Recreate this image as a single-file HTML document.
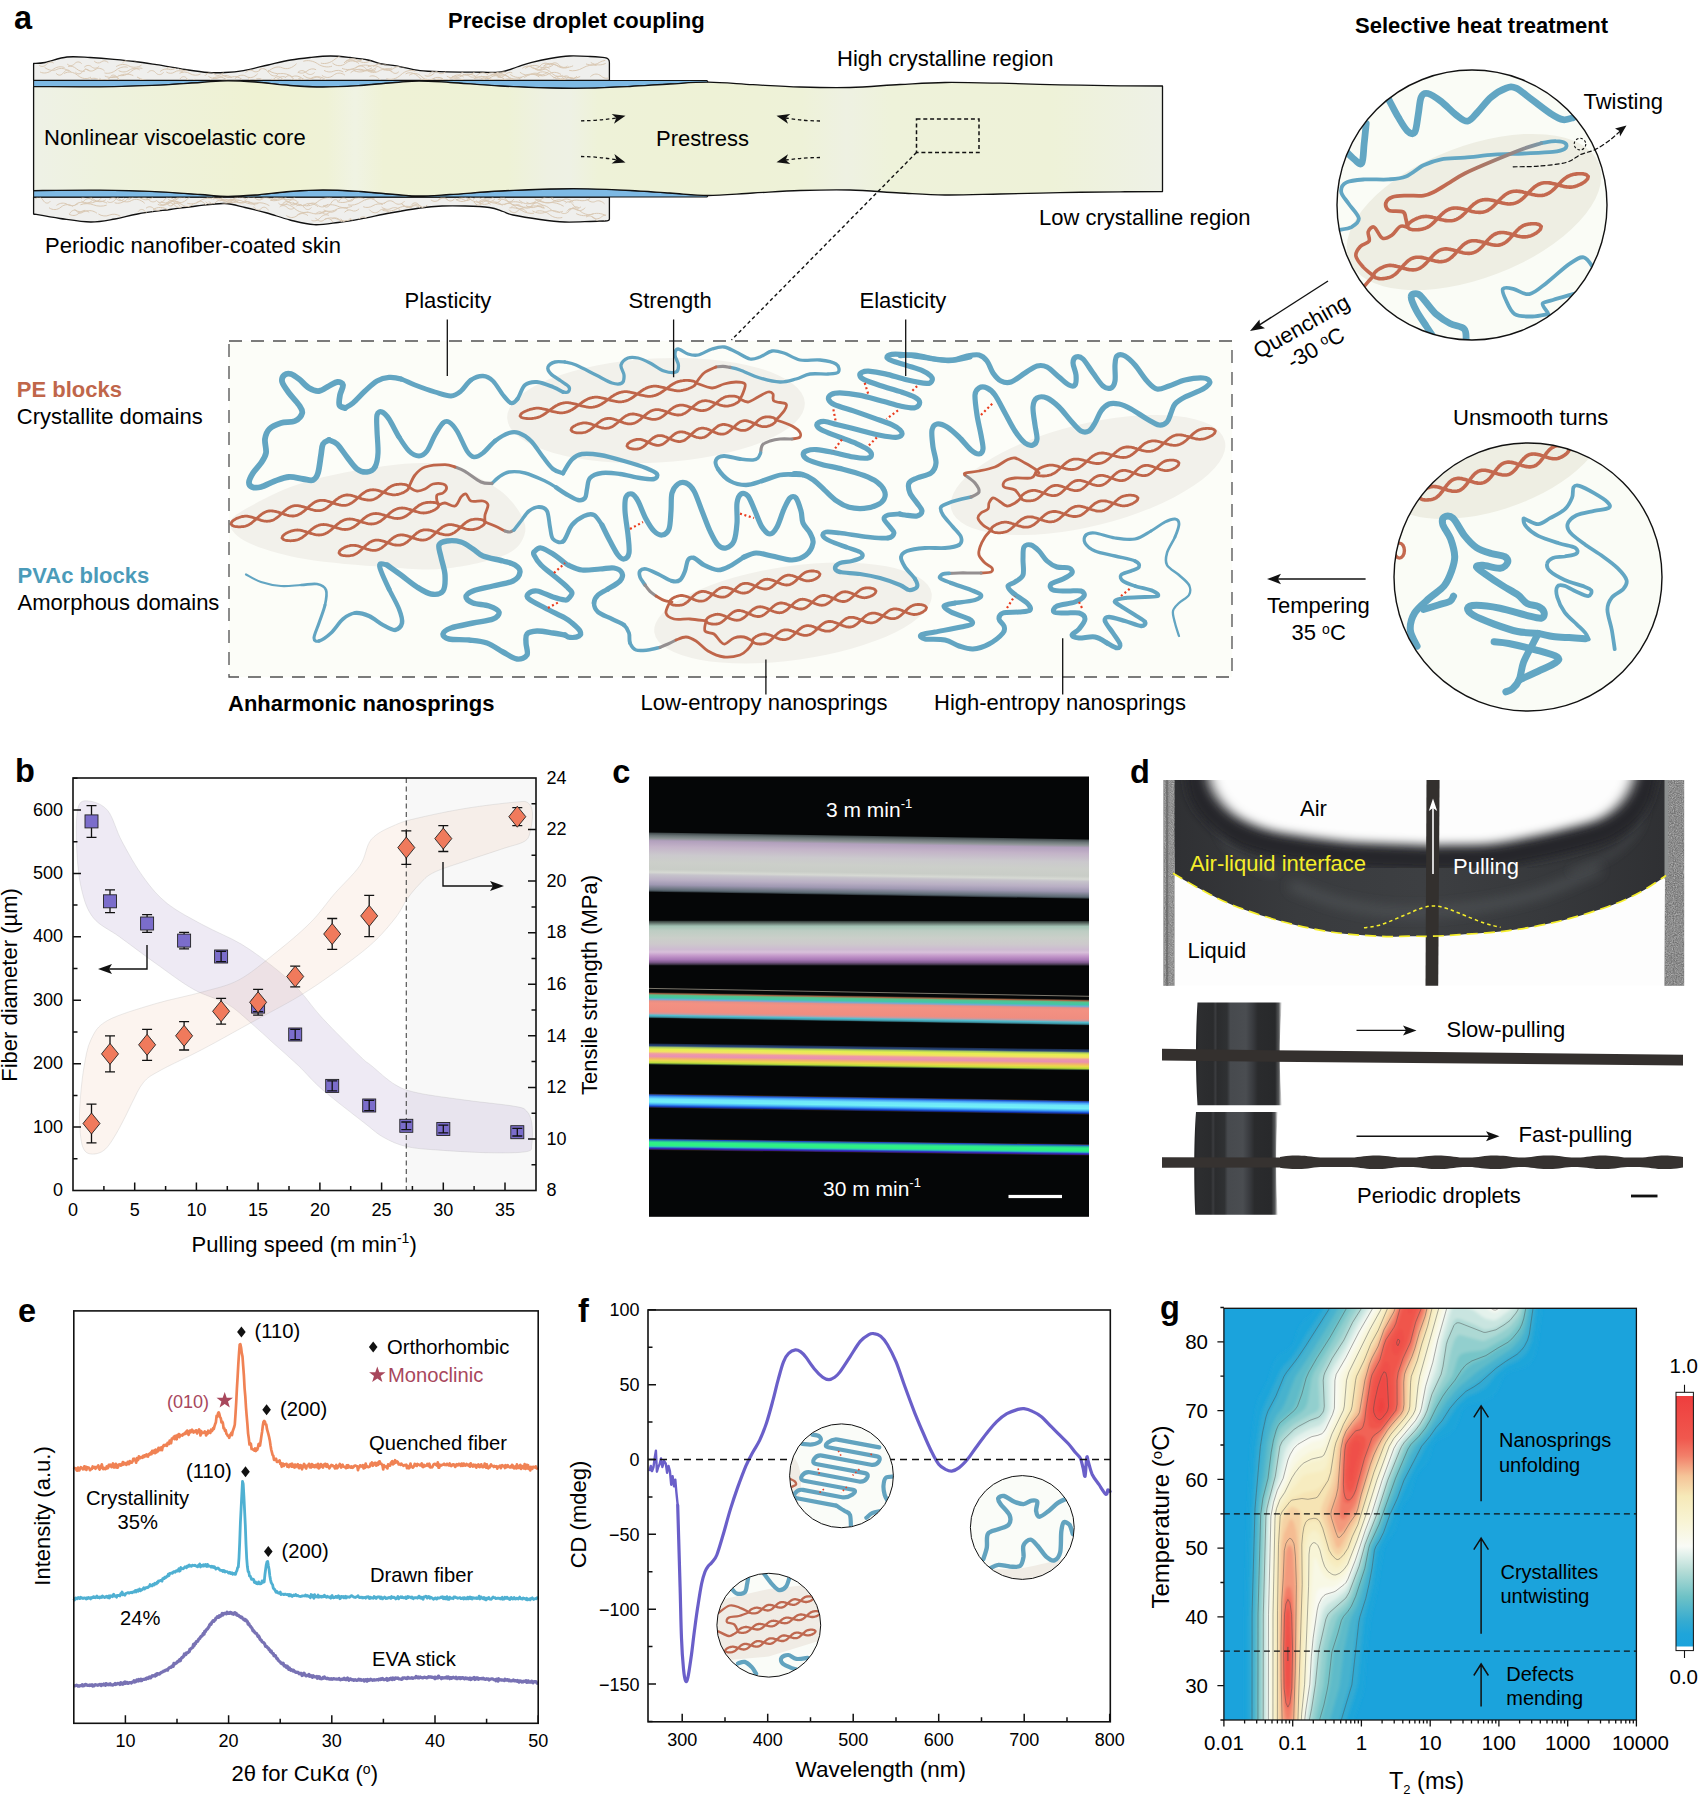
<!DOCTYPE html>
<html><head><meta charset="utf-8"><title>Figure</title>
<style>
html,body{margin:0;padding:0;background:#fff;}
svg{display:block;}
text{font-family:"Liberation Sans",sans-serif;fill:#000;}
.b{font-weight:bold;}
.lbl{font-weight:bold;font-size:32.5px;}
</style></head><body>
<svg width="1700" height="1803" viewBox="0 0 1700 1803">
<defs>

<linearGradient id="acore" x1="33" y1="0" x2="1163" y2="0" gradientUnits="userSpaceOnUse"><stop offset="0" stop-color="#eef1e6"/><stop offset="0.06" stop-color="#eef2de"/><stop offset="0.2" stop-color="#eff2d3"/><stop offset="0.26" stop-color="#eff2d6"/><stop offset="0.285" stop-color="#f0f3e3"/><stop offset="0.31" stop-color="#eff2d6"/><stop offset="0.42" stop-color="#eef2d6"/><stop offset="0.455" stop-color="#eef1e2"/><stop offset="0.475" stop-color="#eef1e4"/><stop offset="0.5" stop-color="#eef2d8"/><stop offset="0.6" stop-color="#eef2d6"/><stop offset="0.68" stop-color="#eef2d8"/><stop offset="0.72" stop-color="#eef1e2"/><stop offset="0.76" stop-color="#eef2da"/><stop offset="0.9" stop-color="#eef2d8"/><stop offset="1" stop-color="#eef1e6"/></linearGradient>
<clipPath id="askin"><path d="M33.6,63.5 C35.5,63.3,39.4,63.6,45.0,62.5 C50.6,61.4,59.5,57.8,67.0,57.0 C74.5,56.2,82.2,57.1,90.0,57.5 C97.8,57.9,106.5,58.6,114.0,59.3 C121.5,60.0,127.9,60.6,135.0,61.5 C142.1,62.4,148.2,63.4,156.5,64.7 C164.8,66.0,176.4,68.2,185.0,69.5 C193.6,70.8,201.3,72.0,208.0,72.5 C214.7,73.0,219.1,72.8,225.0,72.5 C230.9,72.2,236.3,71.8,243.5,70.6 C250.7,69.3,260.1,66.8,268.0,65.0 C275.9,63.2,283.6,61.2,290.6,60.0 C297.6,58.8,303.3,58.2,310.0,57.5 C316.7,56.8,323.9,56.0,330.6,56.0 C337.3,56.0,343.8,56.8,350.0,57.5 C356.2,58.2,362.7,58.9,368.0,60.0 C373.3,61.1,377.2,63.0,382.0,64.0 C386.8,65.0,390.2,64.8,396.5,65.9 C402.8,67.0,411.6,69.6,420.0,70.6 C428.4,71.6,437.8,71.5,447.0,71.8 C456.2,72.1,466.0,72.2,475.0,72.2 C484.0,72.2,494.0,72.7,501.0,71.8 C508.0,70.9,511.9,68.6,517.0,67.0 C522.1,65.4,526.3,63.8,531.8,62.4 C537.3,61.0,543.7,59.6,550.0,58.5 C556.3,57.4,562.7,56.3,569.4,56.0 C576.1,55.7,584.1,56.2,590.0,56.5 C595.9,56.8,602.2,57.4,604.7,57.6 L609,80.5 L33.6,80.5 Z"/><path d="M33.6,214.0 C38.0,214.8,50.5,217.2,60.0,218.5 C69.5,219.8,81.4,221.9,90.6,222.0 C99.8,222.1,107.2,220.3,115.0,219.0 C122.8,217.7,128.4,215.6,137.6,214.0 C146.8,212.4,160.2,210.8,170.0,209.5 C179.8,208.2,187.4,207.0,196.5,206.0 C205.6,205.0,216.6,203.2,224.7,203.5 C232.8,203.8,237.9,205.9,245.0,207.5 C252.1,209.1,259.5,210.9,267.0,213.0 C274.5,215.1,282.2,218.1,290.0,220.0 C297.8,221.9,306.0,224.3,314.0,224.7 C322.0,225.1,330.2,223.5,338.0,222.5 C345.8,221.5,352.3,220.4,361.0,218.8 C369.7,217.2,380.2,214.8,390.0,213.0 C399.8,211.2,411.3,209.2,420.0,208.0 C428.7,206.8,434.5,206.3,442.0,206.0 C449.5,205.7,457.1,205.8,465.0,206.0 C472.9,206.2,483.1,206.6,489.4,207.5 C495.7,208.4,499.1,210.2,503.0,211.5 C506.9,212.8,506.8,213.7,513.0,215.0 C519.2,216.3,531.4,218.3,540.0,219.5 C548.6,220.7,556.4,221.7,564.7,222.0 C573.0,222.3,583.3,221.7,590.0,221.5 C596.7,221.3,602.5,221.1,605.0,221.0 L609,197 L33.6,197 Z"/></clipPath>
<clipPath id="ac1"><circle cx="1472.0" cy="205.0" r="135.0"/></clipPath>
<clipPath id="ac2"><circle cx="1528.0" cy="577.0" r="134.0"/></clipPath>
<linearGradient id="agr1" gradientUnits="userSpaceOnUse" x1="1560" y1="140" x2="1440" y2="185"><stop offset="0" stop-color="#62a6c3"/><stop offset="0.25" stop-color="#8a8f96"/><stop offset="0.6" stop-color="#a87868"/><stop offset="1" stop-color="#c4694f"/></linearGradient>

<linearGradient id="cg0" x1="0" y1="0" x2="0" y2="1"><stop offset="0.000" stop-color="#3a4244"/><stop offset="0.050" stop-color="#6a7476"/><stop offset="0.100" stop-color="#8e9496"/><stop offset="0.140" stop-color="#b2a0bd"/><stop offset="0.240" stop-color="#c3b3c8"/><stop offset="0.380" stop-color="#cbc9cd"/><stop offset="0.500" stop-color="#cccfca"/><stop offset="0.620" stop-color="#c9cdc7"/><stop offset="0.670" stop-color="#d6d9d3"/><stop offset="0.710" stop-color="#c6c3cb"/><stop offset="0.800" stop-color="#b9afc4"/><stop offset="0.880" stop-color="#9f98b2"/><stop offset="0.930" stop-color="#7b8090"/><stop offset="0.970" stop-color="#5d6a74"/><stop offset="1.000" stop-color="#2a3238"/></linearGradient>
<linearGradient id="cg1" x1="0" y1="0" x2="0" y2="1"><stop offset="0.000" stop-color="#2c3432"/><stop offset="0.050" stop-color="#5f6f68"/><stop offset="0.120" stop-color="#a3c2b4"/><stop offset="0.220" stop-color="#bdcdc3"/><stop offset="0.380" stop-color="#cacfc9"/><stop offset="0.520" stop-color="#cdc9cc"/><stop offset="0.640" stop-color="#cdbbd1"/><stop offset="0.700" stop-color="#d8c0da"/><stop offset="0.780" stop-color="#c59acb"/><stop offset="0.870" stop-color="#a878b6"/><stop offset="0.930" stop-color="#7e5a8c"/><stop offset="0.970" stop-color="#4a3a54"/><stop offset="1.000" stop-color="#1a1820"/></linearGradient>
<linearGradient id="cg2" x1="0" y1="0" x2="0" y2="1"><stop offset="0.000" stop-color="#2a2018"/><stop offset="0.050" stop-color="#a86848"/><stop offset="0.100" stop-color="#58c08a"/><stop offset="0.200" stop-color="#3fc8a8"/><stop offset="0.270" stop-color="#7aa6d2"/><stop offset="0.330" stop-color="#e68f86"/><stop offset="0.420" stop-color="#f39182"/><stop offset="0.750" stop-color="#f08d80"/><stop offset="0.820" stop-color="#c89aa0"/><stop offset="0.880" stop-color="#55bfd0"/><stop offset="0.950" stop-color="#3a8fa0"/><stop offset="1.000" stop-color="#101818"/></linearGradient>
<linearGradient id="cg3" x1="0" y1="0" x2="0" y2="1"><stop offset="0.000" stop-color="#182848"/><stop offset="0.100" stop-color="#28467a"/><stop offset="0.170" stop-color="#a8c860"/><stop offset="0.260" stop-color="#e4f04e"/><stop offset="0.380" stop-color="#f2e064"/><stop offset="0.480" stop-color="#ee9aa4"/><stop offset="0.600" stop-color="#e890b2"/><stop offset="0.700" stop-color="#f2b070"/><stop offset="0.800" stop-color="#ecd84c"/><stop offset="0.900" stop-color="#bede3c"/><stop offset="0.960" stop-color="#4a6a30"/><stop offset="1.000" stop-color="#081018"/></linearGradient>
<linearGradient id="cg4" x1="0" y1="0" x2="0" y2="1"><stop offset="0.000" stop-color="#3a2a18"/><stop offset="0.080" stop-color="#2050c8"/><stop offset="0.200" stop-color="#46a4f8"/><stop offset="0.360" stop-color="#6fe6fa"/><stop offset="0.580" stop-color="#72f0f6"/><stop offset="0.720" stop-color="#48b4f8"/><stop offset="0.840" stop-color="#2060e0"/><stop offset="0.930" stop-color="#102890"/><stop offset="1.000" stop-color="#2a2018"/></linearGradient>
<linearGradient id="cg5" x1="0" y1="0" x2="0" y2="1"><stop offset="0.000" stop-color="#3a2a18"/><stop offset="0.080" stop-color="#2048c0"/><stop offset="0.200" stop-color="#28b0a0"/><stop offset="0.340" stop-color="#2ef088"/><stop offset="0.580" stop-color="#30f080"/><stop offset="0.700" stop-color="#2cc8b8"/><stop offset="0.820" stop-color="#3040c8"/><stop offset="0.920" stop-color="#381890"/><stop offset="1.000" stop-color="#2a2018"/></linearGradient>
<clipPath id="dclip"><rect x="1163.2" y="779.9" width="521.1" height="205.9"/></clipPath>
<filter id="dblur" x="-10%" y="-10%" width="120%" height="120%"><feGaussianBlur stdDeviation="4"/></filter><filter id="dblur3" x="-10%" y="-20%" width="120%" height="140%"><feGaussianBlur stdDeviation="6.5 4.8"/></filter>
<filter id="dblur2" x="-20%" y="-50%" width="140%" height="200%"><feGaussianBlur stdDeviation="6"/></filter>
<filter id="dnoise" x="0" y="0" width="100%" height="100%"><feTurbulence type="fractalNoise" baseFrequency="0.9" numOctaves="2" seed="3" result="n"/><feColorMatrix in="n" type="matrix" values="0 0 0 0 0.45  0 0 0 0 0.45  0 0 0 0 0.45  0.9 0.9 0.9 0 -0.95"/><feComposite in2="SourceGraphic" operator="in"/></filter>
<linearGradient id="dliq" x1="0" y1="0" x2="1" y2="0"><stop offset="0" stop-color="#2f3033"/><stop offset="0.25" stop-color="#393b3e"/><stop offset="0.5" stop-color="#3d3f42"/><stop offset="0.75" stop-color="#37393c"/><stop offset="1" stop-color="#2f3033"/></linearGradient>
<linearGradient id="dcyl" x1="0" y1="0" x2="1" y2="0"><stop offset="0" stop-color="#1d1e20"/><stop offset="0.03" stop-color="#2d2e30"/><stop offset="0.2" stop-color="#2a2b2d"/><stop offset="0.225" stop-color="#3b3c3f"/><stop offset="0.25" stop-color="#2b2c2e"/><stop offset="0.36" stop-color="#2f3133"/><stop offset="0.40" stop-color="#474a4e"/><stop offset="0.58" stop-color="#4a4d51"/><stop offset="0.66" stop-color="#393b3f"/><stop offset="0.72" stop-color="#2a2b2d"/><stop offset="0.92" stop-color="#28292b"/><stop offset="0.965" stop-color="#3a3c3e" stop-opacity="0.85"/><stop offset="1" stop-color="#777" stop-opacity="0"/></linearGradient>

<clipPath id="fc1"><circle cx="768.8" cy="1625.2" r="51.6"/></clipPath>
<clipPath id="fc2"><circle cx="841.5" cy="1475.8" r="51.6"/></clipPath>
<clipPath id="fc3"><circle cx="1022.3" cy="1527.5" r="51.6"/></clipPath>
<clipPath id="gclip"><rect x="1223.9" y="1308.3" width="412.5" height="411.7"/></clipPath>
<filter id="gblur" x="-5%" y="-5%" width="110%" height="110%"><feGaussianBlur stdDeviation="1.6"/></filter>
<linearGradient id="gcb" x1="0" y1="0" x2="0" y2="1"><stop offset="0.000" stop-color="#ee3e3e"/><stop offset="0.170" stop-color="#f0584e"/><stop offset="0.240" stop-color="#f2806a"/><stop offset="0.320" stop-color="#f5c498"/><stop offset="0.400" stop-color="#f6e9b8"/><stop offset="0.500" stop-color="#f8f4d4"/><stop offset="0.600" stop-color="#f9fbf6"/><stop offset="0.700" stop-color="#b4dcd6"/><stop offset="0.800" stop-color="#6fc2c6"/><stop offset="0.900" stop-color="#35abd1"/><stop offset="0.950" stop-color="#1fa5da"/><stop offset="1.000" stop-color="#1ba3dc"/></linearGradient>
</defs>
<rect x="0" y="0" width="1700" height="1803" fill="#ffffff"/>
<g id="pa2">
<rect x="229" y="341" width="1003" height="336" fill="#fcfdf8"/>
<path d="M230.0,524.0 C230.0,518.0,236.5,514.0,249.0,507.0 C261.5,500.0,282.3,488.8,305.0,482.0 C327.7,475.2,361.7,468.8,385.0,466.0 C408.3,463.2,426.7,461.5,445.0,465.0 C463.3,468.5,482.5,479.0,495.0,487.0 C507.5,495.0,515.1,505.0,520.0,513.0 C524.9,521.0,526.9,528.0,524.4,535.0 C521.9,542.0,518.2,549.4,505.0,555.0 C491.8,560.6,465.0,566.6,445.0,568.6 C425.0,570.6,408.3,568.6,385.0,567.0 C361.7,565.4,327.7,563.0,305.0,559.0 C282.3,555.0,261.5,548.8,249.0,543.0 C236.5,537.2,230.0,530.0,230.0,524.0Z" fill="#f2f1eb"/>
<ellipse cx="656" cy="410.5" rx="149" ry="52" fill="#f2f1eb" transform="rotate(-3 656 410.5)"/>
<ellipse cx="793" cy="613" rx="140" ry="47" fill="#f2f1eb" transform="rotate(-8 793 613)"/>
<ellipse cx="1088" cy="475" rx="141" ry="51" fill="#f2f1eb" transform="rotate(-14 1088 475)"/>
<path d="M563.0,392.0 C561.3,391.2 557.3,388.7 553.0,387.0 C548.7,385.3 541.7,382.3 537.0,382.0 C532.3,381.7 528.3,382.2 525.0,385.0 C521.7,387.8 519.7,396.0 517.4,399.0" fill="none" stroke="#62a5c2" stroke-width="3.9" stroke-linecap="round" stroke-linejoin="round"/>
<path d="M517.4,399.0 C515.1,402.0 513.4,403.7 511.0,403.0 C508.6,402.3 506.0,398.7 503.0,395.0 C500.0,391.3 496.3,384.2 493.0,381.0 C489.7,377.8 486.7,376.2 483.0,376.0 C479.3,375.8 474.7,377.5 471.0,380.0" fill="none" stroke="#62a5c2" stroke-width="4.3" stroke-linecap="round" stroke-linejoin="round"/>
<path d="M471.0,380.0 C467.3,382.5 464.3,388.3 461.0,391.0 C457.7,393.7 455.3,395.8 451.0,396.0 C446.7,396.2 441.0,393.8 435.0,392.0 C429.0,390.2 420.7,387.2 415.0,385.0 C409.3,382.8 405.3,380.3 401.0,379.0" fill="none" stroke="#62a5c2" stroke-width="4.8" stroke-linecap="round" stroke-linejoin="round"/>
<path d="M401.0,379.0 C396.7,377.7 393.0,377.1 389.0,377.4 C385.0,377.7 381.0,378.7 377.0,381.0 C373.0,383.3 369.0,387.3 365.0,391.0 C361.0,394.7 356.3,400.2 353.0,403.0 C349.7,405.8 346.3,407.2 345.0,408.0" fill="none" stroke="#62a5c2" stroke-width="5.3" stroke-linecap="round" stroke-linejoin="round"/>
<path d="M345.0,408.0 C344.1,407.5,340.2,407.2,339.4,405.0 C338.6,402.8,339.4,398.3,340.0,395.0 C340.6,391.7,343.4,387.2,343.0,385.0 C342.6,382.8,339.7,381.8,337.4,382.0 C335.1,382.2,332.1,384.5,329.0,386.0 C325.9,387.5,322.3,390.7,319.0,391.0 C315.7,391.3,312.3,390.0,309.0,388.0 C305.7,386.0,302.0,381.3,299.0,379.0 C296.0,376.7,293.4,374.7,291.0,374.0 C288.6,373.3,285.9,373.7,284.4,375.0 C282.9,376.3,281.4,379.0,282.2,382.0 C283.0,385.0,286.2,389.2,289.0,393.0 C291.8,396.8,296.8,401.7,299.0,405.0 C301.2,408.3,302.9,410.3,302.2,413.0 C301.5,415.7,298.5,419.3,295.0,421.0 C291.5,422.7,285.3,421.7,281.0,423.0 C276.7,424.3,272.1,426.3,269.4,429.0 C266.7,431.7,265.6,435.0,265.0,439.0 C264.4,443.0,266.7,449.0,266.0,453.0 C265.3,457.0,263.2,459.7,261.0,463.0 C258.8,466.3,255.0,469.8,253.0,473.0 C251.0,476.2,249.2,479.7,249.0,482.0 C248.8,484.3,250.0,486.2,252.0,487.0 C254.0,487.8,257.2,488.0,261.0,487.0 C264.8,486.0,270.3,482.7,275.0,481.0 C279.7,479.3,284.3,477.3,289.0,477.0 C293.7,476.7,299.0,478.5,303.0,479.0 C307.0,479.5,310.5,481.0,313.0,480.0 C315.5,479.0,316.7,477.2,318.0,473.0 C319.3,468.8,320.2,459.8,321.0,455.0 C321.8,450.2,321.7,446.5,323.0,444.0 C324.3,441.5,328.0,440.7,329.0,440.0" fill="none" stroke="#62a5c2" stroke-width="5.8" stroke-linecap="round" stroke-linejoin="round" />
<path d="M329.0,440.0 C330.3,440.7 334.0,441.2 337.0,444.0 C340.0,446.8 343.7,452.8 347.0,457.0 C350.3,461.2 353.7,466.5 357.0,469.0 C360.3,471.5 364.0,472.3 367.0,472.0 C370.0,471.7 373.2,470.2 375.0,467.0" fill="none" stroke="#62a5c2" stroke-width="5.5" stroke-linecap="round" stroke-linejoin="round"/>
<path d="M375.0,467.0 C376.8,463.8 377.7,459.0 378.0,453.0 C378.3,447.0 377.2,437.3 377.0,431.0 C376.8,424.7 376.2,418.2 377.0,415.0 C377.8,411.8 380.0,411.3 382.0,412.0 C384.0,412.7 386.2,414.8 389.0,419.0 C391.8,423.2 395.7,431.7 399.0,437.0" fill="none" stroke="#62a5c2" stroke-width="5.2" stroke-linecap="round" stroke-linejoin="round"/>
<path d="M399.0,437.0 C402.3,442.3 405.7,447.8 409.0,451.0 C412.3,454.2 416.0,456.0 419.0,456.0 C422.0,456.0 424.3,454.5 427.0,451.0 C429.7,447.5 432.3,439.7 435.0,435.0 C437.7,430.3 440.7,425.2 443.0,423.0" fill="none" stroke="#62a5c2" stroke-width="4.9" stroke-linecap="round" stroke-linejoin="round"/>
<path d="M443.0,423.0 C445.3,420.8 446.7,420.7 449.0,422.0 C451.3,423.3 454.0,426.2 457.0,431.0 C460.0,435.8 464.2,446.7 467.0,451.0 C469.8,455.3 471.3,456.7 474.0,457.0 C476.7,457.3 479.5,455.7 483.0,453.0 C486.5,450.3 490.7,444.3 495.0,441.0" fill="none" stroke="#62a5c2" stroke-width="4.6" stroke-linecap="round" stroke-linejoin="round"/>
<path d="M495.0,441.0 C499.3,437.7 505.0,434.3 509.0,433.0 C513.0,431.7 515.3,431.7 519.0,433.0 C522.7,434.3 527.0,437.0 531.0,441.0 C535.0,445.0 539.3,452.3 543.0,457.0 C546.7,461.7 549.7,466.3 553.0,469.0 C556.3,471.7 561.3,472.7 563.0,473.4" fill="none" stroke="#62a5c2" stroke-width="4.3" stroke-linecap="round" stroke-linejoin="round"/>
<path d="M563.0,392.0 C563.8,392.0,567.0,392.8,568.0,392.0 C569.0,391.2,570.2,388.8,569.0,387.0 C567.8,385.2,564.0,383.2,561.0,381.0 C558.0,378.8,553.2,376.3,551.0,374.0 C548.8,371.7,547.3,369.0,548.0,367.0 C548.7,365.0,552.2,362.8,555.0,362.0 C557.8,361.2,563.3,362.0,565.0,362.0" fill="none" stroke="#62a5c2" stroke-width="3.4" stroke-linecap="round" stroke-linejoin="round" />
<path d="M565.0,362.0 C566.8,362.5,570.8,362.8,576.0,365.0 C581.2,367.2,590.0,372.0,596.0,375.0 C602.0,378.0,607.7,381.7,612.0,383.0 C616.3,384.3,620.0,384.3,622.0,383.0 C624.0,381.7,624.2,378.0,624.0,375.0 C623.8,372.0,620.3,367.8,621.0,365.0 C621.7,362.2,625.2,359.2,628.0,358.0 C630.8,356.8,634.3,357.2,638.0,358.0 C641.7,358.8,645.7,360.8,650.0,363.0 C654.3,365.2,659.7,369.5,664.0,371.0 C668.3,372.5,673.6,373.0,676.0,372.0 C678.4,371.0,678.6,367.8,678.4,365.0 C678.2,362.2,675.1,357.7,675.0,355.0 C674.9,352.3,675.8,349.2,678.0,349.0 C680.2,348.8,684.7,353.0,688.0,354.0 C691.3,355.0,694.0,355.8,698.0,355.0 C702.0,354.2,707.7,350.3,712.0,349.0 C716.3,347.7,720.0,346.5,724.0,347.0 C728.0,347.5,731.7,350.0,736.0,352.0 C740.3,354.0,746.0,358.2,750.0,359.0 C754.0,359.8,756.3,358.3,760.0,357.0 C763.7,355.7,768.0,351.7,772.0,351.0 C776.0,350.3,779.3,351.5,784.0,353.0 C788.7,354.5,794.0,358.8,800.0,360.0 C806.0,361.2,814.0,359.3,820.0,360.0 C826.0,360.7,832.9,362.0,836.0,364.0 C839.1,366.0,839.7,370.3,838.4,372.0 C837.1,373.7,832.7,373.7,828.0,374.0 C823.3,374.3,815.3,373.2,810.0,374.0 C804.7,374.8,801.0,377.7,796.0,379.0 C791.0,380.3,786.0,382.2,780.0,382.0 C774.0,381.8,766.7,380.0,760.0,378.0 C753.3,376.0,745.0,371.8,740.0,370.0 C735.0,368.2,731.7,367.8,730.0,367.4" fill="none" stroke="#62a5c2" stroke-width="3.3" stroke-linecap="round" stroke-linejoin="round" />
<path d="M730.0,367.4 C728.8,367.2,725.3,366.5,723.0,366.4 C720.7,366.3,717.2,366.9,716.0,367.0" fill="none" stroke="#948f90" stroke-width="3.1" stroke-linecap="round" stroke-linejoin="round" />
<path d="M716.0,367.0 C714.0,368.0,707.3,370.3,704.0,373.0 C700.7,375.7,697.3,381.3,696.0,383.0" fill="none" stroke="#bf6549" stroke-width="2.8" stroke-linecap="round" stroke-linejoin="round" />
<path d="M563.0,473.0 C564.5,470.7,568.8,462.6,572.0,459.4 C575.2,456.2,577.3,454.7,582.0,454.0 C586.7,453.3,593.0,453.8,600.0,455.0 C607.0,456.2,616.3,458.8,624.0,461.0 C631.7,463.2,640.5,465.8,646.0,468.0 C651.5,470.2,655.7,472.2,657.0,474.0 C658.3,475.8,656.8,478.3,654.0,479.0 C651.2,479.7,645.7,478.8,640.0,478.0 C634.3,477.2,626.3,474.8,620.0,474.0 C613.7,473.2,607.0,472.3,602.0,473.0 C597.0,473.7,592.5,475.3,590.0,478.0 C587.5,480.7,587.8,485.7,587.0,489.0 C586.2,492.3,586.5,496.2,585.0,498.0 C583.5,499.8,581.2,500.7,578.0,500.0 C574.8,499.3,569.7,496.1,566.0,494.0 C562.3,491.9,557.7,488.5,556.0,487.4" fill="none" stroke="#62a5c2" stroke-width="4.4" stroke-linecap="round" stroke-linejoin="round" />
<path d="M556.0,487.4 C554.2,486.3,550.2,483.4,545.0,481.0 C539.8,478.6,531.0,474.5,525.0,473.0 C519.0,471.5,513.3,471.3,509.0,472.0 C504.7,472.7,501.8,475.1,499.0,477.0 C496.2,478.9,493.2,482.3,492.0,483.4" fill="none" stroke="#62a5c2" stroke-width="3.4" stroke-linecap="round" stroke-linejoin="round" />
<path d="M492.0,483.4 C490.2,483.2,485.5,484.0,481.0,482.0 C476.5,480.0,469.3,473.9,465.0,471.4 C460.7,468.9,456.7,467.7,455.0,467.0" fill="none" stroke="#948f90" stroke-width="3.1" stroke-linecap="round" stroke-linejoin="round" />
<path d="M455.0,467.0 C453.3,466.6,450.0,464.6,445.0,464.6 C440.0,464.6,430.0,465.3,425.0,467.0 C420.0,468.7,417.7,471.7,415.0,475.0 C412.3,478.3,410.0,485.0,409.0,487.0" fill="none" stroke="#bf6549" stroke-width="2.8" stroke-linecap="round" stroke-linejoin="round" />
<path d="M231.0,524.0 L232.4,525.5 L233.6,526.1 L234.8,526.4 L236.0,526.6 L237.1,526.7 L238.2,526.8 L239.3,526.8 L240.4,526.8 L241.5,526.7 L242.6,526.6 L243.7,526.5 L244.7,526.3 L245.8,526.0 L246.8,525.6 L247.8,525.2 L248.8,524.7 L249.8,524.1 L250.8,523.5 L251.8,522.8 L252.7,522.0 L253.6,521.2 L254.6,520.4 L255.5,519.6 L256.4,518.7 L257.4,517.9 L258.3,517.0 L259.2,516.2 L260.2,515.4 L261.1,514.6 L262.1,513.9 L263.0,513.3 L264.0,512.7 L265.0,512.2 L266.0,511.8 L267.1,511.4 L268.1,511.2 L269.2,511.0 L270.3,510.9 L271.4,510.9 L272.5,511.0 L273.6,511.1 L274.8,511.3 L275.9,511.5 L277.1,511.9 L278.3,512.2 L279.5,512.6 L280.7,513.0 L281.9,513.4 L283.0,513.8 L284.2,514.3 L285.4,514.6 L286.6,515.0 L287.8,515.3 L288.9,515.6 L290.1,515.8 L291.2,515.9 L292.3,516.0 L293.4,516.0 L294.5,515.9 L295.6,515.7 L296.6,515.4 L297.7,515.1 L298.7,514.6 L299.7,514.1 L300.7,513.6 L301.6,512.9 L302.6,512.2 L303.6,511.5 L304.5,510.7 L305.4,509.9 L306.4,509.0 L307.3,508.1 L308.2,507.3 L309.1,506.4 L310.1,505.6 L311.0,504.8 L312.0,504.1 L312.9,503.4 L313.9,502.7 L314.9,502.1 L315.9,501.6 L316.9,501.2 L317.9,500.9 L319.0,500.6 L320.1,500.4 L321.1,500.3 L322.2,500.3 L323.4,500.4 L324.5,500.5 L325.6,500.7 L326.8,501.0 L328.0,501.3 L329.1,501.6 L330.3,502.0 L331.5,502.4 L332.7,502.9 L333.9,503.3 L335.1,503.7 L336.3,504.1 L337.5,504.4 L338.6,504.7 L339.8,505.0 L340.9,505.2 L342.1,505.3 L343.2,505.4 L344.3,505.4 L345.4,505.3 L346.4,505.1 L347.5,504.8 L348.5,504.5 L349.5,504.1 L350.5,503.6 L351.5,503.0 L352.5,502.4 L353.5,501.7 L354.4,500.9 L355.4,500.1 L356.3,499.3 L357.2,498.4 L358.1,497.6 L359.1,496.7 L360.0,495.9 L360.9,495.0 L361.9,494.2 L362.8,493.5 L363.8,492.8 L364.8,492.1 L365.7,491.6 L366.7,491.1 L367.8,490.6 L368.8,490.3 L369.8,490.0 L370.9,489.9 L372.0,489.8 L373.1,489.7 L374.2,489.8 L375.3,489.9 L376.5,490.1 L377.7,490.4 L378.8,490.7 L380.0,491.1 L381.2,491.5 L382.4,491.9 L383.6,492.3 L384.8,492.7 L386.0,493.1 L387.1,493.5 L388.3,493.9 L389.5,494.2 L390.6,494.4 L391.8,494.6 L392.9,494.8 L394.0,494.8 L395.1,494.8 L396.2,494.7 L397.3,494.5 L398.4,494.3 L399.4,494.0 L400.4,493.7 L401.5,493.3 L402.5,492.9 L403.5,492.4 L404.5,491.9 L405.5,491.3 L406.5,490.7 L407.4,489.9 L408.3,489.0 L409.0,487.0 M231.0,524.0 L231.7,522.0 L232.6,521.1 L233.5,520.3 L234.5,519.7 L235.5,519.1 L236.5,518.6 L237.5,518.1 L238.5,517.7 L239.6,517.3 L240.6,517.0 L241.6,516.7 L242.7,516.5 L243.8,516.3 L244.9,516.2 L246.0,516.2 L247.1,516.2 L248.2,516.4 L249.4,516.6 L250.5,516.8 L251.7,517.1 L252.9,517.5 L254.0,517.9 L255.2,518.3 L256.4,518.7 L257.6,519.1 L258.8,519.5 L260.0,519.9 L261.2,520.3 L262.3,520.6 L263.5,520.9 L264.7,521.1 L265.8,521.2 L266.9,521.3 L268.0,521.2 L269.1,521.1 L270.2,521.0 L271.2,520.7 L272.2,520.4 L273.3,519.9 L274.3,519.4 L275.2,518.9 L276.2,518.2 L277.2,517.5 L278.1,516.8 L279.1,516.0 L280.0,515.1 L280.9,514.3 L281.9,513.4 L282.8,512.6 L283.7,511.7 L284.6,510.9 L285.6,510.1 L286.5,509.3 L287.5,508.6 L288.5,508.0 L289.5,507.4 L290.5,506.9 L291.5,506.5 L292.5,506.2 L293.6,505.9 L294.6,505.7 L295.7,505.6 L296.8,505.6 L297.9,505.7 L299.1,505.8 L300.2,506.0 L301.4,506.3 L302.5,506.6 L303.7,506.9 L304.9,507.3 L306.1,507.7 L307.3,508.1 L308.5,508.6 L309.7,509.0 L310.9,509.4 L312.0,509.7 L313.2,510.0 L314.4,510.3 L315.5,510.5 L316.6,510.6 L317.8,510.7 L318.9,510.7 L319.9,510.6 L321.0,510.4 L322.1,510.1 L323.1,509.8 L324.1,509.4 L325.1,508.9 L326.1,508.3 L327.1,507.6 L328.0,506.9 L329.0,506.2 L329.9,505.4 L330.9,504.6 L331.8,503.7 L332.7,502.9 L333.6,502.0 L334.6,501.1 L335.5,500.3 L336.4,499.5 L337.4,498.8 L338.4,498.1 L339.3,497.4 L340.3,496.9 L341.3,496.4 L342.3,495.9 L343.4,495.6 L344.4,495.3 L345.5,495.1 L346.6,495.0 L347.7,495.0 L348.8,495.1 L349.9,495.2 L351.1,495.4 L352.2,495.7 L353.4,496.0 L354.6,496.4 L355.8,496.7 L357.0,497.2 L358.1,497.6 L359.3,498.0 L360.5,498.4 L361.7,498.8 L362.9,499.1 L364.1,499.5 L365.2,499.7 L366.4,499.9 L367.5,500.0 L368.6,500.1 L369.7,500.1 L370.8,500.0 L371.9,499.8 L372.9,499.6 L374.0,499.2 L375.0,498.8 L376.0,498.3 L377.0,497.7 L377.9,497.1 L378.9,496.4 L379.8,495.6 L380.8,494.8 L381.7,494.0 L382.6,493.1 L383.6,492.3 L384.5,491.4 L385.4,490.6 L386.4,489.8 L387.3,489.0 L388.2,488.2 L389.2,487.5 L390.2,486.9 L391.2,486.3 L392.2,485.8 L393.2,485.4 L394.2,485.0 L395.3,484.7 L396.3,484.5 L397.4,484.4 L398.5,484.3 L399.6,484.2 L400.7,484.2 L401.8,484.2 L402.9,484.3 L404.0,484.4 L405.2,484.6 L406.4,484.9 L407.6,485.5 L409.0,487.0" fill="none" stroke="#bf6549" stroke-width="2.8" stroke-linecap="round" stroke-linejoin="round"/>
<path d="M282.0,538.0 L283.5,539.5 L284.7,540.0 L285.9,540.3 L287.1,540.5 L288.3,540.7 L289.4,540.7 L290.5,540.8 L291.7,540.7 L292.8,540.6 L293.9,540.5 L295.0,540.4 L296.1,540.1 L297.2,539.9 L298.3,539.5 L299.3,539.1 L300.3,538.6 L301.4,538.0 L302.4,537.3 L303.3,536.6 L304.3,535.9 L305.3,535.1 L306.3,534.2 L307.2,533.4 L308.2,532.5 L309.1,531.6 L310.1,530.8 L311.0,529.9 L312.0,529.1 L313.0,528.4 L314.0,527.7 L315.0,527.0 L316.0,526.4 L317.0,525.9 L318.1,525.5 L319.1,525.1 L320.2,524.9 L321.3,524.7 L322.4,524.6 L323.6,524.5 L324.7,524.6 L325.9,524.7 L327.1,524.9 L328.3,525.2 L329.5,525.5 L330.7,525.8 L331.9,526.2 L333.1,526.6 L334.3,527.0 L335.6,527.4 L336.8,527.8 L338.0,528.2 L339.2,528.5 L340.4,528.8 L341.6,529.1 L342.8,529.3 L343.9,529.4 L345.1,529.5 L346.2,529.4 L347.3,529.3 L348.4,529.1 L349.5,528.9 L350.6,528.5 L351.6,528.1 L352.7,527.6 L353.7,527.0 L354.7,526.3 L355.7,525.6 L356.7,524.9 L357.6,524.1 L358.6,523.2 L359.5,522.4 L360.5,521.5 L361.5,520.6 L362.4,519.8 L363.4,518.9 L364.3,518.1 L365.3,517.4 L366.3,516.7 L367.3,516.0 L368.3,515.4 L369.4,514.9 L370.4,514.5 L371.5,514.1 L372.6,513.9 L373.7,513.7 L374.8,513.6 L375.9,513.5 L377.1,513.6 L378.2,513.7 L379.4,513.9 L380.6,514.2 L381.8,514.5 L383.0,514.8 L384.2,515.2 L385.4,515.6 L386.7,516.0 L387.9,516.4 L389.1,516.8 L390.3,517.2 L391.5,517.5 L392.7,517.8 L393.9,518.1 L395.1,518.3 L396.3,518.4 L397.4,518.5 L398.6,518.4 L399.7,518.3 L400.8,518.1 L401.9,517.9 L402.9,517.5 L404.0,517.1 L405.0,516.6 L406.0,516.0 L407.0,515.3 L408.0,514.6 L409.0,513.9 L410.0,513.1 L410.9,512.2 L411.9,511.4 L412.8,510.5 L413.8,509.6 L414.7,508.8 L415.7,507.9 L416.7,507.1 L417.7,506.4 L418.6,505.7 L419.6,505.0 L420.7,504.4 L421.7,503.9 L422.7,503.5 L423.8,503.1 L424.9,502.9 L426.0,502.6 L427.1,502.5 L428.2,502.4 L429.3,502.3 L430.5,502.2 L431.6,502.3 L432.7,502.3 L433.9,502.5 L435.1,502.7 L436.3,503.0 L437.5,503.5 L439.0,505.0 M282.0,538.0 L282.7,536.0 L283.7,535.1 L284.6,534.3 L285.6,533.6 L286.6,533.0 L287.7,532.5 L288.7,532.0 L289.8,531.6 L290.8,531.2 L291.9,530.9 L293.0,530.6 L294.1,530.4 L295.2,530.2 L296.3,530.1 L297.4,530.0 L298.6,530.1 L299.7,530.2 L300.9,530.4 L302.1,530.7 L303.3,531.0 L304.5,531.3 L305.7,531.7 L306.9,532.1 L308.2,532.5 L309.4,532.9 L310.6,533.3 L311.8,533.7 L313.0,534.0 L314.2,534.3 L315.4,534.6 L316.6,534.8 L317.8,534.9 L318.9,535.0 L320.1,534.9 L321.2,534.8 L322.3,534.6 L323.4,534.4 L324.4,534.0 L325.5,533.6 L326.5,533.1 L327.5,532.5 L328.5,531.8 L329.5,531.1 L330.5,530.4 L331.5,529.6 L332.4,528.7 L333.4,527.9 L334.3,527.0 L335.3,526.1 L336.2,525.3 L337.2,524.4 L338.2,523.6 L339.2,522.9 L340.1,522.2 L341.1,521.5 L342.2,520.9 L343.2,520.4 L344.2,520.0 L345.3,519.6 L346.4,519.4 L347.5,519.2 L348.6,519.1 L349.7,519.0 L350.9,519.1 L352.1,519.2 L353.2,519.4 L354.4,519.7 L355.6,520.0 L356.8,520.3 L358.1,520.7 L359.3,521.1 L360.5,521.5 L361.7,521.9 L362.9,522.3 L364.2,522.7 L365.4,523.0 L366.6,523.3 L367.8,523.6 L368.9,523.8 L370.1,523.9 L371.3,524.0 L372.4,523.9 L373.5,523.8 L374.6,523.6 L375.7,523.4 L376.8,523.0 L377.8,522.6 L378.8,522.1 L379.9,521.5 L380.9,520.8 L381.8,520.1 L382.8,519.4 L383.8,518.6 L384.8,517.7 L385.7,516.9 L386.7,516.0 L387.6,515.1 L388.6,514.3 L389.5,513.4 L390.5,512.6 L391.5,511.9 L392.5,511.2 L393.5,510.5 L394.5,509.9 L395.5,509.4 L396.6,509.0 L397.6,508.6 L398.7,508.4 L399.8,508.2 L400.9,508.1 L402.1,508.0 L403.2,508.1 L404.4,508.2 L405.6,508.4 L406.8,508.7 L408.0,509.0 L409.2,509.3 L410.4,509.7 L411.6,510.1 L412.8,510.5 L414.1,510.9 L415.3,511.3 L416.5,511.7 L417.7,512.0 L418.9,512.3 L420.1,512.6 L421.3,512.8 L422.4,512.9 L423.6,513.0 L424.7,512.9 L425.8,512.8 L426.9,512.6 L428.0,512.4 L429.1,512.1 L430.2,511.8 L431.2,511.4 L432.3,511.0 L433.3,510.5 L434.4,510.0 L435.4,509.4 L436.4,508.7 L437.3,507.9 L438.3,507.0 L439.0,505.0" fill="none" stroke="#bf6549" stroke-width="2.8" stroke-linecap="round" stroke-linejoin="round"/>
<path d="M339.0,553.0 L340.4,554.6 L341.6,555.1 L342.7,555.4 L343.8,555.6 L344.9,555.7 L346.0,555.8 L347.0,555.8 L348.1,555.8 L349.1,555.8 L350.2,555.7 L351.2,555.5 L352.2,555.3 L353.2,555.1 L354.2,554.7 L355.2,554.3 L356.1,553.8 L357.1,553.2 L358.0,552.6 L358.9,551.9 L359.8,551.1 L360.7,550.4 L361.6,549.5 L362.5,548.7 L363.3,547.8 L364.2,547.0 L365.1,546.1 L366.0,545.3 L366.9,544.5 L367.8,543.8 L368.7,543.1 L369.6,542.4 L370.5,541.9 L371.5,541.4 L372.5,541.0 L373.5,540.6 L374.5,540.4 L375.5,540.2 L376.5,540.1 L377.6,540.1 L378.7,540.2 L379.7,540.3 L380.8,540.5 L382.0,540.8 L383.1,541.1 L384.2,541.4 L385.4,541.8 L386.5,542.2 L387.7,542.7 L388.8,543.1 L390.0,543.5 L391.1,543.9 L392.2,544.3 L393.4,544.6 L394.5,544.8 L395.6,545.0 L396.7,545.2 L397.8,545.2 L398.8,545.2 L399.8,545.1 L400.9,545.0 L401.9,544.7 L402.9,544.4 L403.8,544.0 L404.8,543.5 L405.7,542.9 L406.7,542.3 L407.6,541.6 L408.5,540.8 L409.4,540.0 L410.2,539.2 L411.1,538.4 L412.0,537.5 L412.9,536.6 L413.8,535.8 L414.6,535.0 L415.5,534.2 L416.4,533.4 L417.3,532.7 L418.3,532.1 L419.2,531.5 L420.2,531.0 L421.1,530.6 L422.1,530.3 L423.1,530.0 L424.2,529.9 L425.2,529.8 L426.2,529.8 L427.3,529.8 L428.4,530.0 L429.5,530.2 L430.6,530.4 L431.8,530.7 L432.9,531.1 L434.0,531.5 L435.2,531.9 L436.3,532.3 L437.5,532.8 L438.6,533.2 L439.8,533.6 L440.9,533.9 L442.0,534.2 L443.2,534.5 L444.3,534.7 L445.3,534.8 L446.4,534.9 L447.5,534.9 L448.5,534.8 L449.5,534.6 L450.5,534.4 L451.5,534.0 L452.5,533.6 L453.5,533.1 L454.4,532.6 L455.3,531.9 L456.2,531.2 L457.1,530.5 L458.0,529.7 L458.9,528.9 L459.8,528.0 L460.7,527.2 L461.5,526.3 L462.4,525.5 L463.3,524.6 L464.2,523.9 L465.1,523.1 L466.0,522.4 L466.9,521.8 L467.9,521.2 L468.8,520.7 L469.8,520.3 L470.8,519.9 L471.8,519.7 L472.8,519.5 L473.8,519.3 L474.9,519.2 L475.9,519.2 L477.0,519.2 L478.0,519.2 L479.1,519.3 L480.2,519.4 L481.3,519.6 L482.4,519.9 L483.6,520.4 L485.0,522.0 M339.0,553.0 L339.6,551.0 L340.5,550.1 L341.4,549.3 L342.3,548.7 L343.3,548.1 L344.2,547.6 L345.2,547.1 L346.1,546.7 L347.1,546.4 L348.1,546.0 L349.1,545.8 L350.1,545.5 L351.2,545.4 L352.2,545.3 L353.2,545.3 L354.3,545.3 L355.4,545.5 L356.5,545.7 L357.6,545.9 L358.8,546.2 L359.9,546.6 L361.0,547.0 L362.2,547.4 L363.3,547.8 L364.5,548.3 L365.6,548.7 L366.8,549.1 L367.9,549.4 L369.0,549.7 L370.2,550.0 L371.3,550.2 L372.3,550.3 L373.4,550.4 L374.5,550.4 L375.5,550.3 L376.5,550.1 L377.5,549.9 L378.5,549.5 L379.5,549.1 L380.5,548.6 L381.4,548.1 L382.3,547.4 L383.2,546.7 L384.1,546.0 L385.0,545.2 L385.9,544.4 L386.8,543.5 L387.7,542.7 L388.5,541.8 L389.4,541.0 L390.3,540.1 L391.2,539.4 L392.1,538.6 L393.0,537.9 L393.9,537.3 L394.9,536.7 L395.8,536.2 L396.8,535.8 L397.8,535.4 L398.8,535.2 L399.8,535.0 L400.9,534.9 L401.9,534.9 L403.0,535.0 L404.1,535.1 L405.2,535.3 L406.3,535.6 L407.4,535.9 L408.6,536.3 L409.7,536.7 L410.9,537.1 L412.0,537.5 L413.1,537.9 L414.3,538.3 L415.4,538.7 L416.6,539.1 L417.7,539.4 L418.8,539.7 L419.9,539.9 L421.0,540.0 L422.1,540.1 L423.1,540.1 L424.2,540.0 L425.2,539.8 L426.2,539.6 L427.2,539.2 L428.2,538.8 L429.1,538.3 L430.1,537.7 L431.0,537.1 L431.9,536.4 L432.8,535.6 L433.7,534.9 L434.6,534.0 L435.5,533.2 L436.3,532.3 L437.2,531.5 L438.1,530.6 L439.0,529.8 L439.9,529.0 L440.8,528.3 L441.7,527.6 L442.6,526.9 L443.5,526.4 L444.5,525.9 L445.5,525.5 L446.5,525.1 L447.5,524.9 L448.5,524.7 L449.5,524.6 L450.6,524.6 L451.7,524.7 L452.7,524.8 L453.8,525.0 L455.0,525.3 L456.1,525.6 L457.2,525.9 L458.4,526.3 L459.5,526.7 L460.7,527.2 L461.8,527.6 L463.0,528.0 L464.1,528.4 L465.2,528.8 L466.4,529.1 L467.5,529.3 L468.6,529.5 L469.7,529.7 L470.8,529.7 L471.8,529.7 L472.8,529.6 L473.9,529.5 L474.9,529.2 L475.9,529.0 L476.9,528.6 L477.9,528.3 L478.8,527.9 L479.8,527.4 L480.7,526.9 L481.7,526.3 L482.6,525.7 L483.5,524.9 L484.4,524.0 L485.0,522.0" fill="none" stroke="#bf6549" stroke-width="2.8" stroke-linecap="round" stroke-linejoin="round"/>
<path d="M409.0,487.0 C410.3,487.7,414.3,490.7,417.0,491.0 C419.7,491.3,422.3,490.2,425.0,489.0 C427.7,487.8,430.0,484.8,433.0,484.0 C436.0,483.2,440.7,483.3,443.0,484.0 C445.3,484.7,446.6,486.5,446.6,488.0 C446.6,489.5,444.6,491.8,443.0,493.0 C441.4,494.2,438.0,493.7,437.0,495.0 C436.0,496.3,436.7,499.3,437.0,501.0 C437.3,502.7,438.7,504.3,439.0,505.0" fill="none" stroke="#bf6549" stroke-width="2.8" stroke-linecap="round" stroke-linejoin="round" />
<path d="M439.0,505.0 C440.0,504.7,442.3,502.8,445.0,503.0 C447.7,503.2,452.3,507.0,455.0,506.0 C457.7,505.0,459.2,499.0,461.0,497.0 C462.8,495.0,464.3,493.3,466.0,494.0 C467.7,494.7,468.2,499.8,471.0,501.0 C473.8,502.2,480.2,500.3,483.0,501.0 C485.8,501.7,487.7,502.7,488.0,505.0 C488.3,507.3,485.5,512.2,485.0,515.0 C484.5,517.8,485.0,520.8,485.0,522.0" fill="none" stroke="#bf6549" stroke-width="2.8" stroke-linecap="round" stroke-linejoin="round" />
<path d="M485.0,522.0 C486.7,522.7,491.7,524.5,495.0,526.0 C498.3,527.5,503.3,530.2,505.0,531.0" fill="none" stroke="#bf6549" stroke-width="2.8" stroke-linecap="round" stroke-linejoin="round" />
<path d="M505.0,531.0 C505.8,531.2,508.5,532.2,510.0,532.0 C511.5,531.8,513.3,530.3,514.0,530.0" fill="none" stroke="#948f90" stroke-width="3.1" stroke-linecap="round" stroke-linejoin="round" />
<path d="M514.0,530.0 C515.2,528.5 518.5,524.2 521.0,521.0 C523.5,517.8 526.0,513.3 529.0,511.0 C532.0,508.7 536.0,507.0 539.0,507.0" fill="none" stroke="#62a5c2" stroke-width="3.5" stroke-linecap="round" stroke-linejoin="round"/>
<path d="M539.0,507.0 C542.0,507.0 545.2,507.7 547.0,511.0 C548.8,514.3 549.0,522.3 550.0,527.0 C551.0,531.7 550.8,536.6 553.0,539.0 C555.2,541.4 559.8,543.7 563.0,541.4" fill="none" stroke="#62a5c2" stroke-width="3.9" stroke-linecap="round" stroke-linejoin="round"/>
<path d="M563.0,541.4 C566.2,539.1 568.5,529.2 572.0,525.0 C575.5,520.8 580.3,517.7 584.0,516.0 C587.7,514.3 591.0,513.5 594.0,515.0 C597.0,516.5 600.7,523.3 602.0,525.0" fill="none" stroke="#62a5c2" stroke-width="4.4" stroke-linecap="round" stroke-linejoin="round"/>
<path d="M602.0,525.0 C603.3,527.7,607.3,536.0,610.0,541.0 C612.7,546.0,615.7,552.0,618.0,555.0 C620.3,558.0,622.2,559.3,624.0,559.0 C625.8,558.7,628.3,557.0,629.0,553.0 C629.7,549.0,628.7,542.0,628.0,535.0 C627.3,528.0,625.3,517.3,625.0,511.0 C624.7,504.7,624.8,499.8,626.0,497.0 C627.2,494.2,630.0,493.3,632.0,494.0 C634.0,494.7,635.7,496.8,638.0,501.0 C640.3,505.2,643.3,514.0,646.0,519.0 C648.7,524.0,651.3,528.3,654.0,531.0 C656.7,533.7,659.5,535.3,662.0,535.0 C664.5,534.7,667.5,533.0,669.0,529.0 C670.5,525.0,670.5,517.0,671.0,511.0 C671.5,505.0,670.8,497.5,672.0,493.0 C673.2,488.5,675.7,485.7,678.0,484.0 C680.3,482.3,683.3,481.8,686.0,483.0 C688.7,484.2,691.3,486.3,694.0,491.0 C696.7,495.7,699.3,504.3,702.0,511.0 C704.7,517.7,707.3,525.3,710.0,531.0 C712.7,536.7,715.3,542.2,718.0,545.0 C720.7,547.8,723.3,548.7,726.0,548.0 C728.7,547.3,732.2,545.2,734.0,541.0 C735.8,536.8,736.5,529.3,737.0,523.0 C737.5,516.7,736.3,507.8,737.0,503.0 C737.7,498.2,739.2,495.2,741.0,494.0 C742.8,492.8,745.7,493.2,748.0,496.0 C750.3,498.8,752.7,505.8,755.0,511.0 C757.3,516.2,759.5,523.2,762.0,527.0 C764.5,530.8,767.5,534.0,770.0,534.0 C772.5,534.0,774.7,531.2,777.0,527.0 C779.3,522.8,781.8,513.8,784.0,509.0 C786.2,504.2,788.0,499.8,790.0,498.0 C792.0,496.2,794.2,495.8,796.0,498.0 C797.8,500.2,799.8,506.8,801.0,511.0 C802.2,515.2,801.5,519.3,803.0,523.0 C804.5,526.7,808.3,529.7,810.0,533.0 C811.7,536.3,813.7,539.3,813.0,543.0 C812.3,546.7,809.5,552.2,806.0,555.0 C802.5,557.8,797.7,559.8,792.0,560.0 C786.3,560.2,778.0,557.2,772.0,556.0 C766.0,554.8,760.7,552.8,756.0,553.0 C751.3,553.2,746.0,556.3,744.0,557.0" fill="none" stroke="#62a5c2" stroke-width="5.2" stroke-linecap="round" stroke-linejoin="round" />
<path d="M744.0,557.0 C741.7,558.5 734.3,563.8 730.0,566.0 C725.7,568.2 722.3,570.2 718.0,570.0 C713.7,569.8 708.0,567.0 704.0,565.0 C700.0,563.0 696.7,558.8 694.0,558.0" fill="none" stroke="#62a5c2" stroke-width="4.7" stroke-linecap="round" stroke-linejoin="round"/>
<path d="M694.0,558.0 C691.3,557.2 689.5,557.8 688.0,560.0 C686.5,562.2 686.3,567.7 685.0,571.0 C683.7,574.3 682.2,578.3 680.0,580.0 C677.8,581.7 675.7,582.0 672.0,581.0" fill="none" stroke="#62a5c2" stroke-width="4.2" stroke-linecap="round" stroke-linejoin="round"/>
<path d="M672.0,581.0 C668.3,580.0 662.3,576.0 658.0,574.0 C653.7,572.0 649.0,569.5 646.0,569.0 C643.0,568.5 641.0,569.7 640.0,571.0 C639.0,572.3 639.2,574.7 640.0,577.0 C640.8,579.3 644.2,583.7 645.0,585.0" fill="none" stroke="#62a5c2" stroke-width="3.7" stroke-linecap="round" stroke-linejoin="round"/>
<path d="M645.0,585.0 C645.8,586.1,648.2,589.6,650.0,591.4 C651.8,593.2,655.0,595.2,656.0,596.0" fill="none" stroke="#948f90" stroke-width="3.1" stroke-linecap="round" stroke-linejoin="round" />
<path d="M656.0,596.0 C657.3,596.7,661.3,599.4,664.0,600.4 C666.7,601.4,670.7,601.7,672.0,602.0" fill="none" stroke="#bf6549" stroke-width="2.8" stroke-linecap="round" stroke-linejoin="round" />
<path d="M246.0,574.4 C248.5,575.7 255.2,580.1 261.0,582.0 C266.8,583.9 274.3,585.5 281.0,586.0 C287.7,586.5 295.0,585.3 301.0,585.0" fill="none" stroke="#62a5c2" stroke-width="2.2" stroke-linecap="round" stroke-linejoin="round"/>
<path d="M301.0,585.0 C307.0,584.7 312.8,583.2 317.0,584.0 C321.2,584.8 324.7,586.5 326.0,590.0 C327.3,593.5 326.2,599.5 325.0,605.0" fill="none" stroke="#62a5c2" stroke-width="2.7" stroke-linecap="round" stroke-linejoin="round"/>
<path d="M325.0,605.0 C323.8,610.5 320.8,617.5 319.0,623.0 C317.2,628.5 314.0,635.0 314.0,638.0 C314.0,641.0 316.2,641.8 319.0,641.0" fill="none" stroke="#62a5c2" stroke-width="3.1" stroke-linecap="round" stroke-linejoin="round"/>
<path d="M319.0,641.0 C321.8,640.2 327.0,636.7 331.0,633.0 C335.0,629.3 339.0,622.3 343.0,619.0 C347.0,615.7 350.7,613.5 355.0,613.0" fill="none" stroke="#62a5c2" stroke-width="3.6" stroke-linecap="round" stroke-linejoin="round"/>
<path d="M355.0,613.0 C359.3,612.5 364.3,614.0 369.0,616.0 C373.7,618.0 378.7,622.7 383.0,625.0 C387.3,627.3 391.8,630.3 395.0,630.0" fill="none" stroke="#62a5c2" stroke-width="4.1" stroke-linecap="round" stroke-linejoin="round"/>
<path d="M395.0,630.0 C398.2,629.7 401.3,626.5 402.0,623.0 C402.7,619.5 401.2,614.7 399.0,609.0 C396.8,603.3 392.0,595.3 389.0,589.0" fill="none" stroke="#62a5c2" stroke-width="4.5" stroke-linecap="round" stroke-linejoin="round"/>
<path d="M389.0,589.0 C386.0,582.7 382.5,575.2 381.0,571.0 C379.5,566.8 379.0,565.0 380.0,564.0 C381.0,563.0 385.8,564.8 387.0,565.0" fill="none" stroke="#62a5c2" stroke-width="5.0" stroke-linecap="round" stroke-linejoin="round"/>
<path d="M387.0,565.0 C389.3,566.7,396.0,571.3,401.0,575.0 C406.0,578.7,412.0,583.8,417.0,587.0 C422.0,590.2,426.7,593.3,431.0,594.0 C435.3,594.7,440.7,594.2,443.0,591.0 C445.3,587.8,445.3,580.7,445.0,575.0 C444.7,569.3,442.0,562.0,441.0,557.0 C440.0,552.0,438.0,547.7,439.0,545.0 C440.0,542.3,443.3,541.5,447.0,541.0 C450.7,540.5,456.7,540.7,461.0,542.0 C465.3,543.3,469.3,546.7,473.0,549.0 C476.7,551.3,478.0,554.0,483.0,556.0 C488.0,558.0,497.7,559.5,503.0,561.0 C508.3,562.5,512.2,563.2,515.0,565.0 C517.8,566.8,520.3,569.3,520.0,572.0 C519.7,574.7,517.5,578.7,513.0,581.0 C508.5,583.3,499.7,584.3,493.0,586.0 C486.3,587.7,477.5,589.2,473.0,591.0 C468.5,592.8,466.0,595.0,466.0,597.0 C466.0,599.0,469.2,601.5,473.0,603.0 C476.8,604.5,484.7,604.5,489.0,606.0 C493.3,607.5,498.3,609.8,499.0,612.0 C499.7,614.2,497.3,617.2,493.0,619.0 C488.7,620.8,480.0,621.5,473.0,623.0 C466.0,624.5,456.0,626.2,451.0,628.0 C446.0,629.8,443.3,632.2,443.0,634.0 C442.7,635.8,444.7,638.0,449.0,639.0 C453.3,640.0,462.7,639.3,469.0,640.0 C475.3,640.7,481.3,641.0,487.0,643.0 C492.7,645.0,498.0,649.3,503.0,652.0 C508.0,654.7,513.0,658.5,517.0,659.0 C521.0,659.5,525.5,657.7,527.0,655.0 C528.5,652.3,526.0,646.5,526.0,643.0 C526.0,639.5,525.2,636.0,527.0,634.0 C528.8,632.0,532.7,631.2,537.0,631.0 C541.3,630.8,548.3,632.3,553.0,633.0 C557.7,633.7,563.0,634.7,565.0,635.0" fill="none" stroke="#62a5c2" stroke-width="5.4" stroke-linecap="round" stroke-linejoin="round" />
<path d="M565.0,635.0 C565.8,635.4,567.7,637.2,570.0,637.4 C572.3,637.6,577.3,637.1,579.0,636.0 C580.7,634.9,581.2,633.2,580.0,631.0 C578.8,628.8,574.5,625.2,572.0,623.0 C569.5,620.8,569.5,620.5,565.0,618.0 C560.5,615.5,551.0,611.2,545.0,608.0 C539.0,604.8,531.8,601.3,529.0,599.0 C526.2,596.7,526.7,595.3,528.0,594.0 C529.3,592.7,532.8,590.5,537.0,591.0 C541.2,591.5,548.3,595.5,553.0,597.0 C557.7,598.5,562.5,599.7,565.0,600.0 C567.5,600.3,566.8,600.2,568.0,599.0 C569.2,597.8,572.0,594.8,572.0,593.0 C572.0,591.2,569.2,589.3,568.0,588.0 C566.8,586.7,567.5,587.2,565.0,585.0 C562.5,582.8,557.0,578.3,553.0,575.0 C549.0,571.7,544.2,568.3,541.0,565.0 C537.8,561.7,535.1,557.3,534.0,555.0 C532.9,552.7,533.4,552.6,534.6,551.4 C535.8,550.2,537.9,547.6,541.0,548.0 C544.1,548.4,549.0,551.5,553.0,554.0 C557.0,556.5,562.5,561.2,565.0,563.0 C567.5,564.8,565.2,563.8,568.0,565.0 C570.8,566.2,576.7,569.3,582.0,570.0 C587.3,570.7,594.7,569.3,600.0,569.0 C605.3,568.7,610.3,567.3,614.0,568.0 C617.7,568.7,621.0,570.8,622.0,573.0 C623.0,575.2,622.3,578.3,620.0,581.0 C617.7,583.7,610.0,587.7,608.0,589.0" fill="none" stroke="#62a5c2" stroke-width="5.2" stroke-linecap="round" stroke-linejoin="round" />
<path d="M608.0,589.0 C606.3,590.0 600.3,592.7 598.0,595.0 C595.7,597.3 594.0,600.2 594.0,603.0" fill="none" stroke="#62a5c2" stroke-width="4.8" stroke-linecap="round" stroke-linejoin="round"/>
<path d="M594.0,603.0 C594.0,605.8 595.0,609.3 598.0,612.0 C601.0,614.7 607.7,616.8 612.0,619.0 C616.3,621.2 621.2,622.7 624.0,625.0" fill="none" stroke="#62a5c2" stroke-width="4.4" stroke-linecap="round" stroke-linejoin="round"/>
<path d="M624.0,625.0 C626.8,627.3 628.0,630.0 629.0,633.0 C630.0,636.0 628.8,640.2 630.0,643.0" fill="none" stroke="#62a5c2" stroke-width="3.9" stroke-linecap="round" stroke-linejoin="round"/>
<path d="M630.0,643.0 C631.2,645.8 633.0,648.8 636.0,650.0 C639.0,651.2 644.0,650.4 648.0,650.0 C652.0,649.6 658.0,647.8 660.0,647.4" fill="none" stroke="#62a5c2" stroke-width="3.5" stroke-linecap="round" stroke-linejoin="round"/>
<path d="M660.0,647.4 C661.3,646.8,665.3,645.2,668.0,644.0 C670.7,642.8,674.7,640.7,676.0,640.0" fill="none" stroke="#948f90" stroke-width="3.1" stroke-linecap="round" stroke-linejoin="round" />
<path d="M676.0,640.0 C677.7,639.5,682.7,636.8,686.0,637.0 C689.3,637.2,692.3,638.7,696.0,641.0 C699.7,643.3,703.3,648.3,708.0,651.0 C712.7,653.7,718.7,656.3,724.0,657.0 C729.3,657.7,736.0,656.3,740.0,655.0 C744.0,653.7,745.8,651.2,748.0,649.0 C750.2,646.8,752.2,643.2,753.0,642.0" fill="none" stroke="#bf6549" stroke-width="2.8" stroke-linecap="round" stroke-linejoin="round" />
<path d="M669.6,602.4 L670.8,603.9 L671.8,604.5 L672.8,604.8 L673.8,605.1 L674.8,605.2 L675.7,605.4 L676.7,605.4 L677.6,605.4 L678.5,605.4 L679.4,605.3 L680.3,605.2 L681.2,605.1 L682.1,604.9 L683.0,604.6 L683.9,604.2 L684.7,603.8 L685.5,603.3 L686.3,602.7 L687.2,602.1 L688.0,601.4 L688.7,600.7 L689.5,599.9 L690.3,599.1 L691.1,598.3 L691.9,597.6 L692.6,596.8 L693.4,596.0 L694.2,595.3 L695.0,594.6 L695.8,594.0 L696.6,593.4 L697.5,592.9 L698.3,592.5 L699.2,592.1 L700.1,591.8 L700.9,591.6 L701.8,591.5 L702.8,591.4 L703.7,591.4 L704.6,591.6 L705.6,591.7 L706.6,592.0 L707.6,592.3 L708.5,592.6 L709.5,593.0 L710.6,593.4 L711.6,593.8 L712.6,594.3 L713.6,594.7 L714.6,595.2 L715.6,595.6 L716.6,596.0 L717.6,596.3 L718.6,596.6 L719.5,596.8 L720.5,597.0 L721.5,597.1 L722.4,597.2 L723.3,597.1 L724.2,597.0 L725.1,596.8 L726.0,596.5 L726.8,596.1 L727.7,595.7 L728.5,595.2 L729.3,594.6 L730.1,593.9 L730.9,593.3 L731.7,592.5 L732.5,591.8 L733.3,591.0 L734.1,590.2 L734.8,589.4 L735.6,588.7 L736.4,587.9 L737.2,587.2 L738.0,586.5 L738.8,585.9 L739.6,585.3 L740.4,584.8 L741.3,584.3 L742.1,584.0 L743.0,583.7 L743.9,583.5 L744.8,583.4 L745.7,583.3 L746.7,583.3 L747.6,583.4 L748.6,583.6 L749.5,583.9 L750.5,584.1 L751.5,584.5 L752.5,584.9 L753.5,585.3 L754.5,585.7 L755.5,586.2 L756.6,586.6 L757.6,587.1 L758.6,587.5 L759.6,587.9 L760.6,588.2 L761.5,588.5 L762.5,588.7 L763.5,588.9 L764.4,589.0 L765.4,589.0 L766.3,589.0 L767.2,588.9 L768.1,588.7 L768.9,588.4 L769.8,588.0 L770.6,587.6 L771.5,587.0 L772.3,586.5 L773.1,585.8 L773.9,585.1 L774.7,584.4 L775.5,583.7 L776.2,582.9 L777.0,582.1 L777.8,581.3 L778.6,580.6 L779.4,579.8 L780.2,579.1 L781.0,578.4 L781.8,577.8 L782.6,577.2 L783.4,576.7 L784.3,576.2 L785.1,575.9 L786.0,575.6 L786.9,575.4 L787.8,575.2 L788.7,575.2 L789.6,575.2 L790.6,575.3 L791.5,575.5 L792.5,575.7 L793.5,576.0 L794.5,576.4 L795.5,576.8 L796.5,577.2 L797.5,577.6 L798.5,578.1 L799.5,578.5 L800.5,578.9 L801.5,579.4 L802.5,579.7 L803.5,580.1 L804.5,580.4 L805.5,580.6 L806.4,580.8 L807.4,580.9 L808.3,580.9 L809.2,580.9 L810.1,580.7 L811.0,580.6 L811.9,580.3 L812.8,580.1 L813.7,579.7 L814.5,579.4 L815.4,579.0 L816.2,578.5 L817.0,578.0 L817.9,577.4 L818.7,576.7 L819.4,575.9 L820.0,574.0 M669.6,602.4 L670.2,600.5 L670.9,599.7 L671.7,599.0 L672.6,598.4 L673.4,597.9 L674.2,597.4 L675.1,597.0 L675.9,596.7 L676.8,596.3 L677.7,596.1 L678.6,595.8 L679.5,595.7 L680.4,595.5 L681.3,595.5 L682.2,595.5 L683.2,595.6 L684.1,595.8 L685.1,596.0 L686.1,596.3 L687.1,596.7 L688.1,597.0 L689.1,597.5 L690.1,597.9 L691.1,598.3 L692.1,598.8 L693.1,599.2 L694.1,599.6 L695.1,600.0 L696.1,600.4 L697.1,600.7 L698.1,600.9 L699.0,601.1 L700.0,601.2 L700.9,601.2 L701.8,601.2 L702.7,601.0 L703.6,600.8 L704.5,600.5 L705.3,600.2 L706.2,599.7 L707.0,599.2 L707.8,598.6 L708.6,598.0 L709.4,597.3 L710.2,596.6 L711.0,595.8 L711.8,595.1 L712.6,594.3 L713.4,593.5 L714.1,592.7 L714.9,592.0 L715.7,591.3 L716.5,590.6 L717.3,589.9 L718.1,589.4 L719.0,588.8 L719.8,588.4 L720.7,588.0 L721.5,587.7 L722.4,587.5 L723.3,587.4 L724.2,587.4 L725.2,587.4 L726.1,587.5 L727.1,587.7 L728.1,587.9 L729.0,588.2 L730.0,588.5 L731.0,588.9 L732.0,589.3 L733.0,589.8 L734.1,590.2 L735.1,590.7 L736.1,591.1 L737.1,591.5 L738.1,591.9 L739.1,592.3 L740.1,592.5 L741.0,592.8 L742.0,593.0 L742.9,593.1 L743.9,593.1 L744.8,593.0 L745.7,592.9 L746.6,592.7 L747.5,592.4 L748.3,592.1 L749.2,591.6 L750.0,591.1 L750.8,590.5 L751.6,589.9 L752.4,589.2 L753.2,588.5 L754.0,587.7 L754.8,587.0 L755.5,586.2 L756.3,585.4 L757.1,584.6 L757.9,583.9 L758.7,583.1 L759.5,582.5 L760.3,581.8 L761.1,581.2 L761.9,580.7 L762.8,580.3 L763.6,579.9 L764.5,579.6 L765.4,579.4 L766.3,579.3 L767.2,579.2 L768.1,579.3 L769.1,579.4 L770.1,579.6 L771.0,579.8 L772.0,580.1 L773.0,580.4 L774.0,580.8 L775.0,581.2 L776.0,581.7 L777.0,582.1 L778.0,582.6 L779.0,583.0 L780.1,583.4 L781.1,583.8 L782.0,584.1 L783.0,584.4 L784.0,584.7 L785.0,584.8 L785.9,585.0 L786.8,585.0 L787.8,584.9 L788.7,584.8 L789.5,584.6 L790.4,584.3 L791.3,583.9 L792.1,583.5 L793.0,583.0 L793.8,582.4 L794.6,581.8 L795.4,581.1 L796.2,580.4 L797.0,579.6 L797.7,578.8 L798.5,578.1 L799.3,577.3 L800.1,576.5 L800.9,575.7 L801.6,575.0 L802.4,574.3 L803.3,573.7 L804.1,573.1 L804.9,572.6 L805.7,572.2 L806.6,571.8 L807.5,571.5 L808.4,571.3 L809.3,571.2 L810.2,571.1 L811.1,571.0 L812.0,571.0 L812.9,571.0 L813.9,571.0 L814.8,571.2 L815.8,571.3 L816.8,571.6 L817.8,571.9 L818.8,572.5 L820.0,574.0" fill="none" stroke="#bf6549" stroke-width="2.8" stroke-linecap="round" stroke-linejoin="round"/>
<path d="M706.0,621.0 L707.2,622.6 L708.2,623.1 L709.2,623.5 L710.1,623.7 L711.1,623.9 L712.0,624.0 L712.9,624.1 L713.9,624.1 L714.8,624.1 L715.7,624.1 L716.6,624.0 L717.5,623.9 L718.3,623.7 L719.2,623.4 L720.1,623.0 L720.9,622.6 L721.7,622.1 L722.5,621.5 L723.3,620.9 L724.1,620.2 L724.9,619.5 L725.7,618.8 L726.5,618.0 L727.2,617.2 L728.0,616.5 L728.8,615.7 L729.6,615.0 L730.4,614.3 L731.2,613.6 L732.0,613.0 L732.8,612.4 L733.6,611.9 L734.4,611.5 L735.3,611.1 L736.2,610.8 L737.0,610.6 L737.9,610.5 L738.8,610.5 L739.8,610.5 L740.7,610.7 L741.6,610.8 L742.6,611.1 L743.6,611.4 L744.5,611.8 L745.5,612.2 L746.5,612.6 L747.5,613.0 L748.5,613.5 L749.5,614.0 L750.5,614.4 L751.5,614.8 L752.5,615.2 L753.4,615.6 L754.4,615.9 L755.4,616.2 L756.3,616.3 L757.2,616.5 L758.2,616.5 L759.1,616.5 L760.0,616.4 L760.8,616.2 L761.7,615.9 L762.6,615.5 L763.4,615.1 L764.2,614.6 L765.0,614.0 L765.8,613.4 L766.6,612.7 L767.4,612.0 L768.2,611.3 L769.0,610.5 L769.8,609.8 L770.5,609.0 L771.3,608.2 L772.1,607.5 L772.9,606.8 L773.7,606.1 L774.5,605.5 L775.3,604.9 L776.1,604.4 L776.9,604.0 L777.8,603.6 L778.7,603.3 L779.5,603.1 L780.4,603.0 L781.3,603.0 L782.3,603.0 L783.2,603.2 L784.1,603.3 L785.1,603.6 L786.1,603.9 L787.0,604.3 L788.0,604.7 L789.0,605.1 L790.0,605.5 L791.0,606.0 L792.0,606.5 L793.0,606.9 L794.0,607.3 L795.0,607.7 L795.9,608.1 L796.9,608.4 L797.9,608.7 L798.8,608.8 L799.7,609.0 L800.7,609.0 L801.6,609.0 L802.5,608.9 L803.3,608.7 L804.2,608.4 L805.1,608.0 L805.9,607.6 L806.7,607.1 L807.5,606.5 L808.3,605.9 L809.1,605.2 L809.9,604.5 L810.7,603.8 L811.5,603.0 L812.2,602.2 L813.0,601.5 L813.8,600.7 L814.6,600.0 L815.4,599.3 L816.2,598.6 L817.0,598.0 L817.8,597.4 L818.6,596.9 L819.4,596.5 L820.3,596.1 L821.2,595.8 L822.0,595.6 L822.9,595.5 L823.8,595.5 L824.8,595.5 L825.7,595.7 L826.6,595.8 L827.6,596.1 L828.6,596.4 L829.5,596.8 L830.5,597.2 L831.5,597.6 L832.5,598.0 L833.5,598.5 L834.5,599.0 L835.5,599.4 L836.5,599.8 L837.5,600.2 L838.4,600.6 L839.4,600.9 L840.4,601.2 L841.3,601.3 L842.2,601.5 L843.2,601.5 L844.1,601.5 L845.0,601.4 L845.8,601.2 L846.7,600.9 L847.6,600.5 L848.4,600.1 L849.2,599.6 L850.0,599.0 L850.8,598.4 L851.6,597.7 L852.4,597.0 L853.2,596.3 L854.0,595.5 L854.8,594.8 L855.5,594.0 L856.3,593.2 L857.1,592.5 L857.9,591.8 L858.7,591.1 L859.5,590.5 L860.3,589.9 L861.1,589.4 L861.9,589.0 L862.8,588.6 L863.7,588.3 L864.5,588.1 L865.4,588.0 L866.3,587.9 L867.2,587.9 L868.1,587.9 L869.1,587.9 L870.0,588.0 L870.9,588.1 L871.9,588.3 L872.8,588.5 L873.8,588.9 L874.8,589.4 L876.0,591.0 M706.0,621.0 L706.6,619.1 L707.3,618.3 L708.1,617.6 L709.0,617.0 L709.8,616.5 L710.6,616.1 L711.5,615.7 L712.3,615.4 L713.2,615.1 L714.0,614.8 L714.9,614.6 L715.8,614.4 L716.7,614.3 L717.6,614.2 L718.5,614.3 L719.4,614.4 L720.4,614.6 L721.3,614.8 L722.3,615.2 L723.3,615.5 L724.3,615.9 L725.3,616.3 L726.3,616.8 L727.2,617.2 L728.2,617.7 L729.2,618.2 L730.2,618.6 L731.2,619.0 L732.2,619.3 L733.2,619.7 L734.1,619.9 L735.1,620.1 L736.0,620.2 L736.9,620.3 L737.8,620.2 L738.7,620.1 L739.6,619.9 L740.5,619.6 L741.3,619.3 L742.1,618.8 L743.0,618.3 L743.8,617.8 L744.6,617.2 L745.4,616.5 L746.2,615.8 L746.9,615.0 L747.7,614.3 L748.5,613.5 L749.3,612.7 L750.1,612.0 L750.8,611.2 L751.6,610.5 L752.4,609.8 L753.2,609.2 L754.0,608.7 L754.9,608.2 L755.7,607.7 L756.5,607.4 L757.4,607.1 L758.3,606.9 L759.2,606.8 L760.1,606.7 L761.0,606.8 L761.9,606.9 L762.9,607.1 L763.8,607.3 L764.8,607.7 L765.8,608.0 L766.8,608.4 L767.8,608.8 L768.8,609.3 L769.8,609.8 L770.7,610.2 L771.7,610.7 L772.7,611.1 L773.7,611.5 L774.7,611.8 L775.7,612.2 L776.6,612.4 L777.6,612.6 L778.5,612.7 L779.4,612.8 L780.3,612.7 L781.2,612.6 L782.1,612.4 L783.0,612.1 L783.8,611.8 L784.6,611.3 L785.5,610.8 L786.3,610.3 L787.1,609.7 L787.9,609.0 L788.7,608.3 L789.4,607.5 L790.2,606.8 L791.0,606.0 L791.8,605.2 L792.6,604.5 L793.3,603.7 L794.1,603.0 L794.9,602.3 L795.7,601.7 L796.5,601.2 L797.4,600.7 L798.2,600.2 L799.0,599.9 L799.9,599.6 L800.8,599.4 L801.7,599.3 L802.6,599.2 L803.5,599.3 L804.4,599.4 L805.4,599.6 L806.3,599.8 L807.3,600.2 L808.3,600.5 L809.3,600.9 L810.3,601.3 L811.3,601.8 L812.2,602.2 L813.2,602.7 L814.2,603.2 L815.2,603.6 L816.2,604.0 L817.2,604.3 L818.2,604.7 L819.1,604.9 L820.1,605.1 L821.0,605.2 L821.9,605.3 L822.8,605.2 L823.7,605.1 L824.6,604.9 L825.5,604.6 L826.3,604.3 L827.1,603.8 L828.0,603.3 L828.8,602.8 L829.6,602.2 L830.4,601.5 L831.2,600.8 L831.9,600.0 L832.7,599.3 L833.5,598.5 L834.3,597.7 L835.1,597.0 L835.8,596.2 L836.6,595.5 L837.4,594.8 L838.2,594.2 L839.0,593.7 L839.9,593.2 L840.7,592.7 L841.5,592.4 L842.4,592.1 L843.3,591.9 L844.2,591.8 L845.1,591.7 L846.0,591.8 L846.9,591.9 L847.9,592.1 L848.8,592.3 L849.8,592.7 L850.8,593.0 L851.8,593.4 L852.8,593.8 L853.8,594.3 L854.8,594.8 L855.7,595.2 L856.7,595.7 L857.7,596.1 L858.7,596.5 L859.7,596.8 L860.7,597.2 L861.6,597.4 L862.6,597.6 L863.5,597.7 L864.4,597.8 L865.3,597.7 L866.2,597.6 L867.1,597.4 L868.0,597.2 L868.8,596.9 L869.7,596.6 L870.5,596.3 L871.4,595.9 L872.2,595.5 L873.0,595.0 L873.9,594.4 L874.7,593.7 L875.4,592.9 L876.0,591.0" fill="none" stroke="#bf6549" stroke-width="2.8" stroke-linecap="round" stroke-linejoin="round"/>
<path d="M752.4,641.0 L753.6,642.5 L754.7,643.0 L755.7,643.4 L756.7,643.6 L757.6,643.8 L758.6,643.9 L759.6,644.0 L760.5,644.0 L761.4,644.0 L762.4,643.9 L763.3,643.8 L764.2,643.6 L765.1,643.4 L766.0,643.1 L766.8,642.7 L767.7,642.3 L768.5,641.8 L769.4,641.2 L770.2,640.6 L771.0,639.9 L771.8,639.1 L772.6,638.4 L773.4,637.6 L774.2,636.8 L775.0,636.0 L775.7,635.2 L776.5,634.5 L777.3,633.8 L778.1,633.1 L779.0,632.4 L779.8,631.9 L780.6,631.3 L781.5,630.9 L782.4,630.5 L783.2,630.2 L784.1,630.0 L785.1,629.9 L786.0,629.8 L786.9,629.8 L787.9,629.9 L788.9,630.1 L789.8,630.3 L790.8,630.6 L791.8,631.0 L792.9,631.3 L793.9,631.8 L794.9,632.2 L795.9,632.6 L797.0,633.1 L798.0,633.5 L799.0,633.9 L800.0,634.3 L801.0,634.6 L802.0,634.9 L803.0,635.1 L804.0,635.3 L804.9,635.4 L805.9,635.4 L806.8,635.4 L807.7,635.2 L808.6,635.0 L809.5,634.7 L810.4,634.4 L811.2,633.9 L812.1,633.4 L812.9,632.8 L813.7,632.2 L814.5,631.5 L815.3,630.8 L816.1,630.0 L816.9,629.2 L817.7,628.4 L818.5,627.6 L819.3,626.9 L820.1,626.1 L820.9,625.4 L821.7,624.7 L822.5,624.1 L823.3,623.5 L824.2,623.0 L825.0,622.5 L825.9,622.1 L826.8,621.8 L827.7,621.6 L828.6,621.5 L829.5,621.4 L830.5,621.5 L831.4,621.6 L832.4,621.7 L833.4,622.0 L834.4,622.3 L835.4,622.6 L836.4,623.0 L837.4,623.4 L838.4,623.8 L839.5,624.2 L840.5,624.7 L841.5,625.1 L842.5,625.5 L843.5,625.9 L844.5,626.2 L845.5,626.5 L846.5,626.8 L847.5,626.9 L848.4,627.0 L849.4,627.1 L850.3,627.0 L851.2,626.9 L852.1,626.7 L853.0,626.4 L853.9,626.0 L854.7,625.5 L855.6,625.0 L856.4,624.4 L857.2,623.8 L858.0,623.1 L858.8,622.4 L859.6,621.6 L860.4,620.9 L861.2,620.1 L862.0,619.3 L862.8,618.5 L863.6,617.7 L864.4,617.0 L865.2,616.3 L866.0,615.7 L866.8,615.1 L867.7,614.6 L868.5,614.1 L869.4,613.8 L870.3,613.5 L871.2,613.3 L872.1,613.1 L873.0,613.1 L874.0,613.1 L874.9,613.2 L875.9,613.4 L876.9,613.6 L877.9,613.9 L878.9,614.2 L879.9,614.6 L880.9,615.0 L881.9,615.4 L883.0,615.9 L884.0,616.3 L885.0,616.7 L886.0,617.2 L887.1,617.5 L888.1,617.9 L889.1,618.2 L890.0,618.4 L891.0,618.6 L892.0,618.7 L892.9,618.7 L893.8,618.6 L894.8,618.5 L895.7,618.3 L896.5,618.0 L897.4,617.6 L898.3,617.2 L899.1,616.6 L899.9,616.1 L900.8,615.4 L901.6,614.7 L902.4,614.0 L903.2,613.3 L903.9,612.5 L904.7,611.7 L905.5,610.9 L906.3,610.1 L907.1,609.4 L907.9,608.6 L908.7,607.9 L909.5,607.3 L910.4,606.7 L911.2,606.2 L912.1,605.8 L912.9,605.4 L913.8,605.1 L914.7,604.9 L915.6,604.7 L916.5,604.6 L917.5,604.5 L918.4,604.5 L919.3,604.5 L920.3,604.6 L921.3,604.7 L922.2,604.9 L923.2,605.1 L924.2,605.5 L925.3,606.0 L926.5,607.5 M752.4,641.0 L753.0,639.1 L753.8,638.3 L754.6,637.6 L755.4,637.0 L756.2,636.4 L757.1,636.0 L757.9,635.6 L758.8,635.2 L759.7,634.9 L760.6,634.6 L761.5,634.4 L762.4,634.2 L763.3,634.1 L764.2,634.0 L765.2,634.0 L766.1,634.1 L767.1,634.3 L768.1,634.5 L769.1,634.8 L770.1,635.2 L771.1,635.5 L772.1,635.9 L773.1,636.4 L774.2,636.8 L775.2,637.3 L776.2,637.7 L777.2,638.1 L778.2,638.5 L779.2,638.8 L780.2,639.1 L781.2,639.3 L782.2,639.5 L783.2,639.6 L784.1,639.6 L785.0,639.6 L786.0,639.4 L786.8,639.2 L787.7,638.9 L788.6,638.6 L789.5,638.1 L790.3,637.6 L791.1,637.0 L791.9,636.4 L792.8,635.7 L793.6,635.0 L794.3,634.2 L795.1,633.4 L795.9,632.6 L796.7,631.8 L797.5,631.1 L798.3,630.3 L799.1,629.6 L799.9,628.9 L800.7,628.2 L801.6,627.7 L802.4,627.1 L803.2,626.7 L804.1,626.3 L805.0,626.0 L805.9,625.8 L806.8,625.7 L807.7,625.6 L808.7,625.7 L809.6,625.8 L810.6,625.9 L811.6,626.2 L812.6,626.4 L813.6,626.8 L814.6,627.2 L815.6,627.6 L816.7,628.0 L817.7,628.4 L818.7,628.9 L819.7,629.3 L820.8,629.7 L821.8,630.1 L822.8,630.4 L823.8,630.7 L824.8,631.0 L825.7,631.1 L826.7,631.2 L827.6,631.2 L828.6,631.2 L829.5,631.1 L830.4,630.8 L831.3,630.5 L832.1,630.2 L833.0,629.7 L833.8,629.2 L834.7,628.6 L835.5,628.0 L836.3,627.3 L837.1,626.6 L837.9,625.8 L838.7,625.0 L839.5,624.2 L840.2,623.5 L841.0,622.7 L841.8,621.9 L842.6,621.2 L843.4,620.5 L844.2,619.9 L845.1,619.3 L845.9,618.8 L846.8,618.3 L847.6,618.0 L848.5,617.7 L849.4,617.4 L850.3,617.3 L851.3,617.3 L852.2,617.3 L853.2,617.4 L854.1,617.5 L855.1,617.8 L856.1,618.1 L857.1,618.4 L858.1,618.8 L859.2,619.2 L860.2,619.6 L861.2,620.1 L862.2,620.5 L863.3,620.9 L864.3,621.3 L865.3,621.7 L866.3,622.1 L867.3,622.3 L868.3,622.6 L869.3,622.7 L870.2,622.8 L871.2,622.9 L872.1,622.8 L873.0,622.7 L873.9,622.5 L874.8,622.2 L875.7,621.8 L876.5,621.4 L877.3,620.8 L878.2,620.3 L879.0,619.6 L879.8,618.9 L880.6,618.2 L881.4,617.4 L882.2,616.7 L883.0,615.9 L883.8,615.1 L884.6,614.3 L885.3,613.5 L886.1,612.8 L887.0,612.1 L887.8,611.5 L888.6,610.9 L889.4,610.4 L890.3,609.9 L891.2,609.6 L892.1,609.3 L892.9,609.1 L893.9,608.9 L894.8,608.9 L895.7,608.9 L896.7,609.0 L897.7,609.2 L898.7,609.4 L899.7,609.7 L900.7,610.0 L901.7,610.4 L902.7,610.8 L903.7,611.2 L904.7,611.7 L905.8,612.1 L906.8,612.6 L907.8,613.0 L908.8,613.3 L909.8,613.7 L910.8,614.0 L911.8,614.2 L912.8,614.4 L913.7,614.5 L914.7,614.5 L915.6,614.4 L916.5,614.3 L917.4,614.1 L918.3,613.9 L919.2,613.6 L920.1,613.3 L921.0,612.9 L921.8,612.5 L922.7,612.1 L923.5,611.5 L924.3,610.9 L925.1,610.2 L925.9,609.4 L926.5,607.5" fill="none" stroke="#bf6549" stroke-width="2.8" stroke-linecap="round" stroke-linejoin="round"/>
<path d="M669.6,602.4 C669.0,604.2,665.3,610.2,666.0,613.0 C666.7,615.8,670.0,618.0,674.0,619.0 C678.0,620.0,684.7,618.7,690.0,619.0 C695.3,619.3,703.3,620.7,706.0,621.0" fill="none" stroke="#bf6549" stroke-width="2.8" stroke-linecap="round" stroke-linejoin="round" />
<path d="M706.0,621.0 C705.8,622.7,703.7,628.8,705.0,631.0 C706.3,633.2,711.5,632.3,714.0,634.0 C716.5,635.7,718.2,639.3,720.0,641.0 C721.8,642.7,722.7,644.5,725.0,644.0 C727.3,643.5,730.8,639.2,734.0,638.0 C737.2,636.8,740.9,636.5,744.0,637.0 C747.1,637.5,751.0,640.3,752.4,641.0" fill="none" stroke="#bf6549" stroke-width="2.8" stroke-linecap="round" stroke-linejoin="round" />
<path d="M520.0,416.0 L521.5,417.5 L522.9,417.9 L524.2,418.2 L525.5,418.4 L526.8,418.5 L528.1,418.6 L529.3,418.6 L530.6,418.6 L531.9,418.5 L533.1,418.3 L534.3,418.2 L535.6,418.0 L536.8,417.7 L538.0,417.3 L539.2,416.9 L540.3,416.4 L541.5,415.8 L542.6,415.2 L543.8,414.5 L544.9,413.8 L546.0,413.0 L547.1,412.2 L548.2,411.3 L549.3,410.5 L550.4,409.7 L551.5,408.8 L552.7,408.0 L553.8,407.2 L554.9,406.5 L556.0,405.8 L557.2,405.2 L558.3,404.6 L559.5,404.1 L560.7,403.7 L561.9,403.3 L563.1,403.0 L564.3,402.8 L565.6,402.7 L566.8,402.7 L568.1,402.7 L569.4,402.9 L570.7,403.0 L572.0,403.3 L573.3,403.6 L574.7,403.9 L576.0,404.2 L577.3,404.6 L578.7,405.0 L580.0,405.4 L581.3,405.8 L582.7,406.1 L584.0,406.4 L585.3,406.7 L586.6,407.0 L587.9,407.1 L589.2,407.3 L590.5,407.3 L591.7,407.3 L593.0,407.2 L594.2,407.0 L595.4,406.7 L596.6,406.3 L597.8,405.9 L599.0,405.4 L600.1,404.8 L601.3,404.2 L602.4,403.5 L603.6,402.8 L604.7,402.0 L605.8,401.2 L606.9,400.3 L608.0,399.5 L609.1,398.7 L610.2,397.8 L611.3,397.0 L612.4,396.2 L613.6,395.5 L614.7,394.8 L615.9,394.2 L617.0,393.6 L618.2,393.1 L619.4,392.7 L620.6,392.3 L621.8,392.0 L623.0,391.8 L624.3,391.7 L625.5,391.7 L626.8,391.7 L628.1,391.9 L629.4,392.0 L630.7,392.3 L632.0,392.6 L633.3,392.9 L634.7,393.2 L636.0,393.6 L637.3,394.0 L638.7,394.4 L640.0,394.8 L641.3,395.1 L642.7,395.4 L644.0,395.7 L645.3,396.0 L646.6,396.1 L647.9,396.3 L649.2,396.3 L650.4,396.3 L651.7,396.2 L652.9,396.0 L654.1,395.7 L655.3,395.3 L656.5,394.9 L657.7,394.4 L658.8,393.8 L660.0,393.2 L661.1,392.5 L662.2,391.8 L663.3,391.0 L664.5,390.2 L665.6,389.3 L666.7,388.5 L667.8,387.7 L668.9,386.8 L670.0,386.0 L671.1,385.2 L672.2,384.5 L673.4,383.8 L674.5,383.2 L675.7,382.6 L676.8,382.1 L678.0,381.7 L679.2,381.3 L680.4,381.0 L681.7,380.8 L682.9,380.7 L684.1,380.5 L685.4,380.4 L686.7,380.4 L687.9,380.4 L689.2,380.5 L690.5,380.6 L691.8,380.8 L693.1,381.1 L694.5,381.5 L696.0,383.0 M520.0,416.0 L520.9,414.1 L522.0,413.1 L523.1,412.4 L524.3,411.7 L525.4,411.2 L526.6,410.7 L527.8,410.2 L529.0,409.8 L530.1,409.4 L531.4,409.1 L532.6,408.8 L533.8,408.5 L535.0,408.3 L536.3,408.2 L537.5,408.2 L538.8,408.2 L540.1,408.4 L541.4,408.5 L542.7,408.8 L544.0,409.1 L545.3,409.4 L546.7,409.7 L548.0,410.1 L549.3,410.5 L550.7,410.9 L552.0,411.3 L553.3,411.6 L554.7,411.9 L556.0,412.2 L557.3,412.5 L558.6,412.6 L559.9,412.8 L561.2,412.8 L562.4,412.8 L563.7,412.7 L564.9,412.5 L566.1,412.2 L567.3,411.8 L568.5,411.4 L569.7,410.9 L570.8,410.3 L572.0,409.7 L573.1,409.0 L574.2,408.3 L575.3,407.5 L576.5,406.7 L577.6,405.8 L578.7,405.0 L579.8,404.2 L580.9,403.3 L582.0,402.5 L583.1,401.7 L584.2,401.0 L585.4,400.3 L586.5,399.7 L587.7,399.1 L588.8,398.6 L590.0,398.2 L591.2,397.8 L592.4,397.5 L593.7,397.3 L594.9,397.2 L596.2,397.2 L597.5,397.2 L598.7,397.4 L600.0,397.5 L601.4,397.8 L602.7,398.1 L604.0,398.4 L605.3,398.7 L606.7,399.1 L608.0,399.5 L609.3,399.9 L610.7,400.3 L612.0,400.6 L613.3,400.9 L614.6,401.2 L616.0,401.5 L617.3,401.6 L618.5,401.8 L619.8,401.8 L621.1,401.8 L622.3,401.7 L623.6,401.5 L624.8,401.2 L626.0,400.8 L627.2,400.4 L628.3,399.9 L629.5,399.3 L630.6,398.7 L631.8,398.0 L632.9,397.3 L634.0,396.5 L635.1,395.7 L636.2,394.8 L637.3,394.0 L638.4,393.2 L639.5,392.3 L640.7,391.5 L641.8,390.7 L642.9,390.0 L644.0,389.3 L645.2,388.7 L646.3,388.1 L647.5,387.6 L648.7,387.2 L649.9,386.8 L651.1,386.5 L652.3,386.3 L653.6,386.2 L654.8,386.2 L656.1,386.2 L657.4,386.4 L658.7,386.5 L660.0,386.8 L661.3,387.1 L662.7,387.4 L664.0,387.7 L665.3,388.1 L666.7,388.5 L668.0,388.9 L669.3,389.3 L670.7,389.6 L672.0,389.9 L673.3,390.2 L674.6,390.5 L675.9,390.6 L677.2,390.8 L678.5,390.8 L679.7,390.8 L681.0,390.7 L682.2,390.5 L683.4,390.2 L684.6,389.9 L685.9,389.6 L687.0,389.2 L688.2,388.8 L689.4,388.3 L690.6,387.8 L691.7,387.3 L692.9,386.6 L694.0,385.9 L695.1,384.9 L696.0,383.0" fill="none" stroke="#bf6549" stroke-width="2.8" stroke-linecap="round" stroke-linejoin="round"/>
<path d="M571.0,430.0 L572.3,431.5 L573.5,432.0 L574.6,432.4 L575.6,432.6 L576.7,432.8 L577.8,432.9 L578.8,432.9 L579.9,432.9 L580.9,432.9 L581.9,432.8 L582.9,432.7 L583.9,432.5 L584.9,432.3 L585.9,432.0 L586.9,431.6 L587.8,431.1 L588.8,430.6 L589.7,430.0 L590.6,429.4 L591.6,428.7 L592.5,427.9 L593.4,427.2 L594.2,426.4 L595.1,425.6 L596.0,424.8 L596.9,424.0 L597.8,423.2 L598.7,422.5 L599.6,421.8 L600.6,421.1 L601.5,420.5 L602.4,420.0 L603.4,419.5 L604.4,419.2 L605.3,418.9 L606.3,418.6 L607.4,418.5 L608.4,418.4 L609.4,418.4 L610.5,418.5 L611.6,418.7 L612.6,418.9 L613.7,419.2 L614.8,419.5 L615.9,419.9 L617.0,420.3 L618.2,420.7 L619.3,421.1 L620.4,421.6 L621.5,422.0 L622.6,422.4 L623.7,422.8 L624.8,423.1 L625.9,423.4 L627.0,423.6 L628.1,423.8 L629.1,423.8 L630.2,423.9 L631.2,423.8 L632.2,423.6 L633.2,423.4 L634.2,423.1 L635.2,422.7 L636.1,422.3 L637.1,421.8 L638.0,421.2 L638.9,420.5 L639.8,419.8 L640.7,419.1 L641.6,418.3 L642.5,417.5 L643.4,416.7 L644.3,415.9 L645.2,415.1 L646.1,414.4 L647.0,413.6 L647.9,412.9 L648.9,412.3 L649.8,411.7 L650.7,411.1 L651.7,410.7 L652.7,410.3 L653.6,410.0 L654.6,409.8 L655.6,409.6 L656.7,409.6 L657.7,409.6 L658.8,409.7 L659.8,409.8 L660.9,410.1 L662.0,410.3 L663.1,410.7 L664.2,411.0 L665.3,411.4 L666.5,411.9 L667.6,412.3 L668.7,412.7 L669.8,413.1 L670.9,413.5 L672.0,413.9 L673.1,414.2 L674.2,414.5 L675.3,414.7 L676.4,414.9 L677.4,415.0 L678.5,415.0 L679.5,414.9 L680.5,414.8 L681.5,414.6 L682.5,414.3 L683.5,413.9 L684.4,413.4 L685.4,412.9 L686.3,412.3 L687.2,411.7 L688.1,411.0 L689.0,410.2 L689.9,409.4 L690.8,408.7 L691.7,407.9 L692.6,407.1 L693.5,406.3 L694.4,405.5 L695.3,404.8 L696.2,404.1 L697.1,403.4 L698.1,402.8 L699.0,402.3 L700.0,401.8 L700.9,401.5 L701.9,401.1 L702.9,400.9 L703.9,400.8 L705.0,400.7 L706.0,400.7 L707.1,400.8 L708.1,401.0 L709.2,401.2 L710.3,401.5 L711.4,401.8 L712.5,402.2 L713.6,402.6 L714.7,403.0 L715.9,403.4 L717.0,403.9 L718.1,404.3 L719.2,404.7 L720.3,405.1 L721.4,405.4 L722.5,405.7 L723.6,405.9 L724.7,406.0 L725.7,406.1 L726.8,406.1 L727.8,406.1 L728.8,405.9 L729.8,405.7 L730.8,405.5 L731.8,405.2 L732.8,404.9 L733.7,404.5 L734.7,404.1 L735.6,403.6 L736.6,403.1 L737.5,402.5 L738.4,401.8 L739.3,400.9 L740.0,399.0 M571.0,430.0 L571.7,428.1 L572.6,427.2 L573.5,426.5 L574.4,425.9 L575.4,425.4 L576.3,424.9 L577.3,424.5 L578.2,424.1 L579.2,423.8 L580.2,423.5 L581.2,423.3 L582.2,423.1 L583.2,422.9 L584.2,422.9 L585.3,422.9 L586.3,423.0 L587.4,423.1 L588.5,423.3 L589.6,423.6 L590.7,423.9 L591.8,424.3 L592.9,424.7 L594.0,425.1 L595.1,425.6 L596.3,426.0 L597.4,426.4 L598.5,426.8 L599.6,427.2 L600.7,427.5 L601.8,427.8 L602.9,428.0 L603.9,428.2 L605.0,428.3 L606.0,428.3 L607.1,428.2 L608.1,428.1 L609.1,427.9 L610.1,427.5 L611.0,427.2 L612.0,426.7 L612.9,426.2 L613.9,425.6 L614.8,424.9 L615.7,424.2 L616.6,423.5 L617.5,422.7 L618.4,421.9 L619.3,421.1 L620.2,420.3 L621.1,419.6 L622.0,418.8 L622.9,418.0 L623.8,417.3 L624.7,416.7 L625.6,416.1 L626.6,415.6 L627.5,415.1 L628.5,414.7 L629.5,414.4 L630.5,414.2 L631.5,414.1 L632.5,414.0 L633.6,414.0 L634.6,414.1 L635.7,414.3 L636.8,414.5 L637.9,414.8 L639.0,415.1 L640.1,415.5 L641.2,415.9 L642.3,416.3 L643.4,416.7 L644.5,417.1 L645.7,417.6 L646.8,418.0 L647.9,418.3 L649.0,418.7 L650.1,418.9 L651.2,419.2 L652.2,419.3 L653.3,419.4 L654.3,419.4 L655.4,419.4 L656.4,419.2 L657.4,419.0 L658.3,418.7 L659.3,418.3 L660.3,417.9 L661.2,417.3 L662.1,416.7 L663.1,416.1 L664.0,415.4 L664.9,414.6 L665.8,413.9 L666.7,413.1 L667.6,412.3 L668.5,411.5 L669.4,410.7 L670.3,409.9 L671.2,409.2 L672.1,408.5 L673.0,407.8 L673.9,407.2 L674.9,406.7 L675.8,406.3 L676.8,405.9 L677.8,405.6 L678.8,405.4 L679.8,405.2 L680.8,405.1 L681.9,405.2 L682.9,405.2 L684.0,405.4 L685.1,405.6 L686.2,405.9 L687.3,406.2 L688.4,406.6 L689.5,407.0 L690.6,407.4 L691.7,407.9 L692.8,408.3 L694.0,408.7 L695.1,409.1 L696.2,409.5 L697.3,409.8 L698.4,410.1 L699.4,410.3 L700.5,410.5 L701.6,410.6 L702.6,410.6 L703.6,410.5 L704.7,410.4 L705.7,410.1 L706.6,409.8 L707.6,409.5 L708.6,409.0 L709.5,408.5 L710.4,407.9 L711.4,407.2 L712.3,406.5 L713.2,405.8 L714.1,405.0 L715.0,404.2 L715.9,403.4 L716.8,402.6 L717.6,401.8 L718.5,401.1 L719.4,400.3 L720.4,399.6 L721.3,399.0 L722.2,398.4 L723.2,397.9 L724.1,397.4 L725.1,397.0 L726.1,396.7 L727.1,396.5 L728.1,396.3 L729.1,396.2 L730.1,396.1 L731.1,396.1 L732.2,396.1 L733.2,396.1 L734.3,396.2 L735.4,396.4 L736.4,396.6 L737.5,397.0 L738.7,397.5 L740.0,399.0" fill="none" stroke="#bf6549" stroke-width="2.8" stroke-linecap="round" stroke-linejoin="round"/>
<path d="M627.0,446.0 L628.2,447.6 L629.2,448.1 L630.2,448.5 L631.1,448.7 L632.1,448.9 L633.0,449.0 L633.9,449.1 L634.9,449.2 L635.8,449.2 L636.7,449.1 L637.6,449.0 L638.5,448.9 L639.3,448.7 L640.2,448.4 L641.1,448.0 L641.9,447.6 L642.7,447.1 L643.5,446.6 L644.4,445.9 L645.2,445.3 L645.9,444.6 L646.7,443.8 L647.5,443.1 L648.3,442.3 L649.1,441.5 L649.8,440.8 L650.6,440.0 L651.4,439.3 L652.2,438.6 L653.0,438.0 L653.8,437.5 L654.7,437.0 L655.5,436.5 L656.4,436.2 L657.2,435.9 L658.1,435.7 L659.0,435.6 L659.9,435.6 L660.8,435.6 L661.8,435.7 L662.7,435.9 L663.7,436.2 L664.6,436.5 L665.6,436.8 L666.6,437.2 L667.6,437.7 L668.6,438.1 L669.6,438.6 L670.6,439.0 L671.6,439.5 L672.5,439.9 L673.5,440.3 L674.5,440.7 L675.5,441.0 L676.4,441.2 L677.4,441.4 L678.3,441.5 L679.2,441.6 L680.1,441.6 L681.0,441.4 L681.9,441.2 L682.8,441.0 L683.6,440.6 L684.5,440.2 L685.3,439.7 L686.1,439.1 L686.9,438.5 L687.7,437.8 L688.5,437.1 L689.3,436.4 L690.1,435.6 L690.9,434.9 L691.6,434.1 L692.4,433.3 L693.2,432.6 L694.0,431.9 L694.8,431.2 L695.6,430.6 L696.4,430.0 L697.2,429.5 L698.1,429.1 L698.9,428.7 L699.8,428.5 L700.7,428.3 L701.6,428.2 L702.5,428.1 L703.4,428.2 L704.3,428.3 L705.3,428.5 L706.2,428.7 L707.2,429.0 L708.2,429.4 L709.2,429.8 L710.2,430.2 L711.1,430.7 L712.1,431.1 L713.1,431.6 L714.1,432.1 L715.1,432.5 L716.1,432.9 L717.1,433.2 L718.0,433.6 L719.0,433.8 L720.0,434.0 L720.9,434.1 L721.8,434.2 L722.7,434.1 L723.6,434.0 L724.5,433.8 L725.4,433.5 L726.2,433.2 L727.0,432.8 L727.9,432.3 L728.7,431.7 L729.5,431.1 L730.3,430.4 L731.1,429.7 L731.9,429.0 L732.6,428.2 L733.4,427.4 L734.2,426.7 L735.0,425.9 L735.8,425.2 L736.6,424.4 L737.4,423.8 L738.2,423.2 L739.0,422.6 L739.8,422.1 L740.6,421.7 L741.5,421.3 L742.4,421.0 L743.2,420.8 L744.1,420.7 L745.0,420.7 L746.0,420.7 L746.9,420.9 L747.9,421.0 L748.8,421.3 L749.8,421.6 L750.8,422.0 L751.7,422.4 L752.7,422.8 L753.7,423.3 L754.7,423.7 L755.7,424.2 L756.7,424.6 L757.7,425.1 L758.7,425.5 L759.7,425.8 L760.6,426.1 L761.6,426.4 L762.5,426.6 L763.5,426.7 L764.4,426.7 L765.3,426.7 L766.2,426.6 L767.1,426.4 L767.9,426.2 L768.8,425.9 L769.7,425.6 L770.5,425.3 L771.4,424.9 L772.2,424.5 L773.0,424.0 L773.8,423.4 L774.6,422.7 L775.4,421.9 L776.0,420.0 M627.0,446.0 L627.6,444.1 L628.4,443.3 L629.2,442.6 L630.0,442.0 L630.8,441.5 L631.6,441.1 L632.5,440.7 L633.3,440.4 L634.2,440.1 L635.1,439.8 L635.9,439.6 L636.8,439.4 L637.7,439.3 L638.6,439.3 L639.5,439.3 L640.5,439.4 L641.4,439.6 L642.4,439.9 L643.3,440.2 L644.3,440.5 L645.3,440.9 L646.3,441.4 L647.3,441.8 L648.3,442.3 L649.3,442.7 L650.3,443.2 L651.3,443.6 L652.2,444.0 L653.2,444.4 L654.2,444.7 L655.1,445.0 L656.1,445.1 L657.0,445.3 L658.0,445.3 L658.9,445.3 L659.8,445.2 L660.6,445.0 L661.5,444.7 L662.4,444.3 L663.2,443.9 L664.0,443.4 L664.8,442.8 L665.6,442.2 L666.4,441.6 L667.2,440.8 L668.0,440.1 L668.8,439.3 L669.6,438.6 L670.4,437.8 L671.1,437.0 L671.9,436.3 L672.7,435.6 L673.5,434.9 L674.3,434.3 L675.1,433.7 L676.0,433.2 L676.8,432.8 L677.6,432.5 L678.5,432.2 L679.4,432.0 L680.3,431.9 L681.2,431.8 L682.1,431.9 L683.0,432.0 L684.0,432.2 L685.0,432.4 L685.9,432.8 L686.9,433.1 L687.9,433.5 L688.9,433.9 L689.9,434.4 L690.9,434.9 L691.9,435.3 L692.8,435.8 L693.8,436.2 L694.8,436.6 L695.8,437.0 L696.8,437.3 L697.7,437.5 L698.7,437.7 L699.6,437.8 L700.5,437.9 L701.4,437.8 L702.3,437.7 L703.2,437.5 L704.1,437.3 L704.9,436.9 L705.8,436.5 L706.6,436.0 L707.4,435.4 L708.2,434.8 L709.0,434.1 L709.8,433.4 L710.6,432.7 L711.4,431.9 L712.1,431.1 L712.9,430.4 L713.7,429.6 L714.5,428.9 L715.3,428.2 L716.1,427.5 L716.9,426.9 L717.7,426.3 L718.5,425.8 L719.4,425.4 L720.2,425.0 L721.1,424.8 L722.0,424.6 L722.9,424.4 L723.8,424.4 L724.7,424.5 L725.6,424.6 L726.6,424.8 L727.5,425.0 L728.5,425.3 L729.5,425.7 L730.5,426.1 L731.4,426.5 L732.4,427.0 L733.4,427.4 L734.4,427.9 L735.4,428.3 L736.4,428.8 L737.4,429.2 L738.4,429.5 L739.3,429.8 L740.3,430.1 L741.2,430.3 L742.2,430.4 L743.1,430.4 L744.0,430.4 L744.9,430.3 L745.8,430.1 L746.6,429.8 L747.5,429.5 L748.3,429.0 L749.2,428.5 L750.0,428.0 L750.8,427.4 L751.6,426.7 L752.4,426.0 L753.2,425.2 L753.9,424.5 L754.7,423.7 L755.5,422.9 L756.3,422.2 L757.1,421.4 L757.8,420.7 L758.6,420.1 L759.5,419.4 L760.3,418.9 L761.1,418.4 L761.9,418.0 L762.8,417.6 L763.7,417.3 L764.5,417.1 L765.4,417.0 L766.3,416.9 L767.2,416.8 L768.1,416.8 L769.1,416.9 L770.0,417.0 L770.9,417.1 L771.9,417.3 L772.8,417.5 L773.8,417.9 L774.8,418.4 L776.0,420.0" fill="none" stroke="#bf6549" stroke-width="2.8" stroke-linecap="round" stroke-linejoin="round"/>
<path d="M696.0,383.0 C698.7,383.8,707.3,387.8,712.0,388.0 C716.7,388.2,720.0,385.0,724.0,384.0 C728.0,383.0,732.5,382.0,736.0,382.0 C739.5,382.0,743.8,382.2,745.0,384.0 C746.2,385.8,743.8,390.5,743.0,393.0 C742.2,395.5,740.5,398.0,740.0,399.0" fill="none" stroke="#bf6549" stroke-width="2.8" stroke-linecap="round" stroke-linejoin="round" />
<path d="M740.0,399.0 C741.3,399.5,745.0,402.3,748.0,402.0 C751.0,401.7,754.7,398.7,758.0,397.0 C761.3,395.3,765.5,392.5,768.0,392.0 C770.5,391.5,772.0,392.5,773.0,394.0 C774.0,395.5,771.8,399.3,774.0,401.0 C776.2,402.7,784.3,402.3,786.0,404.0 C787.7,405.7,785.7,408.3,784.0,411.0 C782.3,413.7,777.3,418.5,776.0,420.0" fill="none" stroke="#bf6549" stroke-width="2.8" stroke-linecap="round" stroke-linejoin="round" />
<path d="M776.0,420.0 C778.3,420.8,786.2,423.2,790.0,425.0 C793.8,426.8,797.3,429.0,799.0,431.0 C800.7,433.0,801.2,435.7,800.0,437.0 C798.8,438.3,793.3,438.7,792.0,439.0" fill="none" stroke="#bf6549" stroke-width="2.8" stroke-linecap="round" stroke-linejoin="round" />
<path d="M792.0,439.0 C790.0,439.0,783.7,438.7,780.0,439.0 C776.3,439.3,772.9,440.0,770.0,441.0 C767.1,442.0,764.0,443.0,762.4,445.0 C760.8,447.0,760.9,451.7,760.6,453.0" fill="none" stroke="#948f90" stroke-width="3.1" stroke-linecap="round" stroke-linejoin="round" />
<path d="M760.6,453.0 C760.2,453.8 759.3,456.8 758.0,458.0 C756.7,459.2 756.0,459.8 753.0,460.0 C750.0,460.2 744.8,459.7 740.0,459.0" fill="none" stroke="#62a5c2" stroke-width="3.4" stroke-linecap="round" stroke-linejoin="round"/>
<path d="M740.0,459.0 C735.2,458.3 728.0,455.8 724.0,456.0 C720.0,456.2 717.0,457.8 716.0,460.0 C715.0,462.2 715.7,465.5 718.0,469.0" fill="none" stroke="#62a5c2" stroke-width="3.9" stroke-linecap="round" stroke-linejoin="round"/>
<path d="M718.0,469.0 C720.3,472.5 725.3,478.3 730.0,481.0 C734.7,483.7 740.7,485.0 746.0,485.0 C751.3,485.0 756.3,482.7 762.0,481.0" fill="none" stroke="#62a5c2" stroke-width="4.3" stroke-linecap="round" stroke-linejoin="round"/>
<path d="M762.0,481.0 C767.7,479.3 774.3,476.1 780.0,475.0 C785.7,473.9 792.2,474.6 796.0,474.6 C799.8,474.6 801.5,474.9 802.6,475.0" fill="none" stroke="#62a5c2" stroke-width="4.8" stroke-linecap="round" stroke-linejoin="round"/>
<path d="M794.2,473.6 C795.6,473.8,799.5,473.5,802.7,474.5 C805.9,475.5,809.6,477.1,813.3,479.8 C817.0,482.4,821.1,486.8,824.9,490.4 C828.8,493.9,832.5,498.1,836.6,500.9 C840.6,503.8,844.7,506.1,849.3,507.3 C853.9,508.5,859.5,508.7,864.1,508.4 C868.7,508.0,873.5,506.8,876.8,505.2 C880.2,503.6,883.0,501.3,884.2,498.8 C885.5,496.4,885.5,493.2,884.2,490.4 C883.0,487.5,880.2,484.4,876.8,481.9 C873.5,479.4,869.8,477.7,864.1,475.5 C858.5,473.4,850.0,471.0,842.9,469.2 C835.9,467.3,827.6,466.0,821.8,464.4 C815.9,462.8,811.1,461.3,808.0,459.7 C804.9,458.0,803.4,455.9,803.2,454.4 C803.1,452.9,804.7,451.4,806.9,450.7 C809.1,449.9,812.2,449.3,816.5,449.6 C820.7,449.9,826.2,451.0,832.4,452.2 C838.5,453.5,847.7,456.0,853.5,457.0 C859.4,458.0,864.3,458.5,867.3,458.1 C870.3,457.6,871.5,455.9,871.5,454.4 C871.5,452.9,869.9,450.9,867.3,449.1 C864.7,447.2,860.6,445.4,855.7,443.2 C850.7,441.1,843.3,438.6,837.6,436.4 C832.0,434.2,825.2,431.8,821.8,430.0 C818.3,428.2,817.5,427.0,817.0,425.8 C816.5,424.5,817.3,423.3,818.6,422.6 C819.9,421.9,821.8,421.2,824.9,421.5 C828.1,421.9,832.0,423.3,837.6,424.7 C843.3,426.1,851.8,428.2,858.8,430.0 C865.9,431.8,873.8,434.1,880.0,435.3 C886.2,436.5,892.3,437.5,895.9,437.4 C899.5,437.3,901.0,436.0,901.7,434.8 C902.4,433.5,901.8,431.7,900.1,430.0 C898.4,428.3,895.9,426.7,891.7,424.7 C887.4,422.8,881.1,420.7,874.7,418.4 C868.4,416.1,860.2,413.2,853.5,410.9 C846.8,408.7,838.6,406.5,834.5,404.6 C830.3,402.7,829.2,401.0,828.6,399.3 C828.1,397.6,829.4,395.6,831.3,394.5 C833.1,393.5,835.2,392.9,839.8,392.9 C844.4,393.0,852.1,393.8,858.8,395.1 C865.5,396.3,872.9,398.5,880.0,400.4 C887.1,402.2,895.4,404.9,901.2,406.2 C907.0,407.4,911.9,408.4,914.9,407.8 C918.0,407.2,919.7,404.2,919.7,402.5 C919.7,400.7,918.0,398.9,914.9,397.2 C911.9,395.4,907.0,393.8,901.2,391.9 C895.4,389.9,886.2,387.6,880.0,385.5 C873.8,383.5,867.5,381.4,864.1,379.7 C860.8,378.0,860.2,376.7,859.9,375.5 C859.5,374.2,860.6,373.0,862.0,372.3 C863.4,371.6,864.5,371.0,868.4,371.2 C872.2,371.5,878.9,372.5,885.3,373.9 C891.7,375.3,899.6,378.1,906.5,379.7 C913.4,381.3,922.4,383.2,926.6,383.4 C930.8,383.6,931.2,382.0,931.9,380.8 C932.6,379.5,932.4,377.7,930.8,376.0 C929.2,374.3,926.4,372.5,922.4,370.7 C918.3,368.9,911.6,367.1,906.5,365.4 C901.4,363.7,894.9,362.0,891.7,360.6 C888.4,359.3,886.9,358.5,886.9,357.5 C886.9,356.4,888.4,354.7,891.7,354.3 C894.9,353.9,900.5,354.2,906.5,354.8 C912.5,355.4,920.6,357.0,927.7,358.0 C934.7,359.0,941.8,360.8,948.8,360.6 C955.9,360.5,966.5,357.6,970.0,356.9" fill="none" stroke="#62a5c2" stroke-width="5.2" stroke-linecap="round" stroke-linejoin="round" />
<path d="M900.0,355.6 C902.5,355.5,909.2,354.4,915.0,355.0 C920.8,355.6,928.7,358.2,935.0,359.0 C941.3,359.8,947.7,360.5,953.0,360.0 C958.3,359.5,962.7,356.8,967.0,356.0 C971.3,355.2,975.7,354.2,979.0,355.0 C982.3,355.8,984.7,358.0,987.0,361.0 C989.3,364.0,990.7,369.7,993.0,373.0 C995.3,376.3,998.0,379.5,1001.0,381.0 C1004.0,382.5,1007.0,383.3,1011.0,382.0 C1015.0,380.7,1020.7,375.7,1025.0,373.0 C1029.3,370.3,1033.3,367.0,1037.0,366.0 C1040.7,365.0,1043.3,365.2,1047.0,367.0 C1050.7,368.8,1055.3,374.0,1059.0,377.0 C1062.7,380.0,1066.3,383.7,1069.0,385.0 C1071.7,386.3,1073.8,386.7,1075.0,385.0 C1076.2,383.3,1076.3,378.7,1076.0,375.0 C1075.7,371.3,1073.0,366.0,1073.0,363.0 C1073.0,360.0,1074.3,357.7,1076.0,357.0 C1077.7,356.3,1080.2,356.3,1083.0,359.0 C1085.8,361.7,1089.7,368.5,1093.0,373.0 C1096.3,377.5,1100.0,383.5,1103.0,386.0 C1106.0,388.5,1109.0,388.8,1111.0,388.0 C1113.0,387.2,1114.3,384.8,1115.0,381.0 C1115.7,377.2,1114.7,369.2,1115.0,365.0 C1115.3,360.8,1115.3,357.5,1117.0,356.0 C1118.7,354.5,1122.0,354.5,1125.0,356.0 C1128.0,357.5,1131.3,360.8,1135.0,365.0 C1138.7,369.2,1143.3,377.0,1147.0,381.0 C1150.7,385.0,1153.3,388.2,1157.0,389.0 C1160.7,389.8,1164.3,387.5,1169.0,386.0 C1173.7,384.5,1179.3,381.3,1185.0,380.0 C1190.7,378.7,1198.8,377.7,1203.0,378.0 C1207.2,378.3,1210.0,380.2,1210.0,382.0 C1210.0,383.8,1207.2,386.5,1203.0,389.0 C1198.8,391.5,1189.7,394.5,1185.0,397.0 C1180.3,399.5,1177.3,401.3,1175.0,404.0 C1172.7,406.7,1172.3,410.0,1171.0,413.0 C1169.7,416.0,1169.0,420.0,1167.0,422.0 C1165.0,424.0,1162.3,425.5,1159.0,425.0 C1155.7,424.5,1151.7,421.7,1147.0,419.0 C1142.3,416.3,1135.7,411.5,1131.0,409.0 C1126.3,406.5,1122.7,404.8,1119.0,404.0 C1115.3,403.2,1112.0,402.8,1109.0,404.0 C1106.0,405.2,1103.3,407.8,1101.0,411.0 C1098.7,414.2,1097.0,419.7,1095.0,423.0 C1093.0,426.3,1091.3,429.7,1089.0,431.0 C1086.7,432.3,1084.0,432.7,1081.0,431.0 C1078.0,429.3,1074.7,425.0,1071.0,421.0 C1067.3,417.0,1063.0,410.8,1059.0,407.0 C1055.0,403.2,1050.7,399.5,1047.0,398.0 C1043.3,396.5,1039.3,396.5,1037.0,398.0 C1034.7,399.5,1033.3,402.5,1033.0,407.0 C1032.7,411.5,1034.3,419.7,1035.0,425.0 C1035.7,430.3,1037.3,435.7,1037.0,439.0 C1036.7,442.3,1035.0,444.3,1033.0,445.0 C1031.0,445.7,1028.0,445.3,1025.0,443.0 C1022.0,440.7,1018.3,436.0,1015.0,431.0 C1011.7,426.0,1008.3,419.0,1005.0,413.0 C1001.7,407.0,998.0,399.2,995.0,395.0 C992.0,390.8,989.7,389.2,987.0,388.0 C984.3,386.8,981.0,386.8,979.0,388.0 C977.0,389.2,975.3,390.5,975.0,395.0 C974.7,399.5,976.0,408.3,977.0,415.0 C978.0,421.7,980.0,429.3,981.0,435.0 C982.0,440.7,983.3,445.8,983.0,449.0 C982.7,452.2,981.0,453.8,979.0,454.0 C977.0,454.2,974.3,452.8,971.0,450.0 C967.7,447.2,963.0,440.8,959.0,437.0 C955.0,433.2,950.7,429.2,947.0,427.0 C943.3,424.8,939.5,423.5,937.0,424.0 C934.5,424.5,932.7,426.2,932.0,430.0 C931.3,433.8,932.3,441.5,933.0,447.0 C933.7,452.5,936.3,458.7,936.0,463.0 C935.7,467.3,934.2,470.5,931.0,473.0 C927.8,475.5,920.7,476.3,917.0,478.0 C913.3,479.7,910.2,480.5,909.0,483.0 C907.8,485.5,908.7,489.7,910.0,493.0 C911.3,496.3,915.0,500.0,917.0,503.0 C919.0,506.0,922.0,508.8,922.0,511.0 C922.0,513.2,919.8,515.3,917.0,516.0 C914.2,516.7,907.8,515.3,905.0,515.0 C902.2,514.7,900.8,514.2,900.0,514.0" fill="none" stroke="#62a5c2" stroke-width="5.2" stroke-linecap="round" stroke-linejoin="round" />
<path d="M900.0,514.0 C898.0,514.2 890.7,514.2 888.0,515.0 C885.3,515.8 883.7,517.0 884.0,519.0 C884.3,521.0 888.3,524.7 890.0,527.0 C891.7,529.3 894.3,531.2 894.0,533.0 C893.7,534.8 892.3,537.3 888.0,538.0" fill="none" stroke="#62a5c2" stroke-width="4.9" stroke-linecap="round" stroke-linejoin="round"/>
<path d="M888.0,538.0 C883.7,538.7 876.0,537.8 868.0,537.0 C860.0,536.2 847.0,533.8 840.0,533.0 C833.0,532.2 828.8,531.5 826.0,532.0 C823.2,532.5 822.3,534.5 823.0,536.0 C823.7,537.5 826.2,539.2 830.0,541.0 C833.8,542.8 841.0,545.2 846.0,547.0" fill="none" stroke="#62a5c2" stroke-width="4.7" stroke-linecap="round" stroke-linejoin="round"/>
<path d="M846.0,547.0 C851.0,548.8 857.3,550.3 860.0,552.0 C862.7,553.7 863.3,555.5 862.0,557.0 C860.7,558.5 855.7,560.0 852.0,561.0 C848.3,562.0 842.8,561.8 840.0,563.0 C837.2,564.2 835.0,566.5 835.0,568.0 C835.0,569.5 835.8,571.0 840.0,572.0" fill="none" stroke="#62a5c2" stroke-width="4.4" stroke-linecap="round" stroke-linejoin="round"/>
<path d="M840.0,572.0 C844.2,573.0 853.3,573.0 860.0,574.0 C866.7,575.0 873.3,576.2 880.0,578.0 C886.7,579.8 895.2,583.0 900.0,585.0 C904.8,587.0 906.2,589.7 909.0,590.0 C911.8,590.3 916.0,588.8 917.0,587.0 C918.0,585.2 917.0,582.3 915.0,579.0" fill="none" stroke="#62a5c2" stroke-width="4.2" stroke-linecap="round" stroke-linejoin="round"/>
<path d="M915.0,579.0 C913.0,575.7 907.3,570.7 905.0,567.0 C902.7,563.3 900.7,559.7 901.0,557.0 C901.3,554.3 903.0,552.5 907.0,551.0 C911.0,549.5 918.7,548.5 925.0,548.0 C931.3,547.5 939.3,548.5 945.0,548.0 C950.7,547.5 956.3,546.8 959.0,545.0" fill="none" stroke="#62a5c2" stroke-width="4.0" stroke-linecap="round" stroke-linejoin="round"/>
<path d="M959.0,545.0 C961.7,543.2 962.0,540.0 961.0,537.0 C960.0,534.0 956.0,530.7 953.0,527.0 C950.0,523.3 945.0,518.3 943.0,515.0 C941.0,511.7 939.7,509.2 941.0,507.0 C942.3,504.8 946.0,503.7 951.0,502.0 C956.0,500.3 967.7,497.8 971.0,497.0" fill="none" stroke="#62a5c2" stroke-width="3.7" stroke-linecap="round" stroke-linejoin="round"/>
<path d="M971.0,497.0 C972.3,496.2,978.3,494.3,979.0,492.0 C979.7,489.7,977.3,485.8,975.0,483.0 C972.7,480.2,966.7,476.3,965.0,475.0" fill="none" stroke="#948f90" stroke-width="3.2" stroke-linecap="round" stroke-linejoin="round" />
<path d="M965.0,475.0 C965.1,474.7,963.1,473.7,965.4,473.0 C967.7,472.3,974.1,472.0,979.0,471.0 C983.9,470.0,990.3,468.8,995.0,467.0 C999.7,465.2,1003.7,461.5,1007.0,460.0 C1010.3,458.5,1012.0,457.5,1015.0,458.0 C1018.0,458.5,1021.7,461.2,1025.0,463.0 C1028.3,464.8,1032.7,467.3,1035.0,469.0 C1037.3,470.7,1038.3,472.3,1039.0,473.0" fill="none" stroke="#bf6549" stroke-width="2.8" stroke-linecap="round" stroke-linejoin="round" />
<path d="M1035.4,473.4 L1036.9,474.9 L1038.1,475.4 L1039.3,475.7 L1040.5,475.8 L1041.7,475.9 L1042.8,476.0 L1043.9,476.0 L1045.0,475.9 L1046.1,475.8 L1047.2,475.7 L1048.3,475.5 L1049.4,475.2 L1050.5,474.9 L1051.5,474.6 L1052.5,474.1 L1053.5,473.6 L1054.5,473.0 L1055.5,472.3 L1056.5,471.6 L1057.4,470.8 L1058.3,470.0 L1059.3,469.1 L1060.2,468.2 L1061.1,467.3 L1062.0,466.5 L1063.0,465.6 L1063.9,464.7 L1064.8,463.9 L1065.8,463.1 L1066.7,462.4 L1067.7,461.7 L1068.7,461.1 L1069.7,460.6 L1070.7,460.1 L1071.8,459.7 L1072.8,459.4 L1073.9,459.2 L1075.0,459.1 L1076.1,459.1 L1077.3,459.1 L1078.4,459.2 L1079.6,459.4 L1080.8,459.6 L1082.0,459.9 L1083.2,460.2 L1084.4,460.5 L1085.6,460.9 L1086.8,461.3 L1088.0,461.7 L1089.3,462.0 L1090.5,462.4 L1091.7,462.7 L1092.9,463.0 L1094.1,463.2 L1095.2,463.4 L1096.4,463.5 L1097.5,463.5 L1098.7,463.5 L1099.8,463.3 L1100.8,463.1 L1101.9,462.8 L1102.9,462.5 L1104.0,462.0 L1105.0,461.5 L1106.0,460.9 L1106.9,460.2 L1107.9,459.5 L1108.8,458.7 L1109.8,457.8 L1110.7,457.0 L1111.6,456.1 L1112.5,455.2 L1113.5,454.3 L1114.4,453.5 L1115.3,452.6 L1116.3,451.8 L1117.2,451.0 L1118.2,450.3 L1119.1,449.6 L1120.1,449.0 L1121.1,448.5 L1122.1,448.0 L1123.2,447.6 L1124.3,447.3 L1125.3,447.1 L1126.4,447.0 L1127.6,446.9 L1128.7,447.0 L1129.8,447.1 L1131.0,447.2 L1132.2,447.5 L1133.4,447.7 L1134.6,448.1 L1135.8,448.4 L1137.0,448.8 L1138.3,449.2 L1139.5,449.6 L1140.7,449.9 L1141.9,450.3 L1143.1,450.6 L1144.3,450.9 L1145.5,451.1 L1146.7,451.3 L1147.8,451.4 L1149.0,451.4 L1150.1,451.3 L1151.2,451.2 L1152.3,451.0 L1153.3,450.7 L1154.4,450.3 L1155.4,449.9 L1156.4,449.3 L1157.4,448.7 L1158.4,448.1 L1159.3,447.3 L1160.3,446.6 L1161.2,445.7 L1162.1,444.9 L1163.0,444.0 L1164.0,443.1 L1164.9,442.2 L1165.8,441.3 L1166.7,440.5 L1167.7,439.7 L1168.6,438.9 L1169.6,438.2 L1170.6,437.5 L1171.6,436.9 L1172.6,436.3 L1173.6,435.9 L1174.6,435.5 L1175.7,435.2 L1176.8,435.0 L1177.9,434.9 L1179.0,434.8 L1180.1,434.9 L1181.3,435.0 L1182.4,435.1 L1183.6,435.4 L1184.8,435.6 L1186.0,436.0 L1187.2,436.3 L1188.5,436.7 L1189.7,437.1 L1190.9,437.4 L1192.1,437.8 L1193.3,438.2 L1194.5,438.5 L1195.7,438.8 L1196.9,439.0 L1198.1,439.2 L1199.2,439.3 L1200.4,439.3 L1201.5,439.2 L1202.6,439.1 L1203.7,438.9 L1204.8,438.6 L1205.8,438.3 L1206.9,437.9 L1207.9,437.5 L1208.9,437.1 L1209.9,436.6 L1210.9,436.1 L1211.9,435.5 L1212.9,434.8 L1213.8,434.0 L1214.7,433.0 L1215.4,431.0 M1035.4,473.4 L1036.1,471.4 L1037.0,470.4 L1037.9,469.6 L1038.9,468.9 L1039.9,468.3 L1040.9,467.8 L1041.9,467.3 L1042.9,466.9 L1043.9,466.5 L1045.0,466.1 L1046.0,465.8 L1047.1,465.5 L1048.2,465.3 L1049.3,465.2 L1050.4,465.1 L1051.6,465.1 L1052.7,465.2 L1053.9,465.4 L1055.1,465.6 L1056.3,465.9 L1057.5,466.2 L1058.7,466.6 L1059.9,467.0 L1061.1,467.3 L1062.3,467.7 L1063.6,468.1 L1064.8,468.4 L1066.0,468.8 L1067.2,469.0 L1068.4,469.3 L1069.5,469.4 L1070.7,469.5 L1071.8,469.6 L1072.9,469.5 L1074.0,469.4 L1075.1,469.2 L1076.2,468.9 L1077.2,468.5 L1078.2,468.1 L1079.2,467.5 L1080.2,466.9 L1081.2,466.2 L1082.2,465.5 L1083.1,464.7 L1084.1,463.9 L1085.0,463.1 L1085.9,462.2 L1086.8,461.3 L1087.8,460.4 L1088.7,459.5 L1089.6,458.7 L1090.5,457.8 L1091.5,457.1 L1092.4,456.3 L1093.4,455.7 L1094.4,455.1 L1095.4,454.5 L1096.4,454.1 L1097.5,453.7 L1098.5,453.4 L1099.6,453.2 L1100.7,453.1 L1101.8,453.0 L1103.0,453.0 L1104.1,453.1 L1105.3,453.3 L1106.5,453.5 L1107.7,453.8 L1108.9,454.1 L1110.1,454.5 L1111.3,454.8 L1112.5,455.2 L1113.8,455.6 L1115.0,456.0 L1116.2,456.3 L1117.4,456.7 L1118.6,456.9 L1119.8,457.2 L1121.0,457.3 L1122.1,457.4 L1123.2,457.5 L1124.4,457.4 L1125.5,457.3 L1126.5,457.1 L1127.6,456.8 L1128.7,456.4 L1129.7,455.9 L1130.7,455.4 L1131.7,454.8 L1132.6,454.1 L1133.6,453.4 L1134.5,452.6 L1135.5,451.8 L1136.4,450.9 L1137.3,450.1 L1138.3,449.2 L1139.2,448.3 L1140.1,447.4 L1141.0,446.6 L1142.0,445.7 L1142.9,444.9 L1143.9,444.2 L1144.8,443.5 L1145.8,442.9 L1146.8,442.4 L1147.9,441.9 L1148.9,441.6 L1150.0,441.3 L1151.0,441.1 L1152.1,440.9 L1153.3,440.9 L1154.4,440.9 L1155.6,441.0 L1156.7,441.2 L1157.9,441.4 L1159.1,441.7 L1160.3,442.0 L1161.5,442.4 L1162.8,442.7 L1164.0,443.1 L1165.2,443.5 L1166.4,443.9 L1167.6,444.2 L1168.8,444.5 L1170.0,444.8 L1171.2,445.0 L1172.4,445.2 L1173.5,445.3 L1174.7,445.3 L1175.8,445.3 L1176.9,445.2 L1178.0,445.0 L1179.0,444.7 L1180.1,444.3 L1181.1,443.8 L1182.1,443.3 L1183.1,442.7 L1184.1,442.0 L1185.0,441.3 L1186.0,440.5 L1186.9,439.7 L1187.8,438.8 L1188.8,437.9 L1189.7,437.1 L1190.6,436.2 L1191.5,435.3 L1192.5,434.4 L1193.4,433.6 L1194.3,432.8 L1195.3,432.1 L1196.3,431.4 L1197.3,430.8 L1198.3,430.3 L1199.3,429.8 L1200.3,429.5 L1201.4,429.2 L1202.5,428.9 L1203.6,428.7 L1204.7,428.6 L1205.8,428.5 L1206.9,428.4 L1208.0,428.4 L1209.1,428.5 L1210.3,428.6 L1211.5,428.7 L1212.7,429.0 L1213.9,429.5 L1215.4,431.0" fill="none" stroke="#bf6549" stroke-width="2.8" stroke-linecap="round" stroke-linejoin="round"/>
<path d="M1021.0,498.0 L1022.3,499.6 L1023.4,500.1 L1024.5,500.4 L1025.5,500.6 L1026.5,500.8 L1027.6,500.9 L1028.5,500.9 L1029.5,500.9 L1030.5,500.8 L1031.5,500.7 L1032.4,500.6 L1033.4,500.4 L1034.3,500.1 L1035.2,499.8 L1036.1,499.4 L1037.0,498.9 L1037.8,498.3 L1038.7,497.7 L1039.5,497.0 L1040.4,496.3 L1041.2,495.5 L1042.0,494.7 L1042.8,493.8 L1043.6,493.0 L1044.4,492.2 L1045.2,491.3 L1046.0,490.5 L1046.8,489.7 L1047.6,489.0 L1048.4,488.3 L1049.3,487.7 L1050.2,487.1 L1051.0,486.6 L1051.9,486.2 L1052.8,485.9 L1053.8,485.6 L1054.7,485.5 L1055.7,485.4 L1056.7,485.4 L1057.7,485.4 L1058.7,485.6 L1059.7,485.8 L1060.8,486.1 L1061.8,486.4 L1062.9,486.8 L1064.0,487.2 L1065.1,487.6 L1066.1,488.0 L1067.2,488.4 L1068.3,488.8 L1069.4,489.2 L1070.4,489.6 L1071.5,489.9 L1072.6,490.2 L1073.6,490.4 L1074.6,490.6 L1075.6,490.6 L1076.6,490.6 L1077.6,490.5 L1078.5,490.4 L1079.4,490.1 L1080.4,489.8 L1081.2,489.4 L1082.1,488.9 L1083.0,488.3 L1083.8,487.7 L1084.7,487.0 L1085.5,486.3 L1086.3,485.5 L1087.1,484.7 L1087.9,483.8 L1088.7,483.0 L1089.5,482.2 L1090.3,481.3 L1091.1,480.5 L1091.9,479.7 L1092.8,479.0 L1093.6,478.3 L1094.4,477.7 L1095.3,477.1 L1096.2,476.6 L1097.1,476.2 L1098.0,475.9 L1098.9,475.6 L1099.9,475.5 L1100.8,475.4 L1101.8,475.4 L1102.8,475.4 L1103.8,475.6 L1104.9,475.8 L1105.9,476.1 L1107.0,476.4 L1108.1,476.8 L1109.1,477.2 L1110.2,477.6 L1111.3,478.0 L1112.4,478.4 L1113.4,478.8 L1114.5,479.2 L1115.6,479.6 L1116.6,479.9 L1117.7,480.2 L1118.7,480.4 L1119.7,480.6 L1120.7,480.6 L1121.7,480.6 L1122.7,480.5 L1123.7,480.4 L1124.6,480.1 L1125.5,479.8 L1126.4,479.4 L1127.3,478.9 L1128.1,478.3 L1129.0,477.7 L1129.8,477.0 L1130.6,476.3 L1131.4,475.5 L1132.3,474.7 L1133.1,473.8 L1133.9,473.0 L1134.7,472.2 L1135.5,471.3 L1136.3,470.5 L1137.1,469.7 L1137.9,469.0 L1138.7,468.3 L1139.6,467.7 L1140.4,467.1 L1141.3,466.6 L1142.2,466.2 L1143.1,465.9 L1144.1,465.6 L1145.0,465.5 L1146.0,465.4 L1147.0,465.4 L1148.0,465.4 L1149.0,465.6 L1150.0,465.8 L1151.1,466.1 L1152.1,466.4 L1153.2,466.8 L1154.3,467.2 L1155.3,467.6 L1156.4,468.0 L1157.5,468.4 L1158.6,468.8 L1159.7,469.2 L1160.7,469.6 L1161.8,469.9 L1162.8,470.2 L1163.9,470.4 L1164.9,470.6 L1165.9,470.6 L1166.9,470.6 L1167.8,470.5 L1168.8,470.4 L1169.7,470.2 L1170.7,469.9 L1171.6,469.6 L1172.5,469.2 L1173.4,468.8 L1174.3,468.4 L1175.1,467.9 L1176.0,467.3 L1176.8,466.6 L1177.7,465.9 L1178.5,465.0 L1179.0,463.0 M1021.0,498.0 L1021.5,496.0 L1022.3,495.1 L1023.2,494.4 L1024.0,493.7 L1024.9,493.1 L1025.7,492.6 L1026.6,492.2 L1027.5,491.8 L1028.4,491.4 L1029.3,491.1 L1030.3,490.8 L1031.2,490.6 L1032.2,490.5 L1033.1,490.4 L1034.1,490.4 L1035.1,490.4 L1036.1,490.6 L1037.2,490.8 L1038.2,491.1 L1039.3,491.4 L1040.3,491.8 L1041.4,492.2 L1042.5,492.6 L1043.6,493.0 L1044.7,493.4 L1045.7,493.8 L1046.8,494.2 L1047.9,494.6 L1048.9,494.9 L1050.0,495.2 L1051.0,495.4 L1052.0,495.6 L1053.0,495.6 L1054.0,495.6 L1055.0,495.5 L1055.9,495.4 L1056.9,495.1 L1057.8,494.8 L1058.7,494.4 L1059.6,493.9 L1060.4,493.3 L1061.3,492.7 L1062.1,492.0 L1062.9,491.3 L1063.7,490.5 L1064.5,489.7 L1065.3,488.8 L1066.1,488.0 L1066.9,487.2 L1067.7,486.3 L1068.6,485.5 L1069.4,484.7 L1070.2,484.0 L1071.0,483.3 L1071.9,482.7 L1072.7,482.1 L1073.6,481.6 L1074.5,481.2 L1075.4,480.9 L1076.3,480.6 L1077.3,480.5 L1078.3,480.4 L1079.3,480.4 L1080.3,480.4 L1081.3,480.6 L1082.3,480.8 L1083.4,481.1 L1084.4,481.4 L1085.5,481.8 L1086.6,482.2 L1087.6,482.6 L1088.7,483.0 L1089.8,483.4 L1090.9,483.8 L1091.9,484.2 L1093.0,484.6 L1094.1,484.9 L1095.1,485.2 L1096.2,485.4 L1097.2,485.6 L1098.2,485.6 L1099.2,485.6 L1100.1,485.5 L1101.1,485.4 L1102.0,485.1 L1102.9,484.8 L1103.8,484.4 L1104.7,483.9 L1105.6,483.3 L1106.4,482.7 L1107.2,482.0 L1108.1,481.3 L1108.9,480.5 L1109.7,479.7 L1110.5,478.8 L1111.3,478.0 L1112.1,477.2 L1112.9,476.3 L1113.7,475.5 L1114.5,474.7 L1115.3,474.0 L1116.2,473.3 L1117.0,472.7 L1117.9,472.1 L1118.8,471.6 L1119.6,471.2 L1120.6,470.9 L1121.5,470.6 L1122.4,470.5 L1123.4,470.4 L1124.4,470.4 L1125.4,470.4 L1126.4,470.6 L1127.4,470.8 L1128.5,471.1 L1129.6,471.4 L1130.6,471.8 L1131.7,472.2 L1132.8,472.6 L1133.9,473.0 L1134.9,473.4 L1136.0,473.8 L1137.1,474.2 L1138.2,474.6 L1139.2,474.9 L1140.3,475.2 L1141.3,475.4 L1142.3,475.6 L1143.3,475.6 L1144.3,475.6 L1145.3,475.5 L1146.2,475.4 L1147.2,475.1 L1148.1,474.8 L1149.0,474.4 L1149.8,473.9 L1150.7,473.3 L1151.6,472.7 L1152.4,472.0 L1153.2,471.3 L1154.0,470.5 L1154.8,469.7 L1155.6,468.8 L1156.4,468.0 L1157.2,467.2 L1158.0,466.3 L1158.8,465.5 L1159.6,464.7 L1160.5,464.0 L1161.3,463.3 L1162.2,462.7 L1163.0,462.1 L1163.9,461.6 L1164.8,461.2 L1165.7,460.9 L1166.6,460.6 L1167.6,460.4 L1168.5,460.3 L1169.5,460.2 L1170.5,460.1 L1171.5,460.1 L1172.4,460.1 L1173.5,460.2 L1174.5,460.4 L1175.5,460.6 L1176.6,460.9 L1177.7,461.4 L1179.0,463.0" fill="none" stroke="#bf6549" stroke-width="2.8" stroke-linecap="round" stroke-linejoin="round"/>
<path d="M991.0,530.0 L992.4,531.5 L993.6,532.0 L994.7,532.4 L995.8,532.6 L996.9,532.7 L998.0,532.8 L999.1,532.8 L1000.2,532.8 L1001.2,532.7 L1002.3,532.6 L1003.3,532.4 L1004.3,532.2 L1005.3,532.0 L1006.3,531.6 L1007.3,531.2 L1008.3,530.7 L1009.2,530.1 L1010.1,529.5 L1011.0,528.8 L1011.9,528.0 L1012.8,527.2 L1013.7,526.4 L1014.6,525.5 L1015.5,524.7 L1016.4,523.8 L1017.3,523.0 L1018.2,522.1 L1019.1,521.3 L1020.0,520.6 L1020.9,519.9 L1021.8,519.2 L1022.7,518.7 L1023.7,518.2 L1024.7,517.7 L1025.7,517.4 L1026.7,517.1 L1027.7,516.9 L1028.8,516.8 L1029.8,516.8 L1030.9,516.9 L1032.0,517.0 L1033.1,517.2 L1034.2,517.5 L1035.4,517.8 L1036.5,518.1 L1037.7,518.5 L1038.8,518.9 L1040.0,519.3 L1041.2,519.7 L1042.3,520.2 L1043.5,520.5 L1044.6,520.9 L1045.8,521.2 L1046.9,521.5 L1048.0,521.7 L1049.1,521.8 L1050.2,521.8 L1051.2,521.8 L1052.3,521.7 L1053.3,521.6 L1054.3,521.3 L1055.3,520.9 L1056.3,520.5 L1057.3,520.0 L1058.2,519.4 L1059.1,518.8 L1060.0,518.1 L1060.9,517.3 L1061.8,516.5 L1062.7,515.7 L1063.6,514.9 L1064.5,514.0 L1065.4,513.1 L1066.3,512.3 L1067.2,511.5 L1068.1,510.7 L1069.0,509.9 L1069.9,509.2 L1070.8,508.6 L1071.7,508.0 L1072.7,507.5 L1073.7,507.1 L1074.7,506.7 L1075.7,506.4 L1076.7,506.3 L1077.8,506.2 L1078.8,506.2 L1079.9,506.2 L1081.0,506.3 L1082.1,506.5 L1083.2,506.8 L1084.4,507.1 L1085.5,507.5 L1086.7,507.8 L1087.8,508.3 L1089.0,508.7 L1090.2,509.1 L1091.3,509.5 L1092.5,509.9 L1093.6,510.2 L1094.8,510.5 L1095.9,510.8 L1097.0,511.0 L1098.1,511.1 L1099.2,511.2 L1100.2,511.2 L1101.3,511.1 L1102.3,510.9 L1103.3,510.6 L1104.3,510.3 L1105.3,509.8 L1106.3,509.3 L1107.2,508.8 L1108.1,508.1 L1109.0,507.4 L1109.9,506.7 L1110.8,505.9 L1111.7,505.0 L1112.6,504.2 L1113.5,503.3 L1114.4,502.5 L1115.3,501.6 L1116.2,500.8 L1117.1,500.0 L1118.0,499.2 L1118.9,498.5 L1119.8,497.9 L1120.7,497.3 L1121.7,496.8 L1122.7,496.4 L1123.7,496.0 L1124.7,495.8 L1125.7,495.6 L1126.7,495.4 L1127.8,495.3 L1128.8,495.2 L1129.9,495.2 L1131.0,495.2 L1132.1,495.3 L1133.2,495.4 L1134.3,495.6 L1135.4,496.0 L1136.6,496.5 L1138.0,498.0 M991.0,530.0 L991.6,528.0 L992.5,527.1 L993.4,526.3 L994.3,525.7 L995.3,525.1 L996.2,524.6 L997.2,524.1 L998.2,523.7 L999.2,523.3 L1000.2,523.0 L1001.2,522.7 L1002.2,522.4 L1003.2,522.3 L1004.3,522.2 L1005.3,522.2 L1006.4,522.2 L1007.5,522.3 L1008.6,522.5 L1009.7,522.8 L1010.9,523.1 L1012.0,523.5 L1013.2,523.8 L1014.3,524.3 L1015.5,524.7 L1016.7,525.1 L1017.8,525.5 L1019.0,525.9 L1020.1,526.2 L1021.3,526.5 L1022.4,526.8 L1023.5,527.0 L1024.6,527.1 L1025.7,527.2 L1026.7,527.2 L1027.8,527.1 L1028.8,526.9 L1029.8,526.6 L1030.8,526.3 L1031.8,525.8 L1032.8,525.3 L1033.7,524.8 L1034.6,524.1 L1035.5,523.4 L1036.4,522.7 L1037.3,521.9 L1038.2,521.0 L1039.1,520.2 L1040.0,519.3 L1040.9,518.5 L1041.8,517.6 L1042.7,516.8 L1043.6,516.0 L1044.5,515.2 L1045.4,514.5 L1046.3,513.9 L1047.2,513.3 L1048.2,512.8 L1049.2,512.4 L1050.2,512.0 L1051.2,511.8 L1052.2,511.6 L1053.3,511.5 L1054.3,511.5 L1055.4,511.5 L1056.5,511.7 L1057.6,511.9 L1058.7,512.1 L1059.9,512.4 L1061.0,512.8 L1062.2,513.2 L1063.3,513.6 L1064.5,514.0 L1065.7,514.4 L1066.8,514.8 L1068.0,515.2 L1069.1,515.6 L1070.3,515.9 L1071.4,516.1 L1072.5,516.3 L1073.6,516.5 L1074.7,516.5 L1075.7,516.5 L1076.8,516.4 L1077.8,516.2 L1078.8,516.0 L1079.8,515.6 L1080.8,515.2 L1081.8,514.7 L1082.7,514.1 L1083.6,513.5 L1084.5,512.8 L1085.4,512.0 L1086.3,511.2 L1087.2,510.4 L1088.1,509.5 L1089.0,508.7 L1089.9,507.8 L1090.8,507.0 L1091.7,506.1 L1092.6,505.3 L1093.5,504.6 L1094.4,503.9 L1095.3,503.2 L1096.2,502.7 L1097.2,502.2 L1098.2,501.7 L1099.2,501.4 L1100.2,501.1 L1101.2,500.9 L1102.3,500.8 L1103.3,500.8 L1104.4,500.9 L1105.5,501.0 L1106.6,501.2 L1107.7,501.5 L1108.9,501.8 L1110.0,502.1 L1111.2,502.5 L1112.3,502.9 L1113.5,503.3 L1114.7,503.7 L1115.8,504.2 L1117.0,504.5 L1118.1,504.9 L1119.3,505.2 L1120.4,505.5 L1121.5,505.7 L1122.6,505.8 L1123.7,505.8 L1124.7,505.8 L1125.8,505.7 L1126.8,505.6 L1127.8,505.3 L1128.8,505.0 L1129.8,504.7 L1130.8,504.3 L1131.8,503.9 L1132.8,503.4 L1133.7,502.9 L1134.7,502.3 L1135.6,501.7 L1136.5,500.9 L1137.4,500.0 L1138.0,498.0" fill="none" stroke="#bf6549" stroke-width="2.8" stroke-linecap="round" stroke-linejoin="round"/>
<path d="M1035.4,473.4 C1034.7,474.2,1034.4,477.2,1031.0,478.0 C1027.6,478.8,1019.3,477.5,1015.0,478.0 C1010.7,478.5,1006.8,479.5,1005.0,481.0 C1003.2,482.5,1002.3,485.5,1004.0,487.0 C1005.7,488.5,1012.2,488.2,1015.0,490.0 C1017.8,491.8,1020.0,496.7,1021.0,498.0" fill="none" stroke="#bf6549" stroke-width="2.8" stroke-linecap="round" stroke-linejoin="round" />
<path d="M1021.0,498.0 C1020.0,498.8,1017.3,501.7,1015.0,503.0 C1012.7,504.3,1009.7,506.3,1007.0,506.0 C1004.3,505.7,1001.3,502.3,999.0,501.0 C996.7,499.7,994.7,497.7,993.0,498.0 C991.3,498.3,989.8,501.2,989.0,503.0 C988.2,504.8,989.3,507.3,988.0,509.0 C986.7,510.7,982.7,511.5,981.0,513.0 C979.3,514.5,977.7,516.0,978.0,518.0 C978.3,520.0,980.8,523.0,983.0,525.0 C985.2,527.0,989.7,529.2,991.0,530.0" fill="none" stroke="#bf6549" stroke-width="2.8" stroke-linecap="round" stroke-linejoin="round" />
<path d="M991.0,530.0 C990.0,531.2,986.8,534.2,985.0,537.0 C983.2,539.8,981.0,544.0,980.0,547.0 C979.0,550.0,978.2,552.3,979.0,555.0 C979.8,557.7,982.8,560.8,985.0,563.0 C987.2,565.2,991.0,566.5,992.0,568.0 C993.0,569.5,992.8,571.2,991.0,572.0 C989.2,572.8,982.7,572.8,981.0,573.0" fill="none" stroke="#bf6549" stroke-width="2.8" stroke-linecap="round" stroke-linejoin="round" />
<path d="M981.0,573.0 C979.3,573.0,974.7,573.0,971.0,573.0 C967.3,573.0,962.7,572.9,959.0,573.0 C955.3,573.1,950.7,573.3,949.0,573.4" fill="none" stroke="#948f90" stroke-width="3.2" stroke-linecap="round" stroke-linejoin="round" />
<path d="M949.0,573.4 C948.0,573.5 944.5,573.2 943.0,574.0 C941.5,574.8 938.7,576.5 940.0,578.0 C941.3,579.5 945.8,581.0 951.0,583.0" fill="none" stroke="#62a5c2" stroke-width="3.8" stroke-linecap="round" stroke-linejoin="round"/>
<path d="M951.0,583.0 C956.2,585.0 966.0,588.0 971.0,590.0 C976.0,592.0 980.3,593.3 981.0,595.0 C981.7,596.7 979.3,598.7 975.0,600.0 C970.7,601.3 958.3,602.5 955.0,603.0" fill="none" stroke="#62a5c2" stroke-width="4.4" stroke-linecap="round" stroke-linejoin="round"/>
<path d="M955.0,603.0 C953.2,603.5,944.7,604.5,944.0,606.0 C943.3,607.5,946.8,609.8,951.0,612.0 C955.2,614.2,965.5,617.0,969.0,619.0 C972.5,621.0,973.3,622.7,972.0,624.0 C970.7,625.3,967.2,625.7,961.0,627.0 C954.8,628.3,941.7,630.7,935.0,632.0 C928.3,633.3,922.7,633.8,921.0,635.0 C919.3,636.2,921.0,638.2,925.0,639.0 C929.0,639.8,939.3,638.8,945.0,640.0 C950.7,641.2,954.3,644.5,959.0,646.0 C963.7,647.5,968.0,649.3,973.0,649.0 C978.0,648.7,984.0,646.7,989.0,644.0 C994.0,641.3,1000.5,636.0,1003.0,633.0 C1005.5,630.0,1004.7,628.3,1004.0,626.0 C1003.3,623.7,999.2,621.2,999.0,619.0 C998.8,616.8,999.7,614.2,1003.0,613.0 C1006.3,611.8,1014.5,612.5,1019.0,612.0 C1023.5,611.5,1028.7,611.5,1030.0,610.0 C1031.3,608.5,1029.8,605.8,1027.0,603.0 C1024.2,600.2,1016.2,595.8,1013.0,593.0 C1009.8,590.2,1007.7,587.8,1008.0,586.0 C1008.3,584.2,1012.5,583.8,1015.0,582.0 C1017.5,580.2,1021.7,578.8,1023.0,575.0 C1024.3,571.2,1022.8,563.7,1023.0,559.0 C1023.2,554.3,1022.7,549.3,1024.0,547.0 C1025.3,544.7,1028.5,544.3,1031.0,545.0 C1033.5,545.7,1036.3,548.3,1039.0,551.0 C1041.7,553.7,1044.0,558.3,1047.0,561.0 C1050.0,563.7,1053.3,565.8,1057.0,567.0 C1060.7,568.2,1066.5,567.0,1069.0,568.0 C1071.5,569.0,1073.0,571.2,1072.0,573.0 C1071.0,574.8,1066.5,577.2,1063.0,579.0 C1059.5,580.8,1052.7,582.2,1051.0,584.0 C1049.3,585.8,1050.3,588.8,1053.0,590.0 C1055.7,591.2,1062.3,590.8,1067.0,591.0 C1071.7,591.2,1078.2,590.2,1081.0,591.0 C1083.8,591.8,1085.0,594.2,1084.0,596.0 C1083.0,597.8,1079.5,600.3,1075.0,602.0 C1070.5,603.7,1060.5,604.3,1057.0,606.0 C1053.5,607.7,1052.7,610.8,1054.0,612.0 C1055.3,613.2,1060.8,612.8,1065.0,613.0 C1069.2,613.2,1075.7,612.0,1079.0,613.0 C1082.3,614.0,1085.0,616.3,1085.0,619.0 C1085.0,621.7,1081.2,626.3,1079.0,629.0 C1076.8,631.7,1072.0,633.5,1072.0,635.0 C1072.0,636.5,1075.2,637.7,1079.0,638.0 C1082.8,638.3,1090.3,636.2,1095.0,637.0 C1099.7,637.8,1105.0,642.0,1107.0,643.0" fill="none" stroke="#62a5c2" stroke-width="5.0" stroke-linecap="round" stroke-linejoin="round" />
<path d="M1107.0,643.0 C1108.7,643.8 1114.8,647.8 1117.0,648.0 C1119.2,648.2 1120.7,646.5 1120.0,644.0 C1119.3,641.5 1115.5,636.8 1113.0,633.0 C1110.5,629.2 1105.7,623.7 1105.0,621.0" fill="none" stroke="#62a5c2" stroke-width="4.7" stroke-linecap="round" stroke-linejoin="round"/>
<path d="M1105.0,621.0 C1104.3,618.3 1105.7,617.0 1109.0,617.0 C1112.3,617.0 1119.7,619.5 1125.0,621.0 C1130.3,622.5 1137.7,625.8 1141.0,626.0 C1144.3,626.2 1146.0,623.8 1145.0,622.0" fill="none" stroke="#62a5c2" stroke-width="4.4" stroke-linecap="round" stroke-linejoin="round"/>
<path d="M1145.0,622.0 C1144.0,620.2 1139.3,617.8 1135.0,615.0 C1130.7,612.2 1122.3,607.3 1119.0,605.0 C1115.7,602.7 1114.0,602.2 1115.0,601.0 C1116.0,599.8 1120.0,598.7 1125.0,598.0" fill="none" stroke="#62a5c2" stroke-width="4.2" stroke-linecap="round" stroke-linejoin="round"/>
<path d="M1125.0,598.0 C1130.0,597.3 1139.5,597.3 1145.0,597.0 C1150.5,596.7 1156.7,597.0 1158.0,596.0 C1159.3,595.0 1156.8,592.7 1153.0,591.0 C1149.2,589.3 1140.0,587.7 1135.0,586.0" fill="none" stroke="#62a5c2" stroke-width="3.9" stroke-linecap="round" stroke-linejoin="round"/>
<path d="M1135.0,586.0 C1130.0,584.3 1125.3,582.8 1123.0,581.0 C1120.7,579.2 1119.7,576.7 1121.0,575.0 C1122.3,573.3 1128.0,572.3 1131.0,571.0 C1134.0,569.7 1138.3,568.7 1139.0,567.0 C1139.7,565.3 1139.0,562.8 1135.0,561.0" fill="none" stroke="#62a5c2" stroke-width="3.6" stroke-linecap="round" stroke-linejoin="round"/>
<path d="M1135.0,561.0 C1131.0,559.2 1121.7,557.7 1115.0,556.0 C1108.3,554.3 1100.0,553.2 1095.0,551.0 C1090.0,548.8 1086.5,545.7 1085.0,543.0 C1083.5,540.3 1084.3,536.7 1086.0,535.0" fill="none" stroke="#62a5c2" stroke-width="3.4" stroke-linecap="round" stroke-linejoin="round"/>
<path d="M1086.0,535.0 C1087.7,533.3 1090.2,532.5 1095.0,533.0 C1099.8,533.5 1108.3,537.0 1115.0,538.0 C1121.7,539.0 1129.0,540.2 1135.0,539.0 C1141.0,537.8 1146.0,533.8 1151.0,531.0" fill="none" stroke="#62a5c2" stroke-width="3.1" stroke-linecap="round" stroke-linejoin="round"/>
<path d="M1151.0,531.0 C1156.0,528.2 1161.0,524.0 1165.0,522.0 C1169.0,520.0 1172.7,518.7 1175.0,519.0 C1177.3,519.3 1179.0,521.0 1179.0,524.0 C1179.0,527.0 1177.0,532.2 1175.0,537.0" fill="none" stroke="#62a5c2" stroke-width="2.9" stroke-linecap="round" stroke-linejoin="round"/>
<path d="M1175.0,537.0 C1173.0,541.8 1168.3,548.3 1167.0,553.0 C1165.7,557.7 1165.0,561.3 1167.0,565.0 C1169.0,568.7 1175.3,571.7 1179.0,575.0 C1182.7,578.3 1187.3,581.7 1189.0,585.0" fill="none" stroke="#62a5c2" stroke-width="2.6" stroke-linecap="round" stroke-linejoin="round"/>
<path d="M1189.0,585.0 C1190.7,588.3 1190.7,592.0 1189.0,595.0 C1187.3,598.0 1181.7,600.3 1179.0,603.0 C1176.3,605.7 1173.7,607.7 1173.0,611.0 C1172.3,614.3 1174.0,618.8 1175.0,623.0 C1176.0,627.2 1178.3,633.8 1179.0,636.0" fill="none" stroke="#62a5c2" stroke-width="2.3" stroke-linecap="round" stroke-linejoin="round"/>
<path d="M864.7,382.9 L868.4,394.5 M917.1,386.1 L911.2,391.9 M833.4,409.4 L835.5,420.5 M898.0,410.4 L886.4,418.9 M841.9,439.5 L833.4,450.7 M876.8,437.4 L868.9,445.4 M630.0,529.0 L643.0,522.0 M740.0,513.6 L754.0,518.0 M554.0,573.0 L565.0,563.0 M548.0,608.0 L559.0,602.0 M981.0,415.0 L993.0,403.0 M1007.0,608.0 L1014.6,596.0 M1079.0,602.0 L1083.0,610.0 M1121.0,596.0 L1130.0,588.6" fill="none" stroke="#ea3c1e" stroke-width="2.2" stroke-dasharray="2,2.6"/>
<rect x="229" y="341" width="1003" height="336" fill="none" stroke="#505050" stroke-width="1.3" stroke-dasharray="13,9"/>
</g>
<g id="pa">
<path d="M33.6,63.5 C35.5,63.3,39.4,63.6,45.0,62.5 C50.6,61.4,59.5,57.8,67.0,57.0 C74.5,56.2,82.2,57.1,90.0,57.5 C97.8,57.9,106.5,58.6,114.0,59.3 C121.5,60.0,127.9,60.6,135.0,61.5 C142.1,62.4,148.2,63.4,156.5,64.7 C164.8,66.0,176.4,68.2,185.0,69.5 C193.6,70.8,201.3,72.0,208.0,72.5 C214.7,73.0,219.1,72.8,225.0,72.5 C230.9,72.2,236.3,71.8,243.5,70.6 C250.7,69.3,260.1,66.8,268.0,65.0 C275.9,63.2,283.6,61.2,290.6,60.0 C297.6,58.8,303.3,58.2,310.0,57.5 C316.7,56.8,323.9,56.0,330.6,56.0 C337.3,56.0,343.8,56.8,350.0,57.5 C356.2,58.2,362.7,58.9,368.0,60.0 C373.3,61.1,377.2,63.0,382.0,64.0 C386.8,65.0,390.2,64.8,396.5,65.9 C402.8,67.0,411.6,69.6,420.0,70.6 C428.4,71.6,437.8,71.5,447.0,71.8 C456.2,72.1,466.0,72.2,475.0,72.2 C484.0,72.2,494.0,72.7,501.0,71.8 C508.0,70.9,511.9,68.6,517.0,67.0 C522.1,65.4,526.3,63.8,531.8,62.4 C537.3,61.0,543.7,59.6,550.0,58.5 C556.3,57.4,562.7,56.3,569.4,56.0 C576.1,55.7,584.1,56.2,590.0,56.5 C595.9,56.8,602.2,57.4,604.7,57.6 C607.5,58 609.4,59.5 609.4,62.4 L609.4,80.5 L33.6,80.5 Z" fill="#efefed" stroke="#111" stroke-width="1.3" stroke-linejoin="round"/>
<path d="M33.6,214.0 C38.0,214.8,50.5,217.2,60.0,218.5 C69.5,219.8,81.4,221.9,90.6,222.0 C99.8,222.1,107.2,220.3,115.0,219.0 C122.8,217.7,128.4,215.6,137.6,214.0 C146.8,212.4,160.2,210.8,170.0,209.5 C179.8,208.2,187.4,207.0,196.5,206.0 C205.6,205.0,216.6,203.2,224.7,203.5 C232.8,203.8,237.9,205.9,245.0,207.5 C252.1,209.1,259.5,210.9,267.0,213.0 C274.5,215.1,282.2,218.1,290.0,220.0 C297.8,221.9,306.0,224.3,314.0,224.7 C322.0,225.1,330.2,223.5,338.0,222.5 C345.8,221.5,352.3,220.4,361.0,218.8 C369.7,217.2,380.2,214.8,390.0,213.0 C399.8,211.2,411.3,209.2,420.0,208.0 C428.7,206.8,434.5,206.3,442.0,206.0 C449.5,205.7,457.1,205.8,465.0,206.0 C472.9,206.2,483.1,206.6,489.4,207.5 C495.7,208.4,499.1,210.2,503.0,211.5 C506.9,212.8,506.8,213.7,513.0,215.0 C519.2,216.3,531.4,218.3,540.0,219.5 C548.6,220.7,556.4,221.7,564.7,222.0 C573.0,222.3,583.3,221.7,590.0,221.5 C596.7,221.3,602.5,221.1,605.0,221.0 C608,221 609.4,220.5 609.4,219 L609.4,197 L33.6,197 Z" fill="#efefed" stroke="#111" stroke-width="1.3" stroke-linejoin="round"/>
<path d="M286.4,215.5 C289.6,218.2 293.9,218.2 297.2,215.5 S304.7,212.9 307.9,215.6 M482.6,77.4 C485.1,79.1 488.5,79.0 491.1,77.2 S497.0,75.2 499.5,76.9 M366.3,69.8 C370.1,72.9 375.3,73.3 379.1,70.9 S388.1,68.9 392.0,72.0 M67.2,64.0 C69.4,66.3 72.3,66.2 74.5,63.8 S79.5,61.3 81.7,63.7 M323.7,209.9 C327.4,211.9 332.3,211.8 336.0,209.6 S344.6,207.3 348.3,209.3 M429.0,74.5 C431.7,70.8 435.3,69.9 438.0,72.3 S444.3,73.8 447.0,70.1 M94.2,61.1 C96.3,63.3 99.1,63.6 101.3,61.9 S106.2,60.5 108.3,62.6 M296.3,206.4 C298.5,203.5 301.5,203.8 303.8,207.0 S309.1,210.4 311.4,207.5 M222.0,74.6 C225.0,77.1 229.0,78.0 232.0,77.0 S239.0,76.9 242.0,79.4 M40.1,72.0 C43.8,73.9 48.7,73.0 52.4,69.9 S61.0,65.8 64.6,67.7 M267.9,71.9 C272.2,67.5 278.0,65.8 282.3,67.8 S292.3,68.2 296.6,63.7 M590.8,62.5 C595.3,65.4 601.3,65.7 605.8,63.3 S616.2,61.3 620.7,64.2 M586.0,63.9 C590.0,65.6 595.2,65.1 599.2,62.6 S608.3,59.6 612.3,61.3 M75.4,72.1 C77.6,74.7 80.4,74.5 82.6,71.6 S87.5,68.5 89.7,71.1 M569.2,70.4 C573.3,71.4 578.8,70.4 582.9,67.9 S592.5,64.4 596.6,65.4 M490.3,75.0 C494.1,74.1 499.1,75.3 502.9,78.2 S511.6,82.3 515.4,81.3 M526.3,205.3 C528.5,208.1 531.6,207.3 533.8,203.3 S539.1,198.4 541.4,201.3 M446.8,76.2 C451.1,78.7 456.8,78.7 461.1,76.1 S471.0,73.5 475.3,76.1 M104.5,72.9 C108.0,74.0 112.6,72.9 116.1,70.1 S124.2,66.2 127.7,67.3 M451.9,76.2 C454.5,77.6 458.0,76.7 460.6,73.9 S466.7,70.3 469.3,71.7 M85.4,68.5 C88.3,71.4 92.1,71.9 95.0,69.7 S101.7,68.0 104.6,71.0 M363.2,206.7 C366.1,208.0 370.0,207.6 373.0,205.7 S379.8,203.4 382.8,204.6 M303.1,205.2 C307.5,206.7 313.3,205.3 317.7,201.7 S327.9,196.6 332.2,198.1 M536.3,211.3 C540.2,210.0 545.4,211.2 549.3,214.4 S558.4,218.7 562.3,217.4 M536.7,205.9 C540.6,204.1 545.8,205.1 549.7,208.6 S558.9,213.1 562.8,211.3 M245.6,72.7 C247.8,70.1 250.9,69.5 253.1,71.0 S258.4,71.9 260.7,69.4 M440.3,77.9 C443.8,81.0 448.5,80.8 452.0,77.5 S460.1,74.1 463.6,77.1 M323.4,205.4 C325.7,208.2 328.6,207.4 330.9,203.4 S336.1,198.5 338.3,201.3 M311.5,220.3 C314.1,221.6 317.6,220.7 320.2,217.8 S326.3,214.0 328.9,215.4 M323.3,206.2 C327.6,204.2 333.4,204.2 337.7,206.2 S347.8,208.1 352.1,206.1 M405.6,73.9 C409.5,71.6 414.7,72.8 418.7,77.0 S427.8,82.4 431.7,80.1 M156.5,200.4 C158.9,203.5 162.2,203.2 164.6,199.7 S170.2,195.9 172.6,199.0 M430.9,199.9 C433.4,201.9 436.7,201.8 439.2,199.7 S445.1,197.5 447.6,199.5 M497.6,76.8 C501.3,74.1 506.2,74.7 509.9,78.3 S518.5,82.5 522.2,79.8 M212.8,199.3 C216.3,197.6 221.0,198.0 224.6,200.4 S232.8,203.3 236.4,201.6 M206.4,198.1 C208.9,196.5 212.1,196.4 214.5,197.9 S220.2,199.3 222.6,197.7 M166.5,68.9 C170.1,66.0 174.9,65.9 178.5,68.5 S186.9,71.0 190.5,68.2 M568.8,202.4 C572.0,200.3 576.3,199.5 579.4,200.4 S586.9,200.6 590.1,198.5 M332.4,63.0 C336.4,66.5 341.7,66.6 345.7,63.3 S354.9,60.1 358.9,63.6 M253.6,206.7 C255.8,210.2 258.8,211.0 261.1,208.6 S266.3,206.9 268.5,210.4 M285.4,77.7 C287.5,74.9 290.3,75.0 292.4,77.9 S297.4,80.8 299.5,78.1 M292.7,202.2 C296.5,205.7 301.6,206.6 305.3,204.5 S314.1,203.3 317.9,206.7 M153.0,209.6 C157.5,206.6 163.4,206.8 167.8,209.9 S178.2,213.2 182.7,210.2 M180.1,198.1 C183.3,195.1 187.6,194.0 190.8,195.3 S198.3,195.5 201.5,192.5 M462.7,74.2 C466.6,76.3 471.8,75.0 475.7,70.9 S484.9,65.5 488.8,67.7 M331.5,219.2 C334.6,216.7 338.7,217.9 341.8,222.1 S349.1,227.5 352.2,225.1 M561.7,78.5 C564.0,75.5 567.0,75.1 569.3,77.3 S574.6,79.0 576.9,76.1 M497.8,199.6 C501.0,198.4 505.4,199.4 508.6,202.2 S516.2,205.9 519.4,204.7 M566.8,211.4 C569.5,208.2 573.2,207.5 576.0,209.5 S582.5,210.8 585.3,207.6 M353.7,70.5 C357.0,72.2 361.4,72.5 364.7,71.1 S372.4,70.0 375.7,71.8 M321.9,75.3 C325.4,78.2 330.0,78.2 333.4,75.3 S341.5,72.4 344.9,75.2 M553.4,78.0 C557.4,75.8 562.8,75.5 566.8,77.2 S576.2,78.7 580.2,76.5 M104.8,76.0 C109.1,78.1 114.8,78.0 119.1,75.8 S129.0,73.6 133.3,75.6 M268.1,70.2 C271.8,72.8 276.6,74.1 280.3,73.6 S288.8,74.3 292.4,76.9 M160.8,201.5 C163.8,203.4 167.7,203.6 170.6,202.1 S177.5,200.9 180.5,202.8 M509.4,207.9 C513.1,207.1 518.0,208.2 521.7,210.5 S530.3,213.9 534.0,213.2 M494.5,202.8 C498.6,204.9 504.2,205.0 508.4,203.1 S518.1,201.3 522.3,203.4 M509.0,209.7 C511.6,213.1 515.1,213.6 517.8,210.8 S523.9,208.6 526.6,212.0 M210.3,79.1 C212.8,83.1 216.1,84.1 218.7,81.5 S224.5,79.9 227.1,83.9 M530.0,66.2 C533.1,69.5 537.1,69.4 540.1,65.9 S547.2,62.2 550.2,65.5 M146.0,208.3 C148.3,206.1 151.4,206.3 153.7,208.6 S159.2,211.0 161.5,208.9 M98.4,214.0 C101.7,216.2 106.1,216.6 109.4,215.1 S117.0,214.0 120.3,216.2 M303.0,75.0 C306.5,78.2 311.1,79.3 314.6,77.6 S322.7,77.0 326.2,80.3 M137.0,77.0 C141.3,79.7 147.1,81.2 151.5,80.5 S161.6,81.3 166.0,84.1 M109.0,199.5 C111.4,197.0 114.5,196.8 116.8,199.1 S122.2,201.1 124.5,198.6 M274.0,198.2 C277.7,197.1 282.6,198.0 286.4,200.6 S295.0,204.2 298.7,203.0 M234.6,79.0 C238.1,75.1 242.7,74.1 246.2,76.4 S254.2,77.6 257.7,73.7 M532.4,210.8 C536.6,213.5 542.1,213.9 546.2,211.9 S555.9,210.2 560.1,212.9 M315.4,217.8 C318.0,221.4 321.6,222.2 324.2,219.8 S330.4,218.3 333.0,221.9 M488.6,78.9 C492.8,82.4 498.3,83.0 502.5,80.5 S512.3,78.5 516.5,82.0 M260.4,198.8 C263.3,197.2 267.2,197.2 270.1,198.6 S277.0,200.0 279.9,198.5 M586.7,199.1 C589.4,201.9 593.0,202.8 595.6,201.4 S601.8,201.0 604.5,203.8 M402.1,203.9 C405.1,207.5 409.0,208.6 411.9,206.6 S418.7,205.8 421.6,209.4 M459.1,198.1 C462.6,196.6 467.3,197.2 470.9,199.7 S479.1,202.9 482.7,201.3 M315.7,213.9 C317.8,211.6 320.6,211.2 322.7,213.0 S327.6,214.3 329.7,212.0 M340.9,219.3 C344.3,223.0 348.7,224.3 352.0,222.5 S359.8,221.9 363.1,225.6 M340.6,219.1 C343.5,222.1 347.4,223.1 350.4,221.6 S357.2,221.0 360.2,224.0 M511.5,206.6 C514.6,204.5 518.8,204.5 521.9,206.6 S529.2,208.6 532.3,206.6 M367.6,67.0 C371.3,65.0 376.2,65.2 379.8,67.4 S388.4,69.7 392.1,67.8 M49.0,207.7 C52.6,210.4 57.4,210.2 61.0,207.1 S69.5,203.8 73.1,206.5 M534.8,198.9 C539.2,201.7 544.9,203.2 549.3,202.6 S559.4,203.5 563.7,206.3 M273.7,79.1 C276.4,75.8 279.9,75.8 282.6,79.2 S288.9,82.7 291.6,79.4 M114.6,202.7 C118.2,204.1 123.1,202.8 126.8,199.5 S135.4,195.0 139.1,196.4 M147.6,72.8 C150.0,69.9 153.2,69.8 155.6,72.6 S161.2,75.2 163.6,72.3 M369.4,209.7 C372.3,213.2 376.3,213.8 379.2,211.0 S386.1,208.8 389.0,212.4 M565.6,203.2 C567.9,200.7 571.0,201.4 573.3,205.0 S578.7,209.2 581.0,206.7 M187.3,203.2 C191.0,204.6 196.0,203.8 199.7,201.1 S208.4,197.5 212.1,198.9 M139.9,79.2 C144.1,81.7 149.7,82.9 153.9,82.2 S163.7,82.7 167.9,85.2 M39.3,65.4 C41.5,67.1 44.3,66.7 46.5,64.3 S51.6,61.4 53.7,63.1 M543.4,66.0 C547.8,63.8 553.8,63.7 558.2,65.9 S568.6,68.0 573.1,65.8 M225.8,201.1 C228.0,203.8 231.0,203.1 233.2,199.5 S238.4,195.3 240.6,197.9 M281.9,204.8 C284.4,201.2 287.6,200.6 290.0,203.3 S295.6,205.3 298.0,201.7 M196.3,203.0 C198.8,200.5 202.2,200.8 204.8,203.7 S210.7,206.9 213.2,204.4 M522.3,68.3 C525.8,65.4 530.4,65.4 533.9,68.2 S541.9,71.1 545.4,68.2 M493.5,75.6 C497.8,73.0 503.5,73.3 507.8,76.5 S517.8,79.9 522.0,77.3 M438.5,199.8 C441.0,196.6 444.2,196.4 446.7,199.1 S452.3,201.6 454.8,198.5 M539.7,70.1 C543.1,68.0 547.7,69.1 551.2,72.7 S559.2,77.5 562.6,75.4 M278.4,203.0 C281.3,206.2 285.1,206.0 287.9,202.5 S294.6,198.7 297.5,201.9 M81.0,198.5 C84.8,195.6 89.7,195.8 93.4,199.1 S102.1,202.6 105.8,199.7 M478.8,203.7 C482.2,200.1 486.7,199.3 490.1,201.7 S498.0,203.2 501.4,199.6 M487.0,74.3 C489.5,72.5 492.8,72.1 495.2,73.4 S501.0,74.3 503.4,72.4 M69.7,213.5 C72.0,209.9 75.0,209.2 77.2,211.7 S82.4,213.4 84.7,209.9 M81.3,201.0 C85.1,203.3 90.3,203.8 94.2,202.1 S103.2,200.9 107.1,203.2 M306.9,205.9 C310.1,202.5 314.3,202.1 317.5,205.0 S324.9,207.5 328.1,204.1 M409.2,75.3 C413.0,72.4 418.1,73.0 421.9,76.8 S430.7,81.2 434.6,78.3 M456.4,200.1 C458.5,198.3 461.3,198.1 463.4,199.6 S468.4,201.0 470.5,199.1 M568.4,209.5 C572.2,207.8 577.2,208.6 580.9,211.6 S589.7,215.5 593.4,213.8 M544.9,64.5 C548.5,62.7 553.3,63.2 556.9,65.7 S565.3,68.8 568.9,67.0 M271.1,79.1 C273.3,80.6 276.3,80.3 278.6,78.3 S283.8,76.0 286.0,77.5 M467.0,74.4 C470.2,77.9 474.4,78.1 477.6,74.9 S485.1,72.0 488.3,75.4 M208.4,76.3 C211.9,78.9 216.6,79.2 220.1,77.0 S228.3,75.0 231.8,77.6 M280.6,204.9 C284.8,203.2 290.3,204.6 294.5,208.4 S304.2,213.5 308.3,211.8 M510.2,74.4 C514.6,77.9 520.4,78.4 524.8,75.8 S535.0,73.6 539.4,77.1 M303.3,61.3 C307.6,59.8 313.4,60.8 317.7,63.8 S327.7,67.7 332.0,66.2 M473.5,79.1 C477.7,76.7 483.2,77.8 487.4,82.0 S497.0,87.4 501.2,85.0 M478.6,202.1 C481.0,199.5 484.3,198.9 486.7,200.6 S492.4,201.6 494.8,199.0 M540.7,200.6 C544.6,203.4 549.8,203.7 553.6,201.4 S562.7,199.5 566.5,202.3 M118.1,198.0 C122.1,202.0 127.4,203.0 131.4,200.6 S140.7,199.3 144.7,203.3 M230.3,200.4 C234.5,199.2 240.1,199.8 244.3,202.0 S254.1,204.7 258.3,203.5 M44.6,67.4 C48.3,70.4 53.2,71.2 56.9,69.4 S65.5,68.4 69.2,71.3 M337.2,201.6 C341.3,203.2 346.7,202.7 350.8,200.1 S360.3,197.0 364.4,198.7 M344.5,212.3 C346.7,210.0 349.6,209.3 351.8,210.5 S356.9,211.1 359.1,208.8 M411.1,205.4 C413.5,202.1 416.7,202.0 419.1,205.2 S424.7,208.2 427.1,204.9 M166.5,202.6 C168.6,206.3 171.3,207.0 173.3,204.5 S178.1,202.7 180.1,206.4 M537.1,73.5 C541.4,70.7 547.1,71.5 551.4,75.5 S561.5,80.3 565.8,77.5 M344.0,62.9 C346.9,60.1 350.9,59.3 353.8,60.7 S360.6,61.3 363.6,58.6 M348.0,204.9 C352.0,205.8 357.3,204.6 361.3,201.8 S370.6,197.9 374.6,198.8 M107.3,201.6 C109.8,203.3 113.1,202.5 115.6,199.4 S121.4,195.4 123.9,197.2 M90.0,79.2 C93.1,77.5 97.3,78.2 100.4,80.8 S107.6,84.1 110.7,82.4 M551.2,64.3 C553.6,62.1 556.9,62.4 559.3,65.2 S565.0,68.2 567.5,66.0 M381.6,207.0 C384.5,209.4 388.2,210.1 391.1,208.5 S397.7,207.6 400.5,210.1 M179.5,73.3 C182.6,71.5 186.8,71.6 190.0,73.6 S197.4,75.8 200.5,74.0 M474.0,202.0 C476.5,205.7 479.7,206.2 482.2,203.2 S487.9,200.8 490.4,204.5 M230.7,198.7 C234.4,202.2 239.3,203.6 243.0,202.1 S251.5,201.9 255.2,205.5 M350.6,72.7 C354.5,69.5 359.6,68.4 363.5,70.0 S372.6,70.6 376.5,67.4 M423.0,79.0 C425.9,80.7 429.9,80.6 432.9,78.8 S439.8,76.9 442.8,78.6 M167.2,203.4 C169.3,202.1 172.3,202.8 174.5,205.1 S179.6,208.2 181.8,206.9 M369.6,76.5 C372.4,75.1 376.0,76.0 378.7,78.6 S385.1,82.0 387.8,80.6 M497.6,76.9 C499.8,78.2 502.7,77.4 504.9,75.0 S510.1,71.7 512.3,73.0 M205.7,201.8 C208.7,205.1 212.7,205.3 215.7,202.3 S222.7,199.6 225.7,202.9 M122.5,62.8 C125.8,59.7 130.1,58.8 133.4,60.4 S141.1,61.0 144.4,58.0 M324.0,70.4 C326.9,72.2 330.8,72.5 333.7,71.2 S340.4,70.1 343.3,72.0 M259.0,70.1 C261.8,67.5 265.6,68.3 268.5,72.3 S275.2,77.1 278.0,74.4 M453.5,79.5 C457.5,78.0 462.9,79.0 466.9,82.2 S476.3,86.4 480.3,84.9 M99.5,78.3 C102.4,80.7 106.2,80.7 109.1,78.4 S115.9,76.2 118.8,78.5 M212.9,78.1 C217.2,76.0 222.8,76.7 227.0,80.0 S236.9,84.0 241.1,81.8 M526.5,202.2 C530.6,204.9 536.0,204.1 540.1,200.2 S549.6,195.6 553.7,198.3 M299.4,77.8 C302.8,81.5 307.4,81.9 310.8,78.8 S318.7,76.1 322.1,79.8 M591.6,216.7 C594.6,219.4 598.6,219.5 601.5,216.9 S608.5,214.5 611.5,217.2 M157.8,204.3 C161.9,206.5 167.5,205.2 171.6,201.2 S181.3,195.9 185.5,198.0 M526.3,205.8 C529.0,207.7 532.8,208.2 535.5,207.0 S542.0,206.3 544.8,208.2 M68.9,213.9 C72.0,216.3 76.1,216.0 79.1,213.1 S86.2,209.9 89.2,212.3 M204.9,75.8 C207.7,72.2 211.5,71.4 214.3,73.9 S220.9,75.6 223.7,72.0 M524.3,77.7 C528.0,74.6 532.8,73.4 536.5,74.6 S545.0,74.6 548.7,71.6 M535.8,73.7 C539.6,76.4 544.6,76.5 548.4,74.1 S557.2,71.8 561.0,74.5 M140.9,198.7 C143.2,196.8 146.3,197.2 148.6,199.7 S154.1,202.5 156.4,200.7 M519.2,200.2 C522.9,203.5 527.8,204.7 531.4,203.2 S540.0,203.0 543.6,206.3 M128.5,199.9 C132.2,196.5 137.2,195.9 140.9,198.3 S149.6,200.1 153.4,196.7 M475.1,77.7 C479.3,76.0 484.9,76.2 489.2,78.4 S499.0,80.9 503.2,79.1 M533.7,67.5 C536.1,70.2 539.3,70.5 541.7,68.3 S547.3,66.4 549.7,69.0 M279.7,207.0 C281.9,205.0 284.9,205.2 287.1,207.4 S292.2,209.7 294.4,207.8 M270.3,200.3 C274.7,201.4 280.6,200.4 285.0,197.7 S295.2,194.1 299.6,195.1 M138.0,211.8 C140.2,208.7 143.1,208.7 145.3,211.6 S150.3,214.5 152.5,211.5 M35.5,198.9 C37.7,195.9 40.7,196.4 42.9,200.0 S48.1,204.2 50.3,201.2 M401.3,203.7 C404.6,207.2 408.9,208.1 412.1,205.9 S419.7,204.5 423.0,208.0 M365.4,200.0 C368.5,197.7 372.7,198.1 375.8,201.0 S383.1,204.3 386.3,202.0 M472.9,199.5 C476.1,196.4 480.4,195.7 483.7,197.8 S491.2,199.3 494.5,196.1 M179.8,79.2 C182.1,75.9 185.0,75.8 187.2,79.0 S192.4,82.1 194.7,78.8 M118.7,70.6 C121.9,72.5 126.0,72.4 129.2,70.2 S136.5,68.0 139.7,69.9 M74.5,209.5 C77.8,212.0 82.3,212.7 85.7,211.3 S93.5,210.6 96.9,213.2 M64.1,73.5 C68.2,71.0 73.5,71.7 77.6,75.3 S87.0,79.6 91.0,77.1 M83.4,201.6 C86.0,198.2 89.6,197.6 92.2,199.9 S98.5,201.6 101.1,198.2 M68.1,66.5 C70.6,65.6 74.0,66.5 76.5,68.8 S82.4,71.9 85.0,71.0 M455.5,198.8 C459.4,202.3 464.6,202.4 468.5,199.0 S477.5,195.6 481.4,199.1 M168.3,199.4 C171.3,201.4 175.3,200.9 178.3,198.2 S185.4,195.1 188.4,197.1 M576.2,213.6 C580.6,216.0 586.5,216.4 591.0,214.5 S601.3,213.1 605.7,215.5 M342.0,68.4 C346.3,70.2 352.0,69.8 356.4,67.3 S366.5,64.4 370.8,66.2 M56.1,73.3 C58.4,76.0 61.3,75.7 63.6,72.6 S68.8,69.3 71.0,72.0 M292.1,76.7 C295.1,75.3 299.1,75.9 302.1,78.3 S309.0,81.3 312.0,79.9 M171.5,205.5 C174.8,202.6 179.1,202.4 182.4,204.9 S189.9,207.1 193.2,204.3 M297.7,72.6 C300.2,70.0 303.6,70.0 306.1,72.6 S312.1,75.1 314.6,72.5 M74.6,205.3 C77.3,202.7 80.8,201.7 83.5,202.9 S89.7,203.0 92.3,200.4 M319.8,213.7 C322.3,211.5 325.7,210.7 328.3,211.8 S334.3,212.0 336.8,209.8 M110.5,76.5 C112.8,74.0 115.8,74.9 118.1,78.7 S123.5,83.4 125.8,80.9 M80.4,204.8 C84.4,203.2 89.6,203.3 93.6,204.9 S102.8,206.6 106.7,205.1 M373.2,66.5 C376.5,63.9 380.8,63.0 384.1,64.2 S391.7,64.5 395.0,61.9 M270.6,199.9 C274.4,196.5 279.4,195.8 283.2,198.2 S291.9,200.0 295.7,196.5 M116.1,66.6 C119.9,64.1 125.0,63.8 128.8,65.9 S137.7,67.7 141.5,65.2 M160.1,71.5 C162.7,69.3 166.0,68.4 168.6,69.3 S174.5,69.3 177.0,67.1 M349.8,218.1 C352.6,221.7 356.3,222.1 359.1,219.0 S365.7,216.3 368.5,219.9 M345.4,61.6 C349.4,58.3 354.6,57.9 358.6,60.7 S367.8,63.1 371.8,59.8 M84.2,67.3 C86.4,65.0 89.4,64.8 91.6,66.8 S96.8,68.6 99.1,66.3 M426.5,79.0 C429.0,81.6 432.4,82.1 435.0,80.3 S440.9,79.0 443.5,81.6 M324.4,219.5 C328.4,217.5 333.8,217.4 337.8,219.4 S347.2,221.3 351.3,219.2 M424.7,75.4 C427.6,77.0 431.4,76.1 434.3,73.0 S441.1,69.0 443.9,70.6 M244.5,200.2 C248.2,202.7 253.2,203.8 256.9,203.0 S265.6,203.2 269.4,205.7 M227.7,200.3 C230.4,198.7 234.0,199.0 236.7,201.2 S243.1,203.6 245.8,202.0 M248.5,78.7 C250.7,80.9 253.5,81.2 255.7,79.5 S260.7,78.2 262.9,80.4 M384.1,203.8 C387.1,200.3 391.2,199.8 394.3,202.5 S401.5,204.8 404.5,201.2 M247.1,198.3 C249.5,196.2 252.7,196.2 255.2,198.3 S260.8,200.5 263.3,198.4 M298.0,72.2 C300.7,73.8 304.3,73.3 307.0,71.0 S313.4,68.2 316.1,69.7 M551.0,198.1 C554.3,201.8 558.8,202.6 562.1,200.3 S569.9,198.8 573.3,202.5 M382.4,210.1 C386.8,211.8 392.7,211.3 397.1,208.7 S407.4,205.5 411.8,207.3 M208.9,201.4 C212.5,205.5 217.3,206.8 220.9,204.6 S229.4,203.7 233.0,207.8 M219.8,201.2 C222.7,198.8 226.4,198.6 229.2,200.7 S235.7,202.6 238.5,200.3 M166.3,72.0 C168.8,73.7 172.2,73.8 174.7,72.0 S180.6,70.3 183.1,72.1 M586.0,217.1 C588.7,215.1 592.5,215.9 595.3,219.0 S601.8,222.8 604.6,220.8 M56.5,205.4 C59.8,202.8 64.1,202.4 67.3,204.4 S74.9,206.1 78.2,203.5 M175.1,201.2 C178.8,203.8 183.7,202.9 187.4,199.0 S196.0,194.3 199.7,196.8 M504.2,204.8 C507.3,202.4 511.4,202.9 514.5,206.0 S521.7,209.6 524.8,207.2 M481.1,76.1 C484.8,77.5 489.6,76.7 493.3,74.3 S501.9,71.1 505.5,72.4 M297.3,214.9 C301.6,212.3 307.3,211.6 311.6,213.1 S321.6,213.8 325.9,211.2 M386.4,78.6 C390.7,80.4 396.5,79.0 400.8,74.9 S410.9,69.4 415.2,71.2 M519.9,72.2 C523.3,75.0 527.7,75.8 531.1,74.1 S538.9,73.1 542.2,76.0 M498.7,199.8 C500.9,196.4 504.0,196.3 506.2,199.5 S511.5,202.6 513.8,199.2 M158.8,202.5 C161.2,205.5 164.5,205.6 166.9,202.9 S172.6,200.3 175.1,203.2 M338.6,201.3 C341.1,197.4 344.4,196.6 346.8,199.5 S352.6,201.5 355.0,197.6 M525.3,68.4 C529.5,65.2 535.1,64.5 539.3,66.6 S549.1,68.0 553.3,64.8 M382.9,69.2 C386.2,70.9 390.5,70.6 393.7,68.3 S401.3,65.8 404.6,67.5 M118.6,75.3 C122.2,76.4 126.9,75.1 130.5,71.9 S138.8,67.3 142.4,68.5 M590.4,76.7 C593.7,73.4 598.0,73.2 601.3,76.2 S608.9,78.9 612.1,75.7 M345.0,71.7 C349.1,69.2 354.5,68.5 358.5,69.8 S367.9,70.4 372.0,67.9 M516.4,204.9 C520.5,207.3 525.9,208.0 530.0,206.6 S539.5,206.0 543.6,208.3 M561.1,212.6 C563.8,214.5 567.3,213.5 570.0,210.2 S576.2,205.9 578.8,207.8 M320.9,63.1 C325.2,64.4 330.8,62.8 335.1,59.1 S345.0,53.8 349.2,55.1 M476.1,200.7 C480.1,204.4 485.3,205.4 489.3,203.1 S498.5,201.8 502.5,205.6 M556.4,76.3 C559.4,79.8 563.4,80.7 566.4,78.6 S573.4,77.4 576.4,80.9 M355.9,67.8 C358.8,64.9 362.8,65.3 365.8,68.6 S372.7,72.4 375.7,69.5 M383.8,70.4 C386.1,67.9 389.1,68.1 391.3,71.0 S396.6,74.2 398.8,71.7 M220.8,198.8 C224.7,201.8 229.9,201.9 233.8,199.1 S242.8,196.5 246.7,199.5" fill="none" stroke="#d9c8b3" stroke-width="1.0" clip-path="url(#askin)"/>
<path d="M33.6,80.5 L707,80.5 L708,82.2 L708.0,82.2 C701.7,82.5,683.0,83.3,670.0,84.0 C657.0,84.7,643.7,85.8,630.0,86.5 C616.3,87.2,601.3,88.0,588.0,88.2 C574.7,88.5,564.7,88.4,550.0,88.0 C535.3,87.6,516.7,86.9,500.0,86.0 C483.3,85.1,463.5,83.3,450.0,82.5 C436.5,81.7,428.2,81.0,419.0,81.0 C409.8,81.0,404.8,81.8,395.0,82.5 C385.2,83.2,372.0,84.8,360.0,85.5 C348.0,86.2,334.7,87.0,323.0,87.0 C311.3,87.0,301.3,86.3,290.0,85.5 C278.7,84.7,265.5,82.8,255.0,82.0 C244.5,81.2,236.2,80.7,227.0,80.8 C217.8,80.9,211.2,81.8,200.0,82.5 C188.8,83.2,176.7,84.5,160.0,85.2 C143.3,85.9,121.1,86.6,100.0,86.8 C78.9,87.0,44.7,86.6,33.6,86.6 Z" fill="#7db9e4" stroke="#111" stroke-width="1.1" stroke-linejoin="round"/>
<path d="M33.6,197 L707,197 L708,195.5 L708.0,195.5 C701.7,195.1,683.0,193.8,670.0,193.0 C657.0,192.2,643.7,191.2,630.0,190.5 C616.3,189.8,601.3,189.1,588.0,188.8 C574.7,188.6,564.7,188.6,550.0,189.0 C535.3,189.4,516.7,190.1,500.0,191.0 C483.3,191.9,463.5,193.7,450.0,194.5 C436.5,195.3,428.2,196.0,419.0,196.0 C409.8,196.0,404.8,195.2,395.0,194.5 C385.2,193.8,372.0,192.2,360.0,191.5 C348.0,190.8,334.7,190.0,323.0,190.0 C311.3,190.0,301.3,190.7,290.0,191.5 C278.7,192.3,265.5,194.2,255.0,195.0 C244.5,195.8,236.2,196.4,227.0,196.3 C217.8,196.2,211.2,195.2,200.0,194.5 C188.8,193.8,176.7,192.5,160.0,191.8 C143.3,191.1,121.1,190.4,100.0,190.2 C78.9,190.0,44.7,190.5,33.6,190.6 Z" fill="#7db9e4" stroke="#111" stroke-width="1.1" stroke-linejoin="round"/>
<path d="M33.6,86.6 C44.7,86.6,78.9,87.0,100.0,86.8 C121.1,86.6,143.3,85.9,160.0,85.2 C176.7,84.5,188.8,83.2,200.0,82.5 C211.2,81.8,217.8,80.9,227.0,80.8 C236.2,80.7,244.5,81.2,255.0,82.0 C265.5,82.8,278.7,84.7,290.0,85.5 C301.3,86.3,311.3,87.0,323.0,87.0 C334.7,87.0,348.0,86.2,360.0,85.5 C372.0,84.8,385.2,83.2,395.0,82.5 C404.8,81.8,409.8,81.0,419.0,81.0 C428.2,81.0,436.5,81.7,450.0,82.5 C463.5,83.3,483.3,85.1,500.0,86.0 C516.7,86.9,535.3,87.6,550.0,88.0 C564.7,88.4,574.7,88.5,588.0,88.2 C601.3,88.0,616.3,87.2,630.0,86.5 C643.7,85.8,657.0,84.7,670.0,84.0 C683.0,83.3,694.2,82.1,708.0,82.2 C721.8,82.3,737.7,83.9,753.0,84.7 C768.3,85.5,783.8,86.5,800.0,87.0 C816.2,87.5,833.3,87.9,850.0,87.5 C866.7,87.1,884.2,85.3,900.0,84.5 C915.8,83.7,928.3,82.7,945.0,82.5 C961.7,82.3,980.8,82.8,1000.0,83.2 C1019.2,83.6,1040.0,84.4,1060.0,84.8 C1080.0,85.2,1102.9,85.6,1120.0,85.8 C1137.1,86.0,1155.4,86.0,1162.5,86.0 L1162.5,191.5 L1162.5,191.5 C1155.4,191.6,1137.1,191.6,1120.0,191.8 C1102.9,192.0,1080.0,192.2,1060.0,192.6 C1040.0,193.0,1019.2,193.6,1000.0,194.0 C980.8,194.4,961.7,195.2,945.0,195.0 C928.3,194.8,915.8,193.8,900.0,193.0 C884.2,192.2,866.7,190.4,850.0,190.0 C833.3,189.6,816.2,190.0,800.0,190.5 C783.8,191.0,768.3,192.2,753.0,193.0 C737.7,193.8,721.8,195.5,708.0,195.5 C694.2,195.5,683.0,193.8,670.0,193.0 C657.0,192.2,643.7,191.2,630.0,190.5 C616.3,189.8,601.3,189.1,588.0,188.8 C574.7,188.6,564.7,188.6,550.0,189.0 C535.3,189.4,516.7,190.1,500.0,191.0 C483.3,191.9,463.5,193.7,450.0,194.5 C436.5,195.3,428.2,196.0,419.0,196.0 C409.8,196.0,404.8,195.2,395.0,194.5 C385.2,193.8,372.0,192.2,360.0,191.5 C348.0,190.8,334.7,190.0,323.0,190.0 C311.3,190.0,301.3,190.7,290.0,191.5 C278.7,192.3,265.5,194.2,255.0,195.0 C244.5,195.8,236.2,196.4,227.0,196.3 C217.8,196.2,211.2,195.2,200.0,194.5 C188.8,193.8,176.7,192.5,160.0,191.8 C143.3,191.1,121.1,190.4,100.0,190.2 C78.9,190.0,44.7,190.5,33.6,190.6 Z" fill="url(#acore)" stroke="#111" stroke-width="1.3" stroke-linejoin="round"/>
<path d="M581.0,120.8 Q596.5,120.8 616.3,118.0" fill="none" stroke="#111" stroke-width="1.3" stroke-dasharray="3.5,2.8"/><path d="M625.5,115.8 L614.0,123.7 L616.3,118.0 L611.7,113.9 Z" fill="#111"/>
<path d="M581.0,156.5 Q596.5,156.5 616.4,159.8" fill="none" stroke="#111" stroke-width="1.3" stroke-dasharray="3.5,2.8"/><path d="M625.5,162.4 L611.6,163.6 L616.4,159.8 L614.4,154.0 Z" fill="#111"/>
<path d="M820.0,121.0 Q805.0,121.0 785.7,118.0" fill="none" stroke="#111" stroke-width="1.3" stroke-dasharray="3.5,2.8"/><path d="M776.5,115.8 L790.3,113.9 L785.7,118.0 L788.0,123.7 Z" fill="#111"/>
<path d="M820.0,157.5 Q805.0,157.5 785.7,160.0" fill="none" stroke="#111" stroke-width="1.3" stroke-dasharray="3.5,2.8"/><path d="M776.5,162.2 L788.0,154.3 L785.7,160.0 L790.3,164.1 Z" fill="#111"/>
<rect x="916.5" y="119" width="62.5" height="33.5" fill="none" stroke="#111" stroke-width="1.5" stroke-dasharray="4,2.8"/>
<path d="M916.5,152.5 L731.5,340" fill="none" stroke="#111" stroke-width="1.4" stroke-dasharray="3.6,2.8"/>
<text x="14" y="28.6" class="lbl">a</text>
<text x="448.0" y="28.0" font-size="22" class="b">Precise droplet coupling</text>
<text x="1355.0" y="33.0" font-size="22" class="b">Selective heat treatment</text>
<text x="837.0" y="66.0" font-size="22" >High crystalline region</text>
<text x="1039.0" y="224.5" font-size="22" >Low crystalline region</text>
<text x="44.0" y="145.0" font-size="22" >Nonlinear viscoelastic core</text>
<text x="656.0" y="145.5" font-size="22" >Prestress</text>
<text x="45.0" y="252.5" font-size="22" >Periodic nanofiber-coated skin</text>
<text x="404.5" y="307.5" font-size="22" >Plasticity</text>
<text x="628.5" y="307.5" font-size="22" >Strength</text>
<text x="859.5" y="307.5" font-size="22" >Elasticity</text>
<path d="M447.3,319.4 V375.9 M673.6,319.4 V377.2 M905.7,319.4 V375.9 M765.9,659.5 V694.4 M1062.7,638.3 V694.4" stroke="#111" stroke-width="1.3" fill="none"/>
<text x="16.8" y="397" font-size="22" class="b" style="fill:#c0664a">PE blocks</text>
<text x="16.8" y="423.5" font-size="22" >Crystallite domains</text>
<text x="17.6" y="583.2" font-size="22" class="b" style="fill:#4b9bb9">PVAc blocks</text>
<text x="17.6" y="609.7" font-size="22" >Amorphous domains</text>
<text x="228.0" y="711.0" font-size="22" class="b">Anharmonic nanosprings</text>
<text x="640.5" y="710.2" font-size="22" >Low-entropy nanosprings</text>
<text x="934.0" y="710.2" font-size="22" >High-entropy nanosprings</text>
<g clip-path="url(#ac1)"><circle cx="1472.0" cy="205.0" r="136.0" fill="#fafcf6"/>
<ellipse cx="1474" cy="212" rx="134" ry="66" fill="#eeeee3" transform="rotate(-21 1474 212)"/>
<path d="M1388.2,98.5 C1390.0,101.7,1395.3,112.3,1398.5,117.6 C1401.7,123.0,1404.7,128.4,1407.4,130.9 C1410.0,133.3,1412.9,135.0,1414.7,132.4 C1416.5,129.7,1417.2,120.6,1418.2,114.7 C1419.3,108.8,1419.6,100.6,1421.2,97.1 C1422.8,93.5,1424.6,92.8,1427.9,93.5 C1431.3,94.3,1436.5,97.9,1441.2,101.5 C1445.8,105.0,1451.5,111.4,1455.9,114.7 C1460.3,118.0,1464.0,121.7,1467.6,121.2 C1471.3,120.7,1474.0,115.8,1477.9,111.8 C1481.9,107.7,1486.5,101.0,1491.2,97.1 C1495.8,93.1,1501.7,89.7,1505.9,88.2 C1510.0,86.8,1511.8,86.3,1516.2,88.2 C1520.6,90.2,1526.5,95.7,1532.4,100.0 C1538.2,104.3,1546.3,110.8,1551.5,114.1 C1556.6,117.4,1559.6,119.1,1563.2,119.7 C1566.9,120.3,1571.8,118.0,1573.5,117.6" fill="none" stroke="#62a6c3" stroke-width="6.8" stroke-linecap="round" stroke-linejoin="round" />
<path d="M1366.2,123.5 C1365.8,127.0,1364.9,137.5,1364.1,144.1 C1363.4,150.7,1363.4,160.7,1361.8,163.2 C1360.1,165.8,1357.3,161.6,1354.4,159.4 C1351.6,157.2,1346.3,151.6,1344.7,150.0" fill="none" stroke="#62a6c3" stroke-width="6.8" stroke-linecap="round" stroke-linejoin="round" />
<path d="M1338.2,230.0 C1340.4,229.5,1348.0,229.0,1351.5,227.1 C1354.9,225.1,1359.3,222.2,1358.8,218.2 C1358.3,214.3,1351.5,207.9,1348.5,203.5 C1345.6,199.1,1341.5,195.3,1341.2,191.8 C1340.8,188.2,1342.5,184.4,1346.5,182.4 C1350.4,180.3,1357.7,179.9,1364.7,179.4 C1371.7,178.9,1381.4,179.9,1388.2,179.4 C1395.1,178.9,1400.0,178.8,1405.9,176.5 C1411.8,174.1,1417.6,168.1,1423.5,165.3 C1429.4,162.5,1434.3,160.7,1441.2,159.4 C1448.0,158.1,1455.9,158.4,1464.7,157.6 C1473.5,156.9,1484.3,155.4,1494.1,154.7 C1503.9,154.0,1513.7,154.0,1523.5,153.5 C1533.3,153.0,1546.1,152.5,1552.9,151.8 C1559.8,151.0,1562.6,150.2,1564.7,148.8 C1566.8,147.5,1567.1,144.8,1565.6,143.5 C1564.1,142.3,1560.0,141.2,1555.9,141.2 C1551.8,141.1,1543.6,142.9,1541.2,143.2" fill="none" stroke="#62a6c3" stroke-width="3.8" stroke-linecap="round" stroke-linejoin="round" />
<path d="M1541.2,143.2 C1538.2,144.2,1531.4,145.9,1523.5,148.8 C1515.7,151.7,1503.9,156.5,1494.1,160.6 C1484.3,164.7,1472.1,169.9,1464.7,173.5 C1457.4,177.2,1454.9,179.4,1450.0,182.4 C1445.1,185.3,1439.7,189.0,1435.3,191.2 C1430.9,193.4,1428.4,194.9,1423.5,195.6 C1418.6,196.3,1411.0,195.3,1405.9,195.6 C1400.7,195.8,1396.0,195.8,1392.6,197.1 C1389.3,198.3,1386.5,200.7,1385.9,202.9 C1385.2,205.1,1386.0,208.8,1388.8,210.3 C1391.7,211.8,1400.1,210.3,1402.9,211.8 C1405.8,213.2,1405.1,216.7,1405.9,219.1 C1406.6,221.6,1407.1,225.2,1407.4,226.5" fill="none" stroke="url(#agr1)" stroke-width="3.8" stroke-linecap="round" stroke-linejoin="round" />
<path d="M1407.4,227.1 L1409.2,228.8 L1410.7,229.3 L1412.1,229.6 L1413.5,229.7 L1414.9,229.8 L1416.2,229.8 L1417.6,229.7 L1418.9,229.6 L1420.2,229.5 L1421.5,229.2 L1422.8,228.9 L1424.0,228.6 L1425.3,228.2 L1426.5,227.7 L1427.7,227.1 L1428.9,226.4 L1430.0,225.7 L1431.1,224.8 L1432.2,223.9 L1433.3,222.9 L1434.4,221.9 L1435.4,220.8 L1436.5,219.7 L1437.5,218.6 L1438.5,217.5 L1439.6,216.4 L1440.6,215.4 L1441.7,214.3 L1442.8,213.4 L1443.9,212.4 L1445.0,211.6 L1446.1,210.8 L1447.3,210.1 L1448.5,209.5 L1449.7,209.0 L1451.0,208.6 L1452.2,208.3 L1453.5,208.1 L1454.8,208.0 L1456.2,208.0 L1457.6,208.1 L1459.0,208.2 L1460.4,208.4 L1461.8,208.7 L1463.3,209.0 L1464.7,209.4 L1466.2,209.8 L1467.6,210.2 L1469.1,210.6 L1470.6,211.0 L1472.0,211.4 L1473.5,211.7 L1474.9,212.0 L1476.3,212.2 L1477.7,212.3 L1479.1,212.4 L1480.4,212.4 L1481.8,212.3 L1483.1,212.1 L1484.3,211.8 L1485.6,211.4 L1486.8,210.9 L1488.0,210.3 L1489.1,209.6 L1490.3,208.8 L1491.4,208.0 L1492.5,207.0 L1493.6,206.1 L1494.6,205.0 L1495.7,204.0 L1496.7,202.9 L1497.8,201.8 L1498.8,200.7 L1499.9,199.6 L1500.9,198.5 L1502.0,197.5 L1503.1,196.5 L1504.2,195.6 L1505.3,194.7 L1506.4,194.0 L1507.6,193.3 L1508.8,192.7 L1510.0,192.2 L1511.3,191.8 L1512.5,191.5 L1513.8,191.3 L1515.1,191.2 L1516.5,191.1 L1517.9,191.2 L1519.3,191.4 L1520.7,191.6 L1522.1,191.8 L1523.6,192.2 L1525.0,192.5 L1526.5,192.9 L1527.9,193.3 L1529.4,193.7 L1530.9,194.1 L1532.3,194.5 L1533.8,194.8 L1535.2,195.1 L1536.6,195.3 L1538.0,195.5 L1539.4,195.5 L1540.7,195.5 L1542.1,195.4 L1543.4,195.2 L1544.6,194.9 L1545.9,194.5 L1547.1,194.0 L1548.3,193.4 L1549.4,192.7 L1550.6,191.9 L1551.7,191.1 L1552.8,190.2 L1553.9,189.2 L1554.9,188.2 L1556.0,187.1 L1557.0,186.0 L1558.1,184.9 L1559.1,183.8 L1560.2,182.7 L1561.2,181.6 L1562.3,180.6 L1563.4,179.6 L1564.5,178.7 L1565.6,177.9 L1566.7,177.1 L1567.9,176.4 L1569.1,175.8 L1570.3,175.3 L1571.5,174.9 L1572.8,174.6 L1574.1,174.3 L1575.4,174.1 L1576.7,173.9 L1578.0,173.8 L1579.3,173.7 L1580.7,173.7 L1582.1,173.8 L1583.5,173.9 L1584.9,174.2 L1586.4,174.7 L1588.2,176.5 M1407.4,227.1 L1408.0,224.6 L1409.0,223.4 L1410.1,222.4 L1411.2,221.6 L1412.4,220.8 L1413.5,220.1 L1414.7,219.5 L1415.9,218.9 L1417.1,218.3 L1418.3,217.9 L1419.6,217.4 L1420.8,217.1 L1422.1,216.8 L1423.4,216.6 L1424.7,216.5 L1426.1,216.4 L1427.4,216.5 L1428.8,216.6 L1430.2,216.9 L1431.7,217.1 L1433.1,217.5 L1434.6,217.8 L1436.0,218.2 L1437.5,218.6 L1439.0,219.0 L1440.4,219.4 L1441.9,219.8 L1443.3,220.1 L1444.8,220.4 L1446.2,220.6 L1447.6,220.8 L1448.9,220.8 L1450.3,220.8 L1451.6,220.7 L1452.9,220.5 L1454.2,220.2 L1455.4,219.8 L1456.6,219.3 L1457.8,218.7 L1459.0,218.0 L1460.1,217.2 L1461.3,216.4 L1462.4,215.5 L1463.4,214.5 L1464.5,213.5 L1465.6,212.4 L1466.6,211.3 L1467.6,210.2 L1468.7,209.1 L1469.7,208.0 L1470.8,206.9 L1471.9,205.9 L1472.9,204.9 L1474.0,204.0 L1475.2,203.2 L1476.3,202.4 L1477.5,201.7 L1478.6,201.1 L1479.9,200.6 L1481.1,200.2 L1482.4,199.9 L1483.7,199.7 L1485.0,199.6 L1486.3,199.6 L1487.7,199.6 L1489.1,199.8 L1490.5,200.0 L1492.0,200.3 L1493.4,200.6 L1494.9,201.0 L1496.3,201.4 L1497.8,201.8 L1499.3,202.2 L1500.7,202.6 L1502.2,202.9 L1503.6,203.2 L1505.1,203.5 L1506.5,203.7 L1507.9,203.9 L1509.2,204.0 L1510.6,203.9 L1511.9,203.8 L1513.2,203.6 L1514.5,203.3 L1515.7,202.9 L1516.9,202.4 L1518.1,201.8 L1519.3,201.1 L1520.4,200.4 L1521.5,199.5 L1522.6,198.6 L1523.7,197.6 L1524.8,196.6 L1525.8,195.5 L1526.9,194.4 L1527.9,193.3 L1529.0,192.2 L1530.0,191.1 L1531.1,190.1 L1532.2,189.0 L1533.2,188.1 L1534.3,187.1 L1535.5,186.3 L1536.6,185.5 L1537.8,184.8 L1538.9,184.2 L1540.2,183.7 L1541.4,183.3 L1542.7,183.0 L1544.0,182.8 L1545.3,182.7 L1546.6,182.7 L1548.0,182.8 L1549.4,182.9 L1550.8,183.1 L1552.3,183.4 L1553.7,183.7 L1555.2,184.1 L1556.6,184.5 L1558.1,184.9 L1559.6,185.3 L1561.0,185.7 L1562.5,186.1 L1563.9,186.4 L1565.4,186.7 L1566.8,186.9 L1568.2,187.0 L1569.5,187.1 L1570.9,187.1 L1572.2,187.0 L1573.5,186.8 L1574.8,186.5 L1576.0,186.1 L1577.3,185.7 L1578.5,185.2 L1579.7,184.7 L1580.9,184.1 L1582.1,183.4 L1583.2,182.7 L1584.4,182.0 L1585.5,181.1 L1586.5,180.1 L1587.6,178.9 L1588.2,176.5" fill="none" stroke="#c4694f" stroke-width="3.6" stroke-linecap="round" stroke-linejoin="round"/>
<path d="M1407.4,227.1 C1406.1,227.0,1402.6,225.1,1400.0,226.5 C1397.4,227.8,1394.7,233.3,1391.8,235.3 C1388.8,237.3,1385.3,239.6,1382.4,238.2 C1379.4,236.9,1376.5,228.1,1374.1,227.1 C1371.8,226.0,1369.1,229.4,1368.2,231.8 C1367.4,234.1,1370.4,238.7,1369.1,241.2 C1367.8,243.6,1362.5,244.0,1360.3,246.5 C1358.1,248.9,1355.4,252.5,1355.9,255.9 C1356.4,259.3,1360.3,263.7,1363.2,267.1 C1366.2,270.4,1371.8,274.4,1373.5,275.9" fill="none" stroke="#c4694f" stroke-width="3.6" stroke-linecap="round" stroke-linejoin="round" />
<path d="M1373.5,275.9 L1375.3,277.6 L1376.7,278.1 L1378.1,278.4 L1379.4,278.6 L1380.7,278.7 L1381.9,278.7 L1383.2,278.6 L1384.4,278.5 L1385.6,278.3 L1386.8,278.1 L1388.0,277.8 L1389.2,277.5 L1390.3,277.1 L1391.5,276.6 L1392.6,276.1 L1393.6,275.4 L1394.7,274.6 L1395.7,273.8 L1396.7,272.9 L1397.7,271.9 L1398.6,270.9 L1399.6,269.8 L1400.5,268.7 L1401.5,267.6 L1402.4,266.6 L1403.4,265.5 L1404.3,264.4 L1405.3,263.4 L1406.3,262.4 L1407.3,261.5 L1408.3,260.7 L1409.3,259.9 L1410.4,259.2 L1411.5,258.7 L1412.6,258.2 L1413.7,257.8 L1414.9,257.5 L1416.1,257.3 L1417.4,257.2 L1418.6,257.2 L1419.9,257.2 L1421.2,257.4 L1422.6,257.6 L1423.9,257.9 L1425.3,258.2 L1426.6,258.6 L1428.0,259.0 L1429.4,259.4 L1430.8,259.8 L1432.2,260.2 L1433.6,260.6 L1434.9,260.9 L1436.3,261.2 L1437.6,261.4 L1438.9,261.6 L1440.2,261.7 L1441.5,261.6 L1442.7,261.5 L1443.9,261.3 L1445.1,261.0 L1446.2,260.7 L1447.3,260.2 L1448.4,259.6 L1449.5,258.9 L1450.5,258.1 L1451.6,257.3 L1452.6,256.4 L1453.5,255.4 L1454.5,254.4 L1455.5,253.4 L1456.4,252.3 L1457.4,251.2 L1458.3,250.1 L1459.2,249.0 L1460.2,247.9 L1461.2,246.9 L1462.1,246.0 L1463.1,245.0 L1464.2,244.2 L1465.2,243.4 L1466.3,242.8 L1467.4,242.2 L1468.5,241.7 L1469.6,241.3 L1470.8,241.0 L1472.0,240.8 L1473.2,240.7 L1474.5,240.7 L1475.8,240.8 L1477.1,240.9 L1478.4,241.2 L1479.8,241.4 L1481.2,241.8 L1482.5,242.1 L1483.9,242.5 L1485.3,242.9 L1486.7,243.3 L1488.1,243.7 L1489.4,244.1 L1490.8,244.4 L1492.1,244.7 L1493.5,245.0 L1494.8,245.1 L1496.1,245.2 L1497.3,245.2 L1498.6,245.1 L1499.8,244.9 L1501.0,244.6 L1502.1,244.2 L1503.2,243.7 L1504.3,243.1 L1505.4,242.4 L1506.4,241.7 L1507.4,240.8 L1508.4,239.9 L1509.4,239.0 L1510.4,237.9 L1511.3,236.9 L1512.3,235.8 L1513.2,234.7 L1514.2,233.6 L1515.1,232.5 L1516.1,231.5 L1517.0,230.5 L1518.0,229.5 L1519.0,228.6 L1520.0,227.7 L1521.1,227.0 L1522.1,226.3 L1523.2,225.7 L1524.4,225.2 L1525.5,224.8 L1526.7,224.5 L1527.9,224.2 L1529.1,224.0 L1530.3,223.9 L1531.5,223.7 L1532.8,223.7 L1534.0,223.7 L1535.3,223.8 L1536.6,223.9 L1538.0,224.2 L1539.4,224.7 L1541.2,226.5 M1373.5,275.9 L1374.1,273.5 L1375.0,272.3 L1376.0,271.3 L1377.0,270.4 L1378.0,269.7 L1379.1,269.0 L1380.2,268.4 L1381.3,267.8 L1382.4,267.3 L1383.5,266.8 L1384.6,266.4 L1385.8,266.0 L1387.0,265.7 L1388.2,265.5 L1389.4,265.4 L1390.7,265.4 L1392.0,265.5 L1393.3,265.6 L1394.6,265.9 L1396.0,266.1 L1397.3,266.5 L1398.7,266.8 L1400.1,267.2 L1401.5,267.6 L1402.9,268.1 L1404.2,268.5 L1405.6,268.8 L1407.0,269.2 L1408.3,269.4 L1409.7,269.7 L1411.0,269.8 L1412.3,269.9 L1413.5,269.9 L1414.8,269.8 L1416.0,269.6 L1417.1,269.3 L1418.3,268.9 L1419.4,268.4 L1420.5,267.8 L1421.6,267.1 L1422.6,266.4 L1423.6,265.5 L1424.6,264.6 L1425.6,263.7 L1426.6,262.6 L1427.5,261.6 L1428.5,260.5 L1429.4,259.4 L1430.4,258.3 L1431.3,257.2 L1432.3,256.2 L1433.2,255.2 L1434.2,254.2 L1435.2,253.3 L1436.2,252.4 L1437.3,251.7 L1438.3,251.0 L1439.4,250.4 L1440.5,249.9 L1441.7,249.5 L1442.9,249.2 L1444.1,249.0 L1445.3,248.9 L1446.6,248.9 L1447.9,249.0 L1449.2,249.2 L1450.5,249.4 L1451.8,249.7 L1453.2,250.0 L1454.6,250.4 L1456.0,250.8 L1457.4,251.2 L1458.7,251.6 L1460.1,252.0 L1461.5,252.3 L1462.9,252.7 L1464.2,253.0 L1465.5,253.2 L1466.8,253.3 L1468.1,253.4 L1469.4,253.4 L1470.6,253.3 L1471.8,253.1 L1473.0,252.8 L1474.2,252.4 L1475.3,251.9 L1476.4,251.3 L1477.4,250.7 L1478.5,249.9 L1479.5,249.1 L1480.5,248.2 L1481.5,247.2 L1482.5,246.2 L1483.4,245.1 L1484.4,244.0 L1485.3,242.9 L1486.2,241.8 L1487.2,240.8 L1488.1,239.7 L1489.1,238.7 L1490.1,237.7 L1491.1,236.8 L1492.1,236.0 L1493.1,235.2 L1494.2,234.5 L1495.3,234.0 L1496.4,233.5 L1497.6,233.1 L1498.7,232.8 L1500.0,232.6 L1501.2,232.5 L1502.5,232.5 L1503.7,232.5 L1505.1,232.7 L1506.4,232.9 L1507.7,233.2 L1509.1,233.5 L1510.5,233.9 L1511.8,234.3 L1513.2,234.7 L1514.6,235.1 L1516.0,235.5 L1517.4,235.9 L1518.7,236.2 L1520.1,236.5 L1521.4,236.7 L1522.7,236.9 L1524.0,236.9 L1525.3,236.9 L1526.5,236.8 L1527.7,236.6 L1528.9,236.3 L1530.1,236.0 L1531.2,235.6 L1532.3,235.1 L1533.4,234.6 L1534.5,234.0 L1535.6,233.4 L1536.7,232.7 L1537.7,231.9 L1538.7,231.1 L1539.7,230.1 L1540.6,228.9 L1541.2,226.5" fill="none" stroke="#c4694f" stroke-width="3.6" stroke-linecap="round" stroke-linejoin="round"/>
<path d="M1373.5,275.9 C1372.5,277.0,1369.9,279.8,1367.6,282.4 C1365.4,284.9,1361.5,289.7,1360.3,291.2" fill="none" stroke="#c4694f" stroke-width="3.6" stroke-linecap="round" stroke-linejoin="round" />
<path d="M1435.3,339.7 C1433.8,337.5,1429.7,331.4,1426.5,326.5 C1423.3,321.6,1418.7,315.3,1416.2,310.3 C1413.6,305.3,1410.8,299.2,1411.2,296.5 C1411.5,293.8,1415.7,293.0,1418.2,294.1 C1420.8,295.2,1423.4,299.5,1426.5,302.9 C1429.6,306.4,1432.8,311.3,1436.8,314.7 C1440.7,318.1,1445.4,321.2,1450.0,323.5 C1454.6,325.9,1461.4,326.1,1464.1,328.8 C1466.8,331.5,1465.8,337.9,1466.2,339.7" fill="none" stroke="#62a6c3" stroke-width="6.8" stroke-linecap="round" stroke-linejoin="round" />
<path d="M1594.1,269.1 C1592.4,267.2,1588.0,258.2,1583.8,257.4 C1579.7,256.5,1575.2,260.0,1569.1,264.1 C1563.0,268.3,1553.7,277.4,1547.1,282.4 C1540.4,287.4,1535.0,293.0,1529.4,294.1 C1523.8,295.2,1517.6,289.7,1513.2,288.8 C1508.8,287.9,1504.2,287.0,1502.9,288.8 C1501.7,290.7,1503.9,295.8,1505.9,300.0 C1507.8,304.2,1510.3,311.4,1514.7,314.1 C1519.1,316.9,1526.7,316.5,1532.4,316.5 C1538.0,316.5,1545.8,314.5,1548.5,314.1" fill="none" stroke="#62a6c3" stroke-width="3.8" stroke-linecap="round" stroke-linejoin="round" />
<path d="M1575.0,293.5 C1571.3,294.6,1558.3,298.3,1552.9,300.0 C1547.5,301.7,1543.5,301.5,1542.6,303.5 C1541.8,305.6,1546.8,310.9,1547.6,312.4" fill="none" stroke="#62a6c3" stroke-width="3.8" stroke-linecap="round" stroke-linejoin="round" />
</g><circle cx="1472.0" cy="205.0" r="135.0" fill="none" stroke="#111" stroke-width="1.4"/>
<path d="M1513.2,166.8 C1517.4,166.7,1529.4,166.9,1538.2,166.2 C1547.1,165.4,1559.1,164.3,1566.2,162.4 C1573.3,160.4,1576.0,156.6,1580.9,154.4 C1585.8,152.3,1590.7,151.9,1595.6,149.4 C1600.5,147.0,1605.9,143.0,1610.3,139.7 C1614.7,136.4,1620.1,131.1,1622.1,129.4" fill="none" stroke="#111" stroke-width="1.2" stroke-linecap="round" stroke-linejoin="round" stroke-dasharray="4,3"/>
<circle cx="1580.0" cy="144.1" r="5.8" fill="none" stroke="#111" stroke-width="1.1" stroke-dasharray="2.5,2"/>
<path d="M1626.5,125.5 l-11.5,3 l4.5,2.5 l0.5,5.5z" fill="#111"/>
<text x="1583.5" y="109.0" font-size="22" >Twisting</text>
<path d="M1328,281 L1256,327.2" stroke="#111" stroke-width="1.4"/><path d="M1250,331 l9.5,-11.5 l0.5,5.8 l5,3z" fill="#111"/>
<text transform="translate(1305,333) rotate(-29.5)" font-size="22" text-anchor="middle">Quenching</text>
<text transform="translate(1319.5,354.5) rotate(-29.5)" font-size="22" text-anchor="middle">-30 <tspan font-size="14" dy="-6">o</tspan><tspan dy="6">C</tspan></text>
<text x="1453.0" y="424.5" font-size="22" >Unsmooth turns</text>
<path d="M1365.6,579 H1275" stroke="#111" stroke-width="1.4"/><path d="M1267,579 l14,-5.2 l-3.2,5.2 l3.2,5.2z" fill="#111"/>
<text x="1267.0" y="612.5" font-size="22" >Tempering</text>
<text x="1291.5" y="639.5" font-size="22">35 <tspan font-size="14" dy="-6">o</tspan><tspan dy="6">C</tspan></text>
<g clip-path="url(#ac2)"><circle cx="1528.0" cy="577.0" r="135.0" fill="#fafcf6"/>
<ellipse cx="1492" cy="452" rx="118" ry="58" fill="#eeeee3" transform="rotate(-19 1492 452)"/>
<path d="M1419.1,497.1 L1420.9,498.8 L1422.2,499.4 L1423.4,499.7 L1424.6,499.9 L1425.8,500.0 L1427.0,500.0 L1428.1,499.9 L1429.2,499.8 L1430.3,499.7 L1431.4,499.5 L1432.5,499.2 L1433.5,498.9 L1434.6,498.5 L1435.6,498.0 L1436.5,497.4 L1437.4,496.7 L1438.3,496.0 L1439.2,495.1 L1440.1,494.2 L1440.9,493.2 L1441.7,492.2 L1442.5,491.1 L1443.3,490.0 L1444.1,488.9 L1444.9,487.8 L1445.7,486.7 L1446.5,485.6 L1447.3,484.6 L1448.2,483.6 L1449.0,482.7 L1449.9,481.9 L1450.8,481.1 L1451.7,480.4 L1452.7,479.8 L1453.7,479.3 L1454.7,479.0 L1455.8,478.7 L1456.8,478.5 L1458.0,478.4 L1459.1,478.4 L1460.3,478.5 L1461.5,478.6 L1462.7,478.9 L1464.0,479.2 L1465.3,479.5 L1466.5,479.9 L1467.8,480.4 L1469.1,480.8 L1470.4,481.2 L1471.7,481.6 L1473.0,482.0 L1474.2,482.4 L1475.5,482.7 L1476.7,482.9 L1477.9,483.1 L1479.1,483.2 L1480.3,483.2 L1481.4,483.1 L1482.5,482.9 L1483.5,482.6 L1484.6,482.2 L1485.6,481.7 L1486.5,481.1 L1487.4,480.5 L1488.3,479.7 L1489.2,478.9 L1490.1,477.9 L1490.9,477.0 L1491.7,475.9 L1492.5,474.9 L1493.3,473.8 L1494.1,472.6 L1494.9,471.5 L1495.7,470.4 L1496.5,469.4 L1497.3,468.3 L1498.2,467.4 L1499.0,466.4 L1499.9,465.6 L1500.8,464.8 L1501.7,464.1 L1502.7,463.6 L1503.7,463.1 L1504.7,462.7 L1505.8,462.4 L1506.8,462.2 L1508.0,462.1 L1509.1,462.1 L1510.3,462.2 L1511.5,462.4 L1512.7,462.6 L1514.0,462.9 L1515.3,463.3 L1516.5,463.7 L1517.8,464.1 L1519.1,464.5 L1520.4,464.9 L1521.7,465.4 L1523.0,465.7 L1524.2,466.1 L1525.5,466.4 L1526.7,466.6 L1527.9,466.8 L1529.1,466.9 L1530.3,466.9 L1531.4,466.8 L1532.5,466.6 L1533.5,466.3 L1534.6,465.9 L1535.6,465.5 L1536.5,464.9 L1537.4,464.2 L1538.3,463.4 L1539.2,462.6 L1540.1,461.7 L1540.9,460.7 L1541.7,459.6 L1542.5,458.6 L1543.3,457.5 L1544.1,456.4 L1544.9,455.3 L1545.7,454.2 L1546.5,453.1 L1547.3,452.1 L1548.2,451.1 L1549.0,450.2 L1549.9,449.3 L1550.8,448.6 L1551.7,447.9 L1552.7,447.3 L1553.7,446.8 L1554.7,446.4 L1555.7,446.1 L1556.8,445.8 L1557.9,445.6 L1559.0,445.5 L1560.1,445.4 L1561.3,445.3 L1562.4,445.3 L1563.6,445.4 L1564.8,445.6 L1566.1,445.9 L1567.4,446.4 L1569.1,448.2 M1419.1,497.1 L1419.5,494.6 L1420.2,493.4 L1421.1,492.4 L1421.9,491.5 L1422.8,490.8 L1423.8,490.1 L1424.7,489.4 L1425.7,488.9 L1426.6,488.3 L1427.6,487.9 L1428.7,487.5 L1429.7,487.1 L1430.8,486.8 L1431.8,486.6 L1433.0,486.5 L1434.1,486.5 L1435.3,486.6 L1436.5,486.8 L1437.7,487.0 L1439.0,487.3 L1440.3,487.7 L1441.5,488.1 L1442.8,488.5 L1444.1,488.9 L1445.4,489.4 L1446.7,489.8 L1448.0,490.2 L1449.2,490.5 L1450.5,490.8 L1451.7,491.1 L1452.9,491.2 L1454.1,491.3 L1455.3,491.3 L1456.4,491.2 L1457.5,491.0 L1458.5,490.7 L1459.6,490.4 L1460.6,489.9 L1461.5,489.3 L1462.4,488.6 L1463.3,487.8 L1464.2,487.0 L1465.1,486.1 L1465.9,485.1 L1466.7,484.1 L1467.5,483.0 L1468.3,481.9 L1469.1,480.8 L1469.9,479.7 L1470.7,478.6 L1471.5,477.5 L1472.3,476.5 L1473.2,475.5 L1474.0,474.6 L1474.9,473.7 L1475.8,473.0 L1476.7,472.3 L1477.7,471.7 L1478.7,471.2 L1479.7,470.8 L1480.8,470.5 L1481.8,470.3 L1483.0,470.3 L1484.1,470.3 L1485.3,470.3 L1486.5,470.5 L1487.7,470.8 L1489.0,471.1 L1490.3,471.4 L1491.5,471.8 L1492.8,472.2 L1494.1,472.6 L1495.4,473.1 L1496.7,473.5 L1498.0,473.9 L1499.2,474.2 L1500.5,474.5 L1501.7,474.8 L1502.9,475.0 L1504.1,475.0 L1505.3,475.0 L1506.4,475.0 L1507.5,474.8 L1508.5,474.5 L1509.6,474.1 L1510.6,473.6 L1511.5,473.0 L1512.4,472.3 L1513.3,471.6 L1514.2,470.7 L1515.1,469.8 L1515.9,468.8 L1516.7,467.8 L1517.5,466.7 L1518.3,465.6 L1519.1,464.5 L1519.9,463.4 L1520.7,462.3 L1521.5,461.2 L1522.3,460.2 L1523.2,459.2 L1524.0,458.3 L1524.9,457.5 L1525.8,456.7 L1526.7,456.0 L1527.7,455.4 L1528.7,454.9 L1529.7,454.5 L1530.8,454.3 L1531.8,454.1 L1533.0,454.0 L1534.1,454.0 L1535.3,454.1 L1536.5,454.2 L1537.7,454.5 L1539.0,454.8 L1540.3,455.1 L1541.5,455.5 L1542.8,455.9 L1544.1,456.4 L1545.4,456.8 L1546.7,457.2 L1548.0,457.6 L1549.2,458.0 L1550.5,458.3 L1551.7,458.5 L1552.9,458.7 L1554.1,458.8 L1555.3,458.8 L1556.4,458.7 L1557.5,458.5 L1558.5,458.2 L1559.6,457.8 L1560.6,457.4 L1561.6,457.0 L1562.6,456.4 L1563.5,455.9 L1564.5,455.2 L1565.4,454.5 L1566.3,453.8 L1567.2,452.9 L1568.0,451.9 L1568.8,450.7 L1569.1,448.2" fill="none" stroke="#c4694f" stroke-width="3.6" stroke-linecap="round" stroke-linejoin="round"/>
<ellipse cx="1399.4" cy="550.6" rx="5" ry="7.5" fill="none" stroke="#c4694f" stroke-width="3.4"/>
<path d="M1417.1,646.2 C1415.9,643.5,1410.7,635.5,1410.3,630.0 C1409.9,624.5,1411.5,618.2,1414.7,612.9 C1417.9,607.6,1424.5,602.7,1429.4,598.2 C1434.3,593.7,1440.4,590.4,1444.1,585.9 C1447.8,581.4,1449.7,576.1,1451.5,571.2 C1453.2,566.3,1454.9,561.9,1454.7,556.5 C1454.6,551.1,1452.5,544.1,1450.6,538.8 C1448.6,533.5,1444.0,528.3,1442.9,524.7 C1441.9,521.1,1442.5,518.1,1444.1,517.1 C1445.8,516.0,1449.5,515.1,1452.9,518.2 C1456.4,521.4,1460.8,531.0,1464.7,535.9 C1468.6,540.8,1472.1,544.7,1476.5,547.6 C1480.9,550.6,1486.5,552.1,1491.2,553.5 C1495.8,555.0,1501.7,555.0,1504.4,556.5 C1507.2,557.9,1508.4,560.4,1507.6,562.4 C1506.9,564.3,1504.1,567.7,1500.0,568.2 C1495.9,568.7,1486.9,565.5,1482.9,565.3 C1479.0,565.1,1476.1,565.6,1476.5,567.1 C1476.9,568.5,1480.9,571.0,1485.3,574.1 C1489.7,577.3,1497.5,582.5,1502.9,585.9 C1508.3,589.3,1513.6,591.8,1517.6,594.7 C1521.7,597.6,1523.6,601.6,1527.1,603.5 C1530.5,605.5,1535.4,605.0,1538.2,606.5 C1541.1,607.9,1543.6,610.4,1544.1,612.4 C1544.6,614.3,1544.1,617.7,1541.2,618.2 C1538.2,618.7,1533.3,617.0,1526.5,615.3 C1519.6,613.6,1508.3,609.9,1500.0,608.2 C1491.7,606.6,1481.9,605.3,1476.5,605.3 C1471.1,605.3,1468.1,606.6,1467.6,608.2 C1467.2,609.9,1469.1,612.6,1473.5,615.3 C1477.9,617.9,1486.8,621.4,1494.1,624.1 C1501.5,626.8,1510.3,629.9,1517.6,631.5 C1525.0,633.0,1532.4,632.7,1538.2,633.5 C1544.1,634.4,1547.8,635.8,1552.9,636.5 C1558.1,637.2,1563.7,637.3,1569.1,637.6 C1574.5,638.0,1582.6,638.6,1585.3,638.8" fill="none" stroke="#62a6c3" stroke-width="7.0" stroke-linecap="round" stroke-linejoin="round" />
<path d="M1423.5,609.4 C1426.0,608.7,1433.8,606.4,1438.2,605.0 C1442.6,603.6,1447.5,602.6,1450.0,601.2 C1452.5,599.7,1452.9,597.0,1453.5,596.2" fill="none" stroke="#62a6c3" stroke-width="7.0" stroke-linecap="round" stroke-linejoin="round" />
<path d="M1538.2,633.5 C1537.3,635.4,1534.8,639.9,1532.4,644.7 C1529.9,649.5,1525.7,656.5,1523.5,662.4 C1521.3,668.2,1521.0,675.6,1519.1,680.0 C1517.3,684.4,1514.6,686.9,1512.4,688.8 C1510.1,690.8,1507.0,691.3,1505.9,691.8" fill="none" stroke="#62a6c3" stroke-width="7.0" stroke-linecap="round" stroke-linejoin="round" />
<path d="M1519.1,680.0 C1522.3,678.5,1532.2,674.0,1538.2,671.2 C1544.3,668.3,1552.1,665.3,1555.3,662.9 C1558.5,660.6,1560.2,659.1,1557.4,657.1 C1554.5,655.0,1546.3,652.8,1538.2,650.6 C1530.1,648.3,1516.2,645.0,1508.8,643.5 C1501.5,642.1,1496.6,642.1,1494.1,641.8" fill="none" stroke="#62a6c3" stroke-width="7.0" stroke-linecap="round" stroke-linejoin="round" />
<path d="M1614.7,649.1 C1614.2,645.9,1613.0,636.6,1611.8,630.0 C1610.5,623.4,1607.4,614.8,1607.4,609.4 C1607.4,604.0,1609.1,601.1,1611.8,597.6 C1614.5,594.2,1621.1,591.8,1623.5,588.8 C1626.0,585.9,1627.5,583.4,1626.5,580.0 C1625.5,576.6,1621.6,572.2,1617.6,568.2 C1613.7,564.3,1608.3,560.4,1602.9,556.5 C1597.5,552.5,1590.7,548.6,1585.3,544.7 C1579.9,540.8,1573.5,536.4,1570.6,532.9 C1567.6,529.5,1566.7,527.1,1567.6,524.1 C1568.6,521.2,1572.1,517.5,1576.5,515.3 C1580.9,513.1,1588.7,512.1,1594.1,510.9 C1599.5,509.7,1606.6,509.4,1608.8,507.9 C1611.0,506.5,1609.8,504.5,1607.4,502.1 C1604.9,499.6,1598.8,495.9,1594.1,493.2 C1589.5,490.5,1582.8,486.9,1579.4,485.9 C1576.0,484.9,1574.8,485.4,1573.5,487.4 C1572.3,489.3,1573.5,494.0,1572.1,497.6 C1570.6,501.3,1568.4,506.0,1564.7,509.4 C1561.0,512.8,1554.4,515.8,1550.0,518.2 C1545.6,520.7,1542.1,523.8,1538.2,524.1 C1534.4,524.4,1529.5,520.9,1527.1,520.0 C1524.6,519.1,1523.6,517.6,1523.5,518.8 C1523.4,520.0,1524.0,524.2,1526.5,527.1 C1528.9,529.9,1532.8,533.2,1538.2,535.9 C1543.6,538.6,1552.7,541.3,1558.8,543.2 C1565.0,545.2,1572.1,545.9,1575.0,547.6 C1577.9,549.4,1578.2,552.1,1576.5,553.5 C1574.8,555.0,1568.6,555.7,1564.7,556.5 C1560.8,557.2,1555.9,556.7,1552.9,557.9 C1550.0,559.2,1547.5,561.6,1547.1,563.8 C1546.6,566.0,1547.1,568.5,1550.0,571.2 C1552.9,573.9,1559.3,577.5,1564.7,580.0 C1570.1,582.5,1577.9,584.2,1582.4,585.9 C1586.8,587.6,1590.2,588.6,1591.2,590.3 C1592.2,592.0,1590.7,595.9,1588.2,596.2 C1585.8,596.4,1580.4,593.5,1576.5,591.8 C1572.5,590.0,1567.9,586.8,1564.7,585.9 C1561.5,585.0,1558.6,584.5,1557.4,586.5 C1556.1,588.4,1556.1,593.3,1557.4,597.6 C1558.6,602.0,1561.5,607.9,1564.7,612.4 C1567.9,616.8,1573.0,620.7,1576.5,624.1 C1579.9,627.5,1583.2,630.4,1585.3,632.9 C1587.4,635.5,1588.2,638.3,1588.8,639.4" fill="none" stroke="#62a6c3" stroke-width="3.8" stroke-linecap="round" stroke-linejoin="round" />
</g><circle cx="1528.0" cy="577.0" r="134.0" fill="none" stroke="#111" stroke-width="1.4"/>
</g>
<g id="pb">
<rect x="406.3" y="778.0" width="129.7" height="412.5" fill="#f8f8f8"/>
<path d="M77.9,808.2 C79.9,800.2,83.7,800.6,88.6,801.0 C93.6,801.4,102.1,803.8,107.7,810.5 C113.3,817.3,116.0,830.4,122.0,841.5 C128.0,852.7,135.9,867.0,143.5,877.3 C151.0,887.7,157.4,895.6,167.3,903.6 C177.3,911.5,190.8,918.3,203.1,925.0 C215.4,931.8,229.3,936.9,241.3,944.1 C253.2,951.3,265.1,960.4,274.6,967.9 C284.2,975.5,290.5,981.1,298.5,989.4 C306.4,997.8,312.1,1006.9,322.3,1018.0 C332.6,1029.2,351.8,1048.2,360.0,1056.2 C368.2,1064.1,365.7,1061.0,371.5,1065.7 C377.4,1070.5,387.4,1080.2,395.4,1084.8 C403.3,1089.4,407.3,1090.6,419.2,1093.2 C431.2,1095.7,451.0,1098.1,466.9,1100.3 C482.8,1102.5,504.7,1104.5,514.6,1106.3 C524.6,1108.1,523.7,1108.3,526.6,1111.0 C529.4,1113.8,530.9,1117.4,531.8,1123.0 C532.7,1128.5,532.7,1139.7,531.8,1144.4 C530.9,1149.2,533.4,1150.2,526.6,1151.6 C519.7,1153.0,504.7,1153.0,490.8,1152.8 C476.9,1152.6,457.0,1151.4,443.1,1150.4 C429.2,1149.4,417.3,1149.0,407.3,1146.8 C397.4,1144.6,390.6,1141.3,383.5,1137.3 C376.3,1133.3,374.6,1130.9,364.4,1123.0 C354.2,1115.0,333.3,1099.1,322.3,1089.6 C311.4,1080.0,306.4,1073.3,298.5,1065.7 C290.5,1058.2,282.6,1051.4,274.6,1044.3 C266.7,1037.1,258.7,1029.6,250.8,1022.8 C242.8,1016.0,236.5,1009.3,226.9,1003.7 C217.4,998.2,205.5,996.2,193.6,989.4 C181.6,982.7,167.7,971.9,155.4,963.2 C143.1,954.4,130.0,944.5,119.6,936.9 C109.3,929.4,99.7,925.8,93.4,917.9 C87.0,909.9,84.2,900.8,81.5,889.2 C78.7,877.7,77.3,862.2,76.7,848.7 C76.1,835.2,75.9,816.1,77.9,808.2Z" fill="#8669b0" fill-opacity="0.14" stroke="#999" stroke-opacity="0.25" stroke-width="0.8"/>
<path d="M80.3,1099.1 C81.0,1090.0,82.1,1078.1,83.8,1068.1 C85.6,1058.2,87.0,1047.4,91.0,1039.5 C95.0,1031.5,97.0,1026.4,107.7,1020.4 C118.4,1014.5,139.5,1008.5,155.4,1003.7 C171.3,999.0,189.2,995.8,203.1,991.8 C217.0,987.8,226.9,986.2,238.9,979.9 C250.8,973.5,262.7,963.2,274.6,953.6 C286.6,944.1,300.5,932.6,310.4,922.6 C320.4,912.7,326.0,903.6,334.3,894.0 C342.5,884.5,353.8,874.5,360.0,865.4 C366.2,856.3,365.7,845.9,371.5,839.2 C377.4,832.4,387.4,828.4,395.4,824.9 C403.3,821.3,407.3,820.5,419.2,817.7 C431.2,814.9,451.0,810.7,466.9,808.2 C482.8,805.6,504.5,803.1,514.6,802.2 C524.8,801.3,524.8,800.9,527.8,802.7 C530.7,804.5,532.1,808.0,532.5,812.9 C532.9,817.8,531.5,827.2,530.1,832.0 C528.8,836.8,528.8,838.8,524.2,841.5 C519.6,844.3,512.3,845.5,502.7,848.7 C493.2,851.9,478.5,856.7,466.9,860.6 C455.4,864.6,441.5,868.6,433.6,872.6 C425.6,876.5,423.6,880.1,419.2,884.5 C414.9,888.8,411.3,893.2,407.3,898.8 C403.3,904.4,401.4,910.3,395.4,917.9 C389.4,925.4,381.7,935.0,371.5,944.1 C361.4,953.2,346.4,964.0,334.3,972.7 C322.1,981.5,312.4,988.2,298.5,996.6 C284.6,1004.9,266.7,1014.1,250.8,1022.8 C234.9,1031.5,218.2,1041.1,203.1,1049.0 C188.0,1057.0,170.1,1064.9,160.2,1070.5 C150.2,1076.1,148.2,1076.9,143.5,1082.4 C138.7,1088.0,135.5,1096.3,131.5,1103.9 C127.6,1111.4,124.0,1120.2,119.6,1127.7 C115.3,1135.3,110.1,1144.8,105.3,1149.2 C100.5,1153.6,94.8,1154.4,91.0,1154.0 C87.2,1153.6,84.6,1152.0,82.7,1146.8 C80.7,1141.7,80.0,1130.9,79.6,1123.0 C79.2,1115.0,79.6,1108.3,80.3,1099.1Z" fill="#e6ac82" fill-opacity="0.13" stroke="#999" stroke-opacity="0.25" stroke-width="0.8"/>
<line x1="406.3" y1="778.0" x2="406.3" y2="1190.5" stroke="#555" stroke-width="1.2" stroke-dasharray="5,3.5"/>
<rect x="73.0" y="778.0" width="463.0" height="412.5" fill="none" stroke="#111" stroke-width="1.6"/>
<path d="M134.7,1190.5 v-8 M196.4,1190.5 v-8 M258.1,1190.5 v-8 M319.9,1190.5 v-8 M381.6,1190.5 v-8 M443.3,1190.5 v-8 M505.0,1190.5 v-8 M103.9,1190.5 v-4.5 M165.6,1190.5 v-4.5 M227.3,1190.5 v-4.5 M289.0,1190.5 v-4.5 M350.7,1190.5 v-4.5 M412.4,1190.5 v-4.5 M474.1,1190.5 v-4.5 M73.0,1127.1 h8 M73.0,1063.7 h8 M73.0,1000.2 h8 M73.0,936.8 h8 M73.0,873.4 h8 M73.0,810.0 h8 M73.0,1158.8 h4.5 M73.0,1095.4 h4.5 M73.0,1032.0 h4.5 M73.0,968.5 h4.5 M73.0,905.1 h4.5 M73.0,841.7 h4.5 M73.0,778.3 h4.5 M536.0,1138.9 h-8 M536.0,1087.4 h-8 M536.0,1035.8 h-8 M536.0,984.2 h-8 M536.0,932.7 h-8 M536.0,881.1 h-8 M536.0,829.6 h-8 M536.0,1164.7 h-4.5 M536.0,1113.2 h-4.5 M536.0,1061.6 h-4.5 M536.0,1010.0 h-4.5 M536.0,958.5 h-4.5 M536.0,906.9 h-4.5 M536.0,855.3 h-4.5 M536.0,803.8 h-4.5" stroke="#111" stroke-width="1.5" fill="none"/>
<text x="73.0" y="1215.5" font-size="18" text-anchor="middle">0</text>
<text x="134.7" y="1215.5" font-size="18" text-anchor="middle">5</text>
<text x="196.4" y="1215.5" font-size="18" text-anchor="middle">10</text>
<text x="258.1" y="1215.5" font-size="18" text-anchor="middle">15</text>
<text x="319.9" y="1215.5" font-size="18" text-anchor="middle">20</text>
<text x="381.6" y="1215.5" font-size="18" text-anchor="middle">25</text>
<text x="443.3" y="1215.5" font-size="18" text-anchor="middle">30</text>
<text x="505.0" y="1215.5" font-size="18" text-anchor="middle">35</text>
<text x="63" y="1196.1" font-size="18" text-anchor="end">0</text>
<text x="63" y="1132.7" font-size="18" text-anchor="end">100</text>
<text x="63" y="1069.3" font-size="18" text-anchor="end">200</text>
<text x="63" y="1005.9" font-size="18" text-anchor="end">300</text>
<text x="63" y="942.4" font-size="18" text-anchor="end">400</text>
<text x="63" y="879.0" font-size="18" text-anchor="end">500</text>
<text x="63" y="815.6" font-size="18" text-anchor="end">600</text>
<text x="546.5" y="1196.2" font-size="18">8</text>
<text x="546.5" y="1144.6" font-size="18">10</text>
<text x="546.5" y="1093.1" font-size="18">12</text>
<text x="546.5" y="1041.5" font-size="18">14</text>
<text x="546.5" y="990.0" font-size="18">16</text>
<text x="546.5" y="938.4" font-size="18">18</text>
<text x="546.5" y="886.8" font-size="18">20</text>
<text x="546.5" y="835.3" font-size="18">22</text>
<text x="546.5" y="783.7" font-size="18">24</text>
<text x="191.5" y="1252" font-size="22">Pulling speed (m min<tspan font-size="14" dy="-9">-1</tspan><tspan dy="9">)</tspan></text>
<text transform="translate(17,985) rotate(-90)" font-size="22" text-anchor="middle">Fiber diameter (µm)</text>
<text transform="translate(597,985) rotate(-90)" font-size="22" text-anchor="middle">Tensile strength (MPa)</text>
<text x="15" y="782" class="lbl">b</text>
<path d="M91.5,805.6 V837.3 M86.5,805.6 h10 M86.5,837.3 h10" stroke="#111" stroke-width="1.3" fill="none"/><rect x="85.0" y="814.9" width="13" height="13" fill="#7b6dcb" stroke="#222" stroke-width="0.9"/>
<path d="M110.0,889.9 V912.7 M105.0,889.9 h10 M105.0,912.7 h10" stroke="#111" stroke-width="1.3" fill="none"/><rect x="103.5" y="894.8" width="13" height="13" fill="#7b6dcb" stroke="#222" stroke-width="0.9"/>
<path d="M147.1,914.6 V932.4 M142.1,914.6 h10 M142.1,932.4 h10" stroke="#111" stroke-width="1.3" fill="none"/><rect x="140.6" y="917.0" width="13" height="13" fill="#7b6dcb" stroke="#222" stroke-width="0.9"/>
<path d="M184.1,932.4 V948.9 M179.1,932.4 h10 M179.1,948.9 h10" stroke="#111" stroke-width="1.3" fill="none"/><rect x="177.6" y="934.1" width="13" height="13" fill="#7b6dcb" stroke="#222" stroke-width="0.9"/>
<rect x="214.6" y="950.0" width="13" height="13" fill="#7b6dcb" stroke="#222" stroke-width="0.9"/><path d="M221.1,951.4 V961.6 M216.1,951.4 h10 M216.1,961.6 h10" stroke="#111" stroke-width="1.3" fill="none"/>
<rect x="251.6" y="1000.1" width="13" height="13" fill="#7b6dcb" stroke="#222" stroke-width="0.9"/><path d="M258.1,1001.5 V1011.7 M253.1,1001.5 h10 M253.1,1011.7 h10" stroke="#111" stroke-width="1.3" fill="none"/>
<rect x="288.7" y="1028.0" width="13" height="13" fill="#7b6dcb" stroke="#222" stroke-width="0.9"/><path d="M295.2,1029.4 V1039.6 M290.2,1029.4 h10 M290.2,1039.6 h10" stroke="#111" stroke-width="1.3" fill="none"/>
<rect x="325.7" y="1079.4" width="13" height="13" fill="#7b6dcb" stroke="#222" stroke-width="0.9"/><path d="M332.2,1080.8 V1090.9 M327.2,1080.8 h10 M327.2,1090.9 h10" stroke="#111" stroke-width="1.3" fill="none"/>
<rect x="362.7" y="1099.0" width="13" height="13" fill="#7b6dcb" stroke="#222" stroke-width="0.9"/><path d="M369.2,1100.4 V1110.6 M364.2,1100.4 h10 M364.2,1110.6 h10" stroke="#111" stroke-width="1.3" fill="none"/>
<rect x="399.8" y="1119.3" width="13" height="13" fill="#7b6dcb" stroke="#222" stroke-width="0.9"/><path d="M406.3,1122.0 V1129.6 M401.3,1122.0 h10 M401.3,1129.6 h10" stroke="#111" stroke-width="1.3" fill="none"/>
<rect x="436.8" y="1122.5" width="13" height="13" fill="#7b6dcb" stroke="#222" stroke-width="0.9"/><path d="M443.3,1125.2 V1132.8 M438.3,1125.2 h10 M438.3,1132.8 h10" stroke="#111" stroke-width="1.3" fill="none"/>
<rect x="510.8" y="1125.7" width="13" height="13" fill="#7b6dcb" stroke="#222" stroke-width="0.9"/><path d="M517.3,1128.4 V1136.0 M512.3,1128.4 h10 M512.3,1136.0 h10" stroke="#111" stroke-width="1.3" fill="none"/>
<path d="M91.5,1104.1 V1142.8 M86.5,1104.1 h10 M86.5,1142.8 h10" stroke="#111" stroke-width="1.3" fill="none"/>
<path d="M91.5,1113.0 l8.5,10.5 l-8.5,10.5 l-8.5,-10.5z" fill="#f07a5c" stroke="#222" stroke-width="0.9"/>
<path d="M110.0,1035.8 V1071.9 M105.0,1035.8 h10 M105.0,1071.9 h10" stroke="#111" stroke-width="1.3" fill="none"/>
<path d="M110.0,1043.4 l8.5,10.5 l-8.5,10.5 l-8.5,-10.5z" fill="#f07a5c" stroke="#222" stroke-width="0.9"/>
<path d="M147.1,1029.4 V1060.3 M142.1,1029.4 h10 M142.1,1060.3 h10" stroke="#111" stroke-width="1.3" fill="none"/>
<path d="M147.1,1034.3 l8.5,10.5 l-8.5,10.5 l-8.5,-10.5z" fill="#f07a5c" stroke="#222" stroke-width="0.9"/>
<path d="M184.1,1021.6 V1050.0 M179.1,1021.6 h10 M179.1,1050.0 h10" stroke="#111" stroke-width="1.3" fill="none"/>
<path d="M184.1,1025.3 l8.5,10.5 l-8.5,10.5 l-8.5,-10.5z" fill="#f07a5c" stroke="#222" stroke-width="0.9"/>
<path d="M221.1,998.4 V1024.2 M216.1,998.4 h10 M216.1,1024.2 h10" stroke="#111" stroke-width="1.3" fill="none"/>
<path d="M221.1,1000.8 l8.5,10.5 l-8.5,10.5 l-8.5,-10.5z" fill="#f07a5c" stroke="#222" stroke-width="0.9"/>
<path d="M258.1,989.4 V1015.2 M253.1,989.4 h10 M253.1,1015.2 h10" stroke="#111" stroke-width="1.3" fill="none"/>
<path d="M258.1,991.8 l8.5,10.5 l-8.5,10.5 l-8.5,-10.5z" fill="#f07a5c" stroke="#222" stroke-width="0.9"/>
<path d="M295.2,966.2 V986.8 M290.2,966.2 h10 M290.2,986.8 h10" stroke="#111" stroke-width="1.3" fill="none"/>
<path d="M295.2,966.0 l8.5,10.5 l-8.5,10.5 l-8.5,-10.5z" fill="#f07a5c" stroke="#222" stroke-width="0.9"/>
<path d="M332.2,918.5 V949.4 M327.2,918.5 h10 M327.2,949.4 h10" stroke="#111" stroke-width="1.3" fill="none"/>
<path d="M332.2,923.5 l8.5,10.5 l-8.5,10.5 l-8.5,-10.5z" fill="#f07a5c" stroke="#222" stroke-width="0.9"/>
<path d="M369.2,895.3 V936.6 M364.2,895.3 h10 M364.2,936.6 h10" stroke="#111" stroke-width="1.3" fill="none"/>
<path d="M369.2,905.4 l8.5,10.5 l-8.5,10.5 l-8.5,-10.5z" fill="#f07a5c" stroke="#222" stroke-width="0.9"/>
<path d="M406.3,830.9 V864.4 M401.3,830.9 h10 M401.3,864.4 h10" stroke="#111" stroke-width="1.3" fill="none"/>
<path d="M406.3,837.1 l8.5,10.5 l-8.5,10.5 l-8.5,-10.5z" fill="#f07a5c" stroke="#222" stroke-width="0.9"/>
<path d="M443.3,825.7 V851.5 M438.3,825.7 h10 M438.3,851.5 h10" stroke="#111" stroke-width="1.3" fill="none"/>
<path d="M443.3,828.1 l8.5,10.5 l-8.5,10.5 l-8.5,-10.5z" fill="#f07a5c" stroke="#222" stroke-width="0.9"/>
<path d="M517.3,807.6 V825.7 M512.3,807.6 h10 M512.3,825.7 h10" stroke="#111" stroke-width="1.3" fill="none"/>
<path d="M517.3,806.2 l8.5,10.5 l-8.5,10.5 l-8.5,-10.5z" fill="#f07a5c" stroke="#222" stroke-width="0.9"/>
<path d="M147,945 V969 H103" fill="none" stroke="#111" stroke-width="1.4"/><path d="M98,969 l14,-5 l-3,5 l3,5z" fill="#111"/>
<path d="M443,862 V886 H497" fill="none" stroke="#111" stroke-width="1.4"/><path d="M504,886 l-14,-5 l3,5 l-3,5z" fill="#111"/>
</g>
<g id="pc">
<rect x="649.0" y="776.5" width="440.0" height="440.3" fill="#050607"/>
<g transform="translate(649.0,832.40) skewY(0.9245)"><rect x="0" y="0" width="440.0" height="59.30" fill="url(#cg0)"/></g>
<g transform="translate(649.0,920.70) skewY(0.0521)"><rect x="0" y="0" width="440.0" height="44.70" fill="url(#cg1)"/></g>
<g transform="translate(649.0,992.30) skewY(0.9505)"><rect x="0" y="0" width="440.0" height="25.90" fill="url(#cg2)"/></g>
<g transform="translate(649.0,1043.50) skewY(0.7617)"><rect x="0" y="0" width="440.0" height="21.25" fill="url(#cg3)"/></g>
<g transform="translate(649.0,1093.80) skewY(0.8919)"><rect x="0" y="0" width="440.0" height="14.05" fill="url(#cg4)"/></g>
<g transform="translate(649.0,1138.60) skewY(0.7422)"><rect x="0" y="0" width="440.0" height="11.30" fill="url(#cg5)"/></g>
<path d="M649,988.4 L1089,996.3" stroke="#8a8478" stroke-width="0.9" fill="none"/>
<text x="826" y="817" font-size="21" style="fill:#fff">3 m min<tspan font-size="13" dy="-9">-1</tspan></text>
<text x="823" y="1196" font-size="21" style="fill:#fff">30 m min<tspan font-size="13" dy="-9">-1</tspan></text>
<rect x="1008.5" y="1194.9" width="53.5" height="3.2" fill="#fff"/>
<text x="612.3" y="783" class="lbl">c</text>
</g>
<g id="pd">
<g clip-path="url(#dclip)">
<rect x="1163.2" y="779.9" width="521.1" height="205.9" fill="#fdfdfd"/>
<path d="M1174.7,874.5 C1178.8,876.9,1189.8,883.5,1199.4,888.6 C1209.0,893.7,1218.7,899.5,1232.4,905.0 C1246.1,910.5,1265.4,917.0,1281.8,921.5 C1298.2,926.0,1314.5,929.5,1331.0,932.0 C1347.5,934.5,1367.4,935.7,1380.6,936.4 C1393.8,937.1,1401.3,936.2,1410.0,936.2 C1418.7,936.2,1424.8,936.5,1433.0,936.2 C1441.2,936.0,1446.8,935.6,1459.4,934.7 C1472.0,933.8,1492.3,932.8,1508.8,930.6 C1525.3,928.4,1541.7,925.5,1558.2,921.5 C1574.7,917.5,1594.0,911.6,1607.7,906.7 C1621.4,901.8,1631.0,896.9,1640.6,891.9 C1650.2,886.9,1661.2,879.1,1665.3,876.5 L1668,760 L1172,760 Z" fill="url(#dliq)"/>
<path d="M1290.0,885.0 C1298.3,888.0,1321.7,898.5,1340.0,903.0 C1358.3,907.5,1378.3,911.2,1400.0,912.0 C1421.7,912.8,1446.7,911.2,1470.0,908.0 C1493.3,904.8,1518.3,899.7,1540.0,893.0 C1561.7,886.3,1590.0,872.2,1600.0,868.0" fill="none" stroke="#55585c" stroke-width="9" stroke-opacity="0.7" filter="url(#dblur2)"/>
<path d="M1215.0,815.0 C1216.7,819.2,1220.0,832.5,1225.0,840.0 C1230.0,847.5,1236.7,854.2,1245.0,860.0 C1253.3,865.8,1270.0,872.5,1275.0,875.0" fill="none" stroke="#4a4c50" stroke-width="6" stroke-opacity="0.7" filter="url(#dblur)"/>
<path d="M1645.0,800.0 C1643.5,805.0,1641.8,820.8,1636.0,830.0 C1630.2,839.2,1621.0,848.0,1610.0,855.0 C1599.0,862.0,1576.7,869.2,1570.0,872.0" fill="none" stroke="#4a4c50" stroke-width="6" stroke-opacity="0.6" filter="url(#dblur)"/>
<path d="M1195.5,770.0 C1196.2,773.8,1197.2,786.5,1199.5,793.0 C1201.8,799.5,1204.9,803.8,1209.0,809.0 C1213.1,814.2,1218.2,819.5,1224.0,824.0 C1229.8,828.5,1236.7,832.7,1244.0,836.0 C1251.3,839.3,1258.7,841.8,1268.0,844.0 C1277.3,846.2,1289.7,847.9,1300.0,849.5 C1310.3,851.1,1320.0,852.4,1330.0,853.5 C1340.0,854.6,1345.7,855.5,1360.0,856.3 C1374.3,857.1,1401.0,858.1,1416.0,858.5 C1431.0,858.9,1437.7,858.7,1450.0,858.5 C1462.3,858.3,1476.0,858.9,1490.0,857.5 C1504.0,856.1,1520.5,852.7,1534.0,850.0 C1547.5,847.3,1559.5,844.5,1571.0,841.5 C1582.5,838.5,1594.0,835.9,1603.0,832.0 C1612.0,828.1,1618.9,823.7,1625.0,818.4 C1631.1,813.1,1635.8,808.1,1639.5,800.0 C1643.2,791.9,1646.2,775.0,1647.5,770.0" fill="none" stroke="#242528" stroke-width="22" stroke-opacity="0.9" filter="url(#dblur)"/>
<path d="M1207.0,760.0 C1207.4,763.2,1208.4,773.9,1209.5,779.0 C1210.6,784.1,1211.4,786.5,1213.5,790.5 C1215.6,794.5,1218.5,799.0,1222.0,803.0 C1225.5,807.0,1229.6,811.1,1234.5,814.5 C1239.4,817.9,1245.2,820.8,1251.5,823.5 C1257.8,826.2,1263.9,828.5,1272.0,830.5 C1280.1,832.5,1290.3,834.0,1300.0,835.5 C1309.7,837.0,1320.0,838.4,1330.0,839.5 C1340.0,840.6,1345.7,841.5,1360.0,842.3 C1374.3,843.1,1403.8,844.1,1416.0,844.5 C1428.2,844.9,1427.3,844.8,1433.0,844.8 C1438.7,844.8,1440.5,844.7,1450.0,844.5 C1459.5,844.3,1476.5,844.8,1490.0,843.5 C1503.5,842.2,1518.2,839.0,1531.0,836.5 C1543.8,834.0,1555.7,831.0,1566.5,828.2 C1577.3,825.5,1588.2,823.1,1596.0,820.0 C1603.8,816.9,1608.5,813.5,1613.5,809.4 C1618.5,805.3,1622.7,800.4,1626.0,795.3 C1629.3,790.2,1631.7,784.9,1633.5,779.0 C1635.3,773.1,1636.4,763.2,1637.0,760.0 Z" fill="#fdfdfd" filter="url(#dblur3)"/>
<rect x="1163.2" y="779" width="11.3" height="208" fill="#7d7d7d"/>
<rect x="1163.2" y="779" width="11.3" height="208" fill="#fff" filter="url(#dnoise)"/>
<rect x="1166" y="779" width="2.2" height="208" fill="#5c5c5c" opacity="0.6"/>
<path d="M1667.8,779 L1684.5,779 L1684.5,987 L1664.5,987 L1665,876 Z" fill="#717171"/>
<path d="M1667.8,779 L1684.5,779 L1684.5,987 L1664.5,987 L1665,876 Z" fill="#fff" filter="url(#dnoise)"/>
<rect x="1664.5" y="779" width="3.6" height="100" fill="#8d9090"/>
<path d="M1426.5,779 L1439.6,779 L1438.2,987 L1425.5,987 Z" fill="#33302e"/>
</g>
<path d="M1173.0,873.2 C1177.4,875.8,1189.5,883.3,1199.4,888.6 C1209.3,893.9,1218.7,899.5,1232.4,905.0 C1246.1,910.5,1265.4,917.0,1281.8,921.5 C1298.2,926.0,1314.5,929.5,1331.0,932.0 C1347.5,934.5,1367.4,935.7,1380.6,936.4 C1393.8,937.1,1401.3,936.2,1410.0,936.2 C1418.7,936.2,1424.8,936.5,1433.0,936.2 C1441.2,936.0,1446.8,935.6,1459.4,934.7 C1472.0,933.8,1492.3,932.8,1508.8,930.6 C1525.3,928.4,1541.7,925.5,1558.2,921.5 C1574.7,917.5,1594.0,911.6,1607.7,906.7 C1621.4,901.8,1630.9,897.1,1640.6,891.9 C1650.3,886.7,1661.8,878.2,1666.0,875.5" fill="none" stroke="#f5ee2a" stroke-width="1.7" stroke-dasharray="11,6"/>
<path d="M1364.0,927.8 C1366.8,927.3,1373.8,926.9,1380.6,924.8 C1387.4,922.7,1398.1,917.8,1405.0,915.0 C1411.9,912.2,1417.0,909.5,1422.0,908.0 C1427.0,906.5,1430.5,905.8,1434.7,905.9 C1438.9,906.0,1442.9,907.3,1447.0,908.5 C1451.1,909.7,1453.2,910.9,1459.4,913.3 C1465.6,915.7,1477.1,920.7,1484.0,923.0 C1490.9,925.3,1497.8,926.6,1500.6,927.3" fill="none" stroke="#f5ee2a" stroke-width="1.5" stroke-dasharray="3.5,3"/>
<path d="M1433,874 V806" stroke="#fff" stroke-width="1.6" fill="none"/><path d="M1433,798.5 l4.2,12.5 l-4.2,-3 l-4.2,3 z" fill="#fff"/>
<text x="1300" y="816" font-size="22">Air</text>
<text x="1190" y="871" font-size="22" style="fill:#f5ee2a">Air-liquid interface</text>
<text x="1453" y="874" font-size="22" style="fill:#fff">Pulling</text>
<text x="1187.5" y="958" font-size="22">Liquid</text>
<text x="1130" y="783" class="lbl">d</text>
<path d="M1197.5,1002.4 L1282,1002.4 C1279,1035 1279,1075 1282,1105.3 L1197.5,1105.3 C1195.5,1075 1195.5,1035 1197.5,1002.4Z" fill="url(#dcyl)"/>
<path d="M1196,1111.9 L1278,1111.9 C1275.5,1140 1275.5,1185 1278,1214.8 L1195.3,1214.8 C1193.8,1185 1193.8,1140 1196,1111.9Z" fill="url(#dcyl)"/>
<path d="M1162,1048.8 L1300,1050.6 L1683,1054.8 L1683,1065.6 L1300,1062 L1162,1060.5Z" fill="#34302e"/>
<path d="M1162,1157.3 L1280,1157.4 L1280.0,1156.9 L1283.1,1156.4 L1286.2,1156.0 L1289.3,1155.8 L1292.4,1155.6 L1295.5,1155.6 L1298.6,1155.6 L1301.7,1155.7 L1304.8,1155.8 L1307.9,1156.2 L1311.0,1156.6 L1314.1,1157.0 L1317.2,1157.3 L1320.3,1157.5 L1323.4,1157.6 L1326.5,1157.6 L1329.6,1157.6 L1332.7,1157.6 L1335.8,1157.6 L1338.9,1157.6 L1342.0,1157.6 L1345.1,1157.6 L1348.2,1157.6 L1351.3,1157.5 L1354.4,1157.4 L1357.5,1157.1 L1360.6,1156.7 L1363.7,1156.3 L1366.8,1155.9 L1369.9,1155.7 L1373.0,1155.6 L1376.1,1155.6 L1379.2,1155.6 L1382.3,1155.7 L1385.4,1155.9 L1388.5,1156.3 L1391.6,1156.7 L1394.7,1157.1 L1397.8,1157.4 L1400.9,1157.5 L1404.0,1157.6 L1407.1,1157.6 L1410.2,1157.6 L1413.3,1157.5 L1416.4,1157.4 L1419.5,1157.1 L1422.6,1156.7 L1425.7,1156.3 L1428.8,1155.9 L1431.9,1155.7 L1435.0,1155.6 L1438.1,1155.6 L1441.2,1155.6 L1444.3,1155.7 L1447.4,1155.9 L1450.5,1156.3 L1453.6,1156.7 L1456.7,1157.1 L1459.8,1157.4 L1462.9,1157.5 L1466.0,1157.6 L1469.1,1157.6 L1472.2,1157.5 L1475.3,1157.2 L1478.4,1156.9 L1481.5,1156.4 L1484.6,1156.0 L1487.7,1155.8 L1490.8,1155.6 L1493.9,1155.6 L1497.0,1155.6 L1500.1,1155.7 L1503.2,1155.8 L1506.3,1156.1 L1509.4,1156.6 L1512.5,1157.0 L1515.6,1157.3 L1518.7,1157.5 L1521.8,1157.5 L1524.9,1157.5 L1528.0,1157.3 L1531.1,1156.9 L1534.2,1156.5 L1537.3,1156.1 L1540.4,1155.8 L1543.5,1155.6 L1546.6,1155.6 L1549.7,1155.6 L1552.8,1155.6 L1555.9,1155.8 L1559.0,1156.1 L1562.1,1156.5 L1565.2,1157.0 L1568.3,1157.3 L1571.4,1157.5 L1574.5,1157.6 L1577.6,1157.5 L1580.7,1157.4 L1583.8,1157.2 L1586.9,1156.8 L1590.0,1156.4 L1593.1,1156.0 L1596.2,1155.7 L1599.3,1155.6 L1602.4,1155.6 L1605.5,1155.6 L1608.6,1155.7 L1611.7,1155.9 L1614.8,1156.2 L1617.9,1156.6 L1621.0,1157.1 L1624.1,1157.4 L1627.2,1157.5 L1630.3,1157.6 L1633.4,1157.6 L1636.5,1157.6 L1639.6,1157.5 L1642.7,1157.4 L1645.8,1157.2 L1648.9,1156.8 L1652.0,1156.4 L1655.1,1156.0 L1658.2,1155.7 L1661.3,1155.6 L1664.4,1155.6 L1667.5,1155.6 L1670.6,1155.7 L1673.7,1155.9 L1676.8,1156.2 L1679.9,1156.6 L1683.0,1157.1 L1683.0,1167.5 L1683.0,1167.5 L1679.9,1168.0 L1676.8,1168.4 L1673.7,1168.7 L1670.6,1168.9 L1667.5,1169.0 L1664.4,1169.0 L1661.3,1169.0 L1658.2,1168.9 L1655.1,1168.6 L1652.0,1168.2 L1648.9,1167.8 L1645.8,1167.4 L1642.7,1167.2 L1639.6,1167.1 L1636.5,1167.0 L1633.4,1167.0 L1630.3,1167.0 L1627.2,1167.1 L1624.1,1167.2 L1621.0,1167.5 L1617.9,1168.0 L1614.8,1168.4 L1611.7,1168.7 L1608.6,1168.9 L1605.5,1169.0 L1602.4,1169.0 L1599.3,1169.0 L1596.2,1168.9 L1593.1,1168.6 L1590.0,1168.2 L1586.9,1167.8 L1583.8,1167.4 L1580.7,1167.2 L1577.6,1167.1 L1574.5,1167.0 L1571.4,1167.1 L1568.3,1167.3 L1565.2,1167.6 L1562.1,1168.1 L1559.0,1168.5 L1555.9,1168.8 L1552.8,1169.0 L1549.7,1169.0 L1546.6,1169.0 L1543.5,1169.0 L1540.4,1168.8 L1537.3,1168.5 L1534.2,1168.1 L1531.1,1167.7 L1528.0,1167.3 L1524.9,1167.1 L1521.8,1167.1 L1518.7,1167.1 L1515.6,1167.3 L1512.5,1167.6 L1509.4,1168.0 L1506.3,1168.5 L1503.2,1168.8 L1500.1,1168.9 L1497.0,1169.0 L1493.9,1169.0 L1490.8,1169.0 L1487.7,1168.8 L1484.6,1168.6 L1481.5,1168.2 L1478.4,1167.7 L1475.3,1167.4 L1472.2,1167.1 L1469.1,1167.0 L1466.0,1167.0 L1462.9,1167.1 L1459.8,1167.2 L1456.7,1167.5 L1453.6,1167.9 L1450.5,1168.3 L1447.4,1168.7 L1444.3,1168.9 L1441.2,1169.0 L1438.1,1169.0 L1435.0,1169.0 L1431.9,1168.9 L1428.8,1168.7 L1425.7,1168.3 L1422.6,1167.9 L1419.5,1167.5 L1416.4,1167.2 L1413.3,1167.1 L1410.2,1167.0 L1407.1,1167.0 L1404.0,1167.0 L1400.9,1167.1 L1397.8,1167.2 L1394.7,1167.5 L1391.6,1167.9 L1388.5,1168.3 L1385.4,1168.7 L1382.3,1168.9 L1379.2,1169.0 L1376.1,1169.0 L1373.0,1169.0 L1369.9,1168.9 L1366.8,1168.7 L1363.7,1168.3 L1360.6,1167.9 L1357.5,1167.5 L1354.4,1167.2 L1351.3,1167.1 L1348.2,1167.0 L1345.1,1167.0 L1342.0,1167.0 L1338.9,1167.0 L1335.8,1167.0 L1332.7,1167.0 L1329.6,1167.0 L1326.5,1167.0 L1323.4,1167.0 L1320.3,1167.1 L1317.2,1167.3 L1314.1,1167.6 L1311.0,1168.0 L1307.9,1168.4 L1304.8,1168.8 L1301.7,1168.9 L1298.6,1169.0 L1295.5,1169.0 L1292.4,1169.0 L1289.3,1168.8 L1286.2,1168.6 L1283.1,1168.2 L1280.0,1167.7 L1280,1167.6 L1162,1167.7Z" fill="#363230"/>
<path d="M1356.5,1030.4 H1408" stroke="#111" stroke-width="1.4"/><path d="M1416.5,1030.4 l-13.5,-5 l3,5 l-3,5z" fill="#111"/>
<path d="M1356.5,1136.2 H1491" stroke="#111" stroke-width="1.4"/><path d="M1499.5,1136.2 l-13.5,-5 l3,5 l-3,5z" fill="#111"/>
<text x="1446.5" y="1037" font-size="22">Slow-pulling</text>
<text x="1518.5" y="1142" font-size="22">Fast-pulling</text>
<text x="1357" y="1203" font-size="22">Periodic droplets</text>
<rect x="1631" y="1194.6" width="26.5" height="2.8" fill="#111"/>
</g>
<g id="pe">
<path d="M73.8,1685.6 L74.5,1686.0 L75.2,1685.6 L75.9,1685.5 L76.6,1685.2 L77.3,1685.5 L78.0,1686.2 L78.7,1685.8 L79.4,1686.1 L80.1,1685.7 L80.8,1685.7 L81.5,1685.6 L82.2,1684.6 L82.9,1685.9 L83.6,1685.7 L84.3,1685.7 L85.0,1684.5 L85.7,1684.4 L86.4,1684.9 L87.1,1685.1 L87.8,1685.5 L88.5,1685.3 L89.2,1685.6 L89.9,1684.9 L90.6,1685.4 L91.3,1685.4 L92.0,1684.8 L92.7,1686.1 L93.4,1685.4 L94.1,1685.8 L94.8,1684.8 L95.5,1684.7 L96.2,1684.9 L96.9,1685.0 L97.6,1685.3 L98.3,1685.1 L99.0,1684.7 L99.7,1684.4 L100.4,1684.6 L101.1,1685.6 L101.8,1684.4 L102.5,1685.0 L103.2,1685.0 L103.9,1684.0 L104.6,1684.8 L105.3,1685.4 L106.0,1683.6 L106.7,1684.5 L107.4,1684.6 L108.1,1684.1 L108.8,1684.8 L109.5,1684.5 L110.2,1683.7 L110.9,1684.9 L111.6,1684.8 L112.3,1684.9 L113.0,1685.1 L113.7,1684.5 L114.4,1684.3 L115.1,1683.5 L115.8,1684.5 L116.5,1683.8 L117.2,1683.9 L117.9,1683.4 L118.6,1683.5 L119.3,1683.7 L120.0,1684.6 L120.7,1682.7 L121.4,1682.9 L122.1,1683.8 L122.8,1684.4 L123.5,1683.8 L124.2,1682.3 L124.9,1681.9 L125.6,1683.4 L126.3,1682.6 L127.0,1682.3 L127.7,1683.4 L128.4,1683.3 L129.1,1682.6 L129.8,1682.6 L130.5,1682.5 L131.2,1683.0 L131.9,1682.3 L132.6,1682.1 L133.3,1682.0 L134.0,1680.7 L134.7,1682.1 L135.4,1681.8 L136.1,1681.4 L136.8,1679.8 L137.5,1680.4 L138.2,1681.0 L138.9,1679.4 L139.6,1680.1 L140.3,1680.6 L141.0,1679.2 L141.7,1680.6 L142.4,1679.8 L143.1,1679.3 L143.8,1679.3 L144.5,1679.3 L145.2,1678.9 L145.9,1679.2 L146.6,1678.0 L147.3,1677.9 L148.0,1678.5 L148.7,1677.7 L149.4,1677.0 L150.1,1677.8 L150.8,1677.8 L151.5,1676.5 L152.2,1675.7 L152.9,1676.1 L153.6,1675.8 L154.3,1675.5 L155.0,1676.1 L155.7,1674.5 L156.4,1675.4 L157.1,1673.7 L157.8,1673.7 L158.5,1674.1 L159.2,1674.1 L159.9,1673.6 L160.6,1672.9 L161.3,1672.5 L162.0,1672.1 L162.7,1672.0 L163.4,1671.2 L164.1,1671.1 L164.8,1670.9 L165.5,1670.2 L166.2,1670.2 L166.9,1669.7 L167.6,1670.1 L168.3,1668.8 L169.0,1668.0 L169.7,1667.6 L170.4,1667.3 L171.1,1667.4 L171.8,1666.2 L172.5,1666.1 L173.2,1666.3 L173.9,1663.4 L174.6,1663.6 L175.3,1663.8 L176.0,1663.3 L176.7,1662.7 L177.4,1661.7 L178.1,1661.7 L178.8,1660.9 L179.5,1659.8 L180.2,1660.8 L180.9,1659.0 L181.6,1657.9 L182.3,1657.5 L183.0,1656.8 L183.7,1656.2 L184.4,1654.0 L185.1,1654.6 L185.8,1654.7 L186.5,1652.9 L187.2,1652.8 L187.9,1652.7 L188.6,1651.9 L189.3,1651.5 L190.0,1649.0 L190.7,1649.0 L191.4,1648.2 L192.1,1647.9 L192.8,1647.3 L193.5,1644.4 L194.2,1645.6 L194.9,1643.4 L195.6,1643.6 L196.3,1641.6 L197.0,1641.6 L197.7,1641.3 L198.4,1639.6 L199.1,1638.9 L199.8,1638.4 L200.5,1637.1 L201.2,1636.1 L201.9,1636.2 L202.6,1635.0 L203.3,1633.4 L204.0,1634.3 L204.7,1631.3 L205.4,1631.6 L206.1,1630.1 L206.8,1629.4 L207.5,1628.9 L208.2,1627.7 L208.9,1627.0 L209.6,1624.9 L210.3,1624.0 L211.0,1624.3 L211.7,1622.6 L212.4,1621.7 L213.1,1620.6 L213.8,1621.3 L214.5,1620.3 L215.2,1620.0 L215.9,1618.0 L216.6,1618.0 L217.3,1616.8 L218.0,1617.4 L218.7,1617.5 L219.4,1615.7 L220.1,1616.6 L220.8,1615.9 L221.5,1614.9 L222.2,1613.5 L222.9,1615.0 L223.6,1613.9 L224.3,1613.3 L225.0,1613.6 L225.7,1613.4 L226.4,1613.8 L227.1,1612.2 L227.8,1613.3 L228.5,1613.5 L229.2,1613.5 L229.9,1612.6 L230.6,1612.4 L231.3,1613.5 L232.0,1613.1 L232.7,1613.3 L233.4,1614.2 L234.1,1613.5 L234.8,1612.6 L235.5,1614.0 L236.2,1613.4 L236.9,1615.2 L237.6,1615.3 L238.3,1615.1 L239.0,1615.8 L239.7,1616.6 L240.4,1616.5 L241.1,1617.6 L241.8,1617.2 L242.5,1618.2 L243.2,1619.0 L243.9,1619.7 L244.6,1619.1 L245.3,1620.6 L246.0,1619.9 L246.7,1621.1 L247.4,1621.4 L248.1,1624.0 L248.8,1623.6 L249.5,1625.2 L250.2,1626.0 L250.9,1627.0 L251.6,1627.6 L252.3,1629.0 L253.0,1630.8 L253.7,1630.7 L254.4,1631.8 L255.1,1632.9 L255.8,1633.1 L256.5,1633.4 L257.2,1634.7 L257.9,1636.5 L258.6,1635.9 L259.3,1637.3 L260.0,1639.1 L260.7,1639.9 L261.4,1640.4 L262.1,1641.8 L262.8,1642.3 L263.5,1642.5 L264.2,1643.1 L264.9,1644.5 L265.6,1646.3 L266.3,1646.3 L267.0,1646.9 L267.7,1647.8 L268.4,1648.2 L269.1,1649.7 L269.8,1649.9 L270.5,1651.6 L271.2,1650.9 L271.9,1653.1 L272.6,1653.4 L273.3,1653.5 L274.0,1655.7 L274.7,1655.9 L275.4,1655.6 L276.1,1657.1 L276.8,1658.5 L277.5,1658.8 L278.2,1660.2 L278.9,1660.9 L279.6,1661.5 L280.3,1662.0 L281.0,1663.2 L281.7,1663.4 L282.4,1663.9 L283.1,1663.1 L283.8,1665.3 L284.5,1666.0 L285.2,1665.6 L285.9,1666.0 L286.6,1667.7 L287.3,1666.2 L288.0,1667.8 L288.7,1669.3 L289.4,1667.9 L290.1,1669.3 L290.8,1670.3 L291.5,1669.6 L292.2,1670.4 L292.9,1671.0 L293.6,1670.3 L294.3,1671.2 L295.0,1671.7 L295.7,1672.3 L296.4,1672.2 L297.1,1672.4 L297.8,1672.2 L298.5,1672.8 L299.2,1673.8 L299.9,1673.6 L300.6,1673.3 L301.3,1673.4 L302.0,1675.5 L302.7,1674.9 L303.4,1674.7 L304.1,1673.1 L304.8,1675.0 L305.5,1675.1 L306.2,1675.9 L306.9,1675.4 L307.6,1675.3 L308.3,1675.7 L309.0,1674.5 L309.7,1676.3 L310.4,1676.1 L311.1,1675.6 L311.8,1676.9 L312.5,1677.3 L313.2,1675.7 L313.9,1676.2 L314.6,1676.9 L315.3,1676.9 L316.0,1676.7 L316.7,1676.5 L317.4,1678.3 L318.1,1677.9 L318.8,1676.7 L319.5,1676.8 L320.2,1678.6 L320.9,1678.3 L321.6,1678.8 L322.3,1678.4 L323.0,1677.5 L323.7,1678.2 L324.4,1677.0 L325.1,1677.9 L325.8,1678.3 L326.5,1678.7 L327.2,1678.1 L327.9,1678.5 L328.6,1678.9 L329.3,1678.9 L330.0,1679.1 L330.7,1678.9 L331.4,1678.7 L332.1,1679.3 L332.8,1679.0 L333.5,1678.5 L334.2,1678.7 L334.9,1679.0 L335.6,1679.0 L336.3,1679.2 L337.0,1679.1 L337.7,1679.2 L338.4,1679.1 L339.1,1678.5 L339.8,1679.4 L340.5,1679.8 L341.2,1679.5 L341.9,1679.2 L342.6,1679.5 L343.3,1678.8 L344.0,1678.3 L344.7,1679.4 L345.4,1678.9 L346.1,1679.8 L346.8,1678.8 L347.5,1678.0 L348.2,1678.9 L348.9,1680.3 L349.6,1679.3 L350.3,1678.8 L351.0,1679.1 L351.7,1679.8 L352.4,1679.8 L353.1,1679.7 L353.8,1680.4 L354.5,1680.0 L355.2,1679.6 L355.9,1679.9 L356.6,1680.5 L357.3,1680.2 L358.0,1680.2 L358.7,1679.1 L359.4,1679.6 L360.1,1680.1 L360.8,1679.5 L361.5,1680.3 L362.2,1680.0 L362.9,1680.2 L363.6,1679.6 L364.3,1681.1 L365.0,1680.4 L365.7,1679.6 L366.4,1679.8 L367.1,1681.2 L367.8,1679.5 L368.5,1680.2 L369.2,1680.3 L369.9,1679.7 L370.6,1679.1 L371.3,1679.8 L372.0,1679.9 L372.7,1680.3 L373.4,1680.1 L374.1,1679.7 L374.8,1680.1 L375.5,1680.0 L376.2,1679.8 L376.9,1679.7 L377.6,1679.5 L378.3,1680.0 L379.0,1679.0 L379.7,1679.2 L380.4,1679.6 L381.1,1678.7 L381.8,1679.3 L382.5,1678.4 L383.2,1679.1 L383.9,1679.7 L384.6,1679.7 L385.3,1679.3 L386.0,1679.2 L386.7,1678.5 L387.4,1680.3 L388.1,1679.5 L388.8,1679.8 L389.5,1678.7 L390.2,1679.1 L390.9,1678.1 L391.6,1679.5 L392.3,1679.6 L393.0,1678.0 L393.7,1679.0 L394.4,1679.3 L395.1,1678.0 L395.8,1677.9 L396.5,1678.3 L397.2,1678.5 L397.9,1678.0 L398.6,1678.8 L399.3,1678.9 L400.0,1679.0 L400.7,1679.0 L401.4,1679.4 L402.1,1679.2 L402.8,1677.8 L403.5,1678.2 L404.2,1677.9 L404.9,1677.8 L405.6,1678.3 L406.3,1678.4 L407.0,1678.6 L407.7,1677.4 L408.4,1677.6 L409.1,1678.2 L409.8,1678.1 L410.5,1678.0 L411.2,1678.1 L411.9,1677.7 L412.6,1678.4 L413.3,1678.2 L414.0,1677.9 L414.7,1677.6 L415.4,1677.8 L416.1,1676.4 L416.8,1677.3 L417.5,1677.8 L418.2,1677.0 L418.9,1677.9 L419.6,1677.8 L420.3,1677.0 L421.0,1677.5 L421.7,1677.5 L422.4,1677.9 L423.1,1677.9 L423.8,1677.6 L424.5,1677.1 L425.2,1677.5 L425.9,1677.5 L426.6,1677.9 L427.3,1677.7 L428.0,1677.1 L428.7,1676.7 L429.4,1677.2 L430.1,1677.0 L430.8,1676.8 L431.5,1677.4 L432.2,1677.1 L432.9,1677.5 L433.6,1677.7 L434.3,1677.2 L435.0,1678.7 L435.7,1677.2 L436.4,1678.0 L437.1,1677.5 L437.8,1678.0 L438.5,1676.1 L439.2,1677.0 L439.9,1677.5 L440.6,1677.7 L441.3,1678.7 L442.0,1677.6 L442.7,1678.1 L443.4,1677.9 L444.1,1678.0 L444.8,1677.7 L445.5,1677.4 L446.2,1677.8 L446.9,1676.9 L447.6,1678.2 L448.3,1677.0 L449.0,1677.7 L449.7,1678.7 L450.4,1677.5 L451.1,1677.6 L451.8,1678.3 L452.5,1677.7 L453.2,1677.2 L453.9,1677.8 L454.6,1678.0 L455.3,1678.1 L456.0,1677.3 L456.7,1678.7 L457.4,1678.7 L458.1,1677.8 L458.8,1678.0 L459.5,1677.6 L460.2,1678.7 L460.9,1677.6 L461.6,1678.3 L462.3,1677.7 L463.0,1677.6 L463.7,1678.4 L464.4,1678.8 L465.1,1678.1 L465.8,1677.8 L466.5,1678.6 L467.2,1678.2 L467.9,1678.4 L468.6,1679.1 L469.3,1678.9 L470.0,1678.0 L470.7,1679.6 L471.4,1678.4 L472.1,1678.8 L472.8,1678.1 L473.5,1678.5 L474.2,1677.5 L474.9,1679.5 L475.6,1679.3 L476.3,1677.9 L477.0,1677.8 L477.7,1677.8 L478.4,1679.4 L479.1,1678.5 L479.8,1678.7 L480.5,1678.6 L481.2,1678.8 L481.9,1678.3 L482.6,1678.9 L483.3,1678.1 L484.0,1678.9 L484.7,1679.2 L485.4,1679.3 L486.1,1678.9 L486.8,1678.6 L487.5,1679.2 L488.2,1678.9 L488.9,1680.0 L489.6,1679.6 L490.3,1679.2 L491.0,1679.0 L491.7,1678.9 L492.4,1678.8 L493.1,1679.2 L493.8,1679.6 L494.5,1679.8 L495.2,1679.8 L495.9,1680.7 L496.6,1679.2 L497.3,1679.6 L498.0,1681.2 L498.7,1678.7 L499.4,1679.5 L500.1,1679.9 L500.8,1679.9 L501.5,1680.1 L502.2,1679.8 L502.9,1680.2 L503.6,1680.1 L504.3,1680.5 L505.0,1679.1 L505.7,1679.7 L506.4,1680.2 L507.1,1679.7 L507.8,1679.7 L508.5,1680.7 L509.2,1680.0 L509.9,1680.8 L510.6,1680.9 L511.3,1680.7 L512.0,1680.9 L512.7,1680.6 L513.4,1679.9 L514.1,1680.7 L514.8,1681.0 L515.5,1680.5 L516.2,1680.8 L516.9,1681.3 L517.6,1680.5 L518.3,1681.4 L519.0,1682.1 L519.7,1680.8 L520.4,1681.3 L521.1,1681.1 L521.8,1682.1 L522.5,1681.5 L523.2,1681.9 L523.9,1681.1 L524.6,1681.5 L525.3,1681.5 L526.0,1680.6 L526.7,1682.4 L527.4,1682.2 L528.1,1680.8 L528.8,1682.2 L529.5,1681.8 L530.2,1682.1 L530.9,1682.1 L531.6,1681.1 L532.3,1681.9 L533.0,1682.9 L533.7,1681.8 L534.4,1681.6 L535.1,1681.5 L535.8,1681.6 L536.5,1682.5 L537.2,1683.3 L537.9,1682.6" fill="none" stroke="#7872b4" stroke-width="3.2" stroke-linejoin="round"/>
<path d="M73.8,1598.7 L74.5,1600.1 L75.2,1598.1 L75.9,1598.0 L76.6,1598.8 L77.3,1598.8 L78.0,1597.7 L78.7,1597.5 L79.4,1598.5 L80.1,1598.5 L80.8,1597.3 L81.5,1598.1 L82.2,1597.8 L82.9,1598.5 L83.6,1598.1 L84.3,1598.0 L85.0,1597.8 L85.7,1598.8 L86.4,1599.0 L87.1,1597.7 L87.8,1598.5 L88.5,1597.4 L89.2,1597.9 L89.9,1598.4 L90.6,1598.9 L91.3,1597.5 L92.0,1597.7 L92.7,1597.9 L93.4,1596.6 L94.1,1597.6 L94.8,1597.1 L95.5,1597.8 L96.2,1596.7 L96.9,1596.1 L97.6,1597.5 L98.3,1597.6 L99.0,1597.0 L99.7,1597.9 L100.4,1597.1 L101.1,1596.8 L101.8,1597.5 L102.5,1596.0 L103.2,1596.6 L103.9,1597.0 L104.6,1597.5 L105.3,1596.7 L106.0,1597.0 L106.7,1596.2 L107.4,1596.8 L108.1,1597.7 L108.8,1596.0 L109.5,1598.0 L110.2,1595.8 L110.9,1596.2 L111.6,1596.2 L112.3,1596.7 L113.0,1595.0 L113.7,1594.3 L114.4,1596.1 L115.1,1596.1 L115.8,1595.9 L116.5,1597.2 L117.2,1595.4 L117.9,1595.3 L118.6,1595.7 L119.3,1595.2 L120.0,1595.9 L120.7,1593.8 L121.4,1594.3 L122.1,1592.0 L122.8,1594.8 L123.5,1593.8 L124.2,1594.6 L124.9,1595.3 L125.6,1593.7 L126.3,1593.3 L127.0,1593.0 L127.7,1592.6 L128.4,1592.6 L129.1,1593.3 L129.8,1592.7 L130.5,1592.6 L131.2,1592.2 L131.9,1592.8 L132.6,1592.3 L133.3,1591.7 L134.0,1592.1 L134.7,1591.3 L135.4,1590.4 L136.1,1592.0 L136.8,1591.1 L137.5,1589.9 L138.2,1591.2 L138.9,1590.4 L139.6,1588.9 L140.3,1590.9 L141.0,1589.8 L141.7,1590.0 L142.4,1589.2 L143.1,1588.8 L143.8,1587.6 L144.5,1589.1 L145.2,1588.2 L145.9,1587.7 L146.6,1587.9 L147.3,1587.4 L148.0,1587.5 L148.7,1586.4 L149.4,1586.4 L150.1,1584.5 L150.8,1585.4 L151.5,1585.8 L152.2,1585.9 L152.9,1584.3 L153.6,1584.1 L154.3,1585.0 L155.0,1583.2 L155.7,1583.6 L156.4,1583.9 L157.1,1582.3 L157.8,1582.8 L158.5,1581.0 L159.2,1581.3 L159.9,1580.7 L160.6,1580.4 L161.3,1580.7 L162.0,1581.2 L162.7,1578.7 L163.4,1578.3 L164.1,1578.6 L164.8,1577.1 L165.5,1577.7 L166.2,1577.3 L166.9,1576.2 L167.6,1576.3 L168.3,1574.3 L169.0,1575.5 L169.7,1573.4 L170.4,1573.5 L171.1,1573.2 L171.8,1572.8 L172.5,1573.3 L173.2,1572.3 L173.9,1571.6 L174.6,1571.9 L175.3,1572.2 L176.0,1570.8 L176.7,1570.7 L177.4,1571.1 L178.1,1570.1 L178.8,1568.8 L179.5,1571.2 L180.2,1570.7 L180.9,1567.5 L181.6,1568.6 L182.3,1568.7 L183.0,1568.8 L183.7,1568.4 L184.4,1567.5 L185.1,1566.7 L185.8,1567.3 L186.5,1567.7 L187.2,1566.1 L187.9,1565.9 L188.6,1566.4 L189.3,1565.0 L190.0,1566.0 L190.7,1565.7 L191.4,1566.3 L192.1,1565.4 L192.8,1565.2 L193.5,1565.5 L194.2,1565.7 L194.9,1565.2 L195.6,1565.7 L196.3,1566.2 L197.0,1566.5 L197.7,1566.9 L198.4,1565.2 L199.1,1565.4 L199.8,1564.0 L200.5,1567.0 L201.2,1565.2 L201.9,1565.7 L202.6,1566.1 L203.3,1564.8 L204.0,1566.0 L204.7,1565.7 L205.4,1564.4 L206.1,1565.9 L206.8,1566.6 L207.5,1564.4 L208.2,1566.3 L208.9,1565.9 L209.6,1566.2 L210.3,1566.3 L211.0,1567.1 L211.7,1566.2 L212.4,1567.2 L213.1,1566.5 L213.8,1567.6 L214.5,1566.8 L215.2,1567.6 L215.9,1569.1 L216.6,1568.6 L217.3,1568.4 L218.0,1568.0 L218.7,1568.6 L219.4,1569.5 L220.1,1570.3 L220.8,1570.2 L221.5,1570.5 L222.2,1570.3 L222.9,1571.5 L223.6,1570.5 L224.3,1570.7 L225.0,1572.0 L225.7,1571.6 L226.4,1571.6 L227.1,1571.7 L227.8,1572.2 L228.5,1573.0 L229.2,1573.0 L229.9,1572.2 L230.6,1573.5 L231.3,1573.5 L232.0,1572.8 L232.7,1574.2 L233.4,1573.5 L234.1,1573.5 L234.8,1574.3 L235.5,1574.3 L236.2,1571.8 L236.9,1570.8 L237.6,1567.7 L238.3,1567.2 L239.0,1557.8 L239.7,1542.4 L240.4,1522.5 L241.1,1508.8 L241.8,1494.9 L242.5,1481.3 L243.2,1483.9 L243.9,1496.3 L244.6,1510.8 L245.3,1524.7 L246.0,1544.1 L246.7,1558.5 L247.4,1566.8 L248.1,1571.5 L248.8,1572.0 L249.5,1575.9 L250.2,1576.1 L250.9,1577.8 L251.6,1579.4 L252.3,1579.4 L253.0,1579.2 L253.7,1579.7 L254.4,1582.4 L255.1,1582.7 L255.8,1582.1 L256.5,1583.6 L257.2,1583.7 L257.9,1583.9 L258.6,1581.9 L259.3,1583.2 L260.0,1583.9 L260.7,1583.6 L261.4,1583.5 L262.1,1580.9 L262.8,1582.4 L263.5,1582.2 L264.2,1581.8 L264.9,1574.8 L265.6,1569.5 L266.3,1564.5 L267.0,1561.9 L267.7,1561.4 L268.4,1565.8 L269.1,1569.5 L269.8,1575.7 L270.5,1579.6 L271.2,1582.6 L271.9,1583.8 L272.6,1584.8 L273.3,1588.2 L274.0,1589.0 L274.7,1589.5 L275.4,1591.0 L276.1,1592.2 L276.8,1591.3 L277.5,1592.2 L278.2,1593.0 L278.9,1593.3 L279.6,1592.9 L280.3,1592.0 L281.0,1594.6 L281.7,1594.2 L282.4,1594.1 L283.1,1594.1 L283.8,1594.7 L284.5,1594.4 L285.2,1594.1 L285.9,1594.4 L286.6,1594.6 L287.3,1594.7 L288.0,1594.4 L288.7,1595.7 L289.4,1594.4 L290.1,1595.8 L290.8,1594.7 L291.5,1595.7 L292.2,1596.4 L292.9,1595.6 L293.6,1595.0 L294.3,1595.6 L295.0,1595.7 L295.7,1594.4 L296.4,1595.3 L297.1,1595.8 L297.8,1595.4 L298.5,1595.9 L299.2,1596.3 L299.9,1596.4 L300.6,1596.5 L301.3,1596.3 L302.0,1595.8 L302.7,1596.0 L303.4,1595.8 L304.1,1595.8 L304.8,1596.0 L305.5,1594.9 L306.2,1595.9 L306.9,1596.2 L307.6,1595.5 L308.3,1596.2 L309.0,1596.6 L309.7,1596.2 L310.4,1597.8 L311.1,1594.5 L311.8,1596.2 L312.5,1595.1 L313.2,1597.1 L313.9,1598.3 L314.6,1594.7 L315.3,1596.6 L316.0,1596.9 L316.7,1596.3 L317.4,1596.9 L318.1,1595.0 L318.8,1597.2 L319.5,1596.8 L320.2,1596.6 L320.9,1596.2 L321.6,1597.1 L322.3,1596.3 L323.0,1596.8 L323.7,1596.3 L324.4,1595.1 L325.1,1596.7 L325.8,1596.9 L326.5,1597.3 L327.2,1596.2 L327.9,1596.8 L328.6,1597.2 L329.3,1596.9 L330.0,1597.7 L330.7,1598.2 L331.4,1596.2 L332.1,1595.5 L332.8,1597.5 L333.5,1597.9 L334.2,1597.5 L334.9,1597.5 L335.6,1596.5 L336.3,1596.4 L337.0,1597.5 L337.7,1596.3 L338.4,1595.7 L339.1,1596.3 L339.8,1598.7 L340.5,1598.3 L341.2,1596.5 L341.9,1596.5 L342.6,1597.2 L343.3,1596.5 L344.0,1597.9 L344.7,1597.0 L345.4,1596.3 L346.1,1598.0 L346.8,1596.6 L347.5,1597.2 L348.2,1597.1 L348.9,1596.9 L349.6,1597.3 L350.3,1596.6 L351.0,1595.8 L351.7,1595.6 L352.4,1596.2 L353.1,1596.6 L353.8,1597.1 L354.5,1597.2 L355.2,1597.5 L355.9,1597.2 L356.6,1596.6 L357.3,1596.7 L358.0,1595.7 L358.7,1597.1 L359.4,1597.5 L360.1,1597.6 L360.8,1597.1 L361.5,1597.1 L362.2,1597.9 L362.9,1597.2 L363.6,1597.8 L364.3,1597.7 L365.0,1597.4 L365.7,1598.2 L366.4,1596.9 L367.1,1597.0 L367.8,1596.7 L368.5,1596.7 L369.2,1598.4 L369.9,1598.5 L370.6,1597.3 L371.3,1597.7 L372.0,1598.2 L372.7,1597.9 L373.4,1598.2 L374.1,1596.5 L374.8,1596.9 L375.5,1597.7 L376.2,1598.4 L376.9,1597.5 L377.6,1596.8 L378.3,1597.1 L379.0,1596.9 L379.7,1596.8 L380.4,1598.5 L381.1,1597.0 L381.8,1597.4 L382.5,1598.9 L383.2,1598.3 L383.9,1597.7 L384.6,1597.0 L385.3,1597.7 L386.0,1598.6 L386.7,1597.9 L387.4,1598.4 L388.1,1597.6 L388.8,1597.9 L389.5,1597.4 L390.2,1597.8 L390.9,1598.4 L391.6,1596.5 L392.3,1597.5 L393.0,1597.7 L393.7,1597.1 L394.4,1597.3 L395.1,1598.1 L395.8,1599.0 L396.5,1598.0 L397.2,1597.8 L397.9,1596.5 L398.6,1598.9 L399.3,1597.6 L400.0,1597.6 L400.7,1596.8 L401.4,1597.6 L402.1,1596.8 L402.8,1597.7 L403.5,1597.9 L404.2,1597.6 L404.9,1597.8 L405.6,1597.0 L406.3,1598.6 L407.0,1597.2 L407.7,1596.4 L408.4,1597.5 L409.1,1597.1 L409.8,1597.0 L410.5,1597.4 L411.2,1597.9 L411.9,1596.9 L412.6,1597.6 L413.3,1598.7 L414.0,1598.2 L414.7,1597.6 L415.4,1597.8 L416.1,1597.6 L416.8,1597.7 L417.5,1598.2 L418.2,1597.7 L418.9,1596.1 L419.6,1597.7 L420.3,1597.1 L421.0,1598.2 L421.7,1597.3 L422.4,1597.9 L423.1,1599.3 L423.8,1597.0 L424.5,1597.0 L425.2,1596.8 L425.9,1596.1 L426.6,1596.5 L427.3,1598.1 L428.0,1597.4 L428.7,1596.5 L429.4,1596.8 L430.1,1598.3 L430.8,1597.3 L431.5,1597.6 L432.2,1598.1 L432.9,1598.8 L433.6,1599.2 L434.3,1598.6 L435.0,1598.0 L435.7,1598.0 L436.4,1599.1 L437.1,1598.9 L437.8,1597.7 L438.5,1598.2 L439.2,1598.1 L439.9,1597.9 L440.6,1597.5 L441.3,1597.0 L442.0,1597.5 L442.7,1596.8 L443.4,1598.8 L444.1,1598.3 L444.8,1597.1 L445.5,1598.9 L446.2,1598.6 L446.9,1596.6 L447.6,1599.2 L448.3,1598.5 L449.0,1599.4 L449.7,1597.1 L450.4,1598.3 L451.1,1598.3 L451.8,1598.1 L452.5,1598.1 L453.2,1598.7 L453.9,1596.9 L454.6,1597.1 L455.3,1597.0 L456.0,1597.6 L456.7,1597.6 L457.4,1598.3 L458.1,1598.2 L458.8,1598.0 L459.5,1597.6 L460.2,1597.7 L460.9,1598.7 L461.6,1598.6 L462.3,1598.1 L463.0,1597.8 L463.7,1599.1 L464.4,1597.6 L465.1,1598.5 L465.8,1598.9 L466.5,1597.9 L467.2,1598.7 L467.9,1597.3 L468.6,1598.8 L469.3,1598.2 L470.0,1597.0 L470.7,1598.6 L471.4,1597.5 L472.1,1599.0 L472.8,1597.6 L473.5,1598.0 L474.2,1598.3 L474.9,1597.9 L475.6,1598.3 L476.3,1597.7 L477.0,1598.6 L477.7,1598.1 L478.4,1598.3 L479.1,1596.2 L479.8,1599.0 L480.5,1598.2 L481.2,1596.9 L481.9,1598.2 L482.6,1598.5 L483.3,1598.9 L484.0,1597.4 L484.7,1599.3 L485.4,1598.1 L486.1,1599.9 L486.8,1598.1 L487.5,1598.7 L488.2,1598.0 L488.9,1597.4 L489.6,1599.0 L490.3,1598.9 L491.0,1599.3 L491.7,1598.8 L492.4,1597.8 L493.1,1597.1 L493.8,1597.8 L494.5,1597.8 L495.2,1597.7 L495.9,1598.7 L496.6,1598.5 L497.3,1598.1 L498.0,1598.4 L498.7,1598.2 L499.4,1598.4 L500.1,1598.8 L500.8,1599.0 L501.5,1597.8 L502.2,1597.3 L502.9,1599.3 L503.6,1598.4 L504.3,1599.1 L505.0,1597.2 L505.7,1598.1 L506.4,1598.4 L507.1,1597.3 L507.8,1598.0 L508.5,1598.9 L509.2,1599.1 L509.9,1599.5 L510.6,1597.8 L511.3,1597.4 L512.0,1598.7 L512.7,1599.0 L513.4,1598.5 L514.1,1597.5 L514.8,1598.9 L515.5,1599.0 L516.2,1598.8 L516.9,1598.1 L517.6,1598.6 L518.3,1599.0 L519.0,1598.0 L519.7,1597.1 L520.4,1598.7 L521.1,1598.8 L521.8,1598.5 L522.5,1599.1 L523.2,1598.0 L523.9,1598.4 L524.6,1598.3 L525.3,1598.9 L526.0,1599.6 L526.7,1598.3 L527.4,1599.9 L528.1,1599.6 L528.8,1599.1 L529.5,1598.9 L530.2,1599.8 L530.9,1598.4 L531.6,1598.4 L532.3,1597.8 L533.0,1598.9 L533.7,1599.5 L534.4,1598.9 L535.1,1598.8 L535.8,1598.4 L536.5,1598.7 L537.2,1597.6 L537.9,1599.3" fill="none" stroke="#4fb0d2" stroke-width="2.8" stroke-linejoin="round"/>
<path d="M73.8,1469.0 L74.5,1468.0 L75.2,1468.4 L75.9,1468.3 L76.6,1470.4 L77.3,1470.6 L78.0,1467.5 L78.7,1470.3 L79.4,1470.3 L80.1,1468.4 L80.8,1467.2 L81.5,1468.1 L82.2,1468.2 L82.9,1469.4 L83.6,1468.5 L84.3,1466.3 L85.0,1469.1 L85.7,1466.9 L86.4,1469.9 L87.1,1467.2 L87.8,1467.8 L88.5,1467.6 L89.2,1467.9 L89.9,1470.2 L90.6,1469.6 L91.3,1469.2 L92.0,1468.8 L92.7,1466.5 L93.4,1467.7 L94.1,1467.6 L94.8,1467.0 L95.5,1468.8 L96.2,1467.2 L96.9,1467.2 L97.6,1466.7 L98.3,1465.4 L99.0,1468.7 L99.7,1469.5 L100.4,1468.0 L101.1,1466.5 L101.8,1464.3 L102.5,1467.8 L103.2,1469.0 L103.9,1467.8 L104.6,1468.5 L105.3,1469.1 L106.0,1468.6 L106.7,1466.5 L107.4,1468.3 L108.1,1467.8 L108.8,1464.8 L109.5,1466.1 L110.2,1464.7 L110.9,1466.2 L111.6,1467.0 L112.3,1464.8 L113.0,1463.4 L113.7,1467.5 L114.4,1466.2 L115.1,1467.4 L115.8,1463.8 L116.5,1466.6 L117.2,1467.7 L117.9,1467.5 L118.6,1464.6 L119.3,1465.0 L120.0,1464.3 L120.7,1465.6 L121.4,1465.5 L122.1,1464.1 L122.8,1462.1 L123.5,1464.5 L124.2,1462.8 L124.9,1464.0 L125.6,1463.3 L126.3,1464.8 L127.0,1464.0 L127.7,1461.8 L128.4,1462.6 L129.1,1464.1 L129.8,1461.0 L130.5,1462.0 L131.2,1462.7 L131.9,1462.6 L132.6,1461.4 L133.3,1458.9 L134.0,1458.7 L134.7,1460.3 L135.4,1460.3 L136.1,1462.7 L136.8,1458.2 L137.5,1460.4 L138.2,1459.7 L138.9,1456.4 L139.6,1457.2 L140.3,1458.2 L141.0,1457.1 L141.7,1457.2 L142.4,1457.7 L143.1,1455.8 L143.8,1457.1 L144.5,1455.4 L145.2,1455.2 L145.9,1456.3 L146.6,1454.5 L147.3,1455.3 L148.0,1456.6 L148.7,1454.3 L149.4,1453.7 L150.1,1454.5 L150.8,1452.7 L151.5,1454.2 L152.2,1450.9 L152.9,1452.9 L153.6,1451.1 L154.3,1450.4 L155.0,1453.2 L155.7,1449.5 L156.4,1452.4 L157.1,1450.7 L157.8,1451.3 L158.5,1447.8 L159.2,1450.2 L159.9,1450.1 L160.6,1447.7 L161.3,1447.3 L162.0,1450.1 L162.7,1446.9 L163.4,1445.7 L164.1,1444.9 L164.8,1445.8 L165.5,1445.2 L166.2,1444.5 L166.9,1445.9 L167.6,1442.9 L168.3,1443.4 L169.0,1444.1 L169.7,1440.5 L170.4,1442.6 L171.1,1443.1 L171.8,1438.6 L172.5,1438.5 L173.2,1438.1 L173.9,1436.7 L174.6,1439.1 L175.3,1435.8 L176.0,1438.4 L176.7,1439.2 L177.4,1435.1 L178.1,1436.4 L178.8,1434.1 L179.5,1437.1 L180.2,1434.9 L180.9,1435.2 L181.6,1435.3 L182.3,1435.6 L183.0,1434.2 L183.7,1434.3 L184.4,1433.4 L185.1,1433.9 L185.8,1432.0 L186.5,1433.3 L187.2,1430.6 L187.9,1432.1 L188.6,1434.9 L189.3,1432.4 L190.0,1430.6 L190.7,1432.3 L191.4,1430.6 L192.1,1429.7 L192.8,1430.7 L193.5,1432.5 L194.2,1432.1 L194.9,1431.5 L195.6,1430.5 L196.3,1430.3 L197.0,1433.5 L197.7,1432.2 L198.4,1430.8 L199.1,1429.5 L199.8,1430.6 L200.5,1435.5 L201.2,1431.2 L201.9,1432.6 L202.6,1433.1 L203.3,1432.8 L204.0,1432.7 L204.7,1431.5 L205.4,1431.9 L206.1,1435.4 L206.8,1432.3 L207.5,1434.1 L208.2,1430.7 L208.9,1432.2 L209.6,1432.4 L210.3,1432.9 L211.0,1429.7 L211.7,1431.2 L212.4,1430.3 L213.1,1428.2 L213.8,1429.0 L214.5,1426.1 L215.2,1424.0 L215.9,1422.2 L216.6,1415.9 L217.3,1416.5 L218.0,1413.5 L218.7,1412.3 L219.4,1414.3 L220.1,1417.4 L220.8,1418.1 L221.5,1422.5 L222.2,1421.6 L222.9,1423.1 L223.6,1428.2 L224.3,1428.4 L225.0,1430.8 L225.7,1430.2 L226.4,1433.8 L227.1,1434.4 L227.8,1436.0 L228.5,1435.9 L229.2,1437.8 L229.9,1435.3 L230.6,1434.5 L231.3,1433.0 L232.0,1435.1 L232.7,1431.3 L233.4,1429.2 L234.1,1427.3 L234.8,1424.5 L235.5,1414.2 L236.2,1402.5 L236.9,1388.6 L237.6,1377.2 L238.3,1364.4 L239.0,1353.5 L239.7,1344.7 L240.4,1344.2 L241.1,1347.7 L241.8,1353.4 L242.5,1356.5 L243.2,1366.2 L243.9,1375.7 L244.6,1388.5 L245.3,1396.4 L246.0,1407.5 L246.7,1416.2 L247.4,1424.2 L248.1,1433.6 L248.8,1438.3 L249.5,1444.5 L250.2,1443.2 L250.9,1444.0 L251.6,1449.0 L252.3,1448.9 L253.0,1449.7 L253.7,1449.8 L254.4,1450.6 L255.1,1448.5 L255.8,1451.0 L256.5,1448.6 L257.2,1449.8 L257.9,1447.8 L258.6,1444.1 L259.3,1443.8 L260.0,1445.5 L260.7,1441.0 L261.4,1436.1 L262.1,1431.7 L262.8,1425.8 L263.5,1421.8 L264.2,1421.0 L264.9,1421.5 L265.6,1424.5 L266.3,1424.6 L267.0,1429.2 L267.7,1431.7 L268.4,1434.2 L269.1,1437.0 L269.8,1440.4 L270.5,1445.3 L271.2,1449.5 L271.9,1452.2 L272.6,1455.0 L273.3,1455.7 L274.0,1459.9 L274.7,1459.8 L275.4,1459.6 L276.1,1458.7 L276.8,1461.8 L277.5,1461.9 L278.2,1461.4 L278.9,1461.5 L279.6,1460.3 L280.3,1464.0 L281.0,1463.3 L281.7,1466.8 L282.4,1463.7 L283.1,1463.7 L283.8,1465.9 L284.5,1464.4 L285.2,1464.5 L285.9,1464.0 L286.6,1463.8 L287.3,1466.6 L288.0,1466.1 L288.7,1467.1 L289.4,1464.6 L290.1,1465.2 L290.8,1464.2 L291.5,1466.6 L292.2,1463.7 L292.9,1466.3 L293.6,1467.0 L294.3,1467.5 L295.0,1464.6 L295.7,1467.2 L296.4,1465.0 L297.1,1465.0 L297.8,1464.3 L298.5,1467.5 L299.2,1468.1 L299.9,1465.3 L300.6,1465.1 L301.3,1465.7 L302.0,1469.3 L302.7,1467.4 L303.4,1465.5 L304.1,1463.9 L304.8,1465.3 L305.5,1467.6 L306.2,1468.5 L306.9,1465.8 L307.6,1465.3 L308.3,1465.5 L309.0,1463.8 L309.7,1467.3 L310.4,1464.8 L311.1,1467.5 L311.8,1464.1 L312.5,1464.6 L313.2,1466.6 L313.9,1465.3 L314.6,1467.2 L315.3,1466.2 L316.0,1464.8 L316.7,1467.0 L317.4,1467.3 L318.1,1463.9 L318.8,1468.5 L319.5,1466.9 L320.2,1467.2 L320.9,1464.0 L321.6,1465.4 L322.3,1465.9 L323.0,1467.6 L323.7,1464.5 L324.4,1465.2 L325.1,1463.8 L325.8,1466.0 L326.5,1466.7 L327.2,1464.2 L327.9,1465.6 L328.6,1467.0 L329.3,1468.3 L330.0,1467.2 L330.7,1466.0 L331.4,1464.9 L332.1,1465.2 L332.8,1465.5 L333.5,1466.5 L334.2,1466.3 L334.9,1468.4 L335.6,1466.7 L336.3,1465.0 L337.0,1468.3 L337.7,1467.6 L338.4,1466.5 L339.1,1465.5 L339.8,1464.0 L340.5,1465.1 L341.2,1467.5 L341.9,1465.4 L342.6,1464.7 L343.3,1466.6 L344.0,1466.7 L344.7,1467.2 L345.4,1467.2 L346.1,1468.2 L346.8,1465.4 L347.5,1467.6 L348.2,1465.2 L348.9,1467.3 L349.6,1466.6 L350.3,1466.7 L351.0,1467.6 L351.7,1466.4 L352.4,1467.8 L353.1,1467.5 L353.8,1466.6 L354.5,1465.7 L355.2,1465.5 L355.9,1465.8 L356.6,1466.2 L357.3,1466.4 L358.0,1470.2 L358.7,1467.2 L359.4,1467.4 L360.1,1465.4 L360.8,1465.6 L361.5,1466.0 L362.2,1466.7 L362.9,1465.2 L363.6,1468.5 L364.3,1465.7 L365.0,1467.8 L365.7,1463.5 L366.4,1466.4 L367.1,1466.8 L367.8,1466.7 L368.5,1467.2 L369.2,1466.8 L369.9,1466.5 L370.6,1463.7 L371.3,1464.9 L372.0,1462.5 L372.7,1465.8 L373.4,1465.0 L374.1,1463.9 L374.8,1462.8 L375.5,1462.8 L376.2,1465.6 L376.9,1465.3 L377.6,1463.0 L378.3,1464.8 L379.0,1461.5 L379.7,1461.4 L380.4,1463.6 L381.1,1463.5 L381.8,1464.3 L382.5,1465.6 L383.2,1469.5 L383.9,1465.2 L384.6,1466.4 L385.3,1466.8 L386.0,1466.4 L386.7,1467.5 L387.4,1468.4 L388.1,1464.4 L388.8,1465.9 L389.5,1465.0 L390.2,1465.5 L390.9,1462.7 L391.6,1462.1 L392.3,1461.1 L393.0,1464.4 L393.7,1463.7 L394.4,1463.3 L395.1,1460.2 L395.8,1462.6 L396.5,1462.2 L397.2,1461.5 L397.9,1462.2 L398.6,1464.4 L399.3,1464.5 L400.0,1464.0 L400.7,1464.9 L401.4,1463.7 L402.1,1464.8 L402.8,1465.0 L403.5,1465.8 L404.2,1465.2 L404.9,1465.2 L405.6,1465.3 L406.3,1464.6 L407.0,1468.2 L407.7,1466.1 L408.4,1466.0 L409.1,1468.3 L409.8,1467.2 L410.5,1463.5 L411.2,1466.3 L411.9,1466.4 L412.6,1467.7 L413.3,1467.0 L414.0,1466.3 L414.7,1463.8 L415.4,1464.2 L416.1,1465.6 L416.8,1465.9 L417.5,1463.9 L418.2,1464.7 L418.9,1464.7 L419.6,1465.2 L420.3,1465.5 L421.0,1464.7 L421.7,1463.5 L422.4,1466.6 L423.1,1467.0 L423.8,1464.9 L424.5,1466.3 L425.2,1465.5 L425.9,1465.8 L426.6,1465.5 L427.3,1464.0 L428.0,1465.6 L428.7,1466.1 L429.4,1463.7 L430.1,1467.3 L430.8,1467.4 L431.5,1467.1 L432.2,1467.3 L432.9,1465.7 L433.6,1464.4 L434.3,1464.0 L435.0,1463.8 L435.7,1464.9 L436.4,1464.7 L437.1,1465.6 L437.8,1462.3 L438.5,1467.7 L439.2,1467.6 L439.9,1464.7 L440.6,1465.6 L441.3,1465.4 L442.0,1465.1 L442.7,1464.5 L443.4,1464.7 L444.1,1463.8 L444.8,1465.0 L445.5,1464.8 L446.2,1465.2 L446.9,1463.8 L447.6,1464.9 L448.3,1464.9 L449.0,1465.6 L449.7,1463.5 L450.4,1465.4 L451.1,1466.1 L451.8,1465.7 L452.5,1464.5 L453.2,1464.3 L453.9,1464.6 L454.6,1465.9 L455.3,1466.9 L456.0,1464.8 L456.7,1464.2 L457.4,1465.5 L458.1,1465.3 L458.8,1463.9 L459.5,1464.1 L460.2,1464.9 L460.9,1465.9 L461.6,1463.6 L462.3,1463.9 L463.0,1465.8 L463.7,1463.6 L464.4,1465.3 L465.1,1465.6 L465.8,1465.1 L466.5,1464.0 L467.2,1465.2 L467.9,1464.9 L468.6,1465.7 L469.3,1464.3 L470.0,1466.7 L470.7,1463.3 L471.4,1465.2 L472.1,1465.4 L472.8,1466.6 L473.5,1464.7 L474.2,1466.1 L474.9,1464.8 L475.6,1466.4 L476.3,1467.7 L477.0,1465.1 L477.7,1466.1 L478.4,1464.4 L479.1,1466.8 L479.8,1467.2 L480.5,1465.7 L481.2,1464.3 L481.9,1466.2 L482.6,1467.2 L483.3,1467.1 L484.0,1466.8 L484.7,1463.5 L485.4,1465.0 L486.1,1467.6 L486.8,1464.4 L487.5,1467.3 L488.2,1468.3 L488.9,1466.9 L489.6,1467.4 L490.3,1465.6 L491.0,1464.5 L491.7,1466.0 L492.4,1465.9 L493.1,1466.1 L493.8,1467.0 L494.5,1466.0 L495.2,1466.5 L495.9,1466.8 L496.6,1466.3 L497.3,1468.6 L498.0,1466.9 L498.7,1466.5 L499.4,1466.1 L500.1,1465.6 L500.8,1468.1 L501.5,1466.6 L502.2,1465.1 L502.9,1465.8 L503.6,1466.4 L504.3,1466.0 L505.0,1468.0 L505.7,1465.2 L506.4,1467.3 L507.1,1466.9 L507.8,1465.2 L508.5,1466.8 L509.2,1466.6 L509.9,1467.4 L510.6,1466.3 L511.3,1467.2 L512.0,1464.8 L512.7,1465.5 L513.4,1467.9 L514.1,1468.3 L514.8,1467.0 L515.5,1466.3 L516.2,1468.4 L516.9,1464.4 L517.6,1466.1 L518.3,1468.0 L519.0,1468.0 L519.7,1465.9 L520.4,1464.8 L521.1,1469.0 L521.8,1467.4 L522.5,1466.1 L523.2,1467.4 L523.9,1468.4 L524.6,1464.1 L525.3,1468.8 L526.0,1468.3 L526.7,1464.8 L527.4,1468.4 L528.1,1465.2 L528.8,1468.9 L529.5,1468.0 L530.2,1470.4 L530.9,1466.8 L531.6,1467.6 L532.3,1468.9 L533.0,1466.8 L533.7,1466.8 L534.4,1467.2 L535.1,1467.6 L535.8,1466.4 L536.5,1468.3 L537.2,1468.4 L537.9,1467.9" fill="none" stroke="#f08254" stroke-width="2.7" stroke-linejoin="round"/>
<rect x="73.8" y="1310.9" width="464.4" height="412.4" fill="none" stroke="#111" stroke-width="1.6"/>
<path d="M125.4,1723.3 v-8 M228.6,1723.3 v-8 M331.8,1723.3 v-8 M435.0,1723.3 v-8 M538.2,1723.3 v-8 M177.0,1723.3 v-4.5 M280.2,1723.3 v-4.5 M383.4,1723.3 v-4.5 M486.6,1723.3 v-4.5" stroke="#111" stroke-width="1.5" fill="none"/>
<text x="125.4" y="1746.5" font-size="18" text-anchor="middle">10</text>
<text x="228.6" y="1746.5" font-size="18" text-anchor="middle">20</text>
<text x="331.8" y="1746.5" font-size="18" text-anchor="middle">30</text>
<text x="435.0" y="1746.5" font-size="18" text-anchor="middle">40</text>
<text x="538.2" y="1746.5" font-size="18" text-anchor="middle">50</text>
<text x="231.5" y="1780.5" font-size="22">2θ for CuKα (<tspan font-size="14" dy="-7">o</tspan><tspan dy="7">)</tspan></text>
<text transform="translate(50,1516) rotate(-90)" font-size="22" text-anchor="middle">Intensity (a.u.)</text>
<text x="18" y="1322" class="lbl">e</text>
<path d="M241.4,1326.5 l4.3,5.5 l-4.3,5.5 l-4.3,-5.5z" fill="#111"/>
<text x="254.5" y="1338" font-size="20.2">(110)</text>
<path d="M373.2,1341.5 l4.3,5.5 l-4.3,5.5 l-4.3,-5.5z" fill="#111"/>
<text x="387" y="1353.5" font-size="20.2">Orthorhombic</text>
<path d="M377.3,1366.4 L379.3,1372.2 L385.5,1372.3 L380.6,1376.1 L382.4,1382.0 L377.3,1378.4 L372.2,1382.0 L374.0,1376.1 L369.1,1372.3 L375.3,1372.2Z" fill="#a8475c"/>
<text x="388" y="1381.5" font-size="20.2" style="fill:#a8475c">Monoclinic</text>
<text x="167" y="1407.5" font-size="18" style="fill:#a8475c">(010)</text>
<path d="M224.7,1391.9 L226.7,1397.7 L232.9,1397.8 L228.0,1401.6 L229.8,1407.5 L224.7,1403.9 L219.6,1407.5 L221.4,1401.6 L216.5,1397.8 L222.7,1397.7Z" fill="#a8475c"/>
<path d="M266.6,1404.3 l4.3,5.5 l-4.3,5.5 l-4.3,-5.5z" fill="#111"/>
<text x="280" y="1416" font-size="20.2">(200)</text>
<text x="369" y="1449.5" font-size="20.2">Quenched fiber</text>
<text x="186" y="1478" font-size="20.2">(110)</text>
<path d="M245.5,1466.3 l4.3,5.5 l-4.3,5.5 l-4.3,-5.5z" fill="#111"/>
<text x="86" y="1504.5" font-size="20.2">Crystallinity</text>
<text x="117.5" y="1529" font-size="20.2">35%</text>
<path d="M268.3,1546.1 l4.3,5.5 l-4.3,5.5 l-4.3,-5.5z" fill="#111"/>
<text x="281.5" y="1558" font-size="20.2">(200)</text>
<text x="370" y="1582" font-size="20.2">Drawn fiber</text>
<text x="120" y="1625" font-size="20.2">24%</text>
<text x="372" y="1666" font-size="20.2">EVA stick</text>
</g>
<g id="pf">
<path d="M649.4,1471.1 L650.8,1465.9 L652.1,1471.1 L653.5,1467.0 L654.8,1457.4 L655.9,1450.6 L656.9,1471.7 L658.3,1467.0 L659.6,1464.2 L661.0,1458.4 L662.4,1467.0 L664.1,1460.8 L665.8,1463.6 L667.1,1472.8 L668.5,1465.9 L669.9,1471.1 L671.2,1484.7 L672.6,1476.2 L674.0,1486.4 L675.3,1479.6 L676.3,1491.5 L677.7,1505.2" fill="none" stroke="#6a5fc9" stroke-width="2.4" stroke-linejoin="round"/>
<path d="M677.7,1505.2 C677.9,1510.9,678.3,1525.6,678.7,1539.3 C679.1,1552.9,679.6,1570.6,680.1,1587.1 C680.6,1603.6,680.9,1624.6,681.5,1638.2 C682.0,1651.9,682.8,1661.8,683.5,1668.9 C684.2,1676.1,684.8,1679.5,685.6,1680.9 C686.3,1682.3,687.0,1681.7,687.9,1677.5 C688.9,1673.2,690.2,1663.5,691.4,1655.3 C692.5,1647.1,693.6,1636.5,694.8,1628.0 C695.9,1619.5,697.0,1611.5,698.2,1604.1 C699.3,1596.7,700.5,1589.1,701.6,1583.7 C702.7,1578.2,703.9,1574.7,705.0,1571.7 C706.1,1568.8,707.3,1567.4,708.4,1565.9 C709.6,1564.4,710.4,1564.4,711.8,1562.5 C713.2,1560.6,715.0,1559.7,716.9,1554.7 C718.9,1549.6,721.5,1540.2,723.8,1532.5 C726.0,1524.8,728.3,1516.0,730.6,1508.6 C732.9,1501.2,734.9,1495.2,737.4,1488.1 C740.0,1481.0,743.4,1471.9,745.9,1465.9 C748.5,1460.0,750.5,1456.6,752.8,1452.3 C755.0,1448.0,757.3,1445.2,759.6,1440.4 C761.9,1435.5,764.1,1430.1,766.4,1423.3 C768.7,1416.5,771.2,1406.8,773.2,1399.4 C775.2,1392.0,776.6,1385.2,778.4,1378.9 C780.1,1372.7,781.8,1366.1,783.5,1361.9 C785.2,1357.6,786.6,1355.3,788.6,1353.4 C790.6,1351.4,793.4,1350.2,795.4,1349.9 C797.4,1349.7,798.8,1350.5,800.5,1351.6 C802.2,1352.8,803.4,1353.9,805.6,1356.8 C807.9,1359.6,811.3,1365.3,814.2,1368.7 C817.0,1372.1,820.3,1375.4,822.7,1377.2 C825.2,1379.1,826.9,1379.6,828.9,1379.6 C830.8,1379.6,832.8,1378.5,834.7,1377.2 C836.5,1376.0,837.2,1375.5,839.8,1372.1 C842.3,1368.7,846.6,1361.9,850.0,1356.8 C853.4,1351.6,857.1,1345.1,860.2,1341.4 C863.4,1337.7,866.5,1335.9,868.8,1334.6 C871.0,1333.3,871.9,1333.3,873.9,1333.6 C875.9,1333.8,878.4,1334.4,880.7,1336.3 C883.0,1338.2,885.0,1340.6,887.5,1344.8 C890.1,1349.1,893.2,1355.1,896.1,1361.9 C898.9,1368.7,901.5,1377.2,904.6,1385.8 C907.7,1394.3,911.7,1405.1,914.8,1413.1 C918.0,1421.0,920.5,1427.0,923.4,1433.5 C926.2,1440.1,929.3,1447.2,931.9,1452.3 C934.4,1457.4,936.4,1461.4,938.7,1464.2 C941.0,1467.1,943.4,1468.2,945.5,1469.4 C947.7,1470.5,949.4,1471.3,951.7,1471.1 C953.9,1470.8,956.5,1469.6,959.2,1467.6 C961.9,1465.7,964.9,1462.5,967.7,1459.1 C970.6,1455.7,973.1,1451.4,976.2,1447.2 C979.4,1442.9,983.1,1437.8,986.5,1433.5 C989.9,1429.3,993.3,1424.9,996.7,1421.6 C1000.1,1418.3,1003.5,1415.7,1006.9,1413.7 C1010.4,1411.8,1014.3,1410.5,1017.2,1409.6 C1020.0,1408.8,1021.4,1408.3,1024.0,1408.6 C1026.6,1408.9,1029.7,1410.0,1032.5,1411.4 C1035.4,1412.7,1037.9,1413.9,1041.1,1416.5 C1044.2,1419.0,1048.2,1423.6,1051.3,1426.7 C1054.4,1429.8,1057.0,1432.4,1059.8,1435.2 C1062.7,1438.1,1065.8,1440.9,1068.4,1443.8 C1070.9,1446.6,1073.2,1449.9,1075.2,1452.3 C1077.2,1454.7,1079.0,1455.5,1080.3,1458.1 C1081.6,1460.7,1082.2,1464.6,1083.0,1467.6 C1083.8,1470.7,1084.5,1477.9,1085.1,1476.2 C1085.7,1474.5,1086.2,1459.7,1086.8,1457.4 C1087.4,1455.1,1087.6,1459.7,1088.5,1462.5 C1089.4,1465.4,1090.5,1470.8,1092.2,1474.5 C1094.0,1478.2,1096.8,1481.4,1099.1,1484.7 C1101.3,1488.0,1104.4,1493.4,1105.9,1494.3 C1107.4,1495.1,1107.3,1490.3,1107.9,1489.8 C1108.6,1489.4,1109.6,1491.2,1110.0,1491.5" fill="none" stroke="#6a5fc9" stroke-width="3.2" stroke-linejoin="round" stroke-linecap="round"/>
<line x1="648.0" y1="1459.5" x2="1110.3" y2="1459.5" stroke="#111" stroke-width="1.4" stroke-dasharray="7,5"/>
<g clip-path="url(#fc1)"><circle cx="768.8" cy="1625.2" r="53" fill="#fafcf8"/>
<path d="M713.8,1601.6 L768.8,1588.9 L823.9,1583.2 L823.9,1639.4 L768.8,1656.6 L713.8,1661.2Z" fill="#f0ece5"/>
<path d="M749.3,1611.9 L750.0,1612.7 L750.7,1613.0 L751.3,1613.2 L751.8,1613.3 L752.4,1613.4 L753.0,1613.4 L753.6,1613.4 L754.1,1613.4 L754.7,1613.4 L755.2,1613.3 L755.8,1613.2 L756.3,1613.1 L756.8,1613.0 L757.3,1612.8 L757.9,1612.6 L758.4,1612.3 L758.9,1612.0 L759.3,1611.6 L759.8,1611.3 L760.3,1610.9 L760.8,1610.4 L761.2,1610.0 L761.7,1609.5 L762.1,1609.1 L762.6,1608.6 L763.1,1608.2 L763.5,1607.7 L764.0,1607.3 L764.5,1606.9 L764.9,1606.5 L765.4,1606.2 L765.9,1605.9 L766.4,1605.6 L766.9,1605.4 L767.5,1605.2 L768.0,1605.0 L768.5,1604.9 L769.1,1604.9 L769.6,1604.9 L770.2,1604.9 L770.8,1605.0 L771.4,1605.1 L772.0,1605.2 L772.6,1605.4 L773.2,1605.6 L773.8,1605.8 L774.4,1606.0 L775.0,1606.3 L775.6,1606.5 L776.2,1606.7 L776.8,1606.9 L777.4,1607.1 L778.0,1607.3 L778.6,1607.4 L779.2,1607.5 L779.8,1607.6 L780.3,1607.6 L780.9,1607.6 L781.4,1607.6 L782.0,1607.5 L782.5,1607.3 L783.0,1607.2 L783.5,1606.9 L784.0,1606.7 L784.5,1606.4 L785.0,1606.0 L785.5,1605.6 L786.0,1605.2 L786.4,1604.8 L786.9,1604.4 L787.4,1603.9 L787.8,1603.4 L788.3,1603.0 L788.7,1602.5 L789.2,1602.1 L789.7,1601.7 L790.1,1601.2 L790.6,1600.9 L791.1,1600.5 L791.6,1600.2 L792.1,1599.9 L792.6,1599.7 L793.1,1599.5 L793.7,1599.4 L794.2,1599.3 L794.8,1599.2 L795.3,1599.2 L795.9,1599.3 L796.5,1599.4 L797.0,1599.5 L797.6,1599.6 L798.2,1599.8 L798.8,1600.0 L799.4,1600.2 L800.0,1600.4 L800.7,1600.6 L801.3,1600.8 L801.9,1601.1 L802.5,1601.3 L803.1,1601.5 L803.7,1601.6 L804.3,1601.8 L804.9,1601.9 L805.4,1602.0 L806.0,1602.0 L806.6,1602.0 L807.1,1601.9 L807.7,1601.8 L808.2,1601.7 L808.7,1601.6 L809.2,1601.4 L809.8,1601.2 L810.3,1601.0 L810.8,1600.7 L811.3,1600.4 L811.8,1600.1 L812.3,1599.8 L812.7,1599.4 L813.2,1598.9 L813.5,1597.8 M749.3,1611.9 L749.6,1610.8 L750.1,1610.3 L750.5,1609.9 L751.0,1609.6 L751.5,1609.3 L752.0,1609.0 L752.5,1608.7 L753.0,1608.5 L753.6,1608.3 L754.1,1608.1 L754.6,1608.0 L755.1,1607.9 L755.7,1607.8 L756.2,1607.7 L756.8,1607.7 L757.4,1607.7 L757.9,1607.8 L758.5,1607.9 L759.1,1608.1 L759.7,1608.2 L760.3,1608.4 L760.9,1608.6 L761.5,1608.9 L762.1,1609.1 L762.8,1609.3 L763.4,1609.5 L764.0,1609.7 L764.6,1609.9 L765.2,1610.1 L765.8,1610.2 L766.3,1610.3 L766.9,1610.4 L767.5,1610.5 L768.0,1610.5 L768.6,1610.4 L769.1,1610.3 L769.7,1610.2 L770.2,1610.0 L770.7,1609.8 L771.2,1609.5 L771.7,1609.2 L772.2,1608.8 L772.7,1608.5 L773.1,1608.0 L773.6,1607.6 L774.1,1607.2 L774.5,1606.7 L775.0,1606.3 L775.4,1605.8 L775.9,1605.3 L776.4,1604.9 L776.8,1604.5 L777.3,1604.1 L777.8,1603.7 L778.3,1603.3 L778.8,1603.0 L779.3,1602.8 L779.8,1602.5 L780.3,1602.4 L780.8,1602.2 L781.4,1602.1 L781.9,1602.1 L782.5,1602.1 L783.0,1602.1 L783.6,1602.2 L784.2,1602.3 L784.8,1602.4 L785.4,1602.6 L786.0,1602.8 L786.6,1603.0 L787.2,1603.2 L787.8,1603.4 L788.4,1603.7 L789.0,1603.9 L789.6,1604.1 L790.2,1604.3 L790.8,1604.5 L791.4,1604.6 L792.0,1604.7 L792.6,1604.8 L793.2,1604.8 L793.7,1604.8 L794.3,1604.8 L794.8,1604.7 L795.3,1604.5 L795.9,1604.3 L796.4,1604.1 L796.9,1603.8 L797.4,1603.5 L797.9,1603.2 L798.3,1602.8 L798.8,1602.4 L799.3,1602.0 L799.7,1601.5 L800.2,1601.1 L800.7,1600.6 L801.1,1600.2 L801.6,1599.7 L802.0,1599.3 L802.5,1598.8 L803.0,1598.4 L803.5,1598.1 L803.9,1597.7 L804.4,1597.4 L804.9,1597.1 L805.5,1596.9 L806.0,1596.7 L806.5,1596.6 L807.0,1596.5 L807.6,1596.4 L808.1,1596.3 L808.7,1596.3 L809.2,1596.3 L809.8,1596.3 L810.4,1596.3 L811.0,1596.4 L811.5,1596.5 L812.1,1596.7 L812.8,1597.0 L813.5,1597.8" fill="none" stroke="#bf6850" stroke-width="2.3" stroke-linecap="round" stroke-linejoin="round"/>
<path d="M737.9,1631.4 L738.7,1632.2 L739.4,1632.5 L740.0,1632.6 L740.6,1632.7 L741.2,1632.8 L741.8,1632.8 L742.4,1632.8 L743.0,1632.8 L743.6,1632.8 L744.2,1632.7 L744.8,1632.6 L745.4,1632.5 L746.0,1632.3 L746.5,1632.1 L747.1,1631.9 L747.6,1631.6 L748.1,1631.3 L748.6,1630.9 L749.2,1630.5 L749.7,1630.1 L750.2,1629.7 L750.7,1629.2 L751.2,1628.7 L751.7,1628.3 L752.2,1627.8 L752.7,1627.3 L753.2,1626.9 L753.7,1626.4 L754.2,1626.0 L754.7,1625.6 L755.2,1625.3 L755.7,1624.9 L756.3,1624.7 L756.8,1624.4 L757.4,1624.2 L758.0,1624.1 L758.5,1624.0 L759.1,1623.9 L759.7,1623.9 L760.3,1623.9 L760.9,1624.0 L761.6,1624.1 L762.2,1624.2 L762.8,1624.3 L763.5,1624.5 L764.1,1624.7 L764.8,1624.9 L765.4,1625.1 L766.1,1625.3 L766.7,1625.6 L767.4,1625.7 L768.0,1625.9 L768.7,1626.1 L769.3,1626.2 L769.9,1626.3 L770.5,1626.4 L771.1,1626.4 L771.7,1626.4 L772.3,1626.3 L772.9,1626.2 L773.5,1626.0 L774.0,1625.8 L774.6,1625.6 L775.1,1625.3 L775.7,1625.0 L776.2,1624.6 L776.7,1624.3 L777.2,1623.8 L777.7,1623.4 L778.2,1622.9 L778.7,1622.5 L779.2,1622.0 L779.7,1621.5 L780.2,1621.1 L780.7,1620.6 L781.2,1620.2 L781.7,1619.7 L782.2,1619.4 L782.7,1619.0 L783.3,1618.7 L783.8,1618.4 L784.4,1618.2 L784.9,1618.0 L785.5,1617.8 L786.1,1617.7 L786.7,1617.6 L787.3,1617.6 L787.9,1617.6 L788.5,1617.7 L789.1,1617.8 L789.7,1617.9 L790.4,1618.1 L791.0,1618.3 L791.7,1618.4 L792.3,1618.7 L793.0,1618.9 L793.6,1619.1 L794.3,1619.3 L794.9,1619.5 L795.6,1619.7 L796.2,1619.8 L796.8,1619.9 L797.5,1620.0 L798.1,1620.1 L798.7,1620.1 L799.3,1620.1 L799.9,1620.0 L800.4,1619.9 L801.0,1619.8 L801.6,1619.6 L802.1,1619.3 L802.7,1619.1 L803.2,1618.7 L803.7,1618.4 L804.2,1618.0 L804.7,1617.6 L805.2,1617.1 L805.7,1616.7 L806.2,1616.2 L806.7,1615.7 L807.2,1615.3 L807.7,1614.8 L808.2,1614.3 L808.7,1613.9 L809.2,1613.5 L809.8,1613.1 L810.3,1612.7 L810.8,1612.4 L811.3,1612.1 L811.9,1611.9 L812.4,1611.7 L813.0,1611.5 L813.6,1611.4 L814.2,1611.3 L814.8,1611.2 L815.4,1611.2 L816.0,1611.2 L816.6,1611.2 L817.2,1611.2 L817.8,1611.3 L818.4,1611.4 L819.0,1611.5 L819.7,1611.8 L820.5,1612.6 M737.9,1631.4 L738.3,1630.3 L738.7,1629.8 L739.3,1629.4 L739.8,1629.0 L740.3,1628.7 L740.8,1628.4 L741.4,1628.1 L741.9,1627.9 L742.5,1627.7 L743.0,1627.5 L743.6,1627.3 L744.2,1627.2 L744.8,1627.1 L745.4,1627.0 L746.0,1627.0 L746.6,1627.0 L747.2,1627.1 L747.8,1627.2 L748.4,1627.3 L749.1,1627.5 L749.7,1627.7 L750.4,1627.8 L751.0,1628.1 L751.7,1628.3 L752.3,1628.5 L753.0,1628.7 L753.6,1628.9 L754.3,1629.1 L754.9,1629.2 L755.5,1629.3 L756.2,1629.4 L756.8,1629.5 L757.4,1629.5 L758.0,1629.5 L758.6,1629.4 L759.1,1629.3 L759.7,1629.2 L760.3,1629.0 L760.8,1628.7 L761.4,1628.5 L761.9,1628.1 L762.4,1627.8 L762.9,1627.4 L763.4,1627.0 L763.9,1626.5 L764.4,1626.1 L764.9,1625.6 L765.4,1625.1 L765.9,1624.7 L766.4,1624.2 L766.9,1623.7 L767.4,1623.3 L767.9,1622.9 L768.5,1622.5 L769.0,1622.1 L769.5,1621.8 L770.0,1621.5 L770.6,1621.3 L771.1,1621.1 L771.7,1620.9 L772.3,1620.8 L772.9,1620.8 L773.5,1620.7 L774.1,1620.8 L774.7,1620.8 L775.3,1620.9 L776.0,1621.1 L776.6,1621.2 L777.2,1621.4 L777.9,1621.6 L778.5,1621.8 L779.2,1622.0 L779.9,1622.2 L780.5,1622.4 L781.2,1622.6 L781.8,1622.8 L782.4,1622.9 L783.1,1623.1 L783.7,1623.2 L784.3,1623.2 L784.9,1623.3 L785.5,1623.2 L786.1,1623.2 L786.7,1623.1 L787.3,1622.9 L787.8,1622.7 L788.4,1622.5 L788.9,1622.2 L789.4,1621.9 L789.9,1621.5 L790.5,1621.1 L791.0,1620.7 L791.5,1620.3 L792.0,1619.8 L792.5,1619.3 L793.0,1618.9 L793.5,1618.4 L794.0,1617.9 L794.5,1617.5 L795.0,1617.0 L795.5,1616.6 L796.0,1616.2 L796.5,1615.9 L797.0,1615.5 L797.6,1615.3 L798.1,1615.0 L798.7,1614.8 L799.3,1614.7 L799.8,1614.6 L800.4,1614.5 L801.0,1614.5 L801.6,1614.5 L802.2,1614.6 L802.9,1614.7 L803.5,1614.8 L804.1,1614.9 L804.8,1615.1 L805.4,1615.3 L806.1,1615.5 L806.7,1615.7 L807.4,1615.9 L808.0,1616.2 L808.7,1616.3 L809.3,1616.5 L810.0,1616.7 L810.6,1616.8 L811.2,1616.9 L811.8,1617.0 L812.4,1617.0 L813.0,1617.0 L813.6,1616.9 L814.2,1616.8 L814.8,1616.7 L815.4,1616.5 L815.9,1616.3 L816.5,1616.1 L817.0,1615.9 L817.6,1615.6 L818.1,1615.3 L818.6,1615.0 L819.1,1614.6 L819.7,1614.2 L820.1,1613.7 L820.5,1612.6" fill="none" stroke="#bf6850" stroke-width="2.3" stroke-linecap="round" stroke-linejoin="round"/>
<path d="M725.2,1650.9 L725.9,1651.7 L726.6,1652.0 L727.2,1652.2 L727.8,1652.3 L728.3,1652.4 L728.9,1652.4 L729.5,1652.4 L730.0,1652.4 L730.6,1652.4 L731.1,1652.3 L731.7,1652.2 L732.2,1652.1 L732.8,1652.0 L733.3,1651.8 L733.8,1651.6 L734.3,1651.3 L734.8,1651.0 L735.3,1650.7 L735.8,1650.3 L736.2,1649.9 L736.7,1649.4 L737.2,1649.0 L737.6,1648.5 L738.1,1648.1 L738.6,1647.6 L739.0,1647.2 L739.5,1646.7 L740.0,1646.3 L740.4,1645.9 L740.9,1645.5 L741.4,1645.2 L741.9,1644.9 L742.4,1644.6 L742.9,1644.4 L743.4,1644.2 L744.0,1644.0 L744.5,1643.9 L745.1,1643.9 L745.6,1643.9 L746.2,1643.9 L746.8,1644.0 L747.4,1644.1 L748.0,1644.3 L748.6,1644.4 L749.2,1644.6 L749.8,1644.8 L750.4,1645.0 L751.0,1645.3 L751.6,1645.5 L752.2,1645.7 L752.8,1645.9 L753.4,1646.1 L754.0,1646.3 L754.6,1646.4 L755.2,1646.5 L755.8,1646.6 L756.4,1646.7 L756.9,1646.6 L757.5,1646.6 L758.0,1646.5 L758.6,1646.4 L759.1,1646.2 L759.6,1645.9 L760.1,1645.7 L760.6,1645.4 L761.1,1645.0 L761.6,1644.6 L762.0,1644.2 L762.5,1643.8 L763.0,1643.4 L763.4,1642.9 L763.9,1642.5 L764.4,1642.0 L764.8,1641.5 L765.3,1641.1 L765.8,1640.7 L766.2,1640.3 L766.7,1639.9 L767.2,1639.5 L767.7,1639.2 L768.2,1639.0 L768.7,1638.7 L769.2,1638.6 L769.8,1638.4 L770.3,1638.3 L770.9,1638.3 L771.4,1638.3 L772.0,1638.3 L772.6,1638.4 L773.2,1638.5 L773.8,1638.6 L774.4,1638.8 L775.0,1639.0 L775.6,1639.2 L776.2,1639.4 L776.8,1639.6 L777.4,1639.9 L778.0,1640.1 L778.6,1640.3 L779.2,1640.5 L779.8,1640.7 L780.4,1640.8 L781.0,1640.9 L781.6,1641.0 L782.2,1641.0 L782.7,1641.0 L783.3,1641.0 L783.8,1640.9 L784.4,1640.7 L784.9,1640.5 L785.4,1640.3 L785.9,1640.1 L786.4,1639.7 L786.9,1639.4 L787.4,1639.0 L787.8,1638.6 L788.3,1638.2 L788.8,1637.7 L789.2,1637.3 L789.7,1636.8 L790.2,1636.4 L790.6,1635.9 L791.1,1635.5 L791.6,1635.0 L792.0,1634.6 L792.5,1634.3 L793.0,1633.9 L793.5,1633.6 L794.0,1633.3 L794.5,1633.1 L795.0,1632.9 L795.6,1632.8 L796.1,1632.7 L796.7,1632.6 L797.2,1632.6 L797.8,1632.7 L798.4,1632.7 L799.0,1632.9 L799.6,1633.0 L800.2,1633.2 L800.8,1633.4 L801.4,1633.6 L802.0,1633.8 L802.6,1634.0 L803.2,1634.2 L803.8,1634.5 L804.4,1634.7 L805.0,1634.9 L805.6,1635.0 L806.2,1635.2 L806.8,1635.3 L807.4,1635.4 L808.0,1635.4 L808.5,1635.4 L809.1,1635.3 L809.6,1635.2 L810.2,1635.1 L810.7,1635.0 L811.2,1634.8 L811.7,1634.6 L812.3,1634.4 L812.8,1634.1 L813.3,1633.8 L813.8,1633.5 L814.2,1633.2 L814.7,1632.8 L815.2,1632.3 L815.5,1631.2 M725.2,1650.9 L725.5,1649.8 L726.0,1649.3 L726.5,1648.9 L726.9,1648.6 L727.4,1648.3 L727.9,1648.0 L728.4,1647.7 L729.0,1647.5 L729.5,1647.3 L730.0,1647.1 L730.5,1647.0 L731.1,1646.9 L731.6,1646.8 L732.2,1646.7 L732.7,1646.7 L733.3,1646.7 L733.9,1646.8 L734.5,1646.9 L735.1,1647.1 L735.7,1647.2 L736.3,1647.4 L736.9,1647.6 L737.5,1647.9 L738.1,1648.1 L738.7,1648.3 L739.3,1648.5 L739.9,1648.7 L740.5,1648.9 L741.1,1649.1 L741.7,1649.2 L742.3,1649.4 L742.9,1649.4 L743.5,1649.5 L744.0,1649.5 L744.6,1649.4 L745.1,1649.3 L745.7,1649.2 L746.2,1649.0 L746.7,1648.8 L747.2,1648.5 L747.7,1648.2 L748.2,1647.8 L748.7,1647.5 L749.1,1647.1 L749.6,1646.6 L750.1,1646.2 L750.5,1645.7 L751.0,1645.3 L751.5,1644.8 L751.9,1644.4 L752.4,1643.9 L752.9,1643.5 L753.3,1643.1 L753.8,1642.7 L754.3,1642.4 L754.8,1642.0 L755.3,1641.8 L755.8,1641.6 L756.3,1641.4 L756.9,1641.2 L757.4,1641.1 L758.0,1641.1 L758.5,1641.1 L759.1,1641.1 L759.7,1641.2 L760.3,1641.3 L760.9,1641.4 L761.5,1641.6 L762.1,1641.8 L762.7,1642.0 L763.3,1642.2 L763.9,1642.5 L764.5,1642.7 L765.1,1642.9 L765.7,1643.1 L766.3,1643.3 L766.9,1643.5 L767.5,1643.6 L768.1,1643.7 L768.7,1643.8 L769.3,1643.8 L769.8,1643.8 L770.4,1643.8 L770.9,1643.7 L771.5,1643.5 L772.0,1643.4 L772.5,1643.1 L773.0,1642.9 L773.5,1642.6 L774.0,1642.2 L774.5,1641.8 L774.9,1641.4 L775.4,1641.0 L775.9,1640.6 L776.3,1640.1 L776.8,1639.6 L777.3,1639.2 L777.7,1638.7 L778.2,1638.3 L778.7,1637.9 L779.1,1637.5 L779.6,1637.1 L780.1,1636.7 L780.6,1636.4 L781.1,1636.2 L781.6,1635.9 L782.1,1635.7 L782.7,1635.6 L783.2,1635.5 L783.8,1635.5 L784.3,1635.4 L784.9,1635.5 L785.5,1635.6 L786.1,1635.7 L786.7,1635.8 L787.3,1636.0 L787.9,1636.2 L788.5,1636.4 L789.1,1636.6 L789.7,1636.8 L790.3,1637.1 L790.9,1637.3 L791.5,1637.5 L792.1,1637.7 L792.7,1637.8 L793.3,1638.0 L793.9,1638.1 L794.5,1638.2 L795.1,1638.2 L795.6,1638.2 L796.2,1638.2 L796.7,1638.1 L797.3,1637.9 L797.8,1637.7 L798.3,1637.5 L798.8,1637.2 L799.3,1636.9 L799.8,1636.6 L800.3,1636.2 L800.7,1635.8 L801.2,1635.4 L801.7,1634.9 L802.1,1634.5 L802.6,1634.0 L803.1,1633.6 L803.5,1633.1 L804.0,1632.7 L804.5,1632.2 L804.9,1631.8 L805.4,1631.4 L805.9,1631.1 L806.4,1630.8 L806.9,1630.5 L807.4,1630.3 L807.9,1630.1 L808.5,1630.0 L809.0,1629.9 L809.6,1629.8 L810.1,1629.7 L810.7,1629.7 L811.2,1629.7 L811.8,1629.7 L812.4,1629.7 L812.9,1629.8 L813.5,1629.9 L814.1,1630.1 L814.8,1630.4 L815.5,1631.2" fill="none" stroke="#bf6850" stroke-width="2.3" stroke-linecap="round" stroke-linejoin="round"/>
<path d="M718.4,1613.0 C720.3,1611.8,726.2,1606.3,729.8,1605.5 C733.5,1604.6,736.9,1606.6,740.1,1607.8 C743.4,1608.9,747.8,1611.6,749.3,1612.3" fill="none" stroke="#bf6850" stroke-width="2.3" stroke-linecap="round" stroke-linejoin="round"/>
<path d="M749.3,1612.3 C747.6,1613.0,742.4,1615.1,739.0,1616.0 C735.6,1616.9,730.7,1616.6,728.7,1617.6 C726.7,1618.6,726.1,1621.1,727.1,1622.2 C728.0,1623.4,732.6,1623.0,734.4,1624.5 C736.2,1626.0,737.3,1630.2,737.9,1631.4" fill="none" stroke="#bf6850" stroke-width="2.3" stroke-linecap="round" stroke-linejoin="round"/>
<path d="M718.4,1631.4 C720.1,1632.1,726.0,1635.6,728.7,1636.0 C731.4,1636.4,732.9,1634.4,734.4,1633.7 C735.9,1632.9,737.3,1631.8,737.9,1631.4" fill="none" stroke="#bf6850" stroke-width="2.3" stroke-linecap="round" stroke-linejoin="round"/>
<path d="M725.2,1650.9 C724.7,1651.2,722.9,1652.3,721.8,1652.7 C720.6,1653.2,718.9,1653.5,718.4,1653.6" fill="none" stroke="#bf6850" stroke-width="2.3" stroke-linecap="round" stroke-linejoin="round"/>
<path d="M731.0,1587.8 C731.9,1588.7,734.4,1592.8,736.7,1593.5 C739.0,1594.3,743.0,1593.9,744.7,1592.4 C746.5,1590.9,746.5,1586.8,747.0,1584.4 C747.6,1581.9,748.0,1578.6,748.2,1577.5" fill="none" stroke="#62a3bf" stroke-width="4.2" stroke-linecap="round" stroke-linejoin="round"/>
<path d="M764.2,1574.0 C765.6,1575.7,769.8,1581.7,772.3,1584.4 C774.7,1587.0,776.9,1589.7,779.1,1590.1 C781.4,1590.5,784.3,1588.7,786.0,1586.6 C787.7,1584.5,788.9,1579.0,789.5,1577.5" fill="none" stroke="#62a3bf" stroke-width="4.2" stroke-linecap="round" stroke-linejoin="round"/>
<path d="M807.8,1657.8 C805.9,1658.0,799.6,1659.4,796.4,1658.9 C793.1,1658.5,790.8,1655.2,788.3,1655.0 C785.8,1654.8,782.4,1656.3,781.4,1657.8 C780.5,1659.2,780.9,1661.8,782.6,1663.5 C784.3,1665.2,788.7,1666.9,791.8,1668.1 C794.8,1669.2,799.4,1670.0,800.9,1670.4" fill="none" stroke="#62a3bf" stroke-width="4.2" stroke-linecap="round" stroke-linejoin="round"/>
<path d="M737.9,1663.5 C739.0,1663.2,742.4,1661.3,744.7,1661.9 C747.0,1662.5,749.7,1665.0,751.6,1666.9 C753.5,1668.9,755.4,1672.7,756.2,1673.8" fill="none" stroke="#62a3bf" stroke-width="4.2" stroke-linecap="round" stroke-linejoin="round"/>
</g><circle cx="768.8" cy="1625.2" r="51.9" fill="none" stroke="#111" stroke-width="1"/>
<g clip-path="url(#fc2)"><circle cx="841.5" cy="1475.8" r="53" fill="#fafcf8"/>
<ellipse cx="790.0" cy="1482.0" rx="11" ry="26" fill="#f0ece5"/>
<path d="M879.3,1447.4 L837.7,1439.6 C831.2,1438.4 821.5,1446.0 828.0,1447.2 L877.0,1456.4 C883.5,1457.7 877.5,1466.0 871.0,1464.8 L822.0,1455.6 C815.5,1454.4 809.5,1462.7 816.0,1464.0 L865.0,1473.1 C871.5,1474.4 865.5,1482.7 859.0,1481.5 L810.0,1472.3 C803.5,1471.1 797.5,1479.4 804.0,1480.7 L853.0,1489.8 C859.5,1491.1 848.6,1498.5 842.1,1497.3 L802.9,1489.9 C796.4,1488.7 790.4,1497.0 796.9,1498.3 L836.1,1505.6" fill="none" stroke="#62a3bf" stroke-width="4.2" stroke-linecap="round" stroke-linejoin="round"/>
<path d="M836.1,1505.6 C837.4,1506.5,841.8,1509.1,844.1,1510.6 C846.4,1512.2,848.9,1511.8,850.0,1515.0 C851.1,1518.2,850.8,1527.5,851.0,1530.0" fill="none" stroke="#62a3bf" stroke-width="4.2" stroke-linecap="round" stroke-linejoin="round"/>
<path d="M802.1,1444.0 C803.8,1444.0,809.4,1444.9,812.4,1444.4 C815.5,1443.9,819.3,1442.3,820.4,1441.0 C821.6,1439.6,820.6,1437.4,819.3,1436.4 C818.0,1435.3,813.6,1435.0,812.4,1434.8" fill="none" stroke="#62a3bf" stroke-width="4.2" stroke-linecap="round" stroke-linejoin="round"/>
<path d="M893.9,1476.5 C892.5,1476.7,887.5,1476.1,885.8,1477.7 C884.1,1479.2,883.7,1482.8,883.5,1485.7 C883.3,1488.6,883.9,1492.2,884.7,1494.9 C885.4,1497.6,887.5,1500.6,888.1,1501.8" fill="none" stroke="#62a3bf" stroke-width="4.2" stroke-linecap="round" stroke-linejoin="round"/>
<path d="M866.3,1517.8 C867.3,1517.1,869.6,1514.4,872.1,1513.2 C874.5,1512.1,879.7,1511.3,881.2,1510.9" fill="none" stroke="#62a3bf" stroke-width="4.2" stroke-linecap="round" stroke-linejoin="round"/>
<path d="M789.9,1478.8 C790.7,1479.2,793.5,1480.2,794.5,1481.1 C795.5,1482.1,796.4,1483.6,795.9,1484.6 C795.4,1485.5,792.5,1486.5,791.8,1486.9" fill="none" stroke="#bf6850" stroke-width="2.4" stroke-linecap="round" stroke-linejoin="round"/>
<path d="M838.3,1450.8 L841.1,1455.9 M871.6,1453.6 L869.8,1457.0 M818.1,1468.5 L819.3,1474.2 M859.4,1469.2 L852.6,1475.4 M823.9,1489.1 L818.1,1493.7 M846.8,1486.9 L841.1,1492.6" fill="none" stroke="#ea3f22" stroke-width="1.6" stroke-dasharray="1.6,2.4"/>
</g><circle cx="841.5" cy="1475.8" r="51.9" fill="none" stroke="#111" stroke-width="1"/>
<g clip-path="url(#fc3)"><circle cx="1022.3" cy="1527.5" r="53" fill="#fafcf8"/>
<path d="M986.8,1570.6 C992.5,1567.9,1009.3,1570.0,1021.2,1568.3 C1033.0,1566.6,1048.7,1562.2,1057.9,1560.3 C1067.1,1558.4,1073.2,1552.8,1076.2,1556.8 C1079.3,1560.8,1091.1,1579.8,1076.2,1584.4 C1061.3,1588.9,1001.7,1586.6,986.8,1584.4 C971.9,1582.1,981.0,1573.3,986.8,1570.6Z" fill="#f0ece5"/>
<path d="M983.3,1559.1 C983.9,1557.2,986.0,1551.9,986.8,1547.6 C987.5,1543.4,986.0,1536.9,987.9,1533.9 C989.8,1530.8,994.8,1530.8,998.2,1529.3 C1001.7,1527.8,1006.6,1527.0,1008.6,1524.7 C1010.5,1522.4,1011.0,1519.0,1009.7,1515.5 C1008.4,1512.1,1002.4,1506.9,1000.5,1504.1 C998.6,1501.2,997.7,1499.7,998.2,1498.3 C998.8,1497.0,1001.3,1495.5,1004.0,1496.0 C1006.6,1496.6,1011.0,1500.4,1014.3,1501.8 C1017.5,1503.1,1020.6,1504.2,1023.5,1504.1 C1026.3,1503.9,1029.2,1501.0,1031.5,1500.6 C1033.8,1500.2,1036.5,1500.0,1037.2,1501.8 C1038.0,1503.5,1035.7,1508.5,1036.1,1510.9 C1036.5,1513.4,1037.4,1516.7,1039.5,1516.7 C1041.6,1516.7,1045.6,1513.2,1048.7,1510.9 C1051.8,1508.6,1054.8,1505.0,1057.9,1502.9 C1060.9,1500.8,1065.5,1499.1,1067.1,1498.3" fill="none" stroke="#62a3bf" stroke-width="4.4" stroke-linecap="round" stroke-linejoin="round"/>
<path d="M990.2,1568.3 C991.5,1567.7,995.0,1565.2,998.2,1564.9 C1001.5,1564.5,1006.1,1566.3,1009.7,1566.5 C1013.3,1566.6,1017.7,1567.6,1020.0,1566.0 C1022.3,1564.4,1022.9,1560.3,1023.5,1556.8 C1024.0,1553.4,1022.3,1548.2,1023.5,1545.4 C1024.6,1542.5,1028.1,1539.6,1030.4,1539.6 C1032.6,1539.6,1034.6,1542.5,1037.2,1545.4 C1039.9,1548.2,1043.5,1554.3,1046.4,1556.8 C1049.3,1559.3,1052.1,1561.0,1054.4,1560.3 C1056.7,1559.5,1059.0,1557.0,1060.2,1552.2 C1061.3,1547.5,1060.7,1536.6,1061.3,1531.6 C1061.9,1526.6,1062.3,1523.6,1063.6,1522.4 C1065.0,1521.3,1067.8,1522.8,1069.4,1524.7 C1070.9,1526.6,1072.2,1532.4,1072.8,1533.9" fill="none" stroke="#62a3bf" stroke-width="4.4" stroke-linecap="round" stroke-linejoin="round"/>
</g><circle cx="1022.3" cy="1527.5" r="51.9" fill="none" stroke="#111" stroke-width="1"/>
<rect x="648.0" y="1310.0" width="462.3" height="411.8" fill="none" stroke="#111" stroke-width="1.6"/>
<path d="M682.2,1721.8 v-8 M767.7,1721.8 v-8 M853.2,1721.8 v-8 M938.7,1721.8 v-8 M1024.2,1721.8 v-8 M1109.7,1721.8 v-8 M725.0,1721.8 v-4.5 M810.5,1721.8 v-4.5 M896.0,1721.8 v-4.5 M981.5,1721.8 v-4.5 M1067.0,1721.8 v-4.5 M648.0,1684.0 h8 M648.0,1609.2 h8 M648.0,1534.3 h8 M648.0,1459.5 h8 M648.0,1384.7 h8 M648.0,1309.8 h8 M648.0,1721.4 h4.5 M648.0,1646.6 h4.5 M648.0,1571.8 h4.5 M648.0,1496.9 h4.5 M648.0,1422.1 h4.5 M648.0,1347.2 h4.5" stroke="#111" stroke-width="1.5" fill="none"/>
<text x="682.2" y="1746" font-size="18" text-anchor="middle">300</text>
<text x="767.7" y="1746" font-size="18" text-anchor="middle">400</text>
<text x="853.2" y="1746" font-size="18" text-anchor="middle">500</text>
<text x="938.7" y="1746" font-size="18" text-anchor="middle">600</text>
<text x="1024.2" y="1746" font-size="18" text-anchor="middle">700</text>
<text x="1109.7" y="1746" font-size="18" text-anchor="middle">800</text>
<text x="639.5" y="1690.5" font-size="18" text-anchor="end">−150</text>
<text x="639.5" y="1615.7" font-size="18" text-anchor="end">−100</text>
<text x="639.5" y="1540.8" font-size="18" text-anchor="end">−50</text>
<text x="639.5" y="1466.0" font-size="18" text-anchor="end">0</text>
<text x="639.5" y="1391.2" font-size="18" text-anchor="end">50</text>
<text x="639.5" y="1316.3" font-size="18" text-anchor="end">100</text>
<text x="795.5" y="1776.5" font-size="22.5">Wavelength (nm)</text>
<text transform="translate(586,1514.5) rotate(-90)" font-size="22" text-anchor="middle">CD (mdeg)</text>
<text x="578" y="1322" class="lbl">f</text>
</g>
<g id="pg">
<rect x="1223.9" y="1308.3" width="412.5" height="411.7" fill="#1ba3dc"/>
<g clip-path="url(#gclip)"><g filter="url(#gblur)">
<path d="M1319.9,1292.3 L1544.3,1292.3 L1537.5,1346.3 L1534.7,1356.3 L1531.2,1362.3 L1527.9,1365.3 L1523.9,1367.5 L1509.9,1371.5 L1505.9,1374.2 L1502.8,1378.3 L1497.8,1390.3 L1492.9,1396.3 L1487.9,1399.6 L1483.9,1401.2 L1467.9,1404.8 L1463.9,1408.3 L1461.5,1412.3 L1458.2,1422.3 L1455.1,1428.3 L1451.9,1431.8 L1448.5,1434.3 L1437.9,1439.6 L1435.9,1441.4 L1432.8,1446.3 L1429.9,1456.5 L1427.5,1462.3 L1424.5,1466.3 L1419.9,1470.8 L1416.6,1476.3 L1415.0,1480.3 L1411.0,1494.3 L1408.8,1498.3 L1403.9,1504.4 L1401.1,1510.3 L1395.4,1530.3 L1393.0,1534.3 L1387.9,1540.6 L1385.8,1544.3 L1383.5,1550.3 L1376.9,1592.3 L1370.3,1620.3 L1367.1,1650.3 L1364.2,1688.3 L1362.3,1696.3 L1355.3,1716.3 L1351.2,1734.3 L1244.6,1734.3 L1244.6,1616.3 L1247.3,1512.3 L1250.6,1446.3 L1255.3,1410.3 L1258.3,1398.3 L1268.0,1380.3 L1272.3,1366.3 L1275.0,1360.3 L1279.9,1354.6 L1287.9,1350.1 L1291.9,1345.6 L1294.5,1340.3 L1297.6,1330.3 L1299.9,1325.6 L1303.9,1320.8 L1309.9,1316.3 L1314.0,1310.3 L1316.5,1304.3 L1319.9,1292.3Z" fill="#1fa5da" fill-rule="evenodd"/>
<path d="M1331.9,1292.4 L1538.7,1292.3 L1533.4,1332.3 L1531.5,1342.3 L1527.9,1350.7 L1525.3,1354.3 L1521.9,1357.6 L1517.9,1360.4 L1507.9,1365.3 L1503.5,1368.3 L1496.2,1374.3 L1487.9,1384.9 L1484.2,1388.3 L1477.6,1392.3 L1467.9,1396.4 L1463.9,1399.4 L1459.1,1404.3 L1454.4,1410.3 L1445.5,1424.3 L1435.9,1433.5 L1426.3,1446.3 L1409.3,1478.3 L1403.9,1490.2 L1386.6,1532.3 L1378.7,1548.3 L1377.3,1552.3 L1372.7,1584.3 L1363.9,1620.3 L1357.6,1684.3 L1355.9,1691.2 L1343.4,1730.3 L1342.6,1734.3 L1249.2,1734.3 L1249.2,1616.3 L1251.8,1514.3 L1256.1,1448.3 L1260.3,1420.3 L1262.1,1412.3 L1264.1,1406.3 L1280.6,1370.3 L1283.9,1365.7 L1289.9,1359.8 L1297.9,1348.7 L1305.9,1334.8 L1321.0,1312.3 L1331.4,1294.3Z" fill="#31aad3" fill-rule="evenodd"/>
<path d="M1339.9,1292.3 L1534.4,1292.3 L1530.4,1322.3 L1528.6,1332.3 L1526.0,1340.3 L1522.4,1346.3 L1515.9,1353.1 L1496.1,1366.3 L1477.0,1382.3 L1465.9,1389.3 L1457.9,1396.8 L1448.2,1408.3 L1442.1,1418.3 L1435.9,1425.9 L1428.8,1436.3 L1420.2,1446.3 L1403.9,1477.8 L1396.3,1498.3 L1389.9,1512.0 L1382.7,1532.3 L1373.9,1548.8 L1370.5,1572.3 L1366.6,1590.3 L1363.5,1602.3 L1357.4,1620.3 L1349.7,1684.3 L1339.9,1717.9 L1335.3,1730.3 L1334.5,1734.3 L1252.7,1734.3 L1252.8,1616.3 L1255.2,1520.3 L1256.2,1502.3 L1261.7,1446.3 L1266.3,1422.3 L1268.8,1414.3 L1277.2,1398.3 L1286.3,1376.3 L1302.3,1354.3 L1327.9,1314.0 L1337.0,1298.3 L1339.4,1292.3Z" fill="#46b2ce" fill-rule="evenodd"/>
<path d="M1347.9,1292.3 L1531.1,1292.3 L1528.7,1312.3 L1526.5,1324.3 L1523.9,1332.5 L1519.9,1339.8 L1511.9,1348.5 L1477.9,1371.2 L1457.9,1387.9 L1446.1,1402.3 L1428.7,1430.3 L1424.1,1436.3 L1415.2,1446.3 L1409.9,1456.1 L1399.8,1478.3 L1394.7,1492.3 L1387.9,1508.5 L1380.2,1530.3 L1371.9,1546.5 L1367.3,1572.3 L1361.2,1594.3 L1357.1,1606.3 L1351.9,1616.3 L1349.8,1622.3 L1343.6,1652.3 L1339.6,1686.3 L1327.5,1728.3 L1326.4,1734.3 L1255.2,1734.3 L1255.3,1616.3 L1258.0,1514.3 L1259.5,1498.3 L1263.4,1476.3 L1267.0,1444.3 L1269.2,1434.3 L1273.1,1422.3 L1276.1,1416.3 L1282.4,1408.3 L1284.6,1404.3 L1295.6,1376.3 L1305.9,1361.2 L1327.9,1326.1 L1345.2,1296.3 L1346.6,1292.3Z" fill="#5ebbc9" fill-rule="evenodd"/>
<path d="M1353.9,1292.3 L1528.4,1292.3 L1528.3,1294.3 L1526.6,1308.3 L1524.6,1318.3 L1521.9,1326.8 L1517.9,1333.8 L1511.9,1340.9 L1507.9,1344.2 L1495.9,1351.1 L1485.9,1357.7 L1471.9,1364.1 L1465.9,1369.1 L1445.9,1393.8 L1437.9,1406.8 L1426.2,1428.3 L1419.9,1436.3 L1411.9,1444.5 L1408.3,1450.3 L1395.5,1480.3 L1379.0,1526.3 L1369.9,1545.9 L1364.9,1570.3 L1355.1,1600.3 L1351.3,1608.3 L1344.1,1618.3 L1342.5,1622.3 L1338.9,1636.3 L1333.9,1652.3 L1330.2,1684.3 L1325.3,1706.3 L1320.4,1724.3 L1319.0,1734.3 L1257.4,1734.3 L1257.4,1616.3 L1260.3,1512.3 L1262.6,1496.3 L1267.4,1476.3 L1271.3,1446.3 L1273.5,1436.3 L1276.7,1426.3 L1279.9,1420.8 L1291.7,1410.3 L1294.5,1406.3 L1298.4,1396.3 L1304.0,1378.3 L1305.8,1374.3 L1314.9,1358.3 L1327.9,1338.1 L1351.9,1296.7 L1353.5,1292.3Z" fill="#76c5c8" fill-rule="evenodd"/>
<path d="M1359.9,1292.3 L1525.8,1292.3 L1523.6,1310.3 L1521.9,1316.9 L1518.5,1324.3 L1511.9,1332.8 L1507.9,1336.5 L1485.9,1349.3 L1481.9,1350.4 L1467.1,1352.3 L1461.9,1353.8 L1459.9,1355.0 L1457.8,1358.3 L1452.1,1376.3 L1442.2,1390.3 L1437.9,1397.6 L1433.9,1405.9 L1430.6,1414.3 L1426.5,1422.3 L1419.6,1432.3 L1409.8,1442.3 L1405.9,1448.3 L1392.4,1480.3 L1377.9,1522.3 L1368.4,1544.3 L1362.8,1568.3 L1353.0,1596.3 L1348.0,1606.3 L1338.5,1616.3 L1335.7,1622.3 L1329.9,1640.8 L1327.6,1650.3 L1323.4,1686.3 L1316.1,1718.3 L1314.0,1734.3 L1259.5,1734.3 L1259.6,1616.3 L1262.2,1516.3 L1264.5,1500.3 L1270.2,1478.3 L1275.3,1442.3 L1277.9,1433.5 L1279.9,1429.6 L1281.9,1427.1 L1289.9,1420.1 L1301.2,1412.3 L1305.3,1408.3 L1307.7,1402.3 L1311.6,1378.3 L1313.8,1372.3 L1333.1,1340.3 L1347.5,1314.3 L1356.1,1300.3 L1358.3,1296.3 L1359.6,1292.3Z" fill="#92cfce" fill-rule="evenodd"/>
<path d="M1365.9,1292.3 L1523.0,1292.3 L1522.0,1304.3 L1519.9,1312.9 L1517.9,1316.7 L1511.9,1324.6 L1507.9,1328.3 L1495.9,1335.7 L1483.9,1340.9 L1479.4,1340.3 L1459.9,1334.8 L1457.9,1335.2 L1456.8,1336.3 L1454.2,1340.3 L1451.0,1350.3 L1445.8,1374.3 L1433.9,1396.3 L1427.7,1414.3 L1424.6,1420.3 L1419.4,1428.3 L1415.9,1432.7 L1407.9,1440.7 L1403.9,1446.3 L1391.2,1476.3 L1377.1,1518.3 L1367.2,1542.3 L1360.9,1566.3 L1349.9,1596.1 L1345.9,1602.6 L1333.4,1614.3 L1329.8,1620.3 L1327.0,1630.3 L1322.0,1652.3 L1318.7,1682.3 L1311.7,1720.3 L1310.3,1734.3 L1261.6,1734.3 L1261.7,1616.3 L1264.7,1512.3 L1266.6,1502.3 L1272.8,1478.3 L1277.4,1446.3 L1279.9,1438.4 L1284.8,1432.3 L1293.9,1424.2 L1309.9,1414.9 L1315.9,1412.3 L1318.4,1410.3 L1319.6,1406.3 L1318.5,1382.3 L1318.7,1378.3 L1319.7,1374.3 L1329.2,1356.3 L1341.8,1336.3 L1350.9,1318.3 L1361.1,1302.3 L1364.0,1296.3 L1365.0,1292.3Z" fill="#add9d4" fill-rule="evenodd"/>
<path d="M1369.9,1292.3 L1519.9,1292.3 L1518.1,1306.3 L1515.0,1312.3 L1509.9,1318.5 L1499.9,1325.6 L1493.9,1328.5 L1485.9,1329.7 L1483.9,1329.5 L1473.9,1324.6 L1459.9,1319.0 L1455.9,1318.7 L1453.9,1320.5 L1445.9,1340.8 L1440.3,1372.3 L1439.0,1376.3 L1431.9,1391.7 L1425.8,1412.3 L1422.8,1418.3 L1417.9,1426.2 L1403.7,1442.3 L1399.1,1450.3 L1387.8,1478.3 L1376.3,1514.3 L1365.3,1542.3 L1359.1,1564.3 L1349.3,1590.3 L1345.9,1596.4 L1329.8,1610.3 L1327.9,1612.3 L1325.6,1616.3 L1317.9,1650.0 L1314.6,1684.3 L1312.4,1700.3 L1308.7,1720.3 L1307.8,1734.3 L1263.8,1734.3 L1263.8,1616.3 L1266.4,1516.3 L1269.0,1502.3 L1276.1,1476.3 L1280.0,1450.3 L1281.1,1446.3 L1283.3,1442.3 L1287.9,1436.9 L1293.9,1431.3 L1297.9,1428.5 L1309.9,1422.0 L1317.9,1419.3 L1319.7,1418.3 L1321.9,1416.2 L1323.9,1413.2 L1325.0,1410.3 L1325.5,1406.3 L1324.7,1378.3 L1326.2,1372.3 L1333.5,1358.3 L1343.9,1342.5 L1353.9,1322.3 L1363.9,1306.8 L1368.6,1296.3 L1369.7,1292.3Z" fill="#c9e5e0" fill-rule="evenodd"/>
<path d="M1373.9,1294.1 L1374.2,1292.3 L1515.3,1292.3 L1514.2,1300.3 L1512.3,1306.3 L1509.6,1310.3 L1497.9,1319.1 L1493.9,1320.4 L1485.9,1318.7 L1481.9,1316.4 L1473.9,1310.2 L1457.9,1303.6 L1455.9,1303.2 L1453.9,1304.0 L1451.9,1307.2 L1442.1,1340.3 L1436.0,1370.3 L1428.7,1390.3 L1423.2,1412.3 L1420.2,1418.3 L1416.4,1424.3 L1400.9,1442.3 L1396.2,1450.3 L1385.9,1477.1 L1374.8,1512.3 L1365.5,1536.3 L1357.5,1562.3 L1347.9,1587.1 L1345.9,1590.3 L1343.9,1592.3 L1335.9,1598.8 L1327.5,1604.3 L1324.3,1608.3 L1322.5,1612.3 L1317.9,1631.4 L1315.8,1644.3 L1312.1,1686.3 L1307.2,1716.3 L1306.0,1734.3 L1265.9,1734.3 L1266.0,1610.3 L1268.4,1518.3 L1269.3,1510.3 L1271.6,1500.3 L1274.3,1490.3 L1279.4,1476.3 L1283.9,1454.3 L1285.9,1448.8 L1287.9,1445.2 L1291.9,1440.3 L1295.9,1436.6 L1309.9,1428.9 L1319.9,1425.5 L1323.9,1421.8 L1325.9,1418.5 L1328.6,1412.3 L1329.5,1408.3 L1329.2,1380.3 L1330.2,1374.3 L1334.1,1366.3 L1345.9,1347.4 L1356.5,1326.3 L1367.5,1308.3 L1373.9,1294.3Z" fill="#e4f2ec" fill-rule="evenodd"/>
<path d="M1379.9,1292.3 L1453.4,1292.3 L1448.2,1306.3 L1439.1,1338.3 L1433.3,1364.3 L1425.9,1388.3 L1422.4,1406.3 L1420.7,1412.3 L1415.9,1421.1 L1398.1,1442.3 L1394.5,1448.3 L1383.9,1476.6 L1372.7,1512.3 L1364.3,1534.3 L1356.6,1558.3 L1347.9,1580.8 L1345.9,1584.2 L1343.9,1586.3 L1335.9,1592.4 L1327.9,1595.6 L1323.9,1598.3 L1321.1,1602.3 L1319.5,1606.3 L1315.9,1623.6 L1313.5,1640.3 L1312.0,1656.3 L1310.3,1684.3 L1305.7,1714.3 L1304.6,1734.3 L1267.9,1734.3 L1267.9,1616.3 L1270.3,1520.3 L1270.9,1512.3 L1273.0,1502.3 L1275.9,1492.3 L1281.9,1479.5 L1287.4,1458.3 L1291.9,1448.8 L1295.9,1443.9 L1301.5,1440.3 L1311.9,1434.9 L1317.9,1433.5 L1321.9,1431.7 L1323.9,1429.8 L1325.9,1426.5 L1331.6,1414.3 L1333.4,1408.3 L1333.7,1380.3 L1335.0,1374.3 L1345.9,1355.6 L1358.8,1330.3 L1371.9,1307.9 L1377.3,1296.3 L1378.4,1292.3Z M1471.9,1292.3 L1509.3,1292.3 L1507.7,1298.3 L1503.1,1306.3 L1497.9,1311.1 L1495.9,1312.2 L1493.9,1312.3 L1489.9,1310.4 L1487.1,1308.3 L1475.9,1296.3 L1470.3,1292.3Z" fill="#f9faf3" fill-rule="evenodd"/>
<path d="M1381.9,1293.4 L1382.1,1292.3 L1448.7,1292.3 L1448.4,1294.3 L1435.8,1338.3 L1430.9,1358.3 L1425.1,1378.3 L1422.5,1390.3 L1419.6,1408.3 L1418.4,1412.3 L1413.7,1420.3 L1395.9,1441.6 L1392.2,1448.3 L1381.2,1478.3 L1370.5,1512.3 L1363.9,1530.0 L1354.3,1558.3 L1347.9,1574.6 L1345.9,1578.1 L1343.9,1580.2 L1335.9,1586.1 L1333.9,1586.9 L1323.9,1587.5 L1319.9,1588.6 L1317.9,1590.0 L1316.1,1594.3 L1311.0,1638.3 L1308.3,1684.3 L1304.2,1714.3 L1303.2,1734.3 L1269.8,1734.3 L1269.8,1616.3 L1272.1,1520.3 L1273.0,1510.3 L1275.5,1500.3 L1277.6,1494.3 L1284.1,1482.3 L1289.9,1463.5 L1293.9,1456.1 L1297.9,1451.1 L1303.9,1446.5 L1311.9,1441.9 L1321.9,1439.5 L1323.9,1437.8 L1325.9,1434.5 L1336.9,1410.3 L1337.7,1404.3 L1338.4,1380.3 L1339.9,1374.3 L1345.9,1363.7 L1359.9,1336.2 L1375.5,1308.3 L1381.7,1294.3Z M1489.9,1292.3 L1500.1,1292.3 L1497.9,1298.3 L1495.9,1300.6 L1493.9,1300.6 L1491.9,1298.7 L1488.8,1294.3 L1488.1,1292.3Z" fill="#f8f8e5" fill-rule="evenodd"/>
<path d="M1385.9,1292.3 L1445.5,1292.3 L1445.2,1294.3 L1421.7,1378.3 L1416.9,1410.3 L1415.1,1414.3 L1412.4,1418.3 L1394.3,1440.3 L1390.8,1446.3 L1379.1,1478.3 L1369.1,1510.3 L1359.9,1536.7 L1347.9,1568.5 L1343.9,1574.1 L1337.9,1578.7 L1333.9,1580.1 L1329.9,1579.3 L1325.9,1577.2 L1323.9,1575.1 L1321.1,1570.3 L1315.9,1557.9 L1313.9,1557.9 L1312.4,1572.3 L1307.9,1643.7 L1306.2,1684.3 L1302.7,1714.3 L1301.8,1734.3 L1271.6,1734.3 L1271.6,1616.3 L1273.7,1520.3 L1274.7,1510.3 L1277.9,1499.5 L1285.4,1486.3 L1291.9,1470.0 L1295.9,1463.7 L1301.9,1457.2 L1309.9,1452.0 L1313.9,1450.2 L1321.9,1448.3 L1323.9,1446.6 L1325.9,1442.8 L1332.0,1428.3 L1340.7,1410.3 L1341.7,1404.3 L1343.2,1380.3 L1344.8,1374.3 L1366.8,1330.3 L1379.9,1306.6 L1383.9,1296.8 L1385.0,1292.3Z" fill="#f8f5d7" fill-rule="evenodd"/>
<path d="M1387.9,1292.3 L1442.6,1292.3 L1442.3,1294.3 L1418.8,1376.3 L1417.4,1384.3 L1415.4,1406.3 L1414.5,1410.3 L1412.5,1414.3 L1405.9,1423.5 L1393.3,1438.3 L1388.6,1446.3 L1377.6,1476.3 L1358.8,1534.3 L1347.9,1562.4 L1343.9,1568.1 L1339.9,1571.6 L1335.9,1573.4 L1333.9,1573.2 L1329.1,1570.3 L1325.9,1566.1 L1323.6,1560.3 L1319.9,1546.3 L1317.9,1542.7 L1315.9,1540.8 L1313.9,1540.1 L1311.9,1541.1 L1310.9,1542.3 L1308.9,1546.3 L1307.9,1552.3 L1307.1,1610.3 L1304.2,1682.3 L1301.2,1714.3 L1300.5,1734.3 L1273.4,1734.3 L1273.4,1616.3 L1275.3,1522.3 L1276.1,1512.3 L1277.9,1505.6 L1279.9,1501.2 L1285.7,1492.3 L1291.9,1480.2 L1299.9,1468.9 L1303.9,1465.3 L1309.9,1462.6 L1321.9,1459.6 L1323.9,1458.1 L1324.8,1456.3 L1331.9,1435.9 L1344.2,1410.3 L1345.3,1404.3 L1347.2,1382.3 L1348.9,1374.3 L1368.2,1334.3 L1379.9,1313.1 L1386.8,1296.3 L1387.8,1292.3Z" fill="#f7f1cc" fill-rule="evenodd"/>
<path d="M1391.9,1292.3 L1440.0,1292.3 L1439.8,1294.3 L1434.1,1312.3 L1420.2,1362.3 L1415.5,1376.3 L1414.5,1382.3 L1412.9,1406.3 L1412.0,1410.3 L1410.0,1414.3 L1405.9,1420.3 L1391.9,1436.9 L1386.5,1446.3 L1375.4,1476.3 L1357.9,1531.5 L1347.9,1556.3 L1343.9,1562.0 L1339.9,1565.9 L1337.9,1566.9 L1335.9,1567.0 L1334.2,1566.3 L1329.9,1562.6 L1327.9,1559.7 L1325.7,1554.3 L1321.9,1540.1 L1319.9,1535.2 L1317.9,1532.4 L1315.9,1531.0 L1313.9,1530.5 L1311.9,1531.1 L1308.7,1534.3 L1306.9,1538.3 L1305.4,1544.3 L1304.9,1550.3 L1305.1,1586.3 L1302.1,1682.3 L1299.7,1714.3 L1299.2,1734.3 L1297.9,1734.3 L1275.1,1734.3 L1275.2,1616.3 L1276.6,1538.3 L1277.2,1518.3 L1277.9,1512.3 L1279.9,1507.0 L1285.9,1498.6 L1289.9,1491.8 L1296.5,1484.3 L1301.9,1476.7 L1305.9,1474.2 L1321.9,1471.0 L1323.9,1469.9 L1325.9,1467.2 L1327.9,1462.0 L1331.2,1446.3 L1333.1,1440.3 L1347.3,1410.3 L1348.4,1404.3 L1351.0,1380.3 L1352.6,1374.3 L1363.9,1351.2 L1369.5,1338.3 L1379.9,1319.1 L1391.3,1292.3Z" fill="#f7ecc0" fill-rule="evenodd"/>
<path d="M1395.9,1292.3 L1437.6,1292.3 L1437.4,1294.3 L1432.6,1308.3 L1428.2,1326.3 L1423.0,1342.3 L1418.0,1360.3 L1412.1,1376.3 L1411.3,1382.3 L1410.4,1406.3 L1409.5,1410.3 L1407.7,1414.3 L1405.0,1418.3 L1391.4,1434.3 L1387.4,1440.3 L1384.3,1446.3 L1374.5,1472.3 L1357.9,1526.0 L1353.1,1536.3 L1347.7,1550.3 L1343.9,1556.0 L1339.9,1560.1 L1337.9,1561.1 L1335.9,1560.7 L1331.9,1557.0 L1328.9,1552.3 L1321.9,1528.8 L1319.9,1524.6 L1317.9,1522.2 L1315.9,1521.1 L1313.9,1520.9 L1309.9,1521.8 L1307.0,1524.3 L1305.0,1528.3 L1303.3,1536.3 L1302.3,1548.3 L1302.7,1588.3 L1300.0,1682.3 L1298.2,1714.3 L1297.8,1734.3 L1276.9,1734.3 L1277.0,1614.3 L1278.0,1546.3 L1279.0,1522.3 L1279.9,1514.3 L1281.9,1510.2 L1289.9,1499.7 L1291.9,1497.9 L1297.9,1495.6 L1303.9,1492.6 L1313.9,1490.7 L1317.9,1489.1 L1323.9,1483.2 L1327.9,1477.2 L1330.6,1468.3 L1333.7,1448.3 L1335.3,1442.3 L1343.8,1422.3 L1348.4,1414.3 L1350.9,1408.3 L1354.3,1382.3 L1355.9,1375.3 L1363.9,1359.1 L1369.9,1344.2 L1379.9,1325.1 L1387.9,1306.2 L1393.4,1296.3 L1394.5,1292.3Z" fill="#f6e4b4" fill-rule="evenodd"/>
<path d="M1397.9,1292.3 L1435.2,1292.3 L1434.9,1294.3 L1431.5,1304.3 L1426.5,1324.3 L1421.1,1340.3 L1416.7,1356.3 L1409.1,1376.3 L1408.4,1382.3 L1408.1,1404.3 L1407.3,1410.3 L1403.9,1416.4 L1389.9,1433.0 L1383.1,1444.3 L1372.8,1470.3 L1363.5,1500.3 L1357.9,1520.5 L1352.8,1530.3 L1345.9,1546.3 L1341.8,1552.3 L1339.9,1554.3 L1337.9,1555.1 L1335.9,1554.3 L1334.1,1552.3 L1330.9,1546.3 L1325.1,1526.3 L1321.1,1514.3 L1321.4,1508.3 L1324.2,1500.3 L1329.9,1487.6 L1332.2,1480.3 L1334.4,1468.3 L1336.7,1448.3 L1338.3,1442.3 L1343.9,1427.0 L1352.7,1412.3 L1354.4,1408.3 L1358.2,1382.3 L1359.6,1376.3 L1363.9,1367.0 L1370.2,1350.3 L1377.9,1335.5 L1387.9,1312.0 L1393.9,1301.4 L1395.9,1296.6 L1396.9,1292.3Z M1289.9,1507.6 L1291.9,1506.6 L1293.9,1506.9 L1297.9,1509.2 L1300.3,1512.3 L1301.0,1516.3 L1300.0,1544.3 L1300.7,1586.3 L1296.4,1734.3 L1278.7,1734.3 L1278.6,1618.3 L1279.8,1544.3 L1280.9,1530.3 L1282.3,1520.3 L1284.7,1514.3 L1289.3,1508.3Z" fill="#f5d2a4" fill-rule="evenodd"/>
<path d="M1399.9,1292.3 L1432.7,1292.3 L1425.9,1318.9 L1419.9,1336.4 L1415.4,1352.3 L1407.9,1370.8 L1406.2,1376.3 L1405.5,1408.3 L1402.9,1414.3 L1389.9,1429.5 L1385.3,1436.3 L1380.8,1444.3 L1374.6,1458.3 L1371.6,1466.3 L1361.9,1498.0 L1357.9,1514.6 L1355.9,1518.9 L1351.2,1526.3 L1341.9,1544.3 L1339.9,1547.3 L1337.9,1548.4 L1335.9,1546.2 L1334.5,1542.3 L1327.2,1518.3 L1326.5,1512.3 L1327.5,1508.3 L1332.8,1494.3 L1335.9,1483.1 L1337.7,1470.3 L1339.3,1450.3 L1340.7,1442.3 L1343.9,1431.9 L1345.9,1427.9 L1357.6,1410.3 L1358.6,1406.3 L1362.4,1380.3 L1369.0,1360.3 L1371.9,1353.2 L1377.9,1341.9 L1385.9,1321.6 L1393.9,1307.2 L1399.0,1292.3Z M1289.9,1519.4 L1291.9,1519.1 L1293.9,1522.3 L1296.1,1530.3 L1297.6,1546.3 L1298.5,1576.3 L1294.8,1734.3 L1280.7,1734.3 L1280.2,1622.3 L1281.7,1550.3 L1282.1,1544.3 L1283.9,1534.1 L1289.4,1520.3Z" fill="#f5bc92" fill-rule="evenodd"/>
<path d="M1401.9,1292.3 L1430.1,1292.3 L1425.1,1314.3 L1418.8,1332.3 L1413.9,1349.7 L1405.9,1368.3 L1403.9,1374.3 L1403.1,1380.3 L1403.0,1408.3 L1401.9,1411.5 L1400.1,1414.3 L1391.9,1423.6 L1386.8,1430.3 L1377.1,1446.3 L1373.3,1454.3 L1369.7,1464.3 L1355.9,1512.2 L1343.9,1530.1 L1339.9,1533.3 L1337.9,1532.4 L1337.0,1530.3 L1333.1,1518.3 L1332.4,1514.3 L1333.0,1510.3 L1337.9,1493.6 L1339.3,1480.3 L1341.2,1450.3 L1342.9,1440.3 L1345.9,1432.5 L1353.9,1421.3 L1358.3,1416.3 L1359.9,1413.6 L1361.2,1408.3 L1365.1,1382.3 L1369.9,1364.4 L1377.9,1348.6 L1383.9,1331.3 L1393.9,1313.3 L1401.5,1292.3Z M1287.9,1546.1 L1289.9,1544.8 L1291.3,1546.3 L1293.2,1552.3 L1295.4,1586.3 L1295.3,1656.3 L1294.4,1692.3 L1292.4,1734.3 L1283.3,1734.3 L1281.5,1690.3 L1281.3,1646.3 L1282.1,1602.3 L1285.8,1552.3 L1287.8,1546.3Z" fill="#f3997b" fill-rule="evenodd"/>
<path d="M1405.9,1292.3 L1427.7,1292.3 L1423.9,1311.3 L1417.9,1326.7 L1411.9,1348.2 L1404.5,1364.3 L1401.2,1374.3 L1400.5,1380.3 L1400.7,1404.3 L1400.3,1408.3 L1397.9,1413.3 L1387.9,1425.2 L1374.6,1444.3 L1371.1,1452.3 L1367.4,1462.3 L1355.9,1502.5 L1352.8,1508.3 L1345.9,1517.4 L1343.9,1519.4 L1341.9,1519.5 L1339.9,1516.8 L1339.2,1512.3 L1340.5,1498.3 L1342.8,1450.3 L1343.9,1442.1 L1345.9,1437.2 L1347.9,1434.3 L1353.9,1426.3 L1359.9,1421.0 L1361.3,1418.3 L1362.4,1414.3 L1368.2,1378.3 L1369.9,1371.2 L1371.9,1366.2 L1379.2,1352.3 L1383.9,1336.6 L1385.9,1332.5 L1393.9,1319.6 L1399.6,1302.3 L1403.2,1296.3 L1404.7,1292.3Z M1287.9,1586.3 L1289.9,1586.9 L1290.5,1588.3 L1291.9,1593.0 L1292.9,1600.3 L1293.8,1616.3 L1294.1,1648.3 L1293.3,1686.3 L1292.4,1702.3 L1290.7,1714.3 L1289.9,1717.5 L1287.9,1721.4 L1285.9,1717.3 L1283.9,1707.3 L1282.5,1680.3 L1282.9,1614.3 L1284.1,1598.3 L1285.7,1590.3 L1286.7,1588.3Z" fill="#f27a66" fill-rule="evenodd"/>
<path d="M1407.9,1294.1 L1408.5,1292.3 L1425.2,1292.3 L1425.0,1294.3 L1422.2,1308.3 L1416.4,1322.3 L1411.2,1342.3 L1403.8,1358.3 L1398.9,1372.3 L1397.8,1380.3 L1397.9,1404.3 L1396.7,1410.3 L1381.9,1429.8 L1379.9,1432.2 L1375.0,1436.3 L1372.3,1440.3 L1364.8,1460.3 L1355.9,1492.2 L1353.1,1498.3 L1349.9,1502.2 L1347.9,1503.0 L1345.9,1503.1 L1345.2,1502.3 L1343.9,1499.7 L1343.3,1494.3 L1342.9,1476.3 L1344.2,1452.3 L1345.3,1444.3 L1347.1,1440.3 L1353.9,1431.4 L1355.9,1429.5 L1359.9,1428.1 L1361.9,1426.2 L1362.7,1424.3 L1364.2,1418.3 L1369.9,1380.5 L1371.4,1374.3 L1379.9,1358.0 L1383.9,1342.9 L1385.8,1338.3 L1393.9,1325.9 L1395.6,1322.3 L1399.9,1307.0 L1407.8,1294.3Z M1287.9,1596.8 L1289.9,1599.6 L1291.6,1610.3 L1292.8,1642.3 L1292.2,1686.3 L1291.4,1696.3 L1289.7,1706.3 L1287.9,1709.5 L1285.9,1705.7 L1284.3,1694.3 L1283.6,1684.3 L1283.3,1650.3 L1283.9,1618.3 L1285.3,1604.3 L1285.9,1601.0 L1287.1,1598.3Z" fill="#f16356" fill-rule="evenodd"/>
<path d="M1413.9,1292.3 L1421.1,1292.3 L1419.9,1299.8 L1418.7,1306.3 L1413.1,1322.3 L1407.6,1342.3 L1401.3,1356.3 L1395.2,1372.3 L1394.4,1378.3 L1394.7,1402.3 L1394.2,1408.3 L1392.4,1412.3 L1381.9,1425.7 L1379.9,1427.6 L1377.9,1428.6 L1373.9,1428.9 L1369.9,1428.2 L1368.7,1426.3 L1367.7,1416.3 L1368.1,1408.3 L1371.9,1384.6 L1373.4,1378.3 L1380.3,1364.3 L1385.9,1346.4 L1387.6,1342.3 L1395.9,1328.3 L1402.0,1310.3 L1405.4,1304.3 L1411.9,1296.3 L1413.5,1292.3Z M1355.9,1434.8 L1357.9,1434.6 L1364.1,1436.3 L1365.5,1438.3 L1365.9,1442.3 L1365.4,1446.3 L1361.2,1460.3 L1355.9,1481.5 L1353.9,1487.1 L1351.9,1490.8 L1349.9,1492.2 L1347.9,1490.8 L1346.8,1488.3 L1345.4,1482.3 L1345.2,1474.3 L1347.0,1448.3 L1349.5,1442.3 L1354.0,1436.3Z M1287.9,1607.1 L1289.9,1612.3 L1290.4,1616.3 L1291.6,1648.3 L1291.0,1684.3 L1290.3,1692.3 L1289.4,1696.3 L1287.9,1699.7 L1285.9,1694.6 L1284.8,1680.3 L1284.4,1650.3 L1285.2,1622.3 L1285.9,1612.5 L1287.4,1608.3Z" fill="#f0554c" fill-rule="evenodd"/>
<path d="M1409.9,1306.0 L1411.9,1305.8 L1412.6,1308.3 L1411.9,1312.3 L1409.9,1315.3 L1408.0,1312.3 L1408.0,1310.3 L1409.6,1306.3Z M1399.9,1329.1 L1401.9,1329.8 L1403.0,1332.3 L1403.7,1336.3 L1403.7,1340.3 L1402.0,1346.3 L1397.9,1354.4 L1395.9,1355.6 L1393.6,1354.3 L1392.2,1350.3 L1391.9,1346.3 L1393.3,1340.3 L1397.9,1331.7 L1399.2,1330.3Z M1385.9,1361.2 L1388.1,1362.3 L1389.5,1366.3 L1391.0,1396.3 L1390.8,1408.3 L1387.8,1414.3 L1381.9,1421.6 L1379.9,1423.1 L1377.9,1423.2 L1375.9,1422.2 L1373.9,1420.2 L1372.0,1416.3 L1371.1,1412.3 L1371.9,1402.5 L1376.1,1382.3 L1378.2,1376.3 L1383.9,1363.5 L1385.1,1362.3Z M1355.9,1440.2 L1357.9,1440.7 L1359.3,1442.3 L1360.2,1444.3 L1360.3,1448.3 L1354.5,1468.3 L1351.9,1480.5 L1349.9,1481.5 L1348.8,1476.3 L1350.8,1450.3 L1352.4,1444.3 L1353.9,1441.9 L1355.8,1440.3Z M1287.9,1619.9 L1289.9,1641.1 L1290.2,1650.3 L1289.9,1672.8 L1289.2,1684.3 L1287.9,1689.6 L1287.0,1686.3 L1285.9,1670.1 L1285.9,1641.7 L1287.8,1620.3Z" fill="#ef4f48" fill-rule="evenodd"/>
<path d="M1383.9,1375.0 L1385.9,1378.3 L1387.6,1400.3 L1387.5,1408.3 L1385.9,1412.3 L1381.9,1417.5 L1379.9,1418.5 L1377.9,1417.8 L1376.6,1416.3 L1375.4,1414.3 L1374.4,1410.3 L1374.8,1404.3 L1377.9,1390.6 L1381.9,1378.3 L1383.1,1376.3Z" fill="#ef4945" fill-rule="evenodd"/>
<path d="M1381.9,1397.1 L1383.7,1402.3 L1384.1,1406.3 L1383.3,1410.3 L1381.9,1412.6 L1379.9,1413.4 L1378.8,1412.3 L1377.9,1410.4 L1377.7,1408.3 L1379.9,1399.1 L1380.8,1398.3Z" fill="#ee4341" fill-rule="evenodd"/>
</g>
<path d="M1535.3,1292.3 L1529.3,1334.3 L1527.5,1340.3 L1524.4,1346.3 L1521.3,1350.3 L1517.1,1354.3 L1505.9,1361.3 L1496.0,1368.3 L1479.9,1382.7 L1473.9,1386.8 L1465.9,1391.4 L1456.7,1400.3 L1449.9,1408.4 L1441.9,1421.0 L1435.9,1427.8 L1429.9,1436.4 L1421.6,1446.3 L1403.9,1480.3 L1397.4,1498.3 L1389.9,1514.5 L1383.6,1532.3 L1379.7,1540.3 L1375.9,1546.4 L1374.4,1550.3 L1372.0,1568.3 L1369.0,1584.3 L1365.8,1598.3 L1359.9,1616.8 L1358.8,1622.3 L1351.9,1684.7 L1341.2,1720.3 L1337.5,1730.3 L1336.6,1734.3 M1252.0,1734.3 L1252.1,1612.3 L1255.0,1508.3 L1260.4,1446.3 L1262.6,1432.3 L1265.9,1417.2 L1267.9,1411.2 L1275.9,1396.0 L1284.0,1376.3 L1286.6,1372.3 L1297.4,1358.3 L1305.9,1345.6 L1328.3,1310.3 L1336.2,1296.3 L1337.6,1292.3 M1527.7,1292.3 L1526.2,1306.3 L1523.8,1318.3 L1521.9,1324.3 L1519.9,1328.6 L1517.4,1332.3 L1511.9,1338.9 L1507.9,1342.3 L1497.4,1348.3 L1485.9,1355.6 L1471.9,1360.9 L1466.7,1364.3 L1464.5,1366.3 L1461.3,1370.3 L1454.9,1380.3 L1446.9,1390.3 L1442.7,1396.3 L1435.9,1408.3 L1430.1,1420.3 L1425.3,1428.3 L1419.0,1436.3 L1411.0,1444.3 L1407.9,1449.2 L1395.5,1478.3 L1379.1,1524.3 L1369.9,1544.3 L1368.7,1548.3 L1364.8,1568.3 L1355.7,1596.3 L1351.3,1606.3 L1347.9,1611.4 L1343.6,1616.3 L1341.4,1620.3 L1337.9,1633.1 L1331.9,1651.8 L1328.5,1682.3 L1327.1,1690.3 L1323.9,1704.9 L1319.9,1718.7 L1317.5,1734.3 M1257.9,1734.3 L1258.0,1614.3 L1260.7,1514.3 L1262.9,1498.3 L1268.0,1478.3 L1271.2,1452.3 L1273.4,1440.3 L1276.2,1430.3 L1277.9,1426.2 L1279.9,1423.0 L1294.5,1410.3 L1297.4,1406.3 L1301.9,1393.9 L1306.1,1378.3 L1308.7,1372.3 L1316.7,1358.3 L1329.9,1337.6 L1345.9,1309.3 L1352.6,1298.3 L1354.5,1294.3 L1355.0,1292.3 M1520.7,1292.3 L1519.9,1302.6 L1519.2,1306.3 L1517.7,1310.3 L1515.9,1313.2 L1509.9,1320.6 L1503.9,1325.0 L1495.9,1329.8 L1485.9,1332.4 L1483.9,1332.4 L1459.9,1323.0 L1457.9,1322.7 L1455.9,1323.3 L1453.9,1325.5 L1447.6,1340.3 L1446.4,1344.3 L1443.0,1366.3 L1441.1,1374.3 L1431.9,1394.3 L1427.2,1410.3 L1424.6,1416.3 L1419.9,1424.3 L1415.4,1430.3 L1404.4,1442.3 L1401.7,1446.3 L1399.9,1450.1 L1387.7,1480.3 L1376.8,1514.3 L1365.1,1544.3 L1359.1,1566.3 L1349.2,1592.3 L1345.9,1598.0 L1329.8,1612.3 L1327.9,1614.7 L1325.9,1619.1 L1318.8,1650.3 L1315.4,1684.3 L1311.7,1708.3 L1309.3,1720.3 L1308.3,1734.3 M1263.2,1734.3 L1263.3,1614.3 L1265.9,1516.3 L1267.0,1508.3 L1268.9,1500.3 L1275.3,1476.3 L1279.9,1446.3 L1281.9,1441.9 L1283.9,1439.3 L1293.9,1429.5 L1298.7,1426.3 L1309.9,1420.3 L1317.9,1417.5 L1319.9,1416.2 L1322.9,1412.3 L1323.7,1410.3 L1324.3,1406.3 L1323.2,1380.3 L1323.9,1375.6 L1325.0,1372.3 L1332.2,1358.3 L1343.9,1340.1 L1352.6,1322.3 L1364.0,1304.3 L1366.7,1298.3 L1368.5,1292.3 M1451.7,1292.3 L1447.3,1306.3 L1437.7,1340.3 L1432.8,1362.3 L1425.6,1386.3 L1421.4,1408.3 L1419.9,1412.8 L1415.7,1420.3 L1397.4,1442.3 L1393.9,1448.3 L1382.1,1480.3 L1371.9,1512.9 L1365.3,1530.3 L1355.3,1560.3 L1347.9,1579.2 L1345.9,1582.7 L1343.9,1584.7 L1335.9,1590.9 L1333.9,1591.9 L1325.9,1594.3 L1323.9,1595.6 L1321.5,1598.3 L1318.6,1604.3 L1317.2,1610.3 L1313.1,1638.3 L1311.4,1656.3 L1309.8,1684.3 L1305.8,1710.3 L1304.9,1718.3 L1304.2,1734.3 M1507.2,1292.3 L1505.9,1296.9 L1501.9,1304.5 L1497.9,1308.9 L1495.9,1310.0 L1493.9,1310.0 L1489.9,1307.7 L1485.9,1303.7 L1479.8,1296.3 L1477.7,1292.3 M1268.4,1734.3 L1268.5,1614.3 L1270.9,1516.3 L1273.5,1502.3 L1277.3,1490.3 L1283.2,1478.3 L1287.9,1460.0 L1290.3,1454.3 L1293.9,1448.3 L1297.9,1444.3 L1308.3,1438.3 L1311.9,1436.6 L1317.9,1435.3 L1321.9,1433.7 L1323.9,1431.8 L1326.0,1428.3 L1332.6,1414.3 L1334.4,1408.3 L1334.9,1380.3 L1336.2,1374.3 L1345.9,1357.6 L1358.8,1332.3 L1372.7,1308.3 L1378.3,1296.3 L1379.4,1292.3 M1443.3,1292.3 L1442.6,1296.3 L1438.2,1310.3 L1419.7,1376.3 L1418.0,1386.3 L1415.9,1406.7 L1415.1,1410.3 L1413.2,1414.3 L1410.4,1418.3 L1402.6,1428.3 L1393.9,1438.3 L1389.2,1446.3 L1376.8,1480.3 L1366.8,1512.3 L1357.1,1540.3 L1347.7,1564.3 L1343.9,1569.6 L1339.9,1573.1 L1335.9,1574.9 L1333.9,1574.9 L1331.9,1574.2 L1327.9,1571.4 L1324.6,1566.3 L1322.5,1560.3 L1319.9,1549.9 L1317.9,1545.5 L1315.9,1543.3 L1313.9,1542.5 L1311.9,1543.7 L1309.9,1547.1 L1309.0,1554.3 L1308.6,1586.3 L1304.6,1684.3 L1301.6,1714.3 L1300.8,1734.3 M1272.9,1734.3 L1273.0,1614.3 L1275.0,1518.3 L1275.3,1514.3 L1276.6,1508.3 L1279.9,1499.7 L1284.8,1492.3 L1291.9,1477.8 L1295.4,1472.3 L1300.1,1466.3 L1303.9,1462.9 L1307.9,1460.9 L1311.9,1459.0 L1321.9,1456.7 L1323.9,1455.1 L1326.1,1450.3 L1331.9,1434.0 L1343.4,1410.3 L1344.3,1406.3 L1346.5,1380.3 L1348.8,1372.3 L1369.9,1329.4 L1380.5,1310.3 L1386.1,1296.3 L1387.1,1292.3 M1437.0,1292.3 L1435.9,1297.4 L1431.9,1308.7 L1427.6,1326.3 L1421.9,1343.7 L1417.4,1360.3 L1411.3,1376.3 L1410.6,1382.3 L1409.8,1406.3 L1409.0,1410.3 L1407.1,1414.3 L1403.9,1418.9 L1390.8,1434.3 L1385.7,1442.3 L1383.8,1446.3 L1373.9,1472.3 L1357.9,1524.7 L1352.4,1536.3 L1347.9,1548.3 L1343.9,1554.4 L1339.9,1558.6 L1337.9,1559.6 L1335.9,1559.1 L1331.9,1555.0 L1329.1,1550.3 L1322.7,1528.3 L1319.9,1521.9 L1317.9,1519.5 L1315.9,1518.5 L1313.9,1518.3 L1309.9,1519.0 L1307.9,1519.9 L1305.7,1522.3 L1303.9,1527.1 L1302.7,1534.3 L1301.8,1544.3 L1302.2,1584.3 L1297.5,1734.3 M1277.4,1734.3 L1277.5,1610.3 L1278.5,1544.3 L1280.2,1516.3 L1281.9,1512.0 L1289.9,1501.7 L1291.9,1500.1 L1301.9,1498.5 L1307.9,1499.3 L1315.9,1497.9 L1317.9,1496.6 L1328.2,1480.3 L1330.7,1472.3 L1334.5,1448.3 L1335.9,1442.8 L1343.5,1424.3 L1351.1,1410.3 L1352.1,1406.3 L1355.6,1380.3 L1356.5,1376.3 L1364.2,1360.3 L1370.6,1344.3 L1378.2,1330.3 L1387.9,1307.6 L1394.1,1296.3 L1395.2,1292.3 M1430.8,1292.3 L1425.1,1316.3 L1419.4,1332.3 L1414.9,1348.3 L1411.9,1356.7 L1405.9,1370.3 L1404.5,1374.3 L1403.7,1382.3 L1404.0,1404.3 L1403.1,1410.3 L1400.8,1414.3 L1392.0,1424.3 L1387.4,1430.3 L1381.1,1440.3 L1377.9,1446.3 L1373.9,1454.8 L1370.4,1464.3 L1361.3,1494.3 L1357.9,1508.6 L1356.6,1512.3 L1355.8,1514.3 L1349.9,1522.7 L1343.9,1532.7 L1339.9,1537.3 L1337.9,1537.3 L1335.9,1532.3 L1331.5,1518.3 L1330.8,1514.3 L1331.4,1510.3 L1336.1,1496.3 L1337.9,1488.3 L1341.0,1448.3 L1343.1,1438.3 L1345.9,1431.4 L1352.2,1422.3 L1357.9,1415.3 L1359.5,1412.3 L1364.9,1380.3 L1369.4,1364.3 L1371.9,1358.1 L1378.1,1346.3 L1383.9,1329.9 L1393.9,1311.8 L1400.8,1292.3 M1282.5,1734.3 L1281.1,1678.3 L1281.0,1644.3 L1281.8,1600.3 L1283.2,1578.3 L1284.3,1550.3 L1285.9,1543.6 L1287.9,1540.0 L1289.9,1538.2 L1291.9,1539.5 L1293.9,1543.6 L1294.4,1546.3 L1295.4,1556.3 L1296.4,1584.3 L1295.3,1670.3 L1293.2,1734.3 M1424.5,1292.3 L1421.9,1306.8 L1415.6,1322.3 L1410.4,1342.3 L1403.0,1358.3 L1398.2,1372.3 L1397.0,1380.3 L1397.1,1404.3 L1395.9,1410.3 L1381.9,1428.8 L1379.9,1431.0 L1373.9,1435.4 L1371.8,1438.3 L1364.5,1458.3 L1355.9,1489.6 L1353.9,1494.4 L1351.9,1497.9 L1349.9,1499.7 L1347.9,1500.0 L1345.9,1498.8 L1344.9,1496.3 L1343.9,1492.0 L1343.4,1484.3 L1343.9,1465.1 L1344.8,1450.3 L1345.8,1444.3 L1348.0,1440.3 L1353.9,1432.6 L1355.9,1430.8 L1359.9,1429.8 L1361.9,1428.5 L1363.1,1426.3 L1364.7,1420.3 L1366.1,1408.3 L1370.6,1380.3 L1371.9,1375.0 L1379.9,1359.8 L1383.9,1345.0 L1385.9,1339.7 L1393.9,1327.5 L1395.9,1323.2 L1400.1,1308.3 L1401.9,1304.7 L1407.8,1296.3 L1409.6,1292.3 M1287.9,1599.4 L1289.9,1602.7 L1291.6,1614.3 L1292.6,1650.3 L1291.8,1688.3 L1289.9,1703.2 L1287.9,1707.1 L1285.9,1702.9 L1284.1,1688.3 L1283.6,1652.3 L1284.5,1614.3 L1285.9,1603.9 L1287.9,1599.4 M1397.9,1339.1 L1399.6,1340.3 L1399.6,1342.3 L1397.9,1345.7 L1396.9,1344.3 L1396.7,1342.3 L1397.9,1339.1 M1383.9,1371.8 L1385.9,1372.8 L1387.1,1378.3 L1388.6,1406.3 L1387.7,1410.3 L1386.7,1412.3 L1381.9,1418.5 L1379.9,1419.7 L1377.9,1419.2 L1375.4,1416.3 L1373.8,1412.3 L1373.5,1408.3 L1374.8,1400.3 L1377.9,1386.9 L1381.4,1376.3 L1383.9,1371.8 M1287.9,1646.9 L1287.9,1661.0 L1287.9,1646.9" fill="none" stroke="#4a4a4a" stroke-width="0.6" stroke-opacity="0.75"/>
</g>
<rect x="1223.9" y="1308.3" width="412.5" height="411.7" fill="none" stroke="#111" stroke-width="1.3"/>
<path d="M1223.9,1720.0 v6.5 M1244.6,1720.0 v3.5 M1256.7,1720.0 v3.5 M1265.3,1720.0 v3.5 M1272.0,1720.0 v3.5 M1277.4,1720.0 v3.5 M1282.0,1720.0 v3.5 M1286.0,1720.0 v3.5 M1289.5,1720.0 v3.5 M1292.7,1720.0 v6.5 M1313.3,1720.0 v3.5 M1325.5,1720.0 v3.5 M1334.0,1720.0 v3.5 M1340.7,1720.0 v3.5 M1346.1,1720.0 v3.5 M1350.8,1720.0 v3.5 M1354.7,1720.0 v3.5 M1358.3,1720.0 v3.5 M1361.4,1720.0 v6.5 M1382.1,1720.0 v3.5 M1394.2,1720.0 v3.5 M1402.8,1720.0 v3.5 M1409.5,1720.0 v3.5 M1414.9,1720.0 v3.5 M1419.5,1720.0 v3.5 M1423.5,1720.0 v3.5 M1427.0,1720.0 v3.5 M1430.2,1720.0 v6.5 M1450.8,1720.0 v3.5 M1463.0,1720.0 v3.5 M1471.5,1720.0 v3.5 M1478.2,1720.0 v3.5 M1483.6,1720.0 v3.5 M1488.3,1720.0 v3.5 M1492.2,1720.0 v3.5 M1495.8,1720.0 v3.5 M1498.9,1720.0 v6.5 M1519.6,1720.0 v3.5 M1531.7,1720.0 v3.5 M1540.3,1720.0 v3.5 M1547.0,1720.0 v3.5 M1552.4,1720.0 v3.5 M1557.0,1720.0 v3.5 M1561.0,1720.0 v3.5 M1564.5,1720.0 v3.5 M1567.7,1720.0 v6.5 M1588.3,1720.0 v3.5 M1600.5,1720.0 v3.5 M1609.0,1720.0 v3.5 M1615.7,1720.0 v3.5 M1621.1,1720.0 v3.5 M1625.8,1720.0 v3.5 M1629.7,1720.0 v3.5 M1633.3,1720.0 v3.5 M1636.4,1720.0 v6.5 M1223.9,1685.6 h-6.5 M1223.9,1616.9 h-6.5 M1223.9,1548.1 h-6.5 M1223.9,1479.4 h-6.5 M1223.9,1410.6 h-6.5 M1223.9,1341.9 h-6.5 M1223.9,1720.0 h-3.5 M1223.9,1651.2 h-3.5 M1223.9,1582.5 h-3.5 M1223.9,1513.8 h-3.5 M1223.9,1445.0 h-3.5 M1223.9,1376.2 h-3.5 M1223.9,1307.5 h-3.5" stroke="#111" stroke-width="1.3" fill="none"/>
<text x="1223.9" y="1750" font-size="20.5" text-anchor="middle">0.01</text>
<text x="1292.7" y="1750" font-size="20.5" text-anchor="middle">0.1</text>
<text x="1361.4" y="1750" font-size="20.5" text-anchor="middle">1</text>
<text x="1430.2" y="1750" font-size="20.5" text-anchor="middle">10</text>
<text x="1498.9" y="1750" font-size="20.5" text-anchor="middle">100</text>
<text x="1567.7" y="1750" font-size="20.5" text-anchor="middle">1000</text>
<text x="1640.4" y="1750" font-size="20.5" text-anchor="middle">10000</text>
<text x="1208" y="1692.9" font-size="20.5" text-anchor="end">30</text>
<text x="1208" y="1624.2" font-size="20.5" text-anchor="end">40</text>
<text x="1208" y="1555.4" font-size="20.5" text-anchor="end">50</text>
<text x="1208" y="1486.7" font-size="20.5" text-anchor="end">60</text>
<text x="1208" y="1417.9" font-size="20.5" text-anchor="end">70</text>
<text x="1208" y="1349.2" font-size="20.5" text-anchor="end">80</text>
<text x="1389" y="1788.5" font-size="23.5">T<tspan font-size="13" dy="5">2</tspan><tspan dy="-5"> (ms)</tspan></text>
<text transform="translate(1169,1517) rotate(-90)" font-size="24" text-anchor="middle">Temperature (<tspan font-size="15" dy="-7">o</tspan><tspan dy="7">C)</tspan></text>
<text x="1160" y="1319" class="lbl">g</text>
<line x1="1223.9" y1="1513.8" x2="1636.4" y2="1513.8" stroke="#111" stroke-width="1.2" stroke-dasharray="6,4"/>
<line x1="1223.9" y1="1651.2" x2="1636.4" y2="1651.2" stroke="#111" stroke-width="1.2" stroke-dasharray="6,4"/>
<path d="M1481.1,1501.3 V1405.8 M1473.8,1417.3 L1481.1,1405.8 L1488.4,1417.3" fill="none" stroke="#111" stroke-width="1.5"/>
<path d="M1481.1,1633.8 V1538.2 M1473.8,1549.7 L1481.1,1538.2 L1488.4,1549.7" fill="none" stroke="#111" stroke-width="1.5"/>
<path d="M1481.1,1706.6 V1664.0 M1473.8,1675.5 L1481.1,1664.0 L1488.4,1675.5" fill="none" stroke="#111" stroke-width="1.5"/>
<text x="1499.0" y="1447.0" font-size="20">Nanosprings</text>
<text x="1499.0" y="1472.0" font-size="20">unfolding</text>
<text x="1500.5" y="1578.5" font-size="20">Crystallites</text>
<text x="1500.5" y="1602.8" font-size="20">untwisting</text>
<text x="1506.3" y="1680.8" font-size="20">Defects</text>
<text x="1506.3" y="1705.3" font-size="20">mending</text>
<rect x="1676" y="1392.3" width="17.4" height="258.3" fill="#fff"/>
<rect x="1676" y="1396" width="17.4" height="250.5" fill="url(#gcb)"/>
<rect x="1676" y="1392.3" width="17.4" height="258.3" fill="none" stroke="#111" stroke-width="1"/>
<path d="M1684.5,1392.3 v-7.5 M1684.5,1650.6 v7.5" stroke="#111" stroke-width="1.1"/>
<text x="1669.5" y="1372.5" font-size="20.5">1.0</text>
<text x="1669.5" y="1683.5" font-size="20.5">0.0</text>
</g>
</svg>
</body></html>
